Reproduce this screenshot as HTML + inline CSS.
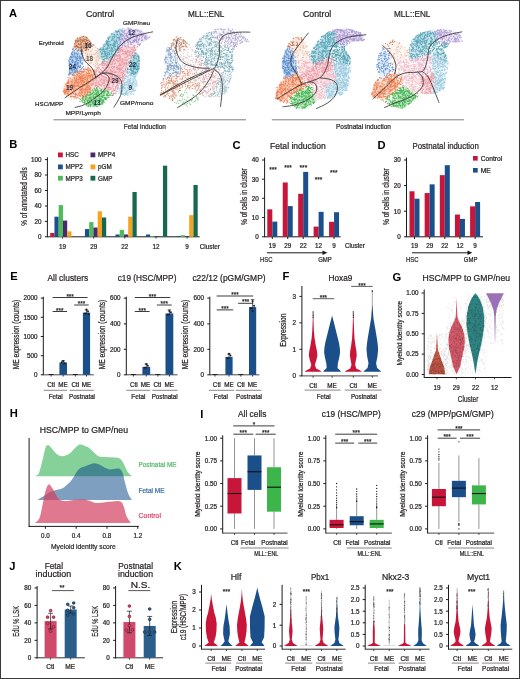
<!DOCTYPE html>
<html><head><meta charset="utf-8"><style>
html,body{margin:0;padding:0;background:#fff;}
svg{display:block;font-family:"Liberation Sans", sans-serif;will-change:transform;}
text{stroke-width:0.22px;paint-order:stroke;}
</style></head><body>
<svg width="520" height="679" viewBox="0 0 520 679">
<rect x="0" y="0" width="520" height="679" fill="#fff"/>
<text x="9" y="17" font-size="11.2" text-anchor="start" fill="#000" font-weight="bold">A</text>
<text x="9.3" y="147.6" font-size="11.2" text-anchor="start" fill="#000" font-weight="bold">B</text>
<text x="232.5" y="148.8" font-size="11.2" text-anchor="start" fill="#000" font-weight="bold">C</text>
<text x="377.5" y="148.8" font-size="11.2" text-anchor="start" fill="#000" font-weight="bold">D</text>
<text x="10.3" y="279.6" font-size="11.2" text-anchor="start" fill="#000" font-weight="bold">E</text>
<text x="282.4" y="279.6" font-size="11.2" text-anchor="start" fill="#000" font-weight="bold">F</text>
<text x="392.5" y="280.5" font-size="11.2" text-anchor="start" fill="#000" font-weight="bold">G</text>
<text x="9.7" y="417.4" font-size="11.2" text-anchor="start" fill="#000" font-weight="bold">H</text>
<text x="200.3" y="417.6" font-size="11.2" text-anchor="start" fill="#000" font-weight="bold">I</text>
<text x="9.3" y="569.6" font-size="11.2" text-anchor="start" fill="#000" font-weight="bold">J</text>
<text x="173.7" y="570" font-size="11.2" text-anchor="start" fill="#000" font-weight="bold">K</text>
<text x="86" y="17.3" font-size="9.6" text-anchor="start" fill="#231f20" stroke="#231f20" textLength="28.3" lengthAdjust="spacingAndGlyphs">Control</text>
<text x="188" y="17.3" font-size="9.6" text-anchor="start" fill="#231f20" stroke="#231f20" textLength="36.4" lengthAdjust="spacingAndGlyphs">MLL::ENL</text>
<text x="303" y="17.3" font-size="9.6" text-anchor="start" fill="#231f20" stroke="#231f20" textLength="28.3" lengthAdjust="spacingAndGlyphs">Control</text>
<text x="394" y="17.3" font-size="9.6" text-anchor="start" fill="#231f20" stroke="#231f20" textLength="36.4" lengthAdjust="spacingAndGlyphs">MLL::ENL</text>
<defs><filter id="bl" x="-50%" y="-50%" width="200%" height="200%"><feGaussianBlur stdDeviation="2.2"/></filter></defs>
<clipPath id="cp1"><path d="M62.7 93.2 L63.7 85.5 L67.5 79.7 L69.4 71.0 L68.5 60.5 L71.3 52.8 L74.2 45.0 L75.2 39.3 L81.9 35.5 L85.8 36.4 L92.5 43.2 L99.2 48.9 L105.0 43.2 L108.8 35.5 L116.5 29.7 L128.0 27.8 L139.6 29.7 L145.4 33.5 L151.0 37.4 L145.4 40.3 L135.8 48.9 L139.6 56.6 L139.6 68.2 L135.8 77.8 L137.7 85.5 L133.8 95.0 L124.2 96.0 L116.5 93.2 L106.9 98.9 L101.2 106.6 L89.6 107.6 L81.9 102.8 L74.2 98.0 L65.6 96.0Z"/></clipPath>
<g clip-path="url(#cp1)" opacity="0.38">
<circle cx="83.8" cy="43.2" r="8" fill="#bd6638" opacity="1.00" filter="url(#bl)"/>
<circle cx="79" cy="41.2" r="8" fill="#bd6638" opacity="1.00" filter="url(#bl)"/>
<circle cx="91.5" cy="58.5" r="8" fill="#e9b49a" opacity="0.35" filter="url(#bl)"/>
<circle cx="95.4" cy="54.7" r="8" fill="#e9b49a" opacity="0.35" filter="url(#bl)"/>
<circle cx="73.3" cy="66.2" r="8" fill="#5b8fd0" opacity="1.00" filter="url(#bl)"/>
<circle cx="74.2" cy="58" r="8" fill="#5b8fd0" opacity="1.00" filter="url(#bl)"/>
<circle cx="110.8" cy="45" r="8" fill="#52a5b9" opacity="1.00" filter="url(#bl)"/>
<circle cx="106" cy="53" r="8" fill="#52a5b9" opacity="1.00" filter="url(#bl)"/>
<circle cx="116.5" cy="37.4" r="8" fill="#52a5b9" opacity="1.00" filter="url(#bl)"/>
<circle cx="130" cy="33.5" r="8" fill="#a993d2" opacity="0.75" filter="url(#bl)"/>
<circle cx="141.5" cy="35.5" r="8" fill="#a993d2" opacity="0.75" filter="url(#bl)"/>
<circle cx="124.2" cy="40" r="8" fill="#a993d2" opacity="0.75" filter="url(#bl)"/>
<circle cx="108.8" cy="68" r="8" fill="#ec97a2" opacity="1.00" filter="url(#bl)"/>
<circle cx="112.7" cy="79.7" r="8" fill="#ec97a2" opacity="1.00" filter="url(#bl)"/>
<circle cx="120" cy="62" r="8" fill="#ec97a2" opacity="1.00" filter="url(#bl)"/>
<circle cx="99.2" cy="79.7" r="8" fill="#ec97a2" opacity="1.00" filter="url(#bl)"/>
<circle cx="118" cy="72" r="8" fill="#ec97a2" opacity="1.00" filter="url(#bl)"/>
<circle cx="127" cy="53" r="8" fill="#ec97a2" opacity="1.00" filter="url(#bl)"/>
<circle cx="137" cy="62" r="8" fill="#4a9fb0" opacity="1.00" filter="url(#bl)"/>
<circle cx="138" cy="71" r="8" fill="#4a9fb0" opacity="1.00" filter="url(#bl)"/>
<circle cx="129" cy="89" r="8" fill="#96c8de" opacity="0.80" filter="url(#bl)"/>
<circle cx="133" cy="80" r="8" fill="#96c8de" opacity="0.80" filter="url(#bl)"/>
<circle cx="70.4" cy="87.4" r="8" fill="#ef7a4a" opacity="1.00" filter="url(#bl)"/>
<circle cx="80" cy="79.7" r="8" fill="#ef7a4a" opacity="1.00" filter="url(#bl)"/>
<circle cx="87.7" cy="77.8" r="8" fill="#ef7a4a" opacity="1.00" filter="url(#bl)"/>
<circle cx="83.8" cy="89.3" r="8" fill="#ef7a4a" opacity="1.00" filter="url(#bl)"/>
<circle cx="91.5" cy="100.8" r="8" fill="#3db54d" opacity="1.00" filter="url(#bl)"/>
<circle cx="97.3" cy="97" r="8" fill="#3db54d" opacity="1.00" filter="url(#bl)"/>
</g>
<path d="M120.2 33.6h0M107.1 43.8h0M102.4 49.2h0M104.7 46.5h0M106.5 42.7h0M117.4 45.2h0M112.4 55.8h0M114.8 56.8h0M111.7 48.9h0M117.5 47.7h0M119.9 43.5h0M101.8 57.1h0M119.3 45.6h0M122.7 28.8h0M112.1 39.3h0M116.6 40.4h0M107.5 54.6h0M118.9 40.2h0M108.4 38.7h0M104.7 52.7h0M109.3 51.8h0M111.9 54.0h0M112.8 33.9h0M106.8 56.2h0M113.9 55.5h0M109.2 41.4h0M107.8 48.5h0M111.4 34.3h0M108.9 54.6h0M119.5 38.4h0M102.9 51.1h0M117.8 48.4h0M112.4 57.2h0M111.3 44.7h0M113.3 36.9h0M103.2 59.6h0M119.4 38.8h0M117.2 32.6h0M115.6 49.5h0M109.3 53.0h0M113.6 46.8h0M104.6 51.9h0M114.9 50.5h0M112.6 37.2h0M120.1 29.4h0M117.9 50.6h0M109.3 60.1h0M108.1 58.2h0M118.6 52.0h0M107.7 43.6h0M107.7 37.8h0M104.2 44.1h0M105.9 56.6h0M110.5 56.5h0M102.3 61.7h0M106.7 57.8h0M118.7 31.2h0M106.8 58.6h0M100.4 49.6h0M115.5 42.7h0M118.6 46.6h0M121.3 34.6h0M113.2 36.7h0M102.8 53.2h0M102.0 54.4h0M111.9 54.7h0M107.7 42.7h0M115.9 50.8h0M119.8 39.7h0M118.0 34.8h0M115.3 52.9h0M117.3 48.7h0M114.3 46.1h0M116.0 36.2h0M117.0 37.3h0M120.0 36.8h0M108.6 52.5h0M108.1 56.0h0M112.5 45.0h0M114.6 37.7h0M105.9 44.3h0M106.5 58.1h0M105.5 45.0h0M115.2 49.6h0M111.7 53.0h0M119.6 38.0h0M116.1 31.9h0M100.9 52.4h0M117.2 43.3h0M113.8 47.5h0M103.8 44.9h0M110.2 57.9h0M101.6 54.2h0M109.9 42.1h0M103.6 48.3h0M102.6 62.9h0M115.6 46.3h0M106.3 53.2h0M106.3 48.4h0M100.3 51.5h0M100.9 48.6h0M107.4 49.9h0M118.8 50.3h0M104.1 51.0h0M113.4 56.0h0M103.3 49.4h0M114.0 36.6h0M108.0 45.4h0M115.8 30.7h0M121.6 35.0h0M117.9 50.1h0M106.3 61.6h0M111.3 53.2h0M119.0 44.9h0M116.6 40.6h0M105.7 53.7h0M115.2 54.8h0M121.6 33.9h0M114.2 45.6h0M118.9 37.1h0M115.1 42.8h0M109.7 54.1h0M108.9 37.0h0M108.2 41.3h0M112.2 54.3h0M101.9 50.0h0M114.2 43.1h0M103.8 46.2h0M118.1 31.7h0M118.9 37.0h0M111.9 47.6h0M117.5 34.4h0M107.0 42.7h0M102.3 53.3h0M108.2 41.1h0M104.9 52.9h0M115.5 52.3h0M121.1 31.0h0M107.6 52.0h0M103.0 49.7h0M101.2 49.6h0M108.5 39.2h0M103.4 49.4h0M109.9 37.1h0M106.1 42.1h0M113.4 43.9h0M106.6 56.0h0M115.5 52.5h0M114.7 46.5h0M111.4 33.6h0M112.9 50.8h0M120.4 35.6h0M114.1 41.9h0M114.1 45.5h0M115.6 51.4h0M107.6 41.4h0M113.1 39.8h0M122.2 34.8h0M115.3 41.8h0M112.6 48.7h0M109.1 48.3h0M110.3 45.2h0M106.0 41.4h0M101.5 56.2h0M106.0 53.9h0M106.0 41.5h0M104.5 54.0h0M117.8 52.4h0M116.4 41.1h0M118.5 37.9h0M100.5 48.5h0M106.0 51.3h0M114.9 42.9h0M113.7 54.4h0M112.2 40.1h0M99.1 49.1h0M108.7 46.3h0M116.0 40.0h0M114.9 48.6h0M110.0 55.0h0M112.3 51.2h0M109.0 44.7h0M116.0 35.5h0M103.2 61.0h0M107.7 56.3h0M107.1 42.1h0M104.2 60.1h0M117.2 41.9h0M113.3 50.3h0M116.6 49.8h0M108.9 44.9h0M111.3 48.0h0M113.7 45.2h0M114.6 53.9h0M99.4 49.7h0M110.5 44.4h0M106.4 55.7h0M104.7 50.8h0M104.9 55.7h0M116.6 31.5h0M119.6 32.1h0M103.0 51.3h0M102.3 56.7h0M114.9 55.6h0M117.6 31.7h0M104.2 59.2h0M118.5 30.2h0M119.8 37.6h0M106.6 42.7h0M105.5 49.2h0M110.6 45.1h0M103.6 56.2h0M114.6 34.5h0M120.5 34.9h0M117.0 34.5h0M111.6 56.8h0M109.5 57.4h0M106.2 58.6h0M119.6 34.0h0M117.1 38.7h0M100.9 49.7h0M113.8 46.6h0M111.0 51.4h0M114.0 44.2h0M117.6 42.0h0M119.4 31.8h0M116.9 37.5h0M103.9 49.4h0M105.1 54.1h0M114.9 41.4h0M108.5 39.4h0M117.2 34.0h0M106.4 43.4h0M106.7 48.0h0M112.4 57.9h0M113.0 52.0h0M105.8 51.8h0M107.6 47.6h0M114.6 46.2h0M120.3 41.9h0M114.1 44.6h0M109.2 50.5h0M112.6 49.3h0M115.0 45.4h0M111.9 56.5h0M107.2 58.2h0M106.9 55.4h0M107.3 46.0h0M109.0 38.1h0M112.5 45.4h0M108.8 52.4h0M103.0 47.6h0M109.1 54.0h0M111.0 49.4h0M109.0 45.1h0M107.0 58.0h0M117.4 46.8h0M110.1 50.5h0M114.4 35.7h0M104.3 51.8h0M114.7 48.3h0M113.1 45.2h0M115.2 43.9h0M101.3 53.0h0M105.4 54.8h0M106.6 49.2h0M112.9 38.4h0M104.2 56.7h0M116.8 43.1h0M109.2 47.2h0M107.6 45.3h0M115.7 52.8h0M100.8 48.2h0M106.8 40.4h0M117.2 48.0h0M117.3 46.9h0M113.1 34.5h0M121.9 30.5h0M114.3 40.0h0M111.8 50.7h0M111.2 37.0h0M111.0 47.0h0M104.7 61.3h0M107.3 50.0h0M105.1 58.5h0M114.5 41.3h0M106.8 55.5h0M111.8 56.9h0M111.4 40.3h0M111.1 59.3h0M102.8 59.1h0M107.3 44.6h0M115.3 43.5h0M117.7 37.5h0M108.4 43.6h0M104.1 50.9h0M103.7 57.0h0M111.5 56.8h0M118.9 48.2h0M107.6 53.5h0" stroke="#52a5b9" stroke-width="1.2" stroke-linecap="round" opacity="0.95"/>
<path d="M80.9 82.1h0M66.2 90.0h0M80.8 86.8h0M85.8 85.0h0M76.2 98.4h0M75.9 77.0h0M66.2 85.5h0M84.8 93.0h0M73.6 93.7h0M73.8 85.0h0M90.2 78.7h0M70.1 85.0h0M79.0 93.7h0M72.4 91.7h0M67.1 83.2h0M90.4 70.3h0M72.5 92.6h0M80.2 84.0h0M89.4 88.6h0M84.6 91.3h0M78.0 83.3h0M76.3 83.1h0M68.8 87.7h0M68.8 91.4h0M76.9 85.7h0M83.3 74.6h0M82.8 77.7h0M92.3 76.9h0M85.1 94.1h0M66.1 89.1h0M71.5 84.4h0M85.8 77.3h0M87.6 89.4h0M89.9 68.9h0M83.6 90.1h0M78.0 86.2h0M79.7 77.8h0M68.0 86.2h0M93.3 90.9h0M95.1 74.2h0M88.7 73.8h0M84.6 91.8h0M65.6 91.5h0M74.3 79.9h0M85.4 88.8h0M70.6 89.6h0M73.0 93.4h0M79.0 71.0h0M82.7 87.5h0M73.6 74.9h0M92.6 79.7h0M87.2 84.2h0M70.2 87.0h0M72.4 92.4h0M75.8 85.4h0M87.5 69.7h0M65.0 92.2h0M85.4 89.5h0M84.0 96.4h0M79.8 71.9h0M72.3 82.8h0M79.1 76.5h0M92.8 77.5h0M83.7 81.0h0M80.2 99.0h0M88.8 87.7h0M75.6 89.2h0M64.2 92.5h0M85.5 88.9h0M70.3 96.8h0M90.7 76.4h0M82.8 72.2h0M89.2 85.2h0M80.6 96.3h0M93.3 70.7h0M82.5 88.9h0M86.0 84.8h0M87.1 86.7h0M88.9 75.5h0M88.4 83.3h0M81.8 89.6h0M88.0 85.6h0M77.4 97.3h0M71.9 88.9h0M86.0 83.8h0M78.5 77.0h0M78.4 86.1h0M89.4 73.5h0M74.2 82.6h0M68.9 87.8h0M88.9 82.3h0M74.7 83.5h0M93.9 71.4h0M64.1 91.7h0M79.6 92.9h0M76.2 81.4h0M90.8 88.6h0M90.8 70.1h0M75.1 82.2h0M81.1 79.7h0M89.2 81.9h0M87.2 88.1h0M76.1 80.4h0M76.1 93.9h0M82.1 93.9h0M94.4 69.8h0M74.9 93.0h0M77.6 83.1h0M86.7 78.7h0M79.0 98.2h0M79.3 73.6h0M83.5 71.8h0M78.8 79.4h0M66.7 87.8h0M84.6 85.4h0M89.8 73.2h0M81.3 83.7h0M74.2 87.5h0M87.4 90.8h0M83.5 78.6h0M86.3 69.0h0M74.9 75.4h0M65.6 93.8h0M83.4 84.8h0M88.2 81.2h0M84.0 81.8h0M91.8 72.1h0M86.0 95.6h0M78.0 72.7h0M80.8 92.8h0M68.1 95.1h0M70.3 96.9h0M90.8 75.6h0M84.6 75.6h0M77.5 74.7h0M79.9 71.0h0M74.5 78.3h0M71.0 94.3h0M70.1 93.5h0M92.6 80.3h0M76.1 79.5h0M83.9 77.0h0M80.7 76.7h0M82.2 80.9h0M92.4 74.8h0M79.9 77.6h0M77.4 80.1h0M79.2 91.8h0M88.7 89.1h0M68.5 91.7h0M85.7 69.3h0M73.5 96.7h0M86.5 83.1h0M73.8 73.6h0M80.4 80.3h0M86.4 69.4h0M78.0 95.9h0M67.7 82.7h0M72.2 86.0h0M72.1 96.0h0M84.7 78.9h0M75.0 83.8h0M64.9 89.8h0M79.9 87.4h0M86.6 86.0h0M73.6 86.7h0M67.9 92.6h0M90.5 93.9h0M88.4 71.1h0M93.5 70.9h0M74.5 75.2h0M89.8 75.5h0M73.9 84.5h0M82.3 90.0h0M82.8 81.9h0M67.6 93.3h0M88.3 85.5h0M76.2 97.9h0M76.5 78.0h0M71.4 83.0h0M88.3 70.5h0M80.5 74.0h0M76.8 82.4h0M83.3 80.1h0M71.3 81.6h0M83.1 88.9h0M77.0 79.8h0M89.9 91.7h0M82.9 80.7h0M81.9 93.3h0M67.0 91.7h0M74.6 77.4h0M89.2 70.2h0M85.4 88.1h0M88.0 67.2h0M80.7 78.7h0M82.9 75.1h0M92.1 79.0h0M81.8 75.8h0M75.8 85.9h0M80.1 78.4h0M90.9 90.7h0M87.9 78.1h0M92.8 76.3h0M89.2 73.0h0M82.2 78.3h0M68.0 77.7h0M90.6 81.2h0M83.3 85.7h0M82.1 84.3h0M76.9 76.1h0M87.9 91.4h0M84.6 75.7h0M76.3 83.1h0M81.4 91.2h0M87.2 87.7h0M67.2 90.4h0M67.3 85.7h0M80.0 76.5h0M87.0 73.3h0M87.0 76.4h0M87.9 73.5h0M72.0 79.9h0M86.9 83.4h0M81.2 74.3h0M93.5 71.5h0M80.0 79.2h0M86.8 85.8h0M88.5 70.3h0M83.3 72.6h0M82.5 71.7h0M83.5 81.8h0M76.6 74.2h0M74.4 75.1h0M64.7 91.7h0M68.3 86.4h0M89.4 88.3h0M88.9 89.7h0M81.5 86.3h0M86.6 72.2h0M89.4 76.5h0M82.9 84.4h0M67.0 90.8h0M92.8 77.9h0M80.7 93.0h0M88.3 68.0h0M73.9 87.3h0M80.0 95.4h0M91.3 74.8h0M69.9 89.4h0M75.5 94.9h0M68.5 83.3h0M75.2 80.1h0M78.1 85.0h0M84.9 75.2h0M70.2 93.6h0M82.6 76.1h0M78.6 84.8h0M76.7 86.2h0M84.0 69.0h0M82.8 77.8h0M81.3 94.9h0M75.9 81.4h0M87.6 95.2h0M91.9 85.3h0M66.5 96.1h0M72.7 79.8h0M68.2 80.5h0M87.5 93.7h0M90.8 70.9h0M84.0 71.4h0M79.4 83.1h0M86.3 89.2h0M83.3 97.2h0M77.2 79.3h0M68.7 81.7h0M82.5 95.6h0M65.8 83.9h0M86.3 80.5h0M83.1 95.3h0M87.2 79.3h0M79.4 82.8h0M89.4 75.9h0M87.0 75.0h0M92.1 75.5h0M74.2 90.6h0M87.7 76.9h0M80.8 73.9h0M71.9 96.5h0M71.6 96.7h0M70.0 77.8h0M72.6 82.6h0M86.5 74.8h0M83.7 71.6h0M93.7 73.7h0M81.3 76.7h0M68.7 79.6h0M82.0 86.0h0M77.6 83.2h0M83.7 82.7h0M85.1 77.6h0M80.5 89.9h0M77.3 94.8h0M83.9 74.8h0M79.3 95.7h0M81.8 92.4h0M87.6 84.1h0M88.1 76.8h0M74.0 89.2h0M91.9 83.9h0M77.9 86.6h0M73.3 96.9h0M75.0 94.6h0M76.4 78.5h0M89.9 77.6h0M70.3 78.7h0M76.0 88.5h0M74.4 96.7h0M73.8 90.1h0M68.9 75.4h0M82.8 79.3h0M78.1 73.3h0M86.8 90.6h0M88.1 68.7h0M81.3 80.4h0M83.9 85.0h0M86.3 69.0h0M80.8 77.9h0M91.0 84.6h0M82.8 80.1h0M68.6 90.3h0M84.9 89.7h0M87.4 79.2h0M72.0 84.7h0M65.1 90.6h0M91.0 74.0h0M76.0 76.9h0M89.1 92.3h0M82.4 99.8h0M91.0 70.2h0M84.4 82.5h0M82.9 81.0h0M88.6 72.0h0M79.6 89.1h0M79.3 73.2h0M75.2 91.3h0M88.0 95.6h0M67.4 95.0h0M68.4 87.8h0M82.0 91.9h0M64.6 93.4h0M90.6 87.4h0M86.4 96.2h0M67.8 95.1h0M74.9 97.8h0M85.8 93.0h0M81.2 86.0h0M75.9 81.9h0M81.0 82.6h0M87.9 86.9h0M85.1 89.0h0M64.3 90.4h0M71.2 92.9h0M78.3 78.4h0M75.7 95.7h0M80.5 71.3h0M88.8 74.1h0M86.8 81.3h0M72.0 81.4h0M79.7 92.6h0M67.9 82.0h0M85.4 79.6h0M74.0 96.9h0M74.5 83.8h0M79.1 86.4h0M88.3 91.9h0M82.2 77.0h0M74.8 85.7h0M83.0 84.0h0M83.0 97.2h0M79.0 79.7h0M81.7 73.5h0M77.5 89.5h0M68.9 82.9h0M81.2 87.3h0M70.4 96.0h0M90.5 75.8h0M80.6 81.1h0M70.4 81.0h0M66.1 92.5h0M87.0 69.7h0M68.2 85.8h0M68.3 86.6h0M75.6 96.4h0M94.9 71.2h0M73.5 85.7h0M78.0 83.8h0M77.7 82.0h0M89.4 86.5h0M84.9 79.8h0M70.9 96.9h0M76.8 94.7h0M73.8 81.0h0M73.8 77.8h0M86.6 87.5h0M94.4 74.4h0M86.7 73.2h0M82.9 86.3h0M68.2 93.6h0M79.9 75.5h0M78.6 81.2h0M83.2 72.5h0M83.9 85.4h0M80.5 86.2h0M93.2 77.7h0M78.0 89.4h0M70.0 86.5h0M64.8 94.2h0M80.3 90.5h0M64.1 88.8h0M81.1 79.9h0M82.7 75.5h0M68.8 94.4h0M90.1 89.6h0M88.2 86.9h0M85.8 92.3h0M81.4 72.1h0M72.5 84.5h0M89.7 83.0h0M77.2 75.7h0M87.8 80.1h0M79.2 77.0h0M84.8 81.8h0M71.4 90.4h0M73.6 88.6h0M79.5 75.7h0M67.4 83.5h0M66.1 91.7h0M71.5 96.6h0M73.3 85.5h0M84.7 85.7h0M82.7 97.4h0M77.1 72.6h0M87.9 81.8h0M91.5 79.4h0M84.8 77.4h0M83.0 71.2h0M69.1 90.9h0M81.9 78.3h0M79.8 87.1h0M81.4 82.0h0M88.3 75.3h0M77.9 74.3h0M87.4 92.6h0M94.9 76.8h0M86.6 82.8h0M68.7 82.2h0M65.6 91.3h0M83.6 69.4h0M85.4 91.0h0M78.2 93.7h0M81.3 80.4h0M92.1 77.5h0M84.0 84.8h0M69.6 87.2h0M92.6 77.9h0M87.5 69.8h0M73.1 85.4h0M67.1 93.7h0M68.4 95.0h0M84.1 98.0h0M83.4 86.1h0M82.9 92.3h0M63.4 91.2h0M68.2 81.2h0M80.7 80.3h0M81.6 88.6h0M69.6 87.5h0M67.6 86.8h0M88.9 90.0h0M86.8 75.2h0M83.0 98.6h0M82.1 78.4h0M90.7 80.0h0M81.6 68.7h0M78.8 82.1h0M72.2 74.5h0M80.8 89.0h0M84.6 71.2h0M68.7 86.9h0M69.8 85.8h0M81.8 90.4h0M84.9 89.0h0M84.4 94.8h0M75.4 93.3h0M74.5 86.7h0M73.7 86.2h0" stroke="#ef7a4a" stroke-width="1.2" stroke-linecap="round" opacity="0.95"/>
<path d="M104.6 80.8h0M120.1 69.8h0M126.7 72.2h0M108.8 82.2h0M129.2 47.5h0M100.3 80.4h0M103.8 87.0h0M123.1 59.1h0M93.9 78.8h0M126.2 47.1h0M100.0 74.6h0M110.9 94.8h0M101.5 86.5h0M108.4 69.1h0M113.4 60.6h0M105.1 79.5h0M118.6 78.4h0M126.6 54.1h0M131.1 56.7h0M98.7 72.2h0M108.8 65.8h0M102.4 66.0h0M106.1 68.6h0M113.7 60.0h0M107.3 61.6h0M105.5 78.8h0M114.9 80.2h0M120.4 68.9h0M124.9 62.7h0M119.2 83.0h0M94.7 85.0h0M116.5 81.5h0M120.5 50.0h0M104.1 85.2h0M128.5 46.3h0M107.2 61.2h0M122.4 78.5h0M122.4 67.5h0M112.1 64.6h0M132.5 52.2h0M103.3 71.9h0M134.3 46.1h0M115.2 92.8h0M115.3 89.7h0M117.7 78.7h0M119.5 82.2h0M115.9 90.2h0M109.6 89.3h0M110.1 73.7h0M122.1 78.1h0M114.4 90.5h0M104.2 70.3h0M103.3 65.3h0M129.0 61.6h0M121.4 69.4h0M119.8 58.8h0M118.2 81.2h0M125.2 51.1h0M95.7 78.8h0M109.5 81.0h0M104.5 82.2h0M123.7 77.4h0M108.2 87.2h0M107.4 87.9h0M109.2 72.8h0M108.5 89.6h0M128.3 63.8h0M127.2 60.7h0M106.4 65.7h0M110.1 74.6h0M121.4 82.7h0M119.5 55.5h0M124.9 57.0h0M131.7 57.4h0M115.6 88.0h0M122.0 62.5h0M119.7 78.8h0M106.2 66.9h0M131.1 48.1h0M115.1 77.7h0M108.7 89.4h0M111.3 80.1h0M104.1 77.2h0M107.2 87.3h0M124.1 64.8h0M122.3 74.4h0M96.7 81.0h0M102.9 71.6h0M134.5 48.2h0M121.3 59.7h0M105.4 63.7h0M116.1 72.2h0M118.4 48.7h0M114.4 75.1h0M117.2 69.4h0M120.4 55.8h0M98.0 68.8h0M120.1 69.2h0M124.1 54.5h0M106.0 84.6h0M127.6 56.8h0M111.5 81.1h0M123.8 63.2h0M117.5 61.8h0M122.3 53.7h0M101.9 76.0h0M128.0 65.5h0M118.4 85.6h0M114.4 89.9h0M115.8 59.6h0M123.2 76.4h0M110.5 87.8h0M105.9 73.4h0M128.5 62.5h0M118.5 56.6h0M111.3 79.3h0M130.1 54.0h0M101.8 82.4h0M93.5 81.8h0M119.2 68.2h0M111.9 73.6h0M110.7 64.2h0M105.4 71.2h0M120.0 60.7h0M112.0 66.0h0M119.2 89.0h0M112.0 62.5h0M125.8 70.3h0M119.4 70.3h0M135.8 49.2h0M103.0 76.8h0M108.6 77.2h0M124.4 54.5h0M111.8 64.6h0M103.0 82.6h0M103.3 83.0h0M118.1 87.2h0M113.5 93.9h0M114.9 57.1h0M116.6 54.9h0M119.0 73.7h0M101.0 69.9h0M92.4 84.1h0M98.8 82.0h0M112.4 61.0h0M114.2 72.6h0M115.2 93.0h0M116.6 55.3h0M110.7 70.9h0M127.8 51.0h0M110.6 76.8h0M120.2 75.9h0M115.8 63.5h0M103.8 77.9h0M122.4 64.3h0M99.1 77.0h0M104.6 72.3h0M97.4 67.9h0M110.6 73.2h0M93.3 81.1h0M121.1 63.4h0M125.8 68.9h0M115.8 72.5h0M102.8 80.6h0M111.2 74.7h0M126.0 64.7h0M109.8 67.5h0M94.2 80.1h0M99.4 83.9h0M101.4 63.8h0M109.3 80.7h0M111.0 88.5h0M98.1 65.3h0M107.3 62.7h0M101.6 85.1h0M120.5 56.8h0M114.6 55.1h0M113.5 84.3h0M114.2 57.6h0M101.4 74.9h0M103.4 63.5h0M101.4 70.6h0M96.0 80.0h0M123.8 70.9h0M113.1 89.2h0M105.0 64.5h0M118.5 61.0h0M101.1 79.0h0M132.2 49.5h0M113.1 70.8h0M129.2 55.5h0M98.8 66.0h0M117.9 67.5h0M120.5 70.3h0M124.1 65.6h0M115.0 81.9h0M105.7 67.5h0M101.0 85.7h0M128.7 47.0h0M125.2 60.6h0M115.5 89.9h0M119.7 49.8h0M115.0 76.9h0M127.0 49.8h0M95.4 72.9h0M110.9 89.2h0M105.0 79.3h0M107.0 84.6h0M100.2 88.1h0M128.2 50.5h0M110.7 81.3h0M125.3 70.8h0M113.1 83.4h0M135.3 49.7h0M110.9 72.5h0M117.2 91.5h0M123.3 66.9h0M125.3 52.4h0M106.3 70.0h0M101.5 79.3h0M126.1 57.2h0M113.1 61.8h0M101.0 79.7h0M110.5 76.6h0M122.6 50.0h0M114.8 59.3h0M106.7 82.0h0M116.4 86.7h0M111.4 95.2h0M122.2 60.2h0M117.8 75.4h0M103.4 81.0h0M114.5 58.1h0M120.1 65.8h0M112.4 77.1h0M98.9 81.5h0M123.0 59.3h0M118.6 82.0h0M127.3 60.1h0M119.4 64.7h0M114.2 66.9h0M122.8 68.5h0M102.9 88.7h0M125.6 67.0h0M107.8 70.5h0M108.4 85.6h0M131.8 44.4h0M130.1 52.3h0M132.8 55.2h0M120.0 61.5h0M108.5 72.7h0M112.5 73.5h0M119.5 70.0h0M108.5 69.1h0M97.9 75.2h0M118.0 69.7h0M111.8 83.0h0M106.9 78.8h0M113.6 88.6h0M109.1 73.0h0M118.2 50.1h0M131.9 57.0h0M114.3 64.2h0M108.6 83.0h0M120.6 65.7h0M112.6 71.3h0M115.6 86.7h0M136.9 46.9h0M116.9 60.7h0M116.1 93.2h0M104.1 86.7h0M111.2 69.9h0M120.8 73.0h0M112.9 84.0h0M106.7 72.6h0M114.9 61.6h0M112.6 71.5h0M119.6 55.8h0M94.5 77.6h0M123.2 61.0h0M132.0 52.1h0M121.8 80.6h0M93.3 83.3h0M126.7 53.6h0M129.0 51.1h0M120.0 58.8h0M102.5 76.8h0M94.5 70.5h0M102.5 83.8h0M119.7 54.6h0M119.4 55.6h0M120.7 85.8h0M125.9 63.3h0M117.2 53.6h0M96.8 74.3h0M117.4 85.8h0M126.2 64.7h0M122.0 64.1h0M128.8 58.4h0M106.8 64.9h0M118.8 83.2h0M94.1 87.8h0M92.4 84.9h0M94.1 87.9h0M109.1 78.2h0M97.8 85.6h0M109.5 72.1h0M108.0 89.3h0M113.0 66.5h0M122.1 75.2h0M113.2 59.8h0M114.1 60.5h0M96.5 69.3h0M99.5 67.9h0M124.9 71.9h0M124.1 63.2h0M130.2 51.6h0M93.4 75.2h0M119.9 84.0h0M121.6 72.6h0M106.4 90.5h0M114.0 80.3h0M124.0 51.8h0M118.6 78.6h0M108.4 80.8h0M117.6 58.4h0M132.5 53.0h0M117.5 82.8h0M120.3 65.0h0M115.9 54.4h0M117.6 60.7h0M116.1 56.5h0M107.0 71.5h0M100.0 80.4h0M114.0 74.6h0M123.2 72.5h0M113.4 67.4h0M134.7 52.3h0M117.8 83.7h0M103.8 68.1h0M119.5 69.0h0M120.0 52.0h0M134.3 47.4h0M118.4 65.3h0M102.1 65.4h0M115.8 56.0h0M113.1 94.4h0M99.7 73.0h0M112.1 79.9h0M99.7 88.3h0M117.0 59.0h0M121.7 72.0h0M111.7 70.8h0M97.3 76.6h0M107.6 84.6h0M132.9 47.7h0M123.5 71.7h0M121.4 54.5h0M116.6 65.9h0M111.2 92.2h0M125.7 59.5h0M122.0 77.4h0M102.3 84.2h0M119.7 53.0h0M107.0 85.2h0M112.3 68.8h0M111.7 71.7h0M126.3 62.4h0M121.2 50.0h0M103.2 62.7h0M118.9 58.0h0M127.3 57.0h0M137.5 46.7h0M101.9 64.0h0M117.5 84.5h0M109.0 74.9h0M125.7 68.8h0M120.0 48.6h0M108.4 62.7h0M127.0 60.3h0M116.0 79.4h0M121.1 68.3h0M113.8 71.8h0M108.7 80.0h0M111.0 60.9h0M122.1 51.0h0M127.0 70.0h0M95.7 82.7h0M127.2 51.1h0M109.0 90.9h0M107.3 73.9h0M109.2 80.1h0M108.1 88.4h0M107.4 87.0h0M106.7 80.4h0M110.3 89.5h0M104.8 77.3h0M119.2 76.6h0M125.8 53.7h0M103.5 82.8h0M132.6 52.0h0M112.0 75.9h0M119.2 62.9h0M107.1 90.4h0M125.0 69.0h0M121.3 82.9h0M117.6 56.8h0M106.3 67.2h0M103.9 61.7h0M127.1 63.9h0M121.9 49.5h0M122.6 79.8h0M108.2 63.0h0M121.8 61.3h0M118.5 54.8h0M110.3 70.6h0M114.2 80.0h0M120.4 51.2h0M111.4 67.4h0M110.7 81.4h0M114.3 66.2h0M121.9 58.5h0M135.0 47.7h0M128.9 54.7h0M120.3 58.2h0M119.5 63.2h0M106.6 81.1h0M102.8 67.7h0M104.8 80.2h0M122.2 58.4h0M133.7 50.6h0M122.4 81.4h0M106.6 67.9h0M122.9 51.4h0M105.1 73.8h0M120.6 77.6h0M114.7 67.4h0M132.4 53.6h0M100.4 72.3h0M123.5 73.4h0M96.1 83.6h0M105.1 70.0h0M131.3 49.9h0M112.2 82.1h0M112.6 75.6h0M123.2 50.5h0M116.1 72.4h0M117.8 69.3h0M118.0 69.8h0M99.7 85.0h0M129.9 52.1h0M126.7 60.3h0M129.8 51.5h0M109.4 61.1h0M110.7 87.9h0M118.8 51.3h0M113.8 69.7h0M93.5 84.2h0M117.6 69.5h0M110.5 79.2h0M100.5 72.8h0M99.5 77.8h0M126.2 52.8h0M118.1 88.0h0M114.2 75.8h0M112.3 78.7h0M125.7 51.3h0M114.6 90.4h0M117.1 55.4h0M112.3 62.9h0M119.7 57.7h0M111.2 76.9h0M134.4 45.3h0M122.3 70.7h0M95.9 75.8h0M126.8 52.1h0M107.5 71.3h0M107.7 67.5h0M117.1 67.3h0M116.1 67.6h0M109.6 87.3h0M119.5 75.7h0M99.2 84.2h0M110.3 61.3h0M125.2 53.7h0M112.7 61.5h0M116.8 77.5h0M117.1 67.9h0M103.7 73.3h0M104.4 63.1h0M128.5 50.8h0M125.5 57.6h0M111.1 63.0h0M112.2 85.8h0M120.2 49.6h0M110.7 58.4h0M119.7 67.8h0M100.8 84.1h0M99.3 71.7h0M104.0 80.3h0M106.6 71.3h0M109.2 78.8h0M95.8 85.5h0M134.6 50.8h0M98.3 67.4h0M105.9 71.1h0M99.6 78.1h0M120.1 60.6h0M106.4 77.6h0M109.0 84.4h0M133.2 50.6h0M130.9 55.7h0M102.0 64.6h0M124.6 75.7h0M97.7 86.4h0M92.1 83.8h0M133.5 52.2h0M115.6 71.9h0M98.3 84.5h0M131.1 58.1h0M124.6 74.4h0M107.8 64.2h0M93.8 77.8h0M104.6 83.0h0M100.2 69.2h0M126.1 65.4h0M114.6 60.1h0M113.7 74.3h0M131.4 60.6h0M121.1 72.4h0M128.7 64.1h0M103.5 72.3h0M105.4 70.1h0M115.2 54.9h0M111.1 92.0h0M129.0 62.2h0M103.3 72.2h0M104.6 65.1h0M110.8 77.4h0M111.0 88.9h0M118.2 60.7h0M133.7 49.3h0M101.1 85.3h0M113.4 94.8h0M97.2 85.7h0M117.6 66.8h0M117.4 78.7h0M119.8 52.6h0M105.1 63.9h0M120.0 78.5h0M119.9 81.4h0M122.9 75.5h0M114.5 63.3h0M126.8 53.5h0M121.3 65.5h0M104.5 80.2h0M96.7 70.0h0M129.9 53.0h0M97.1 87.6h0M121.3 81.9h0M111.6 79.4h0M121.4 82.8h0M96.4 78.6h0M113.2 58.3h0M125.9 54.2h0M107.7 81.8h0M116.8 85.6h0M96.7 76.5h0M114.9 75.3h0M102.3 76.1h0M108.8 62.8h0M127.5 52.3h0M120.9 77.4h0M114.4 93.1h0M104.5 82.0h0M101.7 75.9h0M119.0 49.4h0M122.9 76.7h0M128.0 69.1h0M111.8 78.3h0M118.0 67.3h0M119.6 60.4h0M119.4 71.6h0M124.4 51.6h0M109.8 87.1h0M105.9 77.3h0M126.8 63.4h0M109.2 77.7h0M125.4 69.6h0M107.4 84.5h0M135.1 53.6h0M101.5 63.2h0M118.4 78.7h0M94.0 72.2h0M113.3 95.1h0M96.0 72.2h0M131.0 58.6h0M126.2 66.9h0M108.7 87.4h0M113.3 86.6h0M101.8 78.8h0M119.8 52.8h0M122.2 74.2h0M100.4 73.9h0M123.3 76.7h0M96.1 85.8h0M123.6 53.8h0M106.8 72.7h0M107.0 80.6h0M95.7 70.4h0M105.1 63.7h0M109.0 67.0h0M131.1 47.7h0M119.1 83.1h0M103.8 85.4h0M131.4 56.9h0M118.5 68.6h0M111.3 73.1h0M99.7 64.5h0M119.4 65.2h0M121.3 60.0h0M128.2 62.0h0M118.6 65.6h0M123.8 65.8h0M116.0 81.5h0M122.3 76.4h0M134.3 55.0h0M134.1 46.4h0M124.4 59.8h0M113.1 82.4h0M111.5 66.8h0M125.0 74.3h0M113.7 90.7h0M115.6 87.8h0M118.7 82.6h0M110.2 82.5h0M120.6 64.5h0M95.7 72.9h0M129.9 55.0h0M113.5 59.7h0M113.3 80.7h0M98.3 69.9h0M116.4 60.0h0M124.7 63.7h0M113.3 93.3h0M97.8 82.5h0M131.2 57.5h0M104.7 85.5h0M112.4 71.8h0M106.2 70.7h0M98.7 87.0h0M108.8 85.8h0M126.3 76.0h0M119.4 58.9h0M127.2 56.0h0M101.1 89.0h0M130.8 51.5h0M111.7 91.0h0M115.8 52.0h0M112.7 90.9h0M95.1 86.7h0M115.2 63.0h0M111.8 76.3h0M100.2 81.2h0M122.2 60.2h0M119.2 80.2h0M132.2 47.8h0M112.9 63.3h0M126.9 59.6h0M118.5 55.3h0M126.3 48.1h0M99.6 71.3h0M122.6 61.1h0M133.1 47.9h0M96.9 85.0h0M122.9 62.0h0M124.3 80.2h0M131.8 54.1h0M123.2 49.1h0M110.4 70.2h0M104.5 89.4h0M127.4 54.8h0M109.0 75.5h0M110.0 69.0h0M114.6 81.2h0M118.2 68.6h0M97.9 77.7h0M109.1 72.0h0M98.1 83.4h0M112.4 75.9h0M112.7 80.1h0M135.7 49.4h0M127.7 51.8h0M116.0 71.0h0M101.7 90.3h0M110.2 89.3h0M126.1 67.4h0M120.8 48.5h0M122.6 61.2h0M118.1 72.2h0M112.3 80.3h0M111.8 73.7h0M102.8 75.7h0M126.5 62.2h0M103.5 62.2h0M107.6 65.4h0M112.6 86.5h0M120.7 67.8h0M125.0 78.1h0M114.8 72.0h0M131.0 57.0h0M97.7 68.4h0M108.5 59.3h0M135.7 52.8h0M127.3 55.8h0M116.9 88.0h0M118.2 55.1h0M115.2 77.0h0M96.1 82.3h0M120.9 51.1h0M95.7 84.9h0M95.8 82.6h0M121.9 72.9h0M98.8 86.6h0M106.0 64.0h0M109.4 84.1h0M101.8 70.6h0M112.0 87.9h0M109.9 81.4h0M120.1 49.2h0M125.8 53.9h0M123.4 81.0h0M135.4 50.3h0M116.0 81.2h0M119.1 50.5h0M105.2 77.3h0M129.8 54.4h0M131.6 49.4h0M107.0 80.0h0M137.6 46.5h0M113.1 72.0h0M92.6 83.0h0M106.5 89.1h0M105.4 85.8h0M116.7 75.9h0M102.9 79.4h0M101.6 74.2h0M99.5 73.0h0M123.7 63.9h0M99.6 73.0h0M98.4 76.8h0M115.4 74.0h0M123.0 80.8h0M96.7 71.3h0M116.8 80.2h0M112.9 91.7h0M118.8 80.7h0M102.0 71.5h0M108.0 64.8h0M95.0 82.7h0M116.8 85.4h0M95.3 78.6h0M135.1 45.2h0M119.6 65.5h0M112.3 68.5h0M108.6 89.0h0M105.0 82.8h0M113.1 58.9h0M102.7 63.8h0M92.3 77.7h0M104.0 83.5h0M115.0 81.3h0M115.9 90.2h0M128.9 52.5h0M117.6 74.4h0M95.3 85.9h0M115.4 88.3h0M115.9 76.6h0M127.9 46.7h0" stroke="#ec97a2" stroke-width="1.2" stroke-linecap="round" opacity="0.95"/>
<path d="M76.0 41.9h0M83.8 36.5h0M83.8 39.2h0M89.4 41.3h0M86.3 44.1h0M74.9 47.0h0M75.7 46.0h0M75.3 41.8h0M80.8 37.7h0M82.9 37.0h0M90.6 42.6h0M77.4 41.5h0M81.1 42.4h0M80.5 41.1h0M83.4 39.0h0M78.4 40.2h0M90.3 44.6h0M87.3 38.1h0M78.0 46.6h0M84.8 46.1h0M77.3 38.6h0M78.8 44.6h0M86.8 40.8h0M81.4 47.0h0M87.4 44.6h0M82.9 41.6h0M78.6 41.5h0M76.4 45.7h0M81.9 39.5h0M77.7 47.0h0M83.3 36.7h0M78.5 43.4h0M76.2 40.4h0M86.6 49.2h0M89.2 46.6h0M91.7 45.9h0M90.7 42.6h0M85.8 43.2h0M87.1 48.0h0M76.2 45.7h0M82.0 46.2h0M76.1 46.2h0M79.0 40.3h0M85.2 41.5h0M87.9 43.3h0M80.6 39.5h0M76.1 43.0h0M83.2 47.5h0M87.6 45.8h0M83.4 40.6h0M80.9 45.0h0M77.2 45.0h0M86.1 50.5h0M87.5 42.3h0M78.3 50.3h0M80.1 39.5h0M81.2 50.9h0M79.8 38.1h0M79.3 47.4h0M91.1 43.7h0M74.6 43.5h0M81.5 43.1h0M89.1 41.3h0M83.8 43.9h0M76.1 46.5h0M88.0 42.3h0M78.3 47.2h0M85.8 45.9h0M90.0 41.2h0M83.5 46.1h0M76.9 46.8h0M90.0 44.7h0M87.2 43.4h0M86.7 45.9h0M77.3 41.7h0M86.5 48.4h0M77.7 46.9h0M86.1 44.8h0M75.7 49.5h0M77.8 47.5h0M93.9 45.1h0M86.2 40.2h0M81.4 50.7h0M82.0 52.0h0M84.8 48.2h0M85.0 39.5h0M84.9 39.3h0M85.1 43.3h0M82.9 41.9h0M86.4 37.3h0M81.4 53.5h0M78.0 40.6h0M85.4 45.2h0M85.8 36.9h0M78.9 48.8h0M81.2 44.5h0M82.2 40.4h0M82.9 51.6h0M72.6 49.5h0M74.2 46.6h0M77.4 38.1h0M87.6 40.7h0M84.3 40.9h0M83.4 48.0h0M80.3 43.6h0M81.1 51.4h0M85.6 44.7h0M93.0 44.6h0M86.7 48.4h0M85.0 47.5h0M76.1 45.6h0M75.5 46.7h0M80.8 46.9h0M87.6 44.3h0M80.4 50.8h0M76.2 48.6h0M88.6 39.9h0M83.1 40.5h0M80.7 44.7h0M88.4 49.6h0M86.0 49.8h0M75.3 40.8h0M77.7 46.3h0M85.3 42.7h0M82.7 49.8h0M78.8 49.8h0M82.1 40.9h0M90.6 44.6h0M87.4 42.6h0M90.5 47.6h0M79.6 44.6h0M85.2 50.2h0M86.5 45.5h0M86.2 39.2h0M74.7 44.6h0M87.0 37.8h0M87.0 40.4h0M92.3 46.3h0M82.3 50.4h0M80.1 39.9h0" stroke="#bd6638" stroke-width="1.2" stroke-linecap="round" opacity="0.95"/>
<path d="M71.7 56.8h0M72.9 70.2h0M80.9 58.8h0M72.7 68.8h0M73.0 67.4h0M82.1 54.2h0M76.9 70.2h0M71.5 67.9h0M71.9 65.8h0M69.4 63.9h0M73.0 57.1h0M73.1 48.2h0M82.4 62.8h0M73.5 67.8h0M69.3 74.2h0M72.8 51.7h0M77.9 50.9h0M73.0 65.4h0M78.9 66.5h0M79.6 56.9h0M81.1 54.2h0M74.0 65.8h0M82.4 67.7h0M79.4 58.5h0M77.3 56.0h0M70.6 59.7h0M76.1 64.3h0M78.4 60.7h0M69.1 73.4h0M71.1 69.8h0M81.0 69.6h0M73.3 49.1h0M77.2 71.2h0M78.1 58.1h0M78.4 66.4h0M77.3 67.7h0M74.4 50.8h0M74.0 50.3h0M71.5 53.4h0M70.8 68.9h0M72.5 74.3h0M71.3 53.8h0M71.0 63.8h0M68.7 74.3h0M81.2 71.3h0M82.7 64.1h0M75.7 71.1h0M77.6 63.0h0M70.2 64.3h0M76.3 53.1h0M82.2 63.9h0M73.0 57.8h0M76.6 57.7h0M71.0 57.2h0M72.9 75.4h0M74.7 54.4h0M77.9 62.7h0M77.6 67.4h0M74.5 64.5h0M72.7 54.7h0M82.3 63.1h0M79.8 60.2h0M75.5 62.9h0M81.8 56.8h0M74.4 52.8h0M69.4 63.1h0M69.7 64.4h0M79.9 60.2h0M74.8 63.7h0M80.1 67.5h0M72.3 71.6h0M73.9 72.4h0M77.8 60.1h0M69.7 63.0h0M80.5 61.3h0M69.4 66.3h0M82.3 58.8h0M72.6 59.6h0M72.9 55.2h0M72.0 52.6h0M77.2 58.5h0M75.5 61.5h0M77.1 68.4h0M68.8 60.3h0M70.2 57.8h0M81.0 60.5h0M74.6 62.3h0M75.0 63.6h0M83.4 66.6h0M78.4 50.3h0M74.7 54.2h0M79.4 67.4h0M69.4 71.7h0M80.6 62.6h0M80.3 61.5h0M70.3 63.9h0M72.4 60.1h0M73.8 65.3h0M69.7 58.1h0M71.7 68.8h0M75.0 65.6h0M82.8 55.4h0M72.1 54.7h0M76.4 61.8h0M75.2 70.2h0M77.5 63.8h0M69.0 65.4h0M70.5 63.9h0M77.3 54.8h0M80.3 50.9h0M83.2 60.4h0M74.4 56.0h0M76.9 71.3h0M71.6 70.3h0M81.3 58.1h0M75.7 56.3h0M74.1 67.7h0M70.3 72.6h0M80.4 60.6h0M80.5 66.8h0M74.1 53.0h0M72.1 66.4h0M78.8 53.1h0M74.6 71.9h0M71.9 60.8h0M73.8 69.3h0M73.9 72.3h0M80.8 57.4h0M82.2 63.3h0M77.1 59.8h0M78.3 60.7h0M78.6 62.9h0M70.0 73.2h0M75.7 72.3h0M72.5 62.5h0M69.1 61.6h0M74.6 64.8h0M80.3 58.8h0M69.8 66.9h0M69.5 69.4h0M77.1 53.7h0M78.4 50.1h0M77.5 70.9h0M71.4 57.8h0M73.3 56.4h0M79.6 55.9h0M75.2 57.4h0M77.9 71.9h0M80.1 66.3h0M76.2 59.0h0M81.3 63.1h0M70.7 63.9h0M81.7 53.2h0M69.7 59.1h0M77.9 54.3h0M75.6 53.0h0M71.0 57.3h0M78.3 63.1h0M76.1 65.1h0M75.1 71.2h0M69.2 62.8h0M71.6 67.4h0M82.6 53.3h0M71.0 72.8h0M76.8 64.0h0M70.8 74.1h0M79.4 56.5h0M77.9 56.8h0M74.7 69.9h0M72.6 60.4h0M71.3 69.2h0M77.3 50.8h0M73.1 60.7h0M69.5 72.9h0M71.8 61.7h0M72.1 72.6h0M80.0 58.4h0M69.5 70.5h0M74.9 53.2h0M80.3 65.4h0M76.5 60.3h0M77.4 54.5h0M71.9 53.2h0M75.7 58.9h0M76.8 61.9h0M77.6 66.6h0M71.6 69.2h0M70.7 66.8h0M77.7 56.7h0M76.5 69.3h0M73.2 61.8h0M70.4 56.3h0M80.7 57.0h0M72.6 70.5h0M78.2 65.9h0M74.4 72.4h0M84.0 69.1h0M73.7 66.4h0M77.9 64.7h0M75.8 68.7h0M82.8 53.1h0" stroke="#5b8fd0" stroke-width="1.2" stroke-linecap="round" opacity="0.95"/>
<path d="M130.9 70.3h0M136.9 66.1h0M139.2 66.6h0M136.2 69.8h0M139.0 67.1h0M132.2 61.8h0M133.5 56.5h0M131.4 65.4h0M129.8 72.1h0M137.2 54.8h0M138.3 60.8h0M134.6 65.4h0M133.0 71.4h0M135.5 63.4h0M138.2 59.8h0M139.2 57.1h0M130.6 69.7h0M134.6 72.0h0M136.1 53.4h0M134.0 63.1h0M134.5 58.3h0M134.4 68.9h0M137.1 72.6h0M135.5 67.2h0M135.0 71.8h0M139.0 68.5h0M131.7 70.2h0M130.6 67.0h0M132.6 66.1h0M135.4 55.6h0M133.5 71.8h0M133.3 63.9h0M133.0 72.1h0M138.1 56.3h0M135.0 66.7h0M132.9 73.4h0M136.8 56.2h0M136.6 65.2h0M132.3 71.0h0M130.4 68.6h0M132.8 71.7h0M136.4 58.9h0M135.0 68.7h0M132.2 63.7h0M133.9 55.7h0M134.6 67.5h0M131.2 73.4h0M133.9 57.6h0M130.4 66.8h0M133.6 67.8h0M133.3 71.7h0M135.5 72.4h0M132.4 63.4h0M132.7 65.5h0M137.7 71.3h0M138.2 65.9h0M135.1 68.4h0M136.6 63.9h0M135.9 73.4h0M130.8 61.4h0M133.6 57.7h0M133.7 69.2h0M131.6 74.2h0M131.7 69.8h0M133.2 69.8h0M132.5 64.5h0M131.9 71.6h0M138.5 66.1h0M130.7 60.5h0M138.9 63.5h0M139.1 68.7h0M137.0 62.8h0M136.0 68.3h0M138.1 69.8h0M137.4 66.7h0M138.7 56.7h0M133.4 67.0h0M127.7 69.3h0M132.6 72.5h0M134.0 73.2h0M139.4 60.2h0M138.8 58.2h0M133.9 73.6h0M133.8 63.6h0M130.9 73.2h0M134.5 66.4h0M131.4 63.1h0M135.0 53.9h0M138.9 66.3h0M134.6 56.1h0M133.3 70.5h0M134.9 74.0h0M132.4 65.7h0M135.8 67.1h0M134.0 57.8h0M137.3 61.5h0M132.9 65.5h0M139.5 61.0h0M133.1 59.8h0M127.5 71.9h0M132.0 71.3h0M138.4 57.5h0M136.5 69.4h0M133.5 67.1h0M138.0 59.6h0M135.0 72.0h0M138.9 60.8h0M137.2 68.8h0M137.3 65.4h0M137.3 71.8h0M131.1 67.1h0M138.3 55.7h0M137.9 68.8h0M133.1 71.4h0M136.8 69.4h0M138.9 68.9h0M135.1 66.2h0M130.0 61.9h0M132.5 55.6h0M136.0 69.5h0M131.5 65.6h0M127.5 68.2h0M131.8 72.2h0M136.3 65.0h0M138.2 57.5h0M129.1 69.5h0M132.8 64.5h0M137.7 70.8h0M131.3 68.6h0M128.1 69.0h0M136.6 63.1h0M137.5 67.2h0M133.7 74.7h0M139.2 64.1h0M134.0 57.2h0M135.9 63.6h0M135.8 57.9h0M136.6 62.8h0M136.8 65.0h0M133.1 68.2h0M131.7 73.4h0M134.3 60.0h0" stroke="#4a9fb0" stroke-width="1.2" stroke-linecap="round" opacity="0.95"/>
<path d="M125.1 78.6h0M132.3 83.4h0M131.0 74.0h0M131.8 84.7h0M132.2 72.7h0M123.6 93.3h0M127.9 94.0h0M132.6 82.8h0M135.6 90.4h0M129.3 81.9h0M133.6 81.3h0M122.6 84.4h0M128.4 81.8h0M121.9 94.4h0M135.3 79.9h0M128.9 75.7h0M130.8 91.8h0M115.2 93.9h0M132.6 88.6h0M128.0 72.7h0M120.1 88.2h0M127.8 90.2h0M132.4 86.4h0M133.2 82.5h0M128.1 73.2h0M133.0 90.5h0M136.5 81.2h0M135.3 76.4h0M129.8 83.4h0M134.0 81.3h0M124.6 83.4h0M118.9 93.1h0M124.9 94.2h0M123.7 87.4h0M128.4 89.7h0M124.9 93.2h0M130.2 75.1h0M120.2 91.2h0M119.9 90.5h0M123.3 80.8h0M127.2 73.5h0M127.0 81.5h0M128.1 81.5h0M137.3 85.3h0M134.8 76.1h0M131.9 88.8h0M121.1 87.0h0M128.8 88.0h0M132.3 86.9h0M127.6 76.4h0M135.7 76.1h0M124.4 82.8h0M129.9 86.7h0M131.9 86.4h0M121.2 86.4h0M123.3 94.4h0M126.9 94.1h0M134.2 76.8h0M127.8 95.6h0M131.5 87.1h0M121.8 87.3h0M131.5 86.3h0M116.5 91.2h0M125.6 94.5h0M122.9 88.6h0M126.7 93.0h0M127.1 77.2h0M120.8 89.8h0M122.9 94.0h0M127.2 82.0h0M129.5 87.6h0M120.6 93.0h0M125.7 92.0h0M122.3 91.4h0M134.1 83.0h0M133.1 79.0h0M132.3 91.5h0M131.0 92.2h0M125.6 75.0h0M123.6 86.2h0M123.6 78.7h0M127.8 79.9h0M134.1 78.8h0M126.4 84.8h0M121.8 86.8h0M133.6 82.0h0M133.0 85.0h0M123.0 94.7h0M120.9 88.4h0M121.4 85.5h0M123.5 86.3h0M124.9 84.9h0M124.5 84.5h0M130.6 75.6h0M126.1 91.4h0M122.1 88.0h0M128.0 88.0h0M127.5 87.6h0M132.6 83.9h0M136.2 83.5h0M134.1 77.6h0M121.4 90.5h0M117.6 89.1h0M126.9 92.1h0M130.5 86.7h0M129.1 92.0h0M124.4 88.1h0M130.5 82.9h0M128.6 88.5h0M128.2 84.3h0M130.5 78.3h0M126.4 91.0h0M131.0 82.5h0M125.6 78.4h0M130.2 86.4h0M121.9 92.9h0M128.2 72.1h0M121.9 93.4h0M129.3 80.2h0M129.9 74.7h0M133.0 90.0h0M127.2 83.1h0M131.0 94.1h0M120.9 86.4h0M124.7 90.5h0M121.1 93.1h0M130.5 80.5h0M118.2 90.0h0M123.3 88.9h0M122.7 84.0h0M125.2 87.5h0M124.1 85.8h0M135.9 83.8h0M125.6 84.8h0M120.4 92.4h0M131.2 86.6h0M124.1 87.4h0M133.7 88.8h0M130.7 85.2h0M133.0 82.5h0M131.4 74.6h0M131.5 72.0h0M132.8 84.8h0M127.1 91.6h0M128.2 72.4h0M120.8 91.9h0M125.3 88.7h0M128.6 83.9h0M123.0 87.2h0M130.0 81.2h0M127.1 70.5h0M130.0 78.9h0M129.1 84.6h0M131.6 84.3h0M125.6 93.9h0M136.0 84.4h0M133.4 94.1h0M123.3 84.7h0M120.4 83.5h0M125.6 76.4h0M132.5 89.8h0M134.2 90.7h0M124.3 83.8h0M125.1 82.3h0M133.1 80.9h0M128.3 84.8h0M117.7 88.0h0M126.1 82.6h0M118.2 87.9h0M126.1 93.8h0M127.9 85.5h0M132.9 84.1h0M131.9 75.7h0M135.1 85.8h0M130.6 73.8h0M122.2 90.6h0M122.9 82.0h0M128.8 79.3h0M132.0 74.9h0M124.0 78.9h0M124.4 95.3h0" stroke="#96c8de" stroke-width="1.2" stroke-linecap="round" opacity="0.95"/>
<path d="M107.2 94.4h0M93.7 104.1h0M97.0 100.0h0M83.8 100.2h0M101.2 89.5h0M105.5 99.4h0M86.6 94.8h0M99.8 94.8h0M85.7 99.6h0M102.0 102.5h0M100.3 98.7h0M105.6 98.9h0M93.1 103.2h0M97.3 90.7h0M111.8 93.3h0M104.1 102.5h0M109.4 95.5h0M90.2 97.5h0M82.0 98.3h0M99.4 99.8h0M87.5 101.4h0M87.3 101.2h0M95.5 90.7h0M102.3 97.5h0M91.5 101.8h0M97.0 89.2h0M107.9 91.8h0M95.5 105.4h0M100.3 101.3h0M92.7 103.3h0M89.8 100.0h0M92.4 101.9h0M96.8 106.6h0M88.8 102.4h0M86.9 97.6h0M91.8 94.1h0M107.5 96.0h0M96.9 104.6h0M103.0 95.9h0M90.4 105.3h0M101.8 94.1h0M93.4 101.3h0M95.5 96.6h0M86.6 103.9h0M99.8 99.2h0M103.0 100.2h0M105.5 91.1h0M106.6 95.5h0M104.2 97.7h0M91.8 104.3h0M108.8 95.5h0M97.9 95.9h0M107.1 95.2h0M82.2 100.8h0M91.4 99.9h0M85.8 97.1h0M101.3 91.1h0M99.5 102.4h0M102.5 102.1h0M99.6 98.7h0M97.4 89.0h0M93.5 106.0h0M98.5 91.2h0M103.4 100.2h0M82.5 96.9h0M90.3 106.0h0M92.7 103.1h0M112.6 95.4h0M93.6 101.2h0M90.0 95.8h0M99.3 105.1h0M92.8 93.6h0M87.4 100.3h0M104.4 95.3h0M84.0 102.3h0M81.4 101.0h0M107.4 93.7h0M99.2 96.9h0M103.9 94.8h0M88.3 103.3h0M109.3 94.1h0M104.7 91.4h0M90.5 92.2h0M102.7 103.4h0M106.7 94.0h0M96.0 104.8h0M95.7 91.1h0M108.7 97.2h0M99.0 102.1h0M84.9 102.3h0M111.0 92.9h0M104.9 92.3h0M96.4 101.2h0M99.2 98.0h0M94.2 88.7h0M108.0 97.5h0M85.3 96.0h0M82.8 102.2h0M106.5 93.8h0M89.9 98.7h0M99.5 95.6h0M96.5 93.2h0M92.9 92.8h0M96.3 88.3h0M101.7 96.3h0M105.5 98.0h0M91.2 99.2h0M97.4 106.3h0M96.6 100.7h0M94.1 106.1h0M87.5 100.3h0M107.4 92.1h0M91.9 97.0h0M99.4 96.5h0M101.8 99.5h0M88.6 95.2h0M94.4 103.7h0M103.6 93.1h0M105.2 97.4h0M101.3 93.1h0M83.5 96.4h0M87.1 104.8h0M99.1 103.1h0M101.9 103.9h0M99.2 101.6h0M87.0 100.2h0M102.6 101.9h0M96.1 104.9h0M89.2 103.9h0M104.2 95.5h0M94.5 104.8h0M103.3 90.0h0M93.6 91.9h0M88.5 105.9h0M89.2 98.0h0M97.8 94.1h0M101.5 103.8h0M100.2 90.5h0M92.4 90.0h0M93.8 105.9h0M109.0 95.2h0M90.0 95.1h0M94.8 89.8h0M106.6 97.8h0M103.9 100.9h0M108.7 93.4h0M98.3 91.7h0M96.9 92.3h0M100.3 90.7h0M90.1 102.4h0M102.1 96.0h0M96.2 90.7h0M108.6 91.5h0M90.3 106.3h0M96.6 87.7h0M106.9 98.7h0M103.4 101.7h0M94.3 103.2h0M100.8 98.9h0M94.3 102.4h0M85.7 99.6h0M93.4 96.6h0M106.9 91.3h0M103.3 95.3h0M95.3 102.2h0M95.7 104.4h0M101.7 89.9h0M98.8 100.4h0M93.4 97.2h0M95.5 91.0h0M90.9 97.4h0M104.2 92.6h0M101.6 91.2h0M99.5 94.3h0M82.2 99.1h0M106.1 99.7h0M89.1 102.1h0M95.7 93.9h0M102.1 100.9h0M84.5 100.4h0M88.0 106.3h0M96.6 94.5h0M99.2 100.6h0M90.3 104.4h0M86.1 98.1h0M94.9 94.7h0M88.8 100.5h0M82.9 99.2h0M98.4 93.6h0M90.9 94.4h0M89.0 104.1h0M86.6 105.2h0M96.8 99.2h0M107.7 91.0h0M103.2 100.3h0M92.7 102.1h0M97.4 94.1h0M101.7 102.5h0M94.7 93.0h0M102.8 96.8h0M94.1 103.6h0M84.5 103.2h0M92.0 93.7h0M93.6 97.9h0M94.6 104.3h0M95.9 104.9h0M108.5 91.9h0M93.2 95.2h0M90.3 92.9h0M104.2 93.2h0M102.6 92.7h0M102.7 104.1h0M106.6 95.0h0M94.0 103.1h0M85.7 96.7h0M107.9 95.7h0M80.3 99.5h0M101.1 100.4h0M101.3 98.8h0M103.4 91.7h0M108.5 92.2h0M88.3 98.9h0M85.5 98.9h0M100.5 104.3h0M80.0 101.5h0M106.3 94.3h0M97.6 96.4h0M95.0 98.9h0M95.7 89.8h0M89.8 97.4h0M91.0 98.1h0M101.0 96.3h0M95.3 98.6h0M105.5 90.3h0M98.3 93.1h0M98.1 95.6h0M97.8 91.7h0M106.9 94.6h0M89.6 94.9h0M88.7 105.5h0M104.5 98.7h0M109.0 97.0h0M90.2 102.6h0M104.5 88.2h0M92.5 89.8h0M94.9 97.2h0M90.2 102.3h0M95.2 97.7h0M96.4 96.1h0M98.3 92.2h0M96.6 95.6h0M87.0 94.9h0M84.9 101.6h0M90.1 97.5h0M97.7 96.2h0M96.2 102.1h0M97.3 95.8h0M110.6 95.2h0" stroke="#3db54d" stroke-width="1.2" stroke-linecap="round" opacity="0.95"/>
<path d="M144.5 38.0h0M122.5 39.4h0M140.8 30.5h0M127.5 33.0h0M136.7 39.4h0M141.3 34.5h0M136.0 40.7h0M128.0 44.9h0M133.0 42.5h0M134.0 34.8h0M124.9 41.6h0M145.3 38.8h0M137.1 34.8h0M138.5 42.7h0M137.7 36.4h0M123.4 42.1h0M142.1 33.8h0M130.4 38.3h0M121.7 44.9h0M141.7 35.7h0M128.4 32.6h0M130.7 44.1h0M132.0 42.6h0M120.9 41.4h0M121.8 39.9h0M123.5 32.6h0M144.0 35.1h0M124.7 37.0h0M145.8 37.9h0M124.9 30.2h0M122.8 31.4h0M130.0 39.2h0M144.2 33.0h0M149.0 37.2h0M131.6 35.3h0M133.4 42.8h0M120.4 39.5h0M136.0 37.7h0M137.5 44.1h0M134.1 40.0h0M130.9 42.8h0M130.8 29.7h0M134.0 32.8h0M139.3 31.0h0M142.2 39.5h0M143.5 34.9h0M122.5 31.9h0M138.6 40.5h0M123.1 36.5h0M126.5 34.8h0M129.6 41.5h0M123.6 35.7h0M130.2 35.5h0M124.4 42.8h0M132.5 33.5h0M132.9 36.9h0M133.6 36.5h0M124.5 33.9h0M136.5 39.5h0M124.8 33.4h0M134.2 40.5h0M128.5 37.8h0M136.7 37.0h0M139.4 45.4h0M130.7 35.6h0M130.4 42.5h0M134.4 33.4h0M128.5 43.0h0M130.9 33.2h0M126.5 36.3h0M130.0 29.5h0M131.5 34.6h0M133.9 41.2h0M127.4 40.6h0M132.3 31.2h0M142.7 36.6h0M118.3 44.5h0M136.9 42.0h0M124.7 43.0h0M147.8 38.7h0M146.6 37.2h0M138.6 39.9h0M132.1 38.0h0M117.6 47.1h0M138.2 30.1h0M124.1 45.0h0M128.6 28.1h0M139.3 34.3h0M129.0 40.4h0M120.7 42.8h0M141.6 37.7h0M135.3 30.0h0M145.9 38.7h0M137.3 37.0h0M131.9 35.1h0M124.7 38.4h0M129.1 39.6h0M134.8 30.8h0M130.7 35.8h0M125.5 38.7h0M122.2 47.4h0M141.9 40.1h0M122.7 44.1h0M135.4 40.3h0M136.5 40.6h0M134.4 39.4h0M146.1 39.8h0M137.8 31.3h0M141.1 33.8h0M118.5 46.6h0M124.2 31.6h0M128.3 42.6h0M130.4 35.5h0M130.4 34.0h0M122.6 38.5h0M145.5 36.4h0M140.7 34.2h0M124.0 31.1h0M119.2 44.0h0M149.9 36.8h0M122.5 45.6h0M139.5 44.4h0M128.5 31.3h0M127.9 42.0h0M121.5 44.3h0M121.4 30.1h0M136.6 39.9h0M141.2 33.9h0M130.3 39.0h0M131.4 34.3h0M131.6 29.3h0M124.8 45.9h0M137.1 30.1h0M129.4 29.9h0M141.7 31.7h0M121.7 36.1h0M138.6 33.9h0M134.2 39.8h0M123.6 40.3h0M134.7 36.5h0M139.8 36.6h0M138.3 44.4h0M120.4 39.2h0M129.1 37.8h0M142.5 35.0h0M139.3 38.6h0M141.3 40.6h0M120.5 41.7h0M137.1 37.8h0M125.7 39.4h0M133.0 40.4h0M129.6 32.3h0M137.3 35.2h0M139.3 34.1h0M133.2 34.6h0M134.5 42.1h0M128.5 28.8h0M128.0 44.5h0M127.6 37.4h0M136.7 42.6h0M134.8 41.1h0M127.5 36.7h0M127.9 28.0h0M143.5 35.1h0M122.0 38.2h0M133.7 45.9h0M130.6 36.9h0M126.4 36.1h0M136.5 39.1h0M123.9 30.8h0M140.0 32.2h0M126.7 38.9h0M131.0 44.4h0M136.6 42.1h0M121.1 47.7h0M123.9 40.6h0M133.2 40.9h0M121.7 38.0h0M137.4 41.6h0M129.3 37.6h0M135.1 30.9h0M136.0 29.3h0M145.8 35.4h0M135.6 34.5h0M140.7 35.2h0M123.5 40.2h0M127.9 40.4h0M134.8 30.2h0M127.1 36.6h0M125.7 46.4h0M146.7 37.0h0M137.0 30.4h0M121.8 37.9h0M144.5 37.2h0M130.2 29.2h0M133.9 31.9h0M134.7 40.0h0M131.4 43.1h0M140.5 43.9h0M139.4 39.5h0M130.2 41.5h0M127.4 41.0h0M125.8 35.5h0M121.9 35.6h0M135.1 32.0h0M121.4 44.2h0M137.5 36.8h0M126.3 38.5h0M124.4 38.0h0M136.5 41.7h0M135.3 39.3h0M130.3 35.2h0M124.7 41.9h0M127.3 35.6h0M136.7 36.5h0M126.3 33.7h0M123.6 41.7h0M142.5 40.3h0M143.0 34.5h0M140.0 44.5h0M133.9 35.3h0M131.1 31.6h0M119.5 48.4h0M122.2 34.7h0M138.4 39.3h0M132.9 41.8h0" stroke="#a993d2" stroke-width="1.2" stroke-linecap="round" opacity="0.95"/>
<path d="M97.4 63.6h0M92.2 69.2h0M88.2 64.9h0M95.8 60.9h0M85.2 60.6h0M87.2 54.0h0M94.8 58.1h0M82.4 57.2h0M92.6 49.1h0M87.6 53.8h0M97.4 48.5h0M86.2 55.8h0M85.7 58.7h0M86.5 60.4h0M95.6 65.6h0M98.5 59.9h0M97.8 55.4h0M88.4 59.9h0M91.3 62.7h0M82.4 52.7h0M93.4 64.3h0M95.8 50.4h0M91.7 54.1h0M88.1 50.9h0M96.7 64.5h0M95.7 66.8h0M93.7 54.3h0M98.3 57.5h0M94.8 45.5h0M103.0 57.8h0M85.8 67.1h0M96.9 67.4h0M87.1 58.7h0M90.9 54.5h0M100.4 48.2h0M92.5 58.9h0M95.4 63.5h0M90.9 66.8h0M86.9 58.8h0M102.1 58.8h0M98.1 49.5h0M99.7 58.6h0M96.9 57.2h0M95.0 54.5h0M90.5 51.1h0M85.7 53.7h0M96.4 52.4h0M98.0 53.7h0M95.7 53.3h0M98.9 50.6h0M99.7 58.7h0M94.2 66.0h0M91.3 51.8h0M89.3 54.3h0M87.8 55.9h0M97.9 63.0h0M85.3 52.3h0M98.1 56.8h0M91.6 55.5h0M90.8 51.0h0M95.8 47.5h0M90.0 56.1h0M84.0 60.4h0M100.6 64.4h0M87.4 54.8h0M89.7 63.4h0M92.5 49.1h0M97.5 51.7h0M97.0 59.9h0M99.1 65.0h0M88.3 62.0h0M96.7 62.0h0M96.5 60.2h0M90.5 62.9h0M88.5 57.1h0M100.2 57.0h0" stroke="#e9b49a" stroke-width="1.2" stroke-linecap="round" opacity="0.95"/>
<clipPath id="cp2"><path d="M160.8 96.0 L160.8 83.5 L164.6 73.8 L164.6 58.5 L166.5 48.8 L173.3 39.2 L178.0 35.4 L185.8 41.2 L193.5 48.8 L199.2 39.2 L207.0 32.5 L216.5 28.7 L232.0 28.7 L241.5 32.5 L249.2 41.2 L237.7 45.0 L232.0 52.7 L233.8 68.0 L230.0 81.5 L228.0 93.0 L218.5 97.0 L203.0 97.0 L187.7 106.5 L176.0 106.5 L168.5 98.8Z"/></clipPath>
<g clip-path="url(#cp2)" opacity="0.1">
<circle cx="179" cy="41.2" r="8" fill="#b17454" opacity="1.00" filter="url(#bl)"/>
<circle cx="168.5" cy="58.5" r="8" fill="#6d91bf" opacity="1.00" filter="url(#bl)"/>
<circle cx="170.4" cy="68" r="8" fill="#6d91bf" opacity="1.00" filter="url(#bl)"/>
<circle cx="207" cy="48.8" r="8" fill="#66a0ae" opacity="1.00" filter="url(#bl)"/>
<circle cx="212.7" cy="58.5" r="8" fill="#66a0ae" opacity="1.00" filter="url(#bl)"/>
<circle cx="205" cy="41.2" r="8" fill="#66a0ae" opacity="1.00" filter="url(#bl)"/>
<circle cx="224.2" cy="33.5" r="8" fill="#a394c0" opacity="1.00" filter="url(#bl)"/>
<circle cx="237.7" cy="37.3" r="8" fill="#a394c0" opacity="1.00" filter="url(#bl)"/>
<circle cx="228" cy="58.5" r="8" fill="#619ca8" opacity="1.00" filter="url(#bl)"/>
<circle cx="212.7" cy="77.7" r="8" fill="#d2979e" opacity="0.80" filter="url(#bl)"/>
<circle cx="197.3" cy="68" r="8" fill="#d2979e" opacity="0.60" filter="url(#bl)"/>
<circle cx="224.2" cy="83.5" r="8" fill="#96b9c8" opacity="1.00" filter="url(#bl)"/>
<circle cx="174.2" cy="83.5" r="8" fill="#d48261" opacity="0.70" filter="url(#bl)"/>
<circle cx="187.7" cy="77.7" r="8" fill="#d48261" opacity="0.60" filter="url(#bl)"/>
<circle cx="170.4" cy="93" r="8" fill="#d48261" opacity="0.70" filter="url(#bl)"/>
<circle cx="182" cy="100.8" r="8" fill="#58ac63" opacity="0.25" filter="url(#bl)"/>
<circle cx="185.8" cy="58.5" r="8" fill="#cfb8bc" opacity="0.45" filter="url(#bl)"/>
</g>
<path d="M167.6 78.4h0M198.9 87.5h0M167.1 94.1h0M162.6 93.1h0M176.4 95.8h0M169.7 90.4h0M168.5 85.8h0M177.3 76.2h0M173.7 76.7h0M167.4 93.6h0M179.4 76.5h0M179.6 73.9h0M168.4 77.7h0M197.2 77.4h0M169.0 93.6h0M182.6 85.8h0M179.1 86.6h0M196.6 85.1h0M184.7 73.1h0M195.6 87.5h0M198.9 85.9h0M198.5 89.1h0M172.0 83.0h0M172.0 90.9h0M192.6 77.2h0M192.3 82.2h0M166.5 84.8h0M191.0 82.0h0M185.3 74.1h0M168.9 89.6h0M178.9 73.7h0M180.4 72.6h0M180.4 87.9h0M173.3 85.8h0M169.0 82.1h0M168.5 95.3h0M173.8 86.3h0M184.2 83.1h0M177.2 84.6h0M185.4 84.4h0M174.7 88.5h0M170.4 83.3h0M164.1 93.0h0M173.8 76.8h0M182.4 76.9h0M189.5 87.3h0M174.5 98.3h0M168.5 80.4h0M164.0 93.1h0M192.6 84.7h0M173.5 90.2h0M162.2 87.2h0M164.2 96.8h0M197.5 89.9h0M171.1 95.9h0M192.6 88.5h0M170.9 95.2h0M195.2 86.0h0M194.8 88.7h0M163.1 94.2h0M176.0 94.2h0M166.4 82.1h0M182.8 85.0h0M179.8 84.7h0M172.8 95.3h0M176.0 85.7h0M195.5 77.5h0M161.1 93.9h0M176.3 76.6h0M166.1 83.5h0M170.2 88.8h0M190.2 86.9h0M175.2 88.4h0M198.0 82.7h0M173.9 88.4h0M171.4 79.3h0M191.8 85.8h0M161.3 88.1h0M168.4 80.1h0M190.5 77.0h0M172.8 90.6h0M193.3 84.4h0M176.7 78.4h0M200.0 93.4h0M185.3 77.4h0M164.1 83.8h0M182.3 87.3h0M161.9 82.2h0M172.9 90.1h0M165.5 78.2h0M174.7 88.6h0M173.0 91.9h0M171.1 80.0h0M174.2 97.8h0M182.2 71.3h0M195.9 79.6h0M194.3 80.0h0M175.9 84.4h0M169.5 96.6h0M161.4 85.6h0M177.1 80.3h0M161.8 91.1h0M165.8 96.9h0M183.2 71.5h0M187.4 73.4h0M172.6 81.3h0M187.5 70.3h0M173.5 96.6h0M162.3 85.3h0M171.4 81.5h0M187.0 78.6h0M182.1 79.7h0M161.5 95.0h0M197.6 90.2h0M172.5 98.5h0M200.0 90.1h0M183.0 73.0h0M182.2 86.2h0M169.8 82.3h0M179.3 86.1h0M168.7 91.2h0M180.1 70.1h0M174.6 93.4h0M190.7 81.7h0M168.1 77.4h0M185.5 69.8h0M173.2 82.5h0M170.2 98.2h0M189.8 71.8h0M197.6 85.6h0M190.1 82.8h0M163.1 80.3h0M199.8 78.8h0M192.1 78.2h0M167.8 83.5h0M165.8 85.2h0M196.0 80.2h0M181.6 79.0h0M161.4 92.5h0M164.0 81.9h0M181.5 84.2h0M179.4 88.3h0M198.9 86.9h0M194.2 82.7h0M195.6 81.0h0M178.7 91.6h0M198.3 84.5h0M182.6 78.4h0M187.1 73.9h0M177.5 87.9h0M187.9 74.4h0M186.8 69.5h0M188.1 81.3h0M186.4 88.6h0M182.8 85.0h0M189.4 87.3h0M188.4 72.6h0M175.7 92.5h0M176.0 89.0h0M173.6 82.7h0M169.5 77.9h0M164.2 85.1h0M190.9 79.7h0M172.6 96.1h0M177.1 83.7h0M188.9 73.1h0M160.8 83.5h0M169.9 83.4h0M176.9 87.1h0M197.1 85.5h0M187.4 71.2h0M179.6 86.5h0M165.9 89.0h0M172.3 99.3h0M173.5 84.1h0M175.0 97.8h0M180.0 79.1h0M189.1 69.9h0M165.5 86.9h0M179.7 90.4h0M189.0 88.0h0M177.6 81.8h0M189.0 75.5h0M195.4 88.9h0M165.9 90.9h0M196.5 86.1h0M193.4 76.5h0M199.9 85.4h0M187.9 85.9h0M171.4 89.7h0M165.6 95.6h0M169.3 81.3h0M182.5 69.5h0M178.1 83.8h0M160.8 93.4h0M188.9 85.4h0M166.9 81.9h0M162.5 82.2h0M184.5 82.4h0M170.1 78.5h0M185.5 81.2h0M174.1 84.6h0M194.4 86.3h0M174.9 80.7h0M174.3 76.1h0M172.7 88.1h0M193.3 77.2h0M176.0 96.0h0M173.9 91.8h0M198.6 88.1h0M164.6 93.7h0M162.9 92.9h0M190.4 73.3h0M193.0 85.5h0M184.4 68.3h0M166.9 92.0h0M162.8 93.0h0M185.1 75.5h0M177.9 90.0h0M176.1 95.5h0M173.4 90.0h0M199.4 83.9h0M165.4 89.5h0M175.4 81.4h0M174.5 94.7h0M171.6 80.4h0M187.8 87.4h0M174.7 82.1h0M173.8 94.8h0M173.1 83.3h0M191.9 86.1h0M173.0 92.4h0M182.4 83.2h0M174.3 83.6h0M180.4 78.7h0M168.2 82.5h0M172.8 81.9h0M172.5 99.9h0M196.5 92.0h0M172.1 100.8h0M184.6 68.2h0M189.2 78.2h0M168.2 77.4h0M173.4 80.1h0M163.3 78.6h0M173.1 85.6h0M167.8 87.5h0M169.7 77.2h0M164.7 95.6h0M163.6 91.5h0M189.7 88.9h0M166.5 84.5h0M185.3 85.0h0M182.4 72.4h0M184.4 83.1h0M183.7 75.8h0M190.4 78.4h0M171.6 87.8h0M175.7 95.5h0M172.3 76.9h0M169.2 98.2h0M175.8 84.7h0M192.2 88.6h0M180.4 74.1h0M177.5 77.3h0M188.5 77.9h0M187.7 75.6h0M175.6 78.2h0M190.1 83.0h0M178.2 76.6h0M199.9 93.4h0M161.7 88.3h0M192.2 88.5h0M172.8 94.4h0M187.6 86.4h0M195.9 86.0h0M175.6 85.1h0M197.7 83.3h0M171.7 78.4h0M163.8 93.6h0M188.8 82.7h0M162.2 86.7h0M188.2 72.2h0M187.4 85.5h0M180.7 90.7h0M178.1 85.1h0M161.7 90.3h0M166.5 79.6h0M163.7 96.5h0M183.9 71.5h0M195.7 83.6h0M173.9 92.9h0M172.7 91.5h0M169.9 89.8h0M176.4 86.5h0M176.3 80.0h0M195.2 83.8h0M171.5 86.0h0M163.1 84.6h0M185.5 86.6h0M169.0 80.2h0M176.2 89.0h0M161.3 83.1h0M175.1 85.5h0M197.2 83.8h0M170.2 80.6h0M196.3 90.8h0M167.7 87.9h0M181.7 68.7h0M175.8 75.3h0M188.0 79.0h0M171.6 88.6h0M170.7 88.6h0M166.2 94.7h0M184.8 83.1h0M179.5 85.5h0M192.3 73.9h0M167.4 92.7h0M164.3 87.3h0M171.2 97.1h0M188.1 83.8h0M184.2 73.5h0M175.8 83.6h0M183.6 76.0h0M168.5 83.3h0M172.1 99.6h0M178.3 92.7h0" stroke="#d48261" stroke-width="1.1" stroke-linecap="round" opacity="0.85"/>
<path d="M209.1 83.7h0M209.8 70.9h0M212.4 77.1h0M208.1 67.3h0M213.2 86.4h0M216.0 83.7h0M205.2 74.9h0M214.0 89.0h0M196.3 59.6h0M205.6 86.6h0M211.7 74.8h0M210.7 89.3h0M200.5 93.9h0M207.7 78.6h0M206.9 71.1h0M210.6 77.8h0M213.0 90.0h0M193.9 65.5h0M213.2 69.0h0M202.5 94.7h0M200.1 91.1h0M206.1 86.3h0M210.4 89.3h0M208.2 91.4h0M197.0 58.7h0M213.9 68.9h0M211.4 94.5h0M201.0 74.3h0M203.2 95.4h0M203.0 60.1h0M205.2 91.7h0M198.1 57.3h0M206.0 87.1h0M213.7 96.5h0M202.7 74.8h0M200.9 91.4h0M200.3 67.2h0M204.3 81.1h0M218.2 71.8h0M194.9 73.9h0M216.6 86.3h0M190.1 65.1h0M205.8 77.0h0M218.7 78.5h0M214.1 93.4h0M205.1 68.9h0M219.9 78.4h0M204.0 81.6h0M209.7 78.3h0M203.8 79.9h0M205.0 69.8h0M194.6 70.2h0M193.0 68.6h0M192.9 62.3h0M203.5 63.5h0M204.4 79.5h0M201.4 74.0h0M213.1 86.3h0M206.9 74.0h0M209.1 90.7h0M198.6 78.4h0M203.7 76.5h0M210.4 83.2h0M204.9 77.7h0M221.3 73.5h0M203.6 68.8h0M214.1 82.1h0M218.3 77.0h0M216.3 71.3h0M215.5 86.8h0M199.2 64.4h0M193.6 68.9h0M201.6 63.4h0M203.8 90.0h0M196.6 60.6h0M211.0 80.1h0M214.8 81.9h0M210.8 94.7h0M207.7 92.2h0M212.3 72.0h0M211.3 68.4h0M200.7 74.4h0M211.6 76.6h0M217.3 83.3h0M217.1 80.4h0M202.3 91.5h0M200.1 65.1h0M210.0 74.5h0M211.6 72.4h0M200.1 77.6h0M206.1 76.0h0M203.4 82.1h0M206.1 92.0h0M214.3 85.0h0M212.7 69.8h0M201.1 64.1h0M211.7 74.9h0M212.5 87.3h0M206.4 76.3h0M205.6 86.7h0M218.6 69.0h0M203.7 83.6h0M205.8 71.0h0M208.4 76.2h0M209.6 96.3h0M199.9 59.1h0M207.9 83.2h0M205.0 96.6h0M211.1 72.2h0M209.2 95.4h0M210.7 90.1h0M213.4 77.3h0M215.5 82.3h0M210.0 78.7h0M203.7 65.3h0M199.1 61.4h0M206.5 84.4h0M213.2 67.9h0M203.2 78.4h0M213.0 80.0h0M199.0 56.5h0M208.4 89.1h0M203.8 90.5h0M205.7 81.6h0M202.0 81.2h0M199.3 61.8h0M215.4 76.0h0M199.4 74.1h0M216.5 71.5h0M203.3 77.4h0M200.7 90.1h0M209.9 77.2h0M201.0 58.4h0M207.2 81.1h0M194.5 73.2h0M209.1 71.8h0M204.6 81.3h0M215.4 73.4h0M212.8 88.4h0M194.2 69.7h0M195.8 62.6h0M203.7 88.7h0M193.6 68.3h0M203.8 68.8h0M202.7 82.4h0M208.0 93.9h0M190.6 69.1h0M196.8 70.9h0M196.0 61.3h0M213.0 83.3h0M211.2 79.7h0M201.7 92.9h0M212.8 75.8h0M200.0 64.0h0M193.8 64.7h0M216.5 70.0h0M208.0 81.9h0M196.8 59.9h0M200.2 89.7h0M219.5 69.9h0M205.2 82.1h0M218.7 78.5h0M203.4 86.3h0M208.5 73.6h0M195.6 69.8h0M211.3 77.3h0M199.9 82.4h0M189.9 69.6h0M202.3 93.6h0M214.4 91.8h0M205.8 91.6h0M208.0 86.3h0M206.6 93.7h0M216.4 83.9h0M202.6 70.2h0M212.7 82.6h0M215.2 69.4h0M214.9 76.0h0M210.1 96.4h0M196.3 72.5h0M197.8 68.1h0M203.4 92.6h0M211.8 94.0h0M204.9 91.5h0M202.3 92.4h0M200.8 80.4h0M199.6 75.6h0M210.7 83.7h0M203.4 75.7h0M218.9 72.4h0M213.4 81.9h0M208.1 96.0h0M215.6 69.7h0M200.8 62.3h0M217.8 82.4h0M204.5 90.6h0M201.2 71.3h0M207.5 86.6h0M201.6 60.5h0M205.7 87.4h0M211.9 70.3h0M215.1 77.7h0M201.4 75.1h0M198.2 69.2h0M210.1 85.2h0M196.9 73.0h0M205.7 81.5h0M219.9 74.2h0M210.4 88.2h0M197.5 57.3h0M205.7 69.8h0M212.5 83.1h0M205.5 75.4h0M215.9 81.4h0M211.8 71.7h0M202.8 63.6h0M202.6 79.2h0M190.5 64.2h0M212.9 84.3h0M214.3 87.9h0M206.0 87.4h0M221.5 75.5h0M200.0 77.6h0M211.5 69.8h0M206.5 78.7h0M198.6 67.1h0M198.4 69.2h0M206.6 66.7h0M203.9 88.2h0M214.4 76.4h0M218.6 83.2h0M204.6 86.9h0M206.9 71.4h0M195.5 67.8h0M214.9 81.6h0M204.5 78.9h0M211.4 93.3h0M195.1 68.6h0M209.0 75.1h0M205.9 90.7h0M205.3 91.5h0M194.1 74.0h0M206.4 69.6h0M191.4 70.9h0M213.5 75.1h0M193.4 67.7h0M205.5 65.0h0M198.0 62.3h0M207.8 92.6h0M206.0 67.5h0M201.2 88.3h0M201.7 81.6h0M208.1 84.5h0M199.9 72.9h0M218.2 69.0h0M201.2 65.4h0M202.8 70.2h0M217.7 78.7h0M216.7 75.0h0" stroke="#d2979e" stroke-width="1.1" stroke-linecap="round" opacity="0.85"/>
<path d="M224.7 53.4h0M229.3 69.2h0M228.4 69.0h0M226.5 66.1h0M226.0 55.6h0M221.2 53.0h0M224.9 65.3h0M222.7 48.1h0M222.7 48.9h0M224.7 46.6h0M220.3 52.8h0M232.3 55.9h0M226.9 67.2h0M231.6 49.2h0M227.7 67.5h0M226.9 50.2h0M221.0 50.9h0M223.5 56.5h0M233.0 69.6h0M228.4 66.5h0M232.0 69.6h0M228.0 50.0h0M227.7 61.6h0M224.4 64.0h0M225.6 61.8h0M226.7 60.1h0M225.0 56.0h0M225.2 62.9h0M227.9 62.9h0M224.9 46.3h0M232.7 70.9h0M229.7 67.7h0M228.4 56.0h0M226.8 58.7h0M231.4 55.3h0M222.2 59.3h0M225.2 49.3h0M231.4 56.8h0M231.9 66.3h0M223.0 67.5h0M224.8 49.9h0M229.4 68.7h0M224.7 47.0h0M233.7 49.5h0M232.1 68.4h0M229.5 52.1h0M225.7 71.5h0M227.9 54.3h0M231.6 49.5h0M230.2 64.4h0M220.6 59.6h0M218.6 51.0h0M229.6 65.9h0M229.1 62.7h0M221.8 51.7h0M232.5 60.4h0M229.7 62.5h0M222.7 65.0h0M233.4 69.3h0M228.4 48.5h0M230.1 67.7h0M232.1 56.5h0M221.2 64.8h0M226.9 47.8h0M228.2 56.6h0M225.2 70.4h0M228.5 49.1h0M230.1 67.7h0M232.5 61.0h0M228.6 50.0h0M231.1 62.3h0M222.8 66.9h0M224.3 60.7h0M219.8 62.9h0M232.9 69.0h0M227.2 62.2h0M229.5 66.4h0M222.9 57.2h0M226.8 55.1h0M228.6 48.0h0M228.1 65.1h0M231.4 60.3h0M228.7 48.6h0M221.8 56.9h0M222.2 66.5h0M223.8 63.1h0M232.0 57.9h0M232.3 51.1h0M221.7 65.0h0M229.1 70.6h0M227.9 59.6h0M229.3 59.3h0M232.0 54.2h0M228.8 59.8h0M229.1 47.1h0M231.6 62.6h0M226.2 54.2h0M230.2 51.4h0M225.5 63.1h0M227.4 46.8h0M230.4 65.7h0M224.3 65.8h0M226.8 59.9h0M223.0 64.9h0M221.5 62.6h0M224.9 58.4h0M221.9 64.5h0M233.0 67.2h0M232.0 54.1h0M228.8 72.0h0M220.5 46.9h0M231.1 58.4h0M225.6 66.1h0M228.0 56.9h0M226.3 56.8h0M222.2 63.5h0M229.9 63.2h0M228.0 64.1h0M229.5 52.3h0M223.7 63.2h0M221.0 67.4h0M228.5 68.7h0M225.7 54.2h0M225.7 47.7h0M234.3 47.7h0M227.6 50.6h0M227.2 70.9h0M220.7 67.8h0M221.3 63.2h0M220.6 56.5h0M230.3 67.4h0M223.3 53.4h0M227.3 59.7h0M228.4 50.5h0M228.2 71.6h0M232.7 48.9h0M230.7 52.6h0M230.9 63.3h0M229.9 52.0h0M221.6 54.2h0M223.3 68.0h0M228.2 61.7h0M222.1 56.6h0M221.9 63.3h0M223.2 48.6h0M224.4 68.9h0M220.2 67.8h0M232.3 55.1h0M226.5 60.1h0M222.8 51.7h0M223.9 50.3h0M226.9 52.5h0M225.0 68.3h0M233.1 69.3h0M232.2 69.1h0M224.1 67.2h0M220.9 55.9h0M232.1 58.6h0M224.1 70.9h0M220.5 57.9h0M227.7 61.2h0M225.0 63.8h0M231.3 66.9h0M232.2 51.9h0M230.8 67.5h0M229.6 71.2h0M224.8 65.3h0" stroke="#619ca8" stroke-width="1.1" stroke-linecap="round" opacity="0.85"/>
<path d="M202.0 45.0h0M215.1 68.0h0M216.4 64.2h0M208.9 59.6h0M218.6 66.6h0M216.1 50.0h0M209.5 38.9h0M212.9 57.9h0M200.7 41.3h0M211.6 59.8h0M210.4 53.7h0M206.3 48.8h0M212.1 33.1h0M201.4 50.7h0M212.7 58.2h0M198.7 52.8h0M201.9 52.6h0M206.7 62.6h0M203.4 52.0h0M216.1 41.2h0M199.9 54.0h0M198.9 51.7h0M198.1 44.9h0M208.8 45.2h0M206.4 57.6h0M198.6 48.5h0M213.6 65.0h0M208.2 45.0h0M217.8 53.8h0M216.7 46.0h0M196.2 52.5h0M215.9 65.0h0M211.2 45.1h0M207.5 62.9h0M219.1 66.0h0M219.0 51.2h0M203.2 54.4h0M198.7 49.4h0M206.3 49.9h0M210.3 53.2h0M201.2 53.9h0M215.0 54.2h0M212.5 54.1h0M213.9 54.0h0M208.3 36.2h0M205.3 44.9h0M201.6 50.8h0M203.8 45.1h0M210.4 37.4h0M211.3 43.9h0M205.9 54.0h0M206.8 52.5h0M198.2 41.4h0M210.7 65.1h0M215.1 53.8h0M206.0 60.1h0M215.2 65.7h0M197.1 46.1h0M214.6 57.7h0M198.2 44.4h0M196.6 48.3h0M214.0 59.5h0M206.4 64.1h0M221.1 63.6h0M199.5 44.9h0M214.1 58.5h0M221.4 50.2h0M216.6 64.5h0M211.6 39.4h0M211.2 32.6h0M214.8 45.9h0M215.0 37.9h0M205.6 38.8h0M212.3 35.3h0M211.9 37.5h0M211.9 64.3h0M203.0 46.0h0M203.6 46.5h0M206.9 59.6h0M215.5 42.8h0M213.9 47.8h0M197.8 48.9h0M215.6 54.2h0M209.5 60.5h0M217.8 65.9h0M210.7 38.0h0M203.9 54.5h0M203.6 47.8h0M210.9 51.6h0M211.6 49.0h0M217.4 64.8h0M211.6 61.4h0M206.4 61.8h0M209.6 32.3h0M195.2 52.4h0M217.9 55.3h0M206.9 50.8h0M211.9 36.0h0M207.7 61.2h0M218.6 67.1h0M209.3 42.7h0M208.9 32.7h0M212.9 50.5h0M214.8 60.3h0M202.3 51.7h0M211.1 43.5h0M210.3 43.5h0M199.4 46.1h0M219.9 62.6h0M217.0 67.6h0M209.5 44.2h0M208.7 60.2h0M211.5 63.0h0M203.2 52.6h0M218.2 48.8h0M215.9 44.5h0M211.0 34.8h0M218.5 43.0h0M206.6 57.1h0M198.1 56.7h0M203.3 37.0h0M214.3 67.2h0M211.0 48.7h0M197.4 51.3h0M210.1 39.2h0M207.8 64.0h0M215.9 64.9h0M212.3 48.1h0M216.8 45.4h0M206.5 53.7h0M211.9 54.0h0M210.3 56.9h0M214.4 57.9h0M215.1 56.3h0M215.5 65.7h0M195.5 46.2h0M215.4 56.1h0M205.9 53.6h0M202.5 60.6h0M215.5 42.6h0M207.7 67.8h0M214.7 51.4h0M219.4 55.8h0M196.0 44.9h0M220.4 57.5h0M203.5 53.2h0M210.3 51.8h0M204.9 63.0h0M196.4 56.2h0M210.3 54.6h0M211.4 50.8h0M219.9 59.6h0M209.6 39.3h0M206.2 55.0h0M211.1 58.7h0M207.9 43.3h0M209.1 48.5h0M219.1 50.0h0M212.4 64.8h0M221.2 47.1h0M202.8 45.7h0M202.6 43.5h0M206.2 41.0h0M217.0 58.1h0M216.1 62.5h0M197.2 44.3h0M217.1 54.0h0M217.3 65.9h0M219.3 50.0h0M198.9 55.0h0M217.0 43.9h0M214.3 41.0h0M200.9 49.7h0M198.1 46.8h0M211.2 41.3h0M210.0 39.1h0M202.9 50.8h0M208.3 39.3h0M200.2 44.9h0M221.5 46.9h0M195.5 50.5h0M201.7 51.9h0M197.0 42.9h0M214.9 46.6h0M207.9 51.3h0M217.3 58.8h0M214.4 58.2h0M205.3 54.3h0M210.7 61.6h0M220.2 45.5h0M210.7 67.2h0M203.3 57.3h0M208.4 45.2h0M203.2 35.9h0M200.4 45.1h0M205.9 62.2h0M208.6 57.8h0M207.5 41.9h0M199.5 39.1h0M203.1 52.9h0M200.9 46.4h0M215.1 52.7h0M200.9 44.9h0M208.3 38.8h0M217.5 67.3h0M210.4 63.0h0M200.4 48.5h0M207.3 60.2h0M199.4 46.8h0M205.7 36.0h0M205.9 38.4h0M204.7 48.0h0M206.0 35.7h0M208.8 60.7h0M205.8 59.2h0M205.5 58.4h0M195.9 44.9h0M206.7 33.3h0M214.5 65.2h0M212.8 51.0h0M198.5 53.6h0M213.3 37.8h0M216.6 46.5h0M201.7 44.8h0M209.2 39.7h0M198.3 49.4h0M205.2 52.7h0M217.9 47.2h0M197.8 43.2h0M212.9 61.5h0M209.3 35.1h0M221.2 66.0h0M203.6 56.9h0M207.9 68.6h0M208.2 49.2h0M210.6 62.9h0M199.8 41.4h0M201.0 56.5h0M205.5 61.0h0M204.4 62.1h0M206.4 46.3h0M211.5 53.8h0M207.2 35.3h0M197.0 45.4h0M208.1 33.1h0M211.9 50.3h0M202.7 52.1h0M210.5 50.6h0M209.4 38.5h0M215.3 64.7h0M212.4 52.6h0M197.1 47.8h0M206.4 37.9h0M219.7 56.0h0M198.8 48.5h0M218.2 45.3h0M220.0 54.7h0M211.2 58.7h0M215.1 50.1h0M201.6 39.8h0M206.3 56.3h0M214.0 59.6h0M207.4 36.3h0M206.5 35.2h0M220.1 59.3h0M207.3 64.2h0M206.6 57.7h0M204.4 64.3h0M219.0 47.8h0M203.9 44.6h0M211.4 34.3h0M211.4 64.8h0M207.6 35.9h0M198.0 55.5h0M202.6 50.6h0M211.1 40.3h0M203.7 46.4h0M198.8 42.1h0M205.0 62.5h0M210.5 42.8h0M195.9 51.4h0M212.5 50.9h0M209.0 52.0h0M214.5 58.2h0M201.3 55.1h0M216.2 47.8h0M198.3 45.2h0M211.4 48.7h0M216.1 53.9h0M204.4 36.0h0M204.0 44.1h0M208.0 57.9h0M199.9 55.0h0M215.9 41.9h0M209.2 63.7h0M211.3 32.0h0M207.4 35.1h0M212.0 63.0h0M200.1 39.7h0M211.7 56.5h0M207.2 50.8h0M201.0 43.9h0M207.1 65.9h0M210.9 65.4h0M198.2 56.9h0M201.5 51.5h0M209.4 44.7h0M215.0 42.0h0M220.0 66.2h0M208.6 57.8h0M212.4 65.1h0M212.4 37.5h0M219.9 56.8h0M206.9 53.5h0M212.6 54.7h0M202.1 42.8h0M220.0 45.7h0M207.1 37.8h0M216.3 65.3h0M219.7 64.5h0M217.0 55.6h0M215.5 63.2h0M214.7 45.5h0M205.1 53.4h0M215.7 46.3h0M203.1 56.3h0M210.3 55.6h0M213.9 42.7h0M212.3 47.4h0M207.8 64.0h0M219.5 48.1h0M214.3 65.2h0M202.5 37.6h0M200.6 49.3h0M218.5 49.6h0M212.8 55.3h0M211.7 51.8h0M212.9 41.9h0M199.3 45.7h0M203.7 38.3h0M217.1 43.2h0M209.9 45.7h0M213.8 47.7h0M196.4 48.4h0M208.3 63.9h0M208.5 55.5h0M208.3 67.0h0M197.9 48.4h0M213.1 42.3h0M209.9 43.8h0M214.9 44.2h0M203.1 53.4h0M211.6 51.1h0M206.2 46.2h0M218.8 50.4h0M197.9 42.3h0M211.6 49.6h0M201.4 48.2h0M216.5 64.9h0M211.4 64.2h0M217.3 51.4h0M201.2 41.4h0M202.8 51.3h0M196.0 53.0h0M201.0 38.1h0M215.1 64.0h0M209.3 43.2h0M217.1 65.3h0M212.8 64.5h0M212.5 64.9h0M211.2 33.5h0M201.2 60.6h0M205.9 65.0h0M209.3 50.6h0M209.2 39.8h0M200.3 39.8h0" stroke="#66a0ae" stroke-width="1.1" stroke-linecap="round" opacity="0.85"/>
<path d="M185.6 62.8h0M188.7 56.2h0M187.9 54.9h0M183.6 53.7h0M187.8 57.8h0M182.0 59.6h0M191.4 56.2h0M193.2 59.0h0M180.9 57.1h0M183.6 56.2h0M192.9 49.5h0M189.0 61.8h0M192.1 60.6h0M188.0 64.0h0M181.7 67.6h0M188.0 67.3h0M177.3 52.1h0M185.0 65.5h0M185.7 50.1h0M183.1 66.7h0M188.0 49.3h0M176.1 57.8h0M186.6 57.3h0M185.2 57.5h0M180.7 57.8h0M184.0 56.5h0M183.5 59.9h0M179.1 56.5h0M183.6 60.2h0M193.2 59.0h0M183.5 58.2h0M196.2 51.1h0M196.4 55.3h0M181.3 55.7h0M179.8 60.3h0M192.7 51.3h0M190.4 60.6h0M190.9 49.4h0M184.6 66.1h0M193.1 50.2h0M179.6 58.2h0M177.4 57.4h0M185.8 65.9h0M185.8 62.7h0M195.6 56.6h0M191.9 60.3h0M194.8 54.5h0M191.4 54.8h0M185.8 57.8h0M183.4 50.8h0M189.7 56.8h0M187.6 62.6h0M198.7 56.2h0M180.6 54.5h0M176.6 55.6h0M175.6 53.0h0M187.8 52.6h0M190.1 47.3h0M191.2 64.7h0M184.8 61.5h0M195.4 59.8h0M195.9 54.8h0M177.9 57.2h0M184.6 50.7h0M194.5 52.2h0M184.6 65.8h0M179.1 51.0h0M189.0 63.6h0M183.1 58.9h0M188.5 59.8h0M182.9 59.5h0M185.9 58.2h0M185.0 61.5h0M182.6 65.1h0M180.1 59.8h0" stroke="#cfb8bc" stroke-width="1.1" stroke-linecap="round" opacity="0.85"/>
<path d="M235.6 38.6h0M226.1 33.1h0M231.6 36.2h0M221.8 39.5h0M220.7 28.9h0M245.4 38.9h0M222.4 37.7h0M220.4 45.5h0M218.2 42.8h0M244.4 37.2h0M222.4 37.0h0M216.1 33.1h0M233.6 42.9h0M235.0 35.7h0M230.3 30.6h0M228.7 37.7h0M228.5 35.7h0M236.4 46.5h0M225.1 40.7h0M226.5 37.7h0M232.5 38.0h0M219.4 46.7h0M234.5 46.8h0M237.9 37.1h0M235.0 45.8h0M217.3 36.1h0M235.9 42.6h0M216.2 31.5h0M221.1 43.4h0M217.8 29.4h0M222.8 36.8h0M226.3 41.9h0M220.5 33.9h0M214.7 29.5h0M225.8 41.4h0M219.4 40.6h0M217.4 37.9h0M233.9 35.7h0M228.0 41.2h0M230.4 31.1h0M239.1 36.5h0M217.3 38.9h0M221.3 34.7h0M223.0 36.4h0M233.5 46.0h0M241.0 42.7h0M235.6 37.0h0M223.8 45.3h0M214.0 33.5h0M222.4 38.5h0M234.5 45.3h0M241.0 33.3h0M222.1 38.6h0M230.6 39.8h0M225.6 45.9h0M222.2 41.6h0M223.9 31.1h0M235.3 38.0h0M219.1 36.2h0M228.3 30.2h0M228.9 28.9h0M235.5 44.4h0M234.4 43.0h0M241.6 36.0h0M215.9 29.4h0M219.3 33.7h0M243.2 38.4h0M230.4 45.8h0M237.3 38.2h0M236.5 46.6h0M228.7 39.4h0M227.2 44.0h0M223.1 32.4h0M220.1 34.7h0M239.7 41.1h0M214.5 35.7h0M221.4 29.3h0M214.8 32.1h0M236.3 42.7h0M236.5 34.6h0M221.8 28.7h0M230.2 38.1h0M215.3 31.3h0M235.5 39.5h0M228.2 28.8h0M219.0 28.8h0M220.3 40.4h0M240.5 32.9h0M243.3 36.3h0M226.2 38.4h0M213.5 37.1h0M222.3 34.6h0M232.6 29.4h0M235.0 38.0h0M228.8 36.8h0M221.5 34.4h0M242.4 37.6h0M234.2 46.3h0M229.0 44.8h0M224.0 45.0h0M230.4 45.9h0M231.8 36.1h0M235.4 37.7h0M236.1 31.8h0M222.3 29.7h0M229.1 34.0h0M219.5 37.2h0M224.0 33.2h0M216.2 37.4h0M241.7 42.5h0M217.5 38.1h0M234.7 42.7h0M233.5 42.7h0M227.4 37.7h0M217.0 41.6h0M228.0 32.9h0M225.1 44.8h0M229.9 43.9h0M219.2 41.9h0M229.3 38.2h0M224.5 42.6h0M224.0 29.6h0M222.5 34.7h0M228.2 32.0h0M242.4 41.4h0M218.7 39.3h0M244.9 37.8h0M220.8 35.0h0M225.2 29.5h0M232.3 32.5h0M238.6 38.2h0M223.3 31.0h0M228.4 37.2h0M228.2 32.3h0M233.2 32.0h0M243.6 38.0h0M240.3 34.8h0M237.5 41.0h0M227.6 45.6h0M240.2 43.5h0M218.9 40.3h0M230.8 32.0h0M240.0 36.1h0M223.8 32.3h0M233.1 44.6h0M215.2 37.4h0M221.4 39.1h0M235.7 40.6h0M240.2 40.3h0M220.0 35.1h0M234.4 45.5h0M248.5 41.3h0M220.7 40.3h0M229.2 37.1h0M225.8 41.4h0M229.9 41.0h0M214.0 32.5h0M217.1 36.0h0M221.8 35.9h0M225.0 35.9h0M219.6 40.5h0M236.1 39.6h0M236.1 36.0h0M228.5 42.8h0M226.2 39.0h0M240.2 37.0h0M235.6 43.6h0M231.8 40.1h0M218.9 35.1h0M237.1 44.4h0M234.0 32.7h0M233.0 46.9h0M224.0 38.1h0M234.4 33.5h0M221.4 43.5h0M231.0 42.2h0M246.0 39.1h0M215.7 30.8h0M230.0 30.7h0M232.3 42.1h0M238.5 34.3h0M222.7 36.2h0M231.2 46.0h0M221.3 35.2h0M247.1 41.4h0M236.6 34.0h0M223.7 36.9h0M227.8 40.6h0M234.1 35.5h0M231.0 34.2h0M227.8 43.7h0M235.8 45.2h0M236.9 34.0h0M234.6 40.1h0M244.9 40.0h0M230.7 31.4h0M222.6 38.9h0M231.1 35.0h0M230.0 37.8h0M231.7 30.9h0M231.5 45.9h0M237.1 42.7h0M217.9 42.7h0M242.5 42.0h0M242.8 36.2h0M222.9 39.7h0M232.2 41.9h0M213.4 31.6h0M213.0 37.2h0M232.1 33.7h0M230.6 33.2h0M241.6 39.3h0M230.2 33.0h0M226.5 36.7h0M233.8 31.3h0M230.4 30.3h0M233.0 38.7h0M246.6 41.0h0M245.9 41.1h0M231.6 42.7h0M216.9 32.8h0M238.1 39.8h0M231.7 41.4h0M240.9 40.8h0M224.9 43.1h0M235.3 37.5h0M233.6 44.1h0M222.8 37.7h0M222.0 35.8h0M230.5 43.1h0M221.8 43.1h0M216.1 37.9h0M237.6 37.8h0M238.5 33.9h0M217.5 36.9h0M235.3 34.9h0M247.4 39.6h0M233.4 38.4h0M233.1 48.6h0" stroke="#a394c0" stroke-width="1.1" stroke-linecap="round" opacity="0.85"/>
<path d="M187.4 43.1h0M180.7 48.9h0M177.4 42.7h0M180.4 37.6h0M173.7 40.0h0M177.6 39.3h0M183.1 39.8h0M180.7 47.3h0M179.8 45.7h0M177.8 38.3h0M179.2 47.8h0M186.5 46.5h0M175.7 45.8h0M173.8 40.7h0M177.3 51.5h0M174.7 43.8h0M178.6 44.9h0M177.8 40.3h0M187.1 47.1h0M183.9 49.4h0M189.1 44.6h0M173.6 43.3h0M184.1 43.2h0M175.4 40.8h0M179.0 41.5h0M179.3 48.9h0M171.3 43.7h0M184.0 43.3h0M179.5 50.2h0M184.1 46.2h0M175.1 48.3h0M175.7 41.3h0M173.0 42.8h0M182.8 46.3h0M183.5 46.8h0M184.3 49.3h0M183.9 40.2h0M181.8 46.9h0M183.4 43.5h0M181.0 37.7h0M185.9 46.8h0M171.3 46.4h0M185.9 45.8h0M184.6 40.8h0M176.8 46.0h0M183.8 42.3h0M179.2 48.9h0M179.6 39.6h0M185.5 41.2h0M179.3 46.8h0M178.0 40.5h0M185.7 42.5h0M181.5 43.9h0M173.6 39.5h0M180.8 45.1h0M182.0 46.1h0M183.8 43.5h0M169.6 48.2h0M185.6 44.2h0M178.8 38.2h0M181.1 44.3h0M179.2 43.6h0M181.0 42.7h0M175.3 48.5h0M176.2 37.2h0M179.9 42.7h0M181.0 39.6h0M175.5 47.2h0M174.7 39.3h0M185.3 44.7h0M175.9 49.6h0M179.9 50.4h0M173.3 44.8h0M181.8 43.1h0M180.3 50.7h0M173.7 44.8h0M182.4 41.7h0M173.4 39.5h0M178.6 40.0h0M183.0 40.4h0M177.0 46.2h0M183.6 41.8h0M172.0 43.6h0M186.6 43.2h0M180.5 44.2h0M174.2 46.8h0M172.8 45.6h0M174.8 39.5h0M171.7 48.0h0M171.4 45.2h0M176.8 42.1h0M172.0 44.1h0M176.3 36.9h0M183.5 43.4h0M177.7 42.9h0M183.4 39.7h0M175.2 50.5h0M174.7 47.4h0M178.6 38.4h0M185.3 41.5h0M171.4 49.1h0" stroke="#b17454" stroke-width="1.1" stroke-linecap="round" opacity="0.85"/>
<path d="M173.3 70.6h0M170.3 63.9h0M166.9 69.2h0M172.4 73.4h0M164.3 75.2h0M171.5 56.5h0M172.4 65.6h0M177.6 68.0h0M169.1 49.8h0M173.0 49.8h0M167.1 71.4h0M175.4 62.8h0M165.0 72.2h0M169.9 57.9h0M168.7 61.8h0M174.8 64.7h0M180.9 71.1h0M167.8 69.1h0M164.7 59.6h0M170.1 67.6h0M165.8 62.9h0M169.4 50.9h0M170.7 49.4h0M178.9 68.9h0M169.5 73.9h0M178.1 67.4h0M169.9 58.0h0M169.1 49.0h0M168.9 75.8h0M176.5 64.0h0M166.3 71.8h0M167.8 51.3h0M179.7 65.1h0M170.4 65.5h0M174.8 57.0h0M165.1 75.5h0M176.6 63.0h0M164.2 76.8h0M169.8 49.1h0M177.7 73.0h0M180.6 66.1h0M177.4 66.6h0M175.6 53.5h0M168.4 50.3h0M176.4 65.9h0M169.1 63.8h0M180.3 68.8h0M176.5 75.3h0M166.6 49.0h0M168.9 65.5h0M166.2 57.4h0M168.3 67.5h0M169.9 47.9h0M165.2 61.9h0M173.2 68.6h0M173.8 67.5h0M168.8 66.3h0M177.6 66.1h0M170.8 76.5h0M170.0 53.5h0M175.4 71.5h0M171.5 74.9h0M171.5 74.9h0M168.2 54.1h0M175.0 65.4h0M167.6 66.8h0M176.4 71.0h0M171.6 65.9h0M165.1 72.9h0M171.2 55.6h0M175.2 58.2h0M170.4 60.1h0M178.2 64.0h0M175.2 55.5h0M178.2 69.4h0M173.9 65.4h0M176.6 66.9h0M166.0 62.9h0M172.6 62.3h0M171.2 57.9h0M163.9 79.1h0M174.6 56.7h0M169.6 51.0h0M178.1 73.7h0M167.2 77.4h0M170.8 53.8h0M170.3 63.8h0M167.9 67.6h0M168.6 68.5h0M178.3 66.7h0M168.7 55.7h0M178.5 68.3h0M165.2 58.7h0M169.5 54.9h0M171.0 65.3h0M176.9 62.1h0M163.0 79.0h0M178.7 66.5h0M170.1 55.1h0M180.5 69.2h0M167.6 72.1h0M176.7 53.0h0M171.1 47.2h0M176.8 72.4h0M172.8 68.7h0M169.7 64.6h0M170.8 60.9h0M181.2 68.3h0M168.6 72.8h0M166.7 57.9h0M175.1 56.8h0M166.0 61.6h0M172.0 63.3h0M167.5 49.8h0M171.7 66.4h0M167.8 47.8h0M170.8 69.4h0M169.5 70.2h0M165.8 72.8h0M164.8 60.5h0M176.2 74.5h0M172.3 51.8h0M171.1 68.4h0M172.2 62.8h0M171.4 53.7h0M174.6 53.4h0M174.2 68.8h0M173.1 69.2h0M173.2 72.7h0M168.9 76.0h0M167.7 63.2h0M167.2 68.3h0M173.4 59.3h0M177.2 61.7h0M175.3 72.4h0M174.4 67.9h0M177.1 59.9h0M170.0 75.0h0M176.2 63.2h0M167.2 65.3h0M170.2 55.2h0M178.9 72.0h0M173.2 50.5h0M176.0 68.3h0M168.2 54.5h0M170.6 73.6h0M176.7 65.4h0M180.3 67.0h0M167.9 57.3h0M175.4 60.2h0M169.8 66.0h0M169.9 57.4h0M167.1 50.5h0M171.1 56.9h0M169.0 47.2h0M168.0 66.8h0M169.8 64.8h0M172.6 56.7h0M169.3 49.6h0M166.3 51.6h0M170.9 67.2h0M176.5 67.2h0M171.2 58.8h0M168.9 53.6h0M167.7 59.7h0M169.8 65.3h0M170.8 56.8h0M173.5 73.3h0M167.5 66.0h0M176.1 62.6h0M165.4 57.9h0M174.8 52.1h0M168.2 50.0h0M175.3 59.7h0M176.6 67.2h0M170.0 64.5h0M173.3 66.6h0M174.2 66.9h0M176.9 73.8h0M175.2 54.2h0M175.6 61.8h0M172.1 65.2h0M168.8 69.1h0M168.0 70.3h0M175.6 62.2h0M178.4 69.0h0M170.2 52.6h0M178.1 71.9h0M171.2 61.0h0M176.6 72.5h0M165.8 74.0h0M168.8 51.9h0M170.4 75.4h0M174.2 70.6h0M170.6 54.4h0M171.2 61.6h0M174.1 51.4h0M180.5 68.2h0M176.2 72.4h0M165.7 56.1h0M168.6 69.0h0M175.9 69.5h0M180.6 71.1h0M168.0 69.4h0M178.9 67.3h0M170.9 55.3h0M177.2 58.2h0M171.7 53.7h0M166.0 59.2h0M174.5 72.5h0M175.7 66.3h0M166.5 61.8h0M173.5 60.5h0" stroke="#6d91bf" stroke-width="1.1" stroke-linecap="round" opacity="0.85"/>
<path d="M221.5 83.1h0M223.8 77.0h0M225.8 90.6h0M209.0 96.1h0M222.6 74.8h0M226.2 71.7h0M217.9 91.6h0M218.8 96.8h0M227.6 80.2h0M217.4 87.0h0M225.7 74.5h0M217.1 94.6h0M222.5 79.6h0M228.2 87.9h0M227.5 80.8h0M218.9 92.7h0M223.5 84.6h0M221.5 93.4h0M211.8 95.5h0M215.3 95.3h0M214.6 93.4h0M224.3 79.6h0M223.0 72.9h0M223.7 72.3h0M226.8 79.1h0M230.0 74.8h0M215.3 93.5h0M225.1 81.2h0M226.8 87.5h0M222.2 76.0h0M223.2 78.6h0M225.5 90.1h0M221.2 88.3h0M229.7 71.6h0M213.1 93.2h0M223.4 83.2h0M221.6 79.6h0M227.3 75.7h0M222.5 77.9h0M213.8 93.6h0M222.8 93.3h0M229.6 74.4h0M214.4 91.6h0M213.2 94.6h0M225.3 85.9h0M219.5 89.5h0M230.7 78.9h0M223.9 78.8h0M219.0 82.6h0M220.8 74.4h0M231.6 75.3h0M212.6 93.5h0M226.1 77.1h0M220.4 81.7h0M225.5 80.8h0M224.5 82.9h0M221.1 90.4h0M226.9 79.0h0M229.1 81.9h0M211.1 96.9h0M223.1 74.3h0M225.0 87.7h0M219.4 91.7h0M221.0 85.7h0M216.2 90.5h0M226.2 89.1h0M223.0 88.9h0M219.6 81.2h0M225.4 81.5h0M220.2 89.3h0M222.7 76.2h0M228.0 75.3h0M212.6 95.0h0M226.9 91.4h0M212.9 94.7h0M213.8 94.0h0M227.8 74.5h0M222.6 90.7h0M218.2 93.7h0M224.1 93.6h0M226.1 89.7h0M216.9 89.7h0M225.1 89.8h0M224.3 79.2h0M227.1 70.5h0M217.6 83.5h0M220.3 86.4h0M210.4 93.0h0M230.5 74.3h0M224.1 87.0h0M220.5 93.1h0M219.8 96.4h0M220.6 82.4h0M224.6 92.6h0M230.6 78.9h0M219.5 89.6h0M217.5 95.8h0M223.9 80.4h0M224.2 75.8h0M221.9 79.1h0M223.8 91.8h0M220.4 81.4h0M220.4 84.2h0M225.1 82.8h0M228.7 78.5h0M230.8 77.8h0M214.2 89.8h0M230.2 78.5h0M221.5 95.4h0M213.9 94.3h0M225.8 76.8h0M217.6 95.0h0M216.7 85.1h0M225.4 91.2h0M225.6 87.5h0M231.7 72.8h0M224.9 89.0h0M211.1 94.7h0M229.9 76.4h0M218.4 84.0h0M220.5 82.0h0M230.1 80.8h0M230.4 73.3h0M222.5 90.6h0M220.2 79.8h0M221.1 85.0h0M228.8 77.0h0M225.5 73.2h0M218.4 80.3h0M220.3 88.4h0M225.1 88.2h0M217.7 92.3h0M224.4 90.6h0M222.1 72.5h0M216.7 87.6h0M229.6 81.6h0M231.1 71.8h0M224.0 88.3h0M221.7 86.8h0M226.3 86.7h0M218.8 94.4h0M220.7 86.4h0M218.6 84.4h0M221.8 80.1h0M227.2 84.2h0M226.5 89.6h0M225.4 70.9h0M229.9 80.5h0M223.1 91.0h0M221.3 79.7h0M223.5 78.9h0M220.2 91.6h0M213.5 91.5h0M225.5 73.6h0M228.8 82.9h0M215.9 95.9h0M223.5 72.9h0M216.3 88.5h0M215.9 96.5h0M220.6 82.2h0M221.3 76.1h0M228.9 81.1h0M214.0 93.6h0M226.1 80.8h0M219.9 79.0h0M225.0 91.9h0M223.3 81.2h0M218.9 81.9h0M224.2 77.5h0M224.1 85.3h0M229.8 79.6h0M224.6 86.7h0M219.7 90.3h0M225.1 89.6h0M214.9 92.6h0M228.9 87.2h0M223.1 81.1h0M221.9 76.1h0M223.4 84.2h0M219.8 75.7h0M221.0 94.5h0M216.1 86.5h0M231.0 77.1h0M220.2 80.2h0M221.4 79.5h0M215.9 92.2h0M230.8 78.5h0" stroke="#96b9c8" stroke-width="1.1" stroke-linecap="round" opacity="0.85"/>
<path d="M180.9 100.9h0M192.9 95.0h0M179.9 96.0h0M184.7 99.5h0M177.8 100.9h0M196.7 96.5h0M187.2 106.0h0M180.1 90.3h0M187.2 103.5h0M185.1 101.9h0M190.9 101.0h0M192.3 98.5h0M180.5 95.3h0M194.7 101.3h0M182.3 96.8h0M184.4 92.2h0M174.7 102.3h0M195.2 100.7h0M196.9 98.2h0M189.0 102.0h0M193.1 102.0h0M190.4 99.6h0M182.7 99.1h0M183.6 94.9h0M190.6 104.6h0M200.0 94.4h0M186.7 100.4h0M191.6 100.5h0M197.7 99.8h0M181.6 94.0h0M182.5 104.0h0M196.2 98.0h0M193.4 95.3h0M181.9 96.3h0M176.4 103.1h0M179.8 100.4h0M178.7 103.2h0M194.1 96.1h0M183.0 103.1h0M186.4 92.6h0M185.6 90.3h0M189.8 103.8h0M172.7 100.6h0M198.0 97.3h0M195.8 100.8h0M183.4 102.0h0M192.1 99.5h0M197.8 100.0h0M184.9 104.3h0M186.7 105.0h0M192.3 99.7h0M182.7 94.7h0M180.4 94.9h0M187.8 97.0h0M179.3 90.3h0M198.1 98.9h0" stroke="#58ac63" stroke-width="1.1" stroke-linecap="round" opacity="0.85"/>
<clipPath id="cp3"><path d="M275.4 98.3 L276.5 87.7 L283.9 77.1 L281.8 66.5 L282.8 56.0 L288.1 44.3 L293.4 38.0 L299.7 35.9 L305.0 41.2 L310.3 51.7 L315.6 43.3 L323.0 34.8 L333.6 29.5 L348.4 28.5 L361.0 32.7 L365.3 41.2 L352.6 41.2 L344.2 47.5 L350.5 58.0 L350.5 75.0 L348.4 89.8 L340.0 96.2 L329.4 98.3 L316.6 100.4 L310.3 106.7 L297.6 110.0 L292.3 104.6 L282.8 102.5Z"/></clipPath>
<g clip-path="url(#cp3)" opacity="0.38">
<circle cx="297.6" cy="41.2" r="8" fill="#bd6638" opacity="0.45" filter="url(#bl)"/>
<circle cx="287" cy="58" r="8" fill="#5b8fd0" opacity="1.00" filter="url(#bl)"/>
<circle cx="288.1" cy="68.7" r="8" fill="#5b8fd0" opacity="1.00" filter="url(#bl)"/>
<circle cx="301.8" cy="56" r="8" fill="#e9b49a" opacity="0.30" filter="url(#bl)"/>
<circle cx="300" cy="47" r="8" fill="#e9b49a" opacity="0.30" filter="url(#bl)"/>
<circle cx="323" cy="47.5" r="8" fill="#52a5b9" opacity="1.00" filter="url(#bl)"/>
<circle cx="318.8" cy="58" r="8" fill="#52a5b9" opacity="1.00" filter="url(#bl)"/>
<circle cx="329.4" cy="39" r="8" fill="#52a5b9" opacity="1.00" filter="url(#bl)"/>
<circle cx="342" cy="34.8" r="8" fill="#a993d2" opacity="1.00" filter="url(#bl)"/>
<circle cx="356.9" cy="37" r="8" fill="#a993d2" opacity="1.00" filter="url(#bl)"/>
<circle cx="342" cy="68.7" r="8" fill="#96c8de" opacity="1.00" filter="url(#bl)"/>
<circle cx="340" cy="85.6" r="8" fill="#96c8de" opacity="1.00" filter="url(#bl)"/>
<circle cx="344.2" cy="56" r="8" fill="#4a9fb0" opacity="1.00" filter="url(#bl)"/>
<circle cx="310.3" cy="75" r="8" fill="#ec97a2" opacity="1.00" filter="url(#bl)"/>
<circle cx="327.2" cy="79.2" r="8" fill="#f2b3bd" opacity="0.80" filter="url(#bl)"/>
<circle cx="323" cy="66.5" r="8" fill="#ec97a2" opacity="1.00" filter="url(#bl)"/>
<circle cx="306" cy="66.5" r="8" fill="#f0b8c0" opacity="0.70" filter="url(#bl)"/>
<circle cx="320" cy="94" r="8" fill="#f2b8c4" opacity="0.70" filter="url(#bl)"/>
<circle cx="331" cy="90" r="8" fill="#96c8de" opacity="0.80" filter="url(#bl)"/>
<circle cx="285" cy="87.7" r="8" fill="#ef7a4a" opacity="1.00" filter="url(#bl)"/>
<circle cx="280.7" cy="94" r="8" fill="#ef7a4a" opacity="1.00" filter="url(#bl)"/>
<circle cx="295.5" cy="83.5" r="8" fill="#ef7a4a" opacity="1.00" filter="url(#bl)"/>
<circle cx="301.8" cy="100.4" r="8" fill="#3db54d" opacity="1.00" filter="url(#bl)"/>
<circle cx="307" cy="97" r="8" fill="#3db54d" opacity="1.00" filter="url(#bl)"/>
</g>
<path d="M285.6 64.1h0M293.1 71.2h0M287.7 65.6h0M286.2 51.9h0M291.5 75.4h0M287.4 62.9h0M284.2 71.9h0M286.6 50.4h0M291.4 70.5h0M289.3 73.3h0M295.8 61.0h0M285.1 50.9h0M287.9 57.6h0M295.3 69.3h0M287.6 72.7h0M288.8 59.1h0M285.5 76.1h0M290.6 61.0h0M287.6 66.4h0M292.8 74.7h0M287.2 70.3h0M296.2 70.7h0M292.2 58.4h0M286.6 61.6h0M288.4 58.4h0M285.5 72.2h0M285.9 62.9h0M287.2 50.4h0M295.4 71.2h0M289.8 69.2h0M288.1 55.0h0M286.9 67.8h0M293.6 66.9h0M289.1 63.4h0M288.0 64.0h0M289.5 58.3h0M295.5 68.1h0M285.2 63.1h0M288.6 45.9h0M289.5 70.5h0M286.9 75.0h0M283.1 63.1h0M289.3 55.8h0M295.7 72.0h0M283.1 68.6h0M287.9 60.7h0M290.2 51.4h0M287.2 73.6h0M292.4 57.5h0M292.7 74.6h0M296.2 69.7h0M286.0 51.9h0M295.0 57.0h0M283.5 64.0h0M285.6 56.5h0M296.4 67.4h0M288.5 73.7h0M290.8 70.2h0M294.4 70.7h0M296.3 68.6h0M288.5 51.9h0M295.1 71.3h0M284.8 55.6h0M292.1 66.7h0M294.2 72.7h0M285.0 69.9h0M289.5 62.6h0M293.6 63.0h0M291.5 63.4h0M284.6 58.6h0M297.7 72.1h0M294.9 70.4h0M293.8 62.1h0M290.5 52.9h0M290.8 54.7h0M290.9 71.1h0M289.0 63.2h0M291.1 50.6h0M294.3 71.7h0M293.0 67.9h0M295.6 70.5h0M294.0 69.6h0M282.8 58.6h0M289.5 74.2h0M285.9 70.6h0M295.9 65.5h0M290.1 75.8h0M282.3 67.7h0M286.2 57.4h0M283.1 66.6h0M283.2 60.9h0M285.9 71.7h0M293.2 54.2h0M282.4 61.9h0M285.3 69.2h0M293.0 69.7h0M293.4 62.3h0M291.0 65.2h0M289.1 73.3h0M294.4 72.7h0M296.4 67.8h0M294.0 68.1h0M285.8 51.9h0M289.9 76.7h0M284.8 62.8h0M290.1 67.8h0M292.3 61.7h0M283.7 66.2h0M286.8 54.7h0M295.7 62.9h0M291.7 58.0h0M284.4 60.0h0M284.2 69.8h0M290.5 58.7h0M283.4 60.4h0M288.1 62.6h0M285.4 75.9h0M287.9 46.4h0M285.9 77.9h0M288.5 68.0h0M282.4 61.9h0M288.9 57.8h0M287.9 67.7h0M286.2 57.0h0M295.7 67.1h0M295.3 66.4h0M287.6 67.4h0M292.2 66.0h0M292.0 71.1h0M284.7 57.1h0M293.5 69.0h0M284.5 56.5h0M287.0 49.6h0M293.3 55.1h0M287.3 65.2h0M287.1 76.0h0M287.9 57.9h0M288.3 67.7h0M288.0 64.1h0M288.1 65.7h0M286.9 69.5h0M288.5 69.5h0M285.3 64.8h0M291.2 57.2h0M286.8 65.7h0M286.4 72.9h0M292.5 58.7h0M288.0 66.1h0M287.2 73.9h0M292.2 61.2h0M290.3 65.8h0M291.9 50.6h0M283.7 60.7h0M290.8 52.0h0M290.0 66.1h0M291.3 60.7h0M288.6 68.8h0M291.7 68.6h0M284.7 61.7h0M292.0 61.2h0M290.5 74.1h0M291.0 56.3h0M292.6 56.4h0M289.9 66.7h0M286.8 54.3h0M293.0 57.0h0M283.3 68.6h0M287.9 74.2h0M290.5 64.3h0M286.3 77.2h0M292.1 64.5h0M288.6 67.3h0M286.2 63.9h0M287.8 49.1h0M293.5 61.1h0M285.2 68.4h0M293.8 75.2h0M286.2 74.6h0M290.8 52.0h0M287.7 48.2h0M293.7 55.3h0M288.7 50.9h0M284.7 73.3h0M283.8 77.9h0M288.8 62.3h0M288.3 56.1h0M289.6 49.2h0M285.0 67.4h0M296.7 72.5h0M287.3 70.8h0M286.9 60.6h0M293.4 60.0h0M282.7 58.1h0M297.1 71.6h0M284.6 71.0h0M284.0 77.0h0M288.9 60.3h0M288.5 71.6h0M291.4 70.0h0M293.1 68.3h0M290.9 59.2h0M296.0 67.9h0M288.2 64.3h0M282.3 65.8h0M293.8 66.0h0M286.6 53.2h0M288.9 76.0h0M289.5 60.8h0M291.9 60.1h0M284.5 70.8h0M293.2 54.7h0M289.8 72.8h0M292.1 71.2h0M285.3 52.9h0M294.8 60.6h0M286.8 72.6h0M287.6 54.2h0M293.0 55.1h0M297.5 74.0h0M287.7 74.3h0M286.4 60.2h0M291.6 69.1h0M285.6 68.1h0M287.8 64.7h0M292.6 68.2h0M296.1 70.8h0M288.3 71.9h0M283.4 66.5h0M287.9 63.4h0M283.6 61.6h0M283.2 62.7h0M288.4 75.9h0M289.3 47.9h0M285.4 61.3h0M283.8 67.0h0M295.7 67.0h0M283.9 58.1h0M295.9 60.5h0M283.1 63.9h0M294.2 75.1h0M293.3 58.4h0M290.5 53.3h0M283.8 77.7h0M291.2 59.2h0M284.0 61.8h0M298.0 66.3h0M293.4 63.2h0M289.9 72.2h0M294.9 71.3h0M287.8 49.1h0M288.5 72.4h0M286.8 73.8h0M288.1 64.8h0M289.0 78.8h0M284.6 60.9h0M291.6 57.1h0M288.0 72.3h0M292.7 76.1h0M285.7 67.7h0M286.6 55.0h0M295.8 64.0h0M292.9 51.7h0M295.9 63.3h0M289.8 52.2h0M283.7 60.7h0" stroke="#5b8fd0" stroke-width="1.2" stroke-linecap="round" opacity="0.95"/>
<path d="M334.0 46.7h0M333.5 38.3h0M315.7 51.7h0M318.5 41.3h0M332.0 38.8h0M315.7 60.7h0M318.5 60.5h0M326.5 57.5h0M327.6 53.9h0M322.2 60.9h0M333.7 33.2h0M325.0 51.5h0M321.9 51.1h0M334.7 34.7h0M334.9 46.4h0M311.3 55.8h0M322.1 56.4h0M319.6 60.7h0M327.9 50.5h0M315.2 55.8h0M331.4 40.0h0M327.1 46.4h0M321.2 46.5h0M329.5 57.4h0M327.1 36.6h0M324.0 35.7h0M327.7 46.0h0M336.3 45.3h0M323.0 57.3h0M335.0 49.6h0M330.0 31.8h0M324.2 45.6h0M334.8 33.7h0M318.0 41.3h0M314.2 51.7h0M337.8 42.3h0M324.9 43.2h0M325.4 36.5h0M309.7 54.7h0M332.5 53.8h0M312.3 56.9h0M330.5 34.9h0M325.6 39.6h0M322.9 52.6h0M336.9 45.8h0M320.8 55.4h0M313.5 52.4h0M335.7 46.9h0M323.5 42.9h0M331.0 60.2h0M328.2 53.1h0M333.5 40.9h0M323.0 60.3h0M315.2 50.0h0M323.9 47.6h0M320.6 52.0h0M325.4 37.7h0M323.5 51.5h0M321.4 36.8h0M322.1 59.8h0M335.4 45.6h0M327.7 35.6h0M316.7 63.6h0M332.6 46.3h0M313.8 60.2h0M333.9 43.0h0M329.6 57.1h0M336.2 43.3h0M312.1 59.9h0M320.0 52.6h0M317.4 44.2h0M332.1 35.1h0M321.0 55.5h0M319.3 61.0h0M328.0 36.8h0M314.6 59.2h0M320.4 57.8h0M329.5 42.5h0M325.7 52.7h0M329.2 50.8h0M330.8 37.7h0M322.3 41.9h0M330.9 53.4h0M315.8 63.3h0M312.7 56.2h0M338.1 38.6h0M328.4 32.1h0M330.0 43.3h0M329.6 44.5h0M315.8 62.3h0M321.3 56.5h0M322.9 40.8h0M320.2 44.6h0M337.4 43.1h0M331.9 58.9h0M322.9 55.8h0M330.1 31.6h0M325.1 42.3h0M333.2 53.3h0M323.5 58.5h0M325.1 52.8h0M328.0 42.6h0M315.2 66.4h0M331.4 42.0h0M317.7 44.7h0M324.9 47.3h0M319.1 54.9h0M326.7 48.6h0M319.1 55.0h0M315.5 63.7h0M330.9 34.1h0M334.1 50.8h0M329.7 55.9h0M331.7 34.9h0M316.5 64.6h0M318.9 56.7h0M322.7 52.6h0M317.2 45.1h0M320.5 42.4h0M318.4 53.8h0M319.2 51.9h0M325.1 43.1h0M314.8 47.5h0M335.5 42.7h0M314.1 51.3h0M322.7 58.5h0M314.1 57.1h0M331.4 45.4h0M335.1 49.5h0M322.4 51.8h0M313.6 47.8h0M314.2 59.5h0M337.4 46.6h0M325.2 47.3h0M322.2 45.2h0M327.5 32.8h0M329.5 34.7h0M320.2 43.4h0M332.5 53.4h0M326.7 41.7h0M323.4 45.1h0M333.9 37.3h0M328.0 51.0h0M317.4 63.0h0M329.6 46.5h0M332.8 45.6h0M321.5 60.7h0M322.0 42.9h0M317.3 44.8h0M321.6 44.1h0M331.4 34.2h0M318.2 56.9h0M327.7 38.1h0M332.7 52.8h0M326.7 57.1h0M319.3 46.7h0M313.5 60.2h0M328.5 41.6h0M323.8 46.8h0M328.2 36.0h0M325.5 35.2h0M322.3 46.6h0M337.0 41.7h0M328.0 34.3h0M325.7 47.9h0M314.1 47.8h0M330.1 40.9h0M332.5 43.2h0M313.3 63.7h0M315.0 61.1h0M325.2 46.5h0M326.4 48.3h0M328.9 34.9h0M315.5 51.3h0M326.4 50.0h0M327.6 37.3h0M327.8 53.1h0M330.8 46.3h0M330.2 50.7h0M327.7 43.4h0M330.5 46.3h0M316.7 49.5h0M324.3 43.9h0M313.4 56.1h0M314.3 61.9h0M316.2 49.7h0M311.2 56.4h0M325.7 42.0h0M322.1 62.7h0M312.2 59.5h0M321.9 47.0h0M333.0 45.7h0M321.9 54.1h0M314.1 55.6h0M329.1 40.1h0M314.4 56.2h0M329.0 40.2h0M313.7 61.6h0M329.5 58.0h0M324.5 58.6h0M323.4 42.5h0M334.6 41.8h0M317.0 49.6h0M309.8 56.8h0M318.0 45.9h0M325.6 34.9h0M334.0 39.8h0M322.6 56.9h0M321.5 45.0h0M323.1 49.6h0M327.2 47.2h0M315.7 61.4h0M320.0 58.2h0M332.7 38.8h0M334.0 37.7h0M326.8 54.8h0M313.6 58.7h0M313.5 62.5h0M333.8 42.5h0M313.8 53.4h0M313.0 53.6h0M328.7 44.6h0M324.4 47.8h0M332.8 38.2h0M329.1 46.6h0M322.5 56.4h0M330.8 53.8h0M324.9 39.0h0M336.5 46.4h0M313.6 48.5h0M319.5 61.3h0M320.2 64.2h0M324.3 50.8h0M333.1 50.3h0M325.8 46.3h0M340.4 43.0h0M318.5 54.3h0M313.9 59.3h0M326.2 55.1h0M330.8 53.4h0M320.5 39.5h0M316.9 45.8h0M316.9 45.4h0M322.7 53.3h0M338.1 44.2h0M314.0 48.2h0M314.6 48.3h0M331.7 48.9h0M316.8 48.4h0M326.2 44.8h0M331.5 33.4h0M327.5 50.9h0M332.4 32.9h0M315.9 61.8h0M319.0 58.4h0M321.6 42.2h0M312.5 51.4h0M325.5 38.5h0M332.4 45.6h0M330.6 36.7h0M322.6 50.7h0M322.3 59.5h0M329.9 54.7h0M326.3 33.6h0M311.6 53.2h0M327.8 33.4h0M326.7 57.4h0M335.9 44.7h0M333.9 42.5h0M327.9 40.3h0M312.9 51.2h0M314.3 47.9h0M325.3 35.4h0M328.2 59.5h0M326.9 55.3h0M332.8 34.0h0M323.9 51.2h0M323.8 36.1h0M316.4 45.9h0M337.0 42.7h0M329.6 37.5h0M324.8 45.0h0M326.2 61.5h0M326.6 54.0h0M331.1 41.8h0M327.3 46.3h0M318.1 59.0h0M314.7 52.6h0M327.9 51.3h0M325.1 48.2h0M327.7 38.9h0M333.0 30.1h0M317.3 46.0h0M319.9 47.4h0M328.3 50.4h0M318.3 62.5h0M311.3 59.7h0M329.5 42.2h0M321.6 36.9h0M327.0 33.0h0M318.6 49.8h0M315.5 56.0h0M323.6 50.5h0M312.6 57.4h0M331.5 32.5h0M315.2 47.0h0M318.8 58.2h0M328.5 58.2h0M322.2 36.4h0M331.1 49.8h0M334.7 37.2h0M312.1 52.3h0M334.4 50.2h0M325.9 56.8h0M328.9 32.2h0M325.2 37.6h0M328.7 38.9h0M322.7 36.5h0M324.8 38.8h0M329.5 33.6h0M336.6 45.9h0M321.4 57.8h0M318.6 48.1h0M315.3 47.2h0M316.0 61.6h0M334.6 43.3h0M322.3 54.8h0M320.3 60.1h0M333.2 39.8h0M325.4 36.5h0M327.8 33.8h0M315.3 49.5h0M317.7 58.6h0M312.6 62.0h0M325.1 50.6h0M331.5 46.1h0M329.8 58.3h0M329.8 50.1h0M323.9 57.2h0M334.7 39.9h0M327.4 42.0h0M330.7 51.3h0M318.8 41.8h0M317.9 47.8h0M327.3 35.0h0M323.9 37.6h0M315.9 45.0h0M322.2 40.8h0M317.5 42.1h0M316.8 59.7h0M312.1 56.7h0M334.1 37.0h0M315.8 53.4h0M334.3 37.8h0M318.3 52.0h0M325.4 35.0h0M328.0 44.8h0M325.7 40.9h0M335.6 47.1h0M330.0 44.0h0M329.9 42.2h0M321.2 53.4h0M323.4 54.9h0M326.9 46.1h0M315.8 63.6h0M332.8 32.9h0M321.5 42.1h0M318.3 54.3h0M318.8 44.0h0M333.9 31.7h0M328.1 38.4h0M330.2 39.4h0M325.9 45.1h0M330.4 38.0h0M328.4 39.2h0M316.9 53.0h0M335.0 46.8h0M332.6 44.7h0M322.1 39.4h0M311.9 51.2h0M333.4 34.9h0M325.5 55.9h0M324.5 48.5h0M330.6 35.1h0M329.1 35.6h0M325.7 48.8h0M311.7 55.1h0M324.6 42.7h0M333.1 42.2h0M318.5 44.3h0M336.8 44.8h0M335.7 33.3h0M326.2 51.6h0M315.3 57.5h0M319.4 51.5h0M334.3 45.2h0M325.7 51.3h0M320.9 63.2h0M324.0 58.5h0M318.6 41.4h0M328.2 42.5h0M328.1 57.2h0M330.9 54.7h0" stroke="#52a5b9" stroke-width="1.2" stroke-linecap="round" opacity="0.95"/>
<path d="M337.4 76.0h0M339.3 89.9h0M326.7 95.0h0M336.3 74.6h0M347.9 85.4h0M343.2 77.4h0M339.5 74.5h0M330.1 84.8h0M338.0 92.1h0M340.3 82.4h0M348.5 81.3h0M339.7 94.5h0M347.0 81.8h0M331.3 91.1h0M337.9 72.7h0M344.2 73.8h0M331.9 91.4h0M328.7 87.5h0M336.0 88.9h0M343.8 72.1h0M349.7 67.9h0M340.3 60.5h0M348.8 78.5h0M344.2 86.2h0M344.6 69.0h0M333.3 89.6h0M336.6 63.1h0M338.0 89.8h0M331.0 96.0h0M334.1 60.5h0M347.2 65.3h0M338.6 64.3h0M335.0 69.7h0M346.9 80.4h0M343.4 65.9h0M337.6 79.8h0M343.8 64.7h0M345.7 74.1h0M341.7 69.0h0M343.3 76.7h0M347.2 85.2h0M338.5 68.2h0M337.9 73.1h0M347.4 80.7h0M344.3 68.5h0M345.0 84.6h0M337.4 75.4h0M331.2 91.8h0M335.1 93.7h0M346.9 87.1h0M329.3 87.9h0M337.8 72.8h0M334.7 81.4h0M329.8 85.6h0M337.0 69.2h0M343.8 68.0h0M343.2 63.0h0M327.4 91.2h0M343.1 65.7h0M341.6 73.0h0M346.1 74.1h0M334.6 84.9h0M348.1 77.6h0M345.9 82.5h0M331.9 96.0h0M342.1 92.5h0M337.5 87.4h0M340.2 67.2h0M333.7 86.1h0M335.8 71.4h0M346.7 90.4h0M341.8 72.3h0M335.5 71.9h0M348.4 70.7h0M335.4 67.6h0M329.3 96.8h0M341.7 94.4h0M336.4 89.3h0M336.3 63.3h0M338.4 93.2h0M345.0 79.0h0M341.0 92.1h0M331.6 95.4h0M345.1 72.7h0M335.6 82.8h0M350.1 71.1h0M335.0 95.1h0M334.9 84.8h0M332.8 92.6h0M332.0 94.6h0M338.6 73.4h0M337.8 70.7h0M345.0 67.5h0M341.0 85.9h0M342.8 84.0h0M341.5 73.4h0M344.1 79.7h0M337.5 73.1h0M342.0 64.5h0M343.1 75.4h0M343.9 85.5h0M338.2 83.7h0M340.7 89.6h0M342.5 88.0h0M340.3 87.4h0M346.1 86.0h0M335.4 72.5h0M340.1 62.5h0M345.1 70.5h0M348.1 71.9h0M339.8 79.9h0M326.6 92.4h0M341.6 64.2h0M345.8 84.6h0M343.6 68.9h0M340.2 77.2h0M335.2 64.9h0M348.6 72.7h0M333.5 82.8h0M330.6 97.8h0M344.8 86.3h0M333.3 87.5h0M331.5 93.1h0M341.9 87.3h0M336.8 82.2h0M337.1 80.1h0M336.1 78.8h0M344.2 75.5h0M341.7 83.2h0M336.2 61.8h0M349.3 64.4h0M341.8 82.3h0M334.1 64.2h0M340.4 74.0h0M342.0 63.0h0M336.4 64.6h0M336.8 71.2h0M335.1 87.8h0M342.5 88.3h0M327.7 89.4h0M333.1 86.7h0M330.9 95.3h0M333.8 74.2h0M335.4 68.3h0M345.2 73.8h0M340.1 94.9h0M327.6 96.9h0M341.9 66.6h0M339.6 71.4h0M339.5 61.1h0M345.2 78.8h0M344.4 72.0h0M345.3 75.1h0M338.8 64.4h0M335.5 88.3h0M344.2 65.8h0M335.0 94.7h0M347.0 74.6h0M340.2 93.9h0M340.3 70.0h0M328.6 89.6h0M335.3 65.1h0M344.0 89.7h0M344.5 64.3h0M341.3 69.7h0M345.0 68.1h0M343.3 67.3h0M336.6 84.2h0M336.3 64.0h0M345.1 70.1h0M349.1 77.7h0M340.3 67.7h0M330.9 97.5h0M327.8 91.3h0M344.2 85.1h0M333.0 91.6h0M324.2 86.2h0M342.8 79.5h0M335.9 84.5h0M345.4 63.7h0M338.3 79.1h0M328.5 86.8h0M347.2 63.0h0M338.6 83.4h0M333.2 83.3h0M340.9 68.1h0M342.3 82.1h0M332.0 64.9h0M334.8 87.9h0M328.9 95.5h0M339.2 68.3h0M340.7 76.2h0M345.0 87.7h0M345.0 64.1h0M339.6 68.5h0M329.3 94.2h0M330.9 93.7h0M340.2 70.8h0M338.0 82.4h0M343.2 77.0h0M347.1 84.3h0M346.7 63.4h0M332.7 92.9h0M338.4 74.6h0M335.2 64.7h0M342.6 75.7h0M347.4 73.6h0M340.7 74.1h0M344.7 82.8h0M346.0 69.4h0M338.2 76.7h0M330.0 98.1h0M330.3 95.2h0M345.3 82.5h0M334.7 68.1h0M347.8 79.2h0M341.9 64.9h0M340.2 66.3h0M337.7 75.4h0M343.7 85.8h0M336.7 68.0h0M346.6 88.9h0M350.4 71.9h0M343.1 81.6h0M346.2 83.9h0M333.9 94.6h0M342.9 71.2h0M334.6 82.9h0M345.0 83.9h0M333.9 64.9h0M325.3 85.7h0M344.5 83.4h0M342.9 62.7h0M331.6 61.4h0M327.5 98.6h0M346.6 79.0h0M340.8 71.6h0M342.7 80.3h0M333.9 69.3h0M349.0 83.4h0M341.2 82.0h0M346.2 90.5h0M328.7 96.4h0M338.0 74.2h0M336.5 91.6h0M333.3 73.4h0M342.8 63.6h0M344.8 74.5h0M334.1 64.3h0M341.6 72.4h0M338.4 90.3h0M326.9 87.3h0M339.2 84.9h0M343.5 75.8h0M337.4 91.7h0M336.7 81.8h0M350.2 63.9h0M346.2 90.3h0M343.5 70.5h0M343.3 87.1h0M343.4 86.8h0M326.4 92.5h0M332.0 61.5h0M337.8 83.0h0M343.6 68.2h0M331.4 85.8h0M338.9 67.0h0M334.8 69.1h0M345.3 90.2h0M340.9 83.1h0M340.5 63.2h0M337.0 69.0h0M336.8 73.8h0M339.0 78.8h0M335.1 66.5h0M329.7 87.9h0M329.4 94.4h0M347.6 72.9h0M333.9 91.6h0M341.7 93.7h0M348.3 76.2h0M341.6 88.0h0M339.3 75.0h0M347.6 85.3h0M345.8 80.1h0M336.9 80.7h0M334.4 59.9h0M342.5 68.7h0M336.0 65.9h0M350.1 64.0h0M348.7 80.8h0M348.4 68.2h0M328.2 97.9h0M336.0 64.5h0M332.2 94.1h0M337.9 87.9h0M333.7 72.2h0M328.8 93.9h0M346.1 74.9h0M345.1 77.1h0M333.0 89.5h0M345.3 85.7h0M350.2 68.5h0M349.6 77.6h0M343.9 74.0h0M331.1 88.6h0M333.5 83.8h0M334.4 88.8h0M328.8 91.3h0M346.0 68.7h0M339.9 78.3h0M336.7 87.8h0M342.8 73.4h0M336.6 87.3h0M330.2 87.9h0M331.4 85.6h0M344.1 77.3h0M348.4 75.8h0M342.5 79.8h0M328.9 90.0h0M337.3 73.6h0M345.2 80.5h0M342.5 64.1h0M338.8 62.3h0M339.6 87.3h0M340.9 70.9h0M339.6 63.6h0M346.2 79.4h0M337.8 81.1h0M341.0 61.5h0M336.0 89.6h0M335.5 73.8h0M344.6 76.0h0M338.5 63.1h0M340.4 84.5h0M340.5 80.5h0M342.5 90.2h0M342.2 82.3h0M333.3 61.0h0M343.4 63.3h0M347.4 73.9h0M350.3 70.5h0M345.5 88.2h0M333.9 63.7h0M336.0 80.4h0M344.9 86.5h0M329.4 94.0h0M332.5 96.8h0M324.4 86.0h0M338.3 82.4h0M326.4 87.5h0M349.2 63.3h0M345.3 70.5h0M339.9 75.2h0M347.4 64.3h0M335.0 71.1h0M342.4 64.6h0M337.0 74.3h0M340.3 64.2h0M334.8 82.7h0M326.1 90.1h0M340.7 86.6h0M334.5 81.6h0M340.3 62.7h0M339.5 76.1h0M346.2 67.1h0M339.7 93.4h0M340.0 80.6h0M339.9 68.5h0M346.4 76.7h0M326.0 87.3h0M341.7 72.7h0M326.9 86.9h0M328.9 92.9h0M342.4 73.7h0M326.5 90.5h0M339.9 74.1h0M340.2 76.5h0M346.7 80.6h0M340.4 94.9h0M337.3 63.7h0M339.1 66.9h0M346.9 72.9h0M347.0 83.3h0M342.8 68.4h0M342.9 78.8h0M326.4 90.9h0M340.4 71.1h0M335.2 93.9h0M345.4 72.1h0M334.4 65.8h0M338.6 73.5h0M345.1 76.9h0M338.7 82.6h0M342.9 93.8h0M342.9 89.8h0M339.6 87.9h0M348.6 72.7h0M332.1 90.9h0M329.1 91.2h0M341.5 71.5h0M337.0 66.1h0M345.5 68.3h0M348.9 69.6h0M327.3 91.2h0M329.9 95.6h0M339.4 74.5h0M347.0 69.3h0M343.6 82.9h0M342.3 75.2h0M342.8 85.9h0M334.2 96.2h0M334.6 63.2h0M341.9 78.6h0M336.5 70.9h0M328.5 90.9h0M348.6 65.4h0M345.3 84.1h0M339.3 92.3h0M335.6 86.8h0M345.6 67.5h0M340.5 66.4h0M343.6 81.3h0M337.6 74.4h0M323.7 86.1h0M346.4 75.5h0M343.3 62.6h0M334.8 79.7h0M343.6 82.2h0M338.3 89.1h0M344.4 62.7h0M346.4 65.9h0" stroke="#96c8de" stroke-width="1.2" stroke-linecap="round" opacity="0.95"/>
<path d="M342.7 31.0h0M338.7 39.5h0M339.5 34.5h0M341.3 29.9h0M343.8 44.4h0M338.2 29.6h0M334.5 31.9h0M343.9 36.0h0M347.3 41.4h0M338.0 41.8h0M340.1 44.9h0M341.6 39.9h0M347.4 36.2h0M347.4 33.3h0M339.5 34.9h0M358.5 40.1h0M346.2 42.6h0M346.1 32.7h0M343.9 42.8h0M339.0 36.9h0M349.6 37.6h0M346.1 36.2h0M360.8 36.6h0M342.5 43.2h0M342.1 44.2h0M362.0 35.2h0M349.8 42.6h0M356.6 34.3h0M360.6 34.1h0M339.8 30.4h0M346.5 37.9h0M361.3 39.4h0M351.4 32.5h0M363.4 40.2h0M335.6 37.3h0M356.2 33.0h0M354.1 41.0h0M345.2 36.7h0M335.6 43.5h0M354.9 39.1h0M352.8 30.7h0M347.2 35.7h0M349.8 42.0h0M338.4 42.3h0M337.8 43.7h0M353.4 36.5h0M341.5 40.9h0M336.1 40.3h0M351.6 39.1h0M337.8 38.8h0M354.8 31.6h0M345.4 40.8h0M346.9 41.8h0M337.6 29.4h0M357.2 34.6h0M355.8 35.7h0M349.7 30.1h0M359.0 34.5h0M353.8 34.8h0M338.7 41.7h0M350.7 34.9h0M353.8 41.1h0M342.9 36.9h0M347.0 31.6h0M344.7 31.0h0M342.1 38.2h0M350.5 38.6h0M348.2 40.4h0M349.7 32.4h0M344.9 35.8h0M353.1 38.3h0M356.5 40.3h0M359.2 34.3h0M363.7 39.3h0M337.7 36.3h0M352.0 30.9h0M343.6 43.0h0M349.5 43.1h0M353.6 39.1h0M344.4 44.3h0M343.9 42.5h0M361.1 39.5h0M355.7 36.5h0M350.4 36.8h0M344.4 42.5h0M344.4 32.4h0M349.6 39.4h0M340.9 30.3h0M346.4 39.8h0M358.1 40.9h0M353.0 31.3h0M357.1 35.1h0M340.4 38.4h0M352.6 31.8h0M343.8 41.7h0M354.8 38.4h0M337.9 30.2h0M345.8 35.8h0M357.5 40.1h0M357.8 40.3h0M336.7 32.1h0M336.8 38.2h0M351.4 31.4h0M343.7 34.8h0M337.9 42.9h0M358.8 38.2h0M349.0 29.2h0M340.6 44.4h0M348.5 41.3h0M353.7 34.5h0M352.9 39.0h0M357.9 41.1h0M351.2 40.0h0M360.0 32.7h0M349.6 38.8h0M353.1 40.1h0M354.1 36.4h0M362.7 40.3h0M343.3 40.4h0M360.1 34.8h0M338.2 39.4h0M364.4 39.5h0M336.4 29.5h0M341.1 31.5h0M334.9 34.7h0M351.3 29.8h0M339.1 30.1h0M346.6 29.0h0M340.1 41.5h0M336.0 36.6h0M343.0 34.9h0M358.6 32.9h0M359.9 37.2h0M349.9 30.6h0M348.1 34.3h0M352.3 41.0h0M346.9 44.9h0M342.9 30.7h0M339.2 36.4h0M347.7 35.1h0M355.0 33.3h0M337.6 32.1h0M358.8 38.8h0M336.5 29.3h0M355.1 35.5h0M351.8 39.3h0M334.1 31.3h0M347.9 38.4h0M352.9 35.8h0M347.5 43.4h0M352.5 30.0h0M344.0 41.7h0M360.9 38.7h0M356.5 31.7h0M346.8 44.7h0M349.3 34.4h0M342.6 35.6h0M336.8 40.4h0M340.9 32.5h0M353.3 40.5h0M336.9 36.9h0M346.5 44.9h0M340.8 40.4h0M360.8 38.9h0M353.0 34.9h0M340.5 41.1h0M338.8 36.1h0M351.1 36.1h0M344.9 30.7h0M338.5 41.5h0M335.4 30.8h0M340.0 37.2h0M360.1 33.3h0M335.9 30.8h0M349.2 36.8h0M359.5 36.5h0M339.7 30.5h0M341.1 31.5h0M356.7 31.4h0M336.9 31.5h0M354.3 31.1h0M355.0 32.1h0M341.1 35.0h0M354.0 39.3h0M343.8 41.3h0M341.3 41.8h0M334.5 31.4h0M356.4 38.8h0M361.6 38.5h0M342.3 43.0h0M344.4 33.6h0M343.9 32.6h0M345.1 36.1h0M340.4 31.0h0M344.5 42.0h0M343.4 41.1h0M336.7 34.4h0M343.5 31.6h0M340.4 36.1h0M342.8 38.5h0M355.9 36.8h0M338.2 42.8h0M352.8 30.0h0M340.1 29.3h0M341.8 44.6h0M336.7 37.3h0M350.5 37.7h0M348.0 29.5h0M340.0 43.5h0M357.0 35.7h0M359.1 35.0h0M360.6 32.9h0M351.7 36.3h0M346.2 40.0h0M334.3 30.8h0M345.1 39.2h0M353.5 35.5h0M347.5 40.3h0M355.4 33.2h0M346.2 35.3h0M342.0 30.3h0M350.6 39.0h0M340.5 39.7h0M354.9 32.7h0M354.6 40.0h0M347.4 34.3h0M348.5 41.1h0M352.9 38.5h0M348.4 32.3h0M341.9 37.5h0M346.1 43.2h0M361.7 40.7h0M353.2 34.7h0M343.1 44.6h0M358.3 32.2h0M336.6 29.4h0M342.5 30.0h0M353.0 31.6h0M359.9 39.9h0M332.8 31.4h0M335.1 29.6h0M352.1 32.5h0M351.7 35.8h0M338.9 35.7h0M344.3 34.5h0M360.2 34.2h0M350.8 29.7h0M346.5 30.1h0M346.8 40.7h0M339.6 34.8h0M340.3 43.2h0" stroke="#a993d2" stroke-width="1.2" stroke-linecap="round" opacity="0.95"/>
<path d="M287.8 95.6h0M288.7 95.8h0M288.3 79.2h0M291.5 84.1h0M290.4 93.7h0M282.4 88.9h0M290.8 88.6h0M282.1 99.0h0M296.5 77.6h0M286.6 93.7h0M277.2 92.5h0M290.8 89.7h0M277.0 95.1h0M280.0 91.9h0M293.0 82.5h0M279.7 98.4h0M292.9 77.9h0M306.1 84.6h0M292.8 75.1h0M277.8 91.5h0M280.5 100.9h0M302.2 89.1h0M283.9 102.5h0M293.4 92.7h0M279.3 89.3h0M297.2 74.9h0M303.8 84.7h0M280.6 93.9h0M281.6 97.4h0M299.3 76.0h0M299.0 89.3h0M278.0 92.3h0M278.1 98.6h0M300.1 82.4h0M281.6 92.9h0M277.3 91.4h0M291.8 94.7h0M292.5 78.0h0M287.4 77.2h0M278.1 98.8h0M295.6 91.9h0M293.1 76.3h0M291.6 98.4h0M277.0 96.7h0M296.5 93.4h0M287.0 85.2h0M298.3 79.9h0M289.8 80.2h0M291.4 92.7h0M290.0 86.6h0M285.2 87.1h0M305.3 85.8h0M291.6 81.5h0M296.1 79.6h0M295.8 80.3h0M293.9 80.4h0M303.5 88.7h0M286.6 103.1h0M281.5 91.3h0M295.6 74.1h0M298.7 78.8h0M285.6 99.2h0M297.2 77.7h0M296.8 87.4h0M276.9 87.4h0M288.8 80.7h0M292.4 93.0h0M280.5 84.7h0M286.1 92.4h0M283.3 82.1h0M299.5 89.0h0M286.1 91.9h0M282.1 86.5h0M289.2 102.6h0M285.6 94.2h0M295.7 81.0h0M293.5 82.3h0M296.4 82.8h0M292.0 94.4h0M281.2 93.3h0M294.7 92.7h0M292.6 82.7h0M284.8 89.1h0M295.5 88.2h0M287.5 100.7h0M278.0 90.3h0M295.6 84.6h0M298.3 84.5h0M289.0 91.2h0M289.8 78.3h0M304.8 84.4h0M288.2 90.0h0M288.5 83.6h0M280.5 84.1h0M303.8 83.9h0M281.6 85.7h0M283.8 82.3h0M275.9 98.3h0M285.1 93.9h0M284.1 95.0h0M281.1 88.6h0M287.3 96.9h0M281.8 84.5h0M276.5 93.4h0M280.4 88.8h0M290.9 89.1h0M283.9 81.0h0M279.2 98.0h0M293.7 80.4h0M276.5 93.0h0M291.6 75.1h0M283.9 86.0h0M289.2 92.5h0M282.7 98.6h0M279.9 99.7h0M296.5 73.5h0M295.1 91.6h0M298.4 86.9h0M278.3 94.8h0M285.5 81.7h0M289.6 86.8h0M296.5 78.0h0M288.8 83.1h0M301.6 82.3h0M292.4 76.8h0M288.4 79.1h0M302.6 82.7h0M277.9 98.0h0M285.5 85.0h0M282.9 95.4h0M300.0 86.4h0M282.7 90.8h0M286.9 85.6h0M284.7 100.6h0M283.0 101.0h0M284.8 94.1h0M279.8 89.9h0M282.2 87.6h0M296.7 90.5h0M306.4 86.3h0M289.9 89.7h0M305.0 84.4h0M286.0 80.1h0M295.4 77.7h0M280.9 82.1h0M290.2 95.6h0M281.2 90.3h0M277.6 99.5h0M297.9 86.2h0M294.8 83.7h0M291.1 77.3h0M285.6 83.2h0M287.9 83.0h0M284.9 79.0h0M301.2 78.2h0M287.7 93.5h0M280.4 99.4h0M297.2 72.8h0M291.0 84.7h0M289.2 90.4h0M287.5 88.9h0M280.1 84.4h0M287.9 88.7h0M284.1 78.6h0M284.2 98.0h0M288.5 81.5h0M283.8 84.2h0M289.8 97.1h0M297.2 84.9h0M285.6 88.2h0M299.1 77.4h0M302.6 81.8h0M282.0 84.9h0M286.6 79.9h0M302.5 88.5h0M301.3 87.3h0M276.1 97.2h0M294.7 83.4h0M280.7 87.1h0M299.9 81.0h0M293.5 88.9h0M284.3 93.0h0M305.5 85.0h0M280.4 89.0h0M303.3 84.6h0M293.9 90.7h0M289.0 90.1h0M303.3 86.6h0M301.3 87.7h0M289.4 92.4h0M285.6 89.0h0M297.6 89.7h0M281.6 100.8h0M291.6 91.8h0M290.3 78.1h0M288.2 91.5h0M296.6 78.6h0M300.7 86.8h0M283.2 97.0h0M293.4 82.2h0M276.2 94.6h0M288.8 84.1h0M289.0 100.0h0M285.8 90.3h0M280.1 85.4h0M296.6 79.6h0M296.6 79.9h0M286.0 77.4h0M295.7 78.5h0M295.8 75.5h0M298.4 85.7h0M295.1 78.4h0M296.8 87.7h0M290.4 79.7h0M299.6 85.3h0M285.7 91.5h0M292.3 86.4h0M285.5 77.9h0M303.9 83.1h0M279.5 85.2h0M282.8 94.5h0M302.7 84.4h0M287.2 102.3h0M299.8 85.9h0M285.5 89.5h0M276.3 95.1h0M280.5 88.2h0M282.7 97.0h0M283.1 84.3h0M277.1 98.5h0M293.7 84.2h0M281.6 94.0h0M280.4 88.3h0M300.7 85.3h0M292.3 79.4h0M291.7 82.4h0M292.5 84.1h0M293.2 85.3h0M296.4 94.5h0M286.8 100.4h0M290.5 80.0h0M297.1 89.2h0M292.2 93.4h0M282.4 91.8h0M280.3 100.2h0M298.2 85.7h0M278.4 91.3h0M280.9 92.8h0M292.1 78.0h0M288.0 95.0h0M285.1 89.4h0M296.8 90.2h0M292.1 89.9h0M301.0 76.7h0M300.4 89.0h0M287.9 82.8h0M284.7 101.3h0M277.0 97.1h0M287.5 86.0h0M283.5 84.6h0M297.5 76.5h0M284.1 97.9h0M299.2 81.4h0M300.0 89.8h0M291.0 97.0h0M295.5 80.8h0M281.6 84.6h0M294.4 90.1h0M277.5 97.5h0M288.6 87.0h0M289.8 96.0h0M283.8 102.3h0M289.6 96.3h0M279.6 87.2h0M287.7 78.4h0M303.4 86.6h0M286.3 81.7h0M277.5 95.4h0M300.8 82.1h0M300.4 83.7h0M289.6 84.4h0M300.4 81.7h0M285.6 81.1h0M296.1 88.4h0M289.1 96.8h0M292.4 78.1h0M294.5 87.0h0M305.2 82.8h0M299.0 77.4h0M291.8 94.4h0M287.8 93.2h0M281.2 99.8h0M284.3 85.4h0M287.7 101.3h0M296.2 88.2h0M293.1 81.3h0M279.6 92.4h0M285.0 88.6h0M283.9 88.6h0M297.4 91.4h0M293.9 84.6h0M301.7 85.9h0M282.2 92.4h0M291.2 90.0h0M300.2 85.4h0M300.7 82.4h0M293.2 93.2h0M277.0 91.9h0M293.1 77.3h0M285.4 83.6h0M300.3 82.1h0M296.4 92.5h0M282.9 95.9h0M295.3 73.5h0M285.4 78.5h0M302.0 89.2h0M279.8 99.8h0M302.1 88.8h0M280.8 100.5h0M297.4 77.6h0M287.4 89.5h0M287.9 94.3h0M296.7 72.2h0M281.1 92.9h0M300.0 81.2h0M300.8 88.5h0M275.5 98.3h0M299.3 84.8h0M304.1 86.3h0M284.7 89.9h0M296.8 86.0h0M295.7 78.8h0M301.0 79.1h0M292.5 81.3h0M277.0 93.6h0M294.0 77.7h0M286.8 98.7h0M297.5 79.2h0M287.6 93.5h0M296.2 73.6h0M290.1 93.1h0M287.4 85.4h0M295.6 79.3h0M283.7 90.3h0M292.5 80.7h0M297.6 85.8h0M291.4 96.4h0M291.7 76.1h0M294.0 91.4h0M284.8 93.4h0M281.9 83.2h0M294.8 78.3h0M292.7 79.4h0M302.9 79.1h0M295.6 88.9h0M283.2 89.8h0" stroke="#ef7a4a" stroke-width="1.2" stroke-linecap="round" opacity="0.95"/>
<path d="M312.9 102.1h0M294.3 97.6h0M310.6 95.3h0M306.4 86.6h0M301.5 99.8h0M303.1 106.9h0M314.6 102.3h0M308.7 88.1h0M305.7 107.0h0M293.2 100.0h0M299.4 99.7h0M306.2 90.1h0M295.2 104.9h0M313.5 99.7h0M302.8 94.2h0M307.5 89.3h0M306.8 101.7h0M303.5 93.9h0M309.8 91.3h0M310.6 104.1h0M298.8 93.1h0M292.1 104.3h0M298.8 94.2h0M291.9 101.6h0M312.6 92.7h0M298.3 105.6h0M307.2 105.0h0M294.3 98.9h0M309.0 96.3h0M294.6 99.9h0M307.8 100.0h0M306.2 93.5h0M313.7 102.0h0M302.1 91.4h0M306.7 101.5h0M309.7 87.1h0M307.7 86.2h0M310.8 91.9h0M295.4 96.2h0M307.0 91.0h0M303.2 101.4h0M306.3 104.1h0M299.8 93.5h0M295.2 106.0h0M313.0 101.8h0M302.7 91.5h0M312.1 98.2h0M310.1 87.7h0M292.6 97.7h0M300.2 100.6h0M308.9 87.2h0M294.5 93.0h0M305.1 96.8h0M309.4 104.0h0M298.2 102.1h0M310.4 89.0h0M305.5 91.0h0M310.4 101.4h0M307.8 105.6h0M299.1 107.7h0M304.8 92.9h0M308.4 86.8h0M291.6 101.2h0M309.4 100.5h0M303.3 99.0h0M305.7 93.6h0M309.8 90.7h0M305.7 97.4h0M307.5 90.0h0M307.4 93.5h0M312.5 94.4h0M310.0 92.6h0M302.3 103.4h0M310.7 101.7h0M306.9 99.7h0M291.6 103.6h0M295.6 95.3h0M295.0 102.4h0M306.5 100.1h0M305.5 103.8h0M309.1 99.4h0M310.2 88.5h0M302.3 96.3h0M303.0 91.2h0M302.2 108.5h0M301.9 94.0h0M300.9 96.3h0M296.5 108.5h0M296.1 98.6h0M304.5 108.1h0M305.3 98.3h0M308.9 90.6h0M296.9 103.4h0M306.4 95.9h0M304.2 92.1h0M297.2 102.9h0M290.6 97.4h0M303.3 107.8h0M302.8 99.3h0M299.9 89.9h0M303.7 95.3h0M308.8 104.0h0M298.2 95.2h0M299.4 95.6h0M296.2 99.1h0M299.1 90.7h0M308.3 88.8h0M303.6 99.1h0M296.7 96.1h0M294.6 100.6h0M311.5 105.0h0M295.9 98.8h0M296.6 91.9h0M298.6 105.5h0M304.2 104.5h0M309.8 95.9h0M296.8 96.2h0M300.4 90.6h0M303.6 91.5h0M295.4 99.9h0M298.4 93.4h0M306.3 106.3h0M299.7 96.8h0M308.2 101.0h0M290.5 103.3h0M305.9 104.5h0M313.4 102.6h0M298.9 100.5h0M300.8 89.0h0M293.3 98.9h0M313.5 103.2h0M308.0 93.9h0M303.5 100.3h0M304.1 107.7h0M308.1 91.9h0M308.4 89.8h0M311.0 89.0h0M313.7 99.0h0M292.1 99.2h0M312.7 94.9h0M305.3 103.8h0M309.3 98.4h0M303.8 102.6h0M295.4 105.0h0M298.1 94.1h0M292.2 102.3h0M305.8 87.6h0M309.6 96.9h0M304.9 95.3h0M308.2 87.1h0M297.6 100.5h0M302.5 92.7h0M295.4 102.1h0M309.0 93.8h0M294.6 106.5h0M292.6 104.2h0M296.3 105.2h0M296.8 99.4h0M296.1 107.9h0M311.2 92.4h0M293.6 99.2h0M301.0 104.8h0M312.7 99.8h0M294.9 103.8h0M301.2 102.4h0M304.4 107.1h0M305.6 97.0h0M308.3 94.9h0M294.6 99.2h0M301.9 93.0h0M302.1 97.3h0M311.5 97.5h0M310.7 101.7h0M300.7 102.5h0M294.2 95.6h0M303.9 96.2h0M298.1 93.9h0M307.2 97.4h0M297.1 96.1h0M301.5 94.9h0M312.2 89.4h0M305.2 99.2h0M298.6 104.6h0M297.7 100.8h0M308.3 89.8h0M297.4 106.4h0M308.1 92.0h0M305.8 92.2h0M303.8 107.8h0M314.8 101.8h0M297.0 95.3h0M308.7 86.4h0M313.3 103.6h0M308.6 92.4h0M301.5 96.6h0M305.9 87.0h0M308.8 98.4h0M297.8 105.6h0M311.0 97.2h0M293.8 102.2h0M296.6 93.6h0M312.3 96.6h0M311.0 102.8h0M305.9 106.3h0M304.8 92.6h0M297.1 107.4h0M302.4 102.8h0M305.3 105.1h0M307.1 92.1h0M308.7 101.0h0M290.1 99.1h0M302.1 100.3h0M298.0 101.8h0M298.7 92.2h0M304.6 98.7h0M309.7 104.4h0M299.2 104.5h0M304.9 105.7h0M309.2 93.0h0M299.5 95.5h0M297.8 95.5h0M292.2 103.2h0M299.2 94.1h0M295.9 101.5h0M306.3 103.1h0M291.0 101.0h0M312.9 102.2h0M306.4 100.0h0M297.3 107.1h0M312.1 87.6h0M301.1 92.9h0M307.5 88.6h0M309.1 90.3h0M297.2 93.9h0M297.0 105.6h0M304.6 101.6h0M306.8 98.8h0M306.9 97.5h0M299.2 103.8h0M290.5 98.5h0M301.5 94.1h0M308.5 102.4h0M311.4 92.5h0M307.7 100.7h0M311.5 87.4h0M307.9 96.7h0M306.1 92.4h0M305.4 91.3h0M291.2 97.8h0M305.2 107.8h0M301.5 90.8h0M293.4 105.3h0M313.1 102.6h0M297.8 97.2h0M301.8 106.9h0M293.2 103.5h0" stroke="#3db54d" stroke-width="1.2" stroke-linecap="round" opacity="0.95"/>
<path d="M317.2 70.5h0M327.9 71.5h0M331.3 69.8h0M318.1 77.2h0M326.3 62.2h0M315.2 80.7h0M310.1 78.3h0M307.3 78.4h0M317.0 67.0h0M308.9 79.5h0M303.5 76.4h0M304.6 80.8h0M308.4 77.8h0M326.9 63.8h0M331.4 59.9h0M309.9 80.3h0M330.5 58.5h0M332.5 58.9h0M324.1 70.3h0M305.8 75.9h0M327.7 56.8h0M300.6 75.7h0M318.6 74.9h0M305.7 71.8h0M324.8 67.5h0M308.3 78.0h0M309.4 80.7h0M312.8 81.5h0M312.4 83.3h0M328.7 67.0h0M330.1 70.8h0M318.0 75.8h0M308.3 84.8h0M316.1 69.6h0M304.7 82.8h0M313.2 67.5h0M305.2 74.5h0M321.0 64.0h0M316.5 67.8h0M327.5 60.9h0M315.8 73.6h0M316.7 80.7h0M326.6 59.6h0M316.8 69.0h0M304.8 73.5h0M308.8 74.0h0M313.1 79.0h0M331.2 58.4h0M302.7 77.9h0M326.0 71.3h0M315.2 65.7h0M323.5 67.0h0M332.0 65.5h0M319.0 67.2h0M318.1 72.8h0M322.9 66.8h0M320.2 65.7h0M318.4 69.7h0M304.2 76.4h0M324.8 69.1h0M329.7 62.3h0M323.7 61.3h0M310.0 81.9h0M326.7 60.1h0M309.3 71.6h0M330.5 68.8h0M319.8 65.7h0M311.0 78.1h0M307.8 79.5h0M309.6 85.2h0M308.5 79.4h0M319.9 64.5h0M314.4 73.1h0M311.5 84.4h0M331.2 62.9h0M327.5 61.7h0M313.3 64.8h0M313.7 69.6h0M317.7 72.7h0M316.7 74.7h0M333.2 62.2h0M311.8 69.3h0M314.2 68.6h0M329.0 64.6h0M313.6 80.4h0M332.5 65.9h0M326.8 70.1h0M324.7 72.2h0M314.5 79.2h0M317.1 74.3h0M316.9 62.7h0M302.0 77.5h0M311.7 79.0h0M330.1 65.9h0M324.8 69.1h0M330.8 62.1h0M315.0 66.6h0M332.6 59.7h0M323.6 63.7h0M312.2 77.2h0M312.0 75.7h0M323.6 70.7h0M307.3 72.6h0M319.8 72.2h0M308.4 74.7h0M316.2 83.9h0M318.0 62.8h0M308.2 71.0h0M329.0 70.4h0M312.2 69.5h0M317.4 66.8h0M327.9 59.5h0M311.1 84.2h0M315.8 76.2h0M323.8 60.0h0M328.7 65.6h0M317.0 81.1h0M308.8 80.7h0M329.9 66.2h0M313.8 71.0h0M315.8 71.9h0M312.9 78.4h0M308.8 74.4h0M329.0 65.4h0M318.9 74.4h0M327.5 58.1h0M312.3 79.9h0M325.1 65.1h0M306.5 75.2h0M319.7 69.3h0M322.1 71.8h0M331.2 62.4h0M315.1 80.4h0M315.2 76.2h0M322.3 65.0h0M316.3 80.8h0M317.4 73.3h0M322.0 68.1h0M325.2 68.9h0M317.5 64.4h0M330.6 66.8h0M309.8 77.4h0M323.4 63.4h0M315.5 64.8h0M328.5 69.2h0M321.1 62.3h0M317.3 81.6h0M327.1 71.2h0M321.8 67.9h0M327.1 59.9h0M307.9 70.4h0M329.1 68.2h0M311.7 70.9h0M313.5 76.9h0M326.8 69.2h0M308.6 76.8h0M327.6 62.9h0M315.6 82.6h0M323.6 73.3h0M314.0 82.7h0M318.5 77.3h0M315.9 68.0h0M306.0 75.9h0M317.1 77.0h0M307.3 79.1h0M317.1 78.8h0M302.4 74.7h0M310.4 77.8h0M313.7 80.6h0M330.4 62.6h0M313.7 73.5h0M327.7 66.3h0M312.5 83.7h0M323.1 67.5h0M328.7 64.0h0M310.6 75.4h0M303.1 73.0h0M311.0 71.5h0M315.3 65.9h0M316.9 67.2h0M312.0 80.7h0M323.1 69.6h0M320.7 68.3h0M329.8 62.1h0M316.2 79.6h0M312.3 77.4h0M322.0 67.9h0M317.7 64.4h0M310.1 83.4h0M327.2 71.2h0M332.4 69.8h0M328.3 66.5h0M319.4 72.2h0M306.4 73.4h0M330.8 67.4h0M308.5 81.6h0M309.6 80.3h0M313.6 68.5h0M323.2 68.7h0M327.2 67.2h0M322.8 62.9h0M327.0 61.2h0M332.0 62.6h0M308.5 73.9h0M306.2 77.0h0M331.6 62.0h0M309.7 74.8h0M322.7 70.8h0M309.8 82.0h0M311.6 74.6h0M306.6 85.6h0M323.0 72.4h0M332.9 67.2h0M327.0 65.8h0M312.9 67.2h0M319.7 62.8h0M308.5 79.6h0M317.4 62.3h0M326.6 71.5h0M316.0 75.5h0M332.5 66.6h0M316.7 79.7h0M309.7 70.6h0M314.1 74.5h0M317.5 63.3h0M331.0 63.7h0M326.1 67.6h0M321.4 70.7h0M325.4 71.0h0M314.0 81.8h0M329.4 65.2h0M305.3 75.3h0M321.6 71.4h0M316.1 68.5h0M328.0 66.8h0M304.5 73.8h0M317.9 78.5h0M325.1 64.9h0M298.2 74.1h0M328.6 69.6h0M330.3 62.9h0M329.2 65.6h0M315.3 63.4h0M312.2 69.8h0M308.0 73.3h0M327.1 63.9h0M334.0 65.7h0M300.7 77.7h0M307.6 83.1h0M303.7 75.9h0M326.5 69.7h0M333.1 62.4h0M328.6 70.6h0M324.3 64.5h0M312.5 75.8h0M308.6 71.4h0M304.7 78.3h0M311.0 80.2h0M318.5 64.1h0M315.4 73.7h0M316.2 79.7h0M321.9 62.9h0M316.5 74.2h0M308.4 82.9h0M322.2 74.2h0M304.9 74.2h0M315.8 66.6h0M331.8 59.4h0M317.8 71.3h0M318.9 62.9h0M330.4 64.0h0M328.6 62.7h0M322.3 72.6h0M306.9 74.3h0M313.3 70.2h0M312.0 68.9h0M310.4 72.1h0M331.8 56.1h0M301.9 74.4h0M331.1 65.2h0M314.1 79.2h0M301.2 77.4h0M325.2 63.2h0M313.0 70.3h0M325.6 65.0h0M330.4 69.5h0M305.3 82.6h0M312.7 68.9h0M322.9 70.8h0M323.3 68.2h0M332.7 57.1h0M328.5 68.4h0M302.5 78.6h0M314.7 70.4h0M327.0 67.7h0M331.0 68.9h0M302.7 74.8h0M307.4 81.8h0M307.3 82.5h0M324.3 67.6h0M325.7 71.7h0M315.3 78.0h0M325.0 64.1h0M327.5 69.5h0M322.5 67.5h0M314.2 71.7h0M327.3 63.1h0" stroke="#ec97a2" stroke-width="1.2" stroke-linecap="round" opacity="0.95"/>
<path d="M298.5 61.2h0M305.4 47.1h0M298.8 63.1h0M302.2 59.8h0M308.2 55.6h0M295.5 57.0h0M300.4 49.4h0M294.7 52.3h0M297.9 62.0h0M297.1 44.1h0M305.5 51.7h0M292.1 53.0h0M297.4 47.6h0M294.2 61.1h0M300.1 49.7h0M310.2 58.9h0M303.0 47.1h0M303.9 55.3h0M287.4 47.1h0M300.3 47.2h0M302.0 41.4h0M306.4 57.2h0M297.4 57.2h0M307.2 46.7h0M307.8 53.1h0M298.1 55.4h0M295.7 52.3h0M308.6 52.6h0M306.4 52.0h0M301.0 60.4h0M295.4 50.1h0M303.2 47.8h0M302.3 53.2h0M296.2 49.4h0M306.5 46.1h0M306.9 53.7h0M307.9 51.5h0M291.0 48.9h0M304.7 53.8h0M303.7 46.1h0M303.6 45.5h0M290.5 47.5h0M297.4 52.1h0M296.9 50.4h0M302.7 51.2h0M297.2 46.4h0M296.5 47.3h0M302.5 57.4h0M296.1 53.8h0M303.7 54.9h0M299.8 60.8h0M303.5 61.2h0M298.6 54.8h0M295.7 56.8h0M306.9 54.7h0M290.8 47.7h0M304.1 48.6h0M303.4 57.7h0M290.5 44.7h0M303.0 57.5h0M299.7 50.5h0" stroke="#e9b49a" stroke-width="1.2" stroke-linecap="round" opacity="0.95"/>
<path d="M332.6 73.9h0M325.6 84.4h0M322.5 77.0h0M331.4 74.5h0M325.0 81.8h0M324.4 83.3h0M326.3 78.3h0M324.9 75.8h0M324.0 85.4h0M330.8 83.1h0M333.2 78.1h0M333.5 77.4h0M323.8 86.3h0M335.5 77.6h0M327.5 75.5h0M330.8 74.5h0M326.8 73.7h0M330.3 83.7h0M321.0 84.5h0M330.6 75.8h0M325.9 77.7h0M329.0 73.9h0M320.5 82.5h0M326.6 77.3h0M324.4 82.4h0M319.1 78.4h0M329.2 80.0h0M334.0 80.9h0M322.4 79.1h0M328.5 74.7h0M328.7 79.3h0M336.1 76.9h0M335.8 76.4h0M327.5 75.7h0M320.8 78.7h0M320.9 78.3h0M320.3 74.9h0M329.8 84.7h0M329.6 75.7h0M321.9 77.7h0M321.6 77.0h0M321.6 82.4h0M334.2 75.6h0M325.1 79.5h0M332.5 74.3h0M326.3 83.6h0M333.6 77.2h0M328.4 74.2h0M336.6 76.3h0M326.7 86.1h0M327.7 84.0h0M327.9 79.5h0M329.8 83.0h0M332.7 81.0h0M325.7 81.9h0M335.7 78.4h0M320.5 75.3h0M328.9 81.9h0M327.9 85.2h0M326.2 86.6h0M326.7 72.6h0M327.7 75.9h0M322.6 85.2h0M321.2 79.9h0M327.6 74.4h0M331.8 74.2h0M325.4 78.5h0M326.4 84.4h0M333.0 76.1h0M320.4 81.3h0M318.7 77.0h0M319.7 78.3h0M331.4 74.3h0M324.7 75.2h0M329.4 73.2h0M331.3 72.3h0M330.0 83.3h0M334.4 77.1h0M335.9 75.9h0M332.0 77.5h0M319.1 77.7h0M323.8 75.3h0M318.0 82.8h0M330.3 75.7h0M317.6 83.2h0M322.1 74.6h0M324.8 85.6h0M319.6 75.0h0M330.0 76.9h0M323.6 83.0h0M319.6 80.2h0M318.0 82.9h0M321.6 81.4h0M324.6 77.1h0M331.9 83.0h0M326.1 81.1h0M335.0 80.1h0M326.1 77.0h0M330.1 80.8h0M328.4 77.8h0M330.8 71.9h0M333.3 74.4h0M334.5 75.9h0M333.4 75.8h0M327.8 79.9h0M323.1 76.6h0M332.6 71.3h0M320.8 77.6h0M331.4 76.2h0M326.6 73.4h0M330.2 82.8h0M322.4 83.0h0M319.1 78.6h0M323.1 83.7h0M335.2 76.6h0" stroke="#f2b3bd" stroke-width="1.2" stroke-linecap="round" opacity="0.95"/>
<path d="M300.7 67.3h0M299.5 68.0h0M303.0 66.1h0M309.2 67.1h0M300.6 68.8h0M312.0 68.0h0M304.2 65.0h0M308.6 62.7h0M303.2 63.7h0M308.6 68.5h0M304.5 65.2h0M302.5 72.3h0M301.0 72.1h0M298.3 67.7h0M302.3 67.5h0M307.1 62.7h0M302.5 72.7h0M307.8 70.8h0M301.8 63.6h0M300.1 70.2h0M298.4 62.4h0M302.3 72.9h0M308.5 66.8h0M302.3 68.0h0M305.2 63.9h0M308.1 70.9h0M304.9 65.4h0M307.1 68.1h0M305.6 63.2h0M298.5 67.9h0M307.6 66.9h0M309.5 67.4h0M301.1 66.0h0M307.2 68.9h0M304.2 61.2h0M305.1 70.1h0M304.8 66.7h0M306.7 70.3h0M297.9 74.0h0M307.1 63.3h0M299.6 67.2h0M304.2 66.2h0M312.2 67.3h0M306.3 65.7h0M310.1 63.0h0M309.5 59.6h0M305.6 62.8h0M303.4 68.6h0M300.0 72.8h0M306.0 63.7h0M301.3 65.6h0M308.3 67.0h0M301.0 72.5h0M299.8 71.7h0M306.9 71.5h0M309.8 68.0h0M312.7 66.3h0M306.6 66.0h0M303.7 68.6h0M298.5 67.4h0M309.5 67.4h0M304.1 65.2h0M304.0 64.0h0M305.6 61.2h0M296.3 61.9h0M312.2 63.5h0M307.7 70.0h0M300.5 69.4h0M311.1 69.3h0M300.7 69.9h0M306.2 63.1h0M306.3 62.1h0M302.5 71.4h0M312.5 66.3h0M301.1 75.4h0M309.4 62.1h0M306.7 65.8h0M306.5 70.8h0M307.9 62.1h0M305.0 66.7h0M310.1 62.3h0M306.5 67.4h0M299.2 68.7h0M303.7 72.9h0M304.7 62.4h0M311.4 66.8h0M313.7 66.6h0" stroke="#f0b8c0" stroke-width="1.2" stroke-linecap="round" opacity="0.95"/>
<path d="M317.3 89.4h0M321.1 92.1h0M318.7 83.4h0M312.9 85.4h0M324.9 92.4h0M313.2 87.8h0M319.1 96.1h0M316.6 98.0h0M322.4 91.7h0M321.7 87.8h0M313.0 91.2h0M321.8 95.7h0M321.8 92.9h0M319.8 84.5h0M315.1 85.4h0M321.4 84.5h0M321.3 95.5h0M322.2 88.4h0M318.7 96.5h0M321.5 98.6h0M321.0 87.6h0M314.3 93.7h0M324.8 92.4h0M324.2 95.5h0M314.8 96.7h0M325.3 88.2h0M323.4 88.5h0M313.4 88.2h0M321.1 93.2h0M321.1 89.7h0M322.2 89.9h0M315.0 85.4h0M316.6 93.6h0M316.4 92.7h0M319.4 94.4h0M320.0 97.8h0M316.8 85.3h0M314.6 90.6h0M323.5 97.4h0M317.1 86.6h0M316.1 95.6h0M322.8 94.3h0M322.3 89.6h0M320.0 94.0h0M316.1 100.6h0M319.7 91.7h0M325.1 97.5h0M317.7 85.8h0M325.1 98.0h0M320.1 95.5h0M319.1 96.0h0M314.5 100.3h0M320.3 87.2h0M323.4 96.4h0M313.9 97.1h0M320.9 86.2h0M321.3 98.0h0M318.4 82.5h0M319.0 97.7h0M320.6 86.2h0M320.0 94.9h0M321.7 97.0h0M317.2 91.3h0M312.5 90.6h0M315.7 93.2h0M315.0 92.2h0M313.6 90.4h0M324.4 95.6h0M319.4 86.3h0M317.7 87.8h0M312.4 93.2h0M316.7 89.2h0M318.0 91.3h0M319.9 98.5h0M316.1 89.4h0M324.6 98.8h0M318.8 94.1h0M317.7 93.8h0M325.5 97.1h0M318.7 89.9h0M317.0 89.9h0M315.0 96.1h0M317.8 88.3h0M317.8 86.9h0M316.1 87.8h0" stroke="#f2b8c4" stroke-width="1.2" stroke-linecap="round" opacity="0.95"/>
<path d="M345.3 60.2h0M339.4 49.6h0M339.4 59.9h0M339.7 47.7h0M343.6 55.4h0M350.1 61.3h0M346.6 60.9h0M337.4 50.4h0M341.9 49.7h0M338.6 58.1h0M346.4 54.5h0M333.1 51.3h0M336.9 61.4h0M350.2 59.0h0M335.9 55.2h0M337.0 54.9h0M344.5 46.8h0M336.8 55.4h0M344.4 57.4h0M341.3 57.3h0M335.9 55.0h0M340.7 54.0h0M347.4 58.3h0M334.1 53.5h0M339.8 56.2h0M344.2 58.8h0M336.1 55.1h0M340.2 62.1h0M344.5 56.1h0M336.2 60.0h0M338.0 57.5h0M343.9 60.2h0M344.3 56.3h0M334.4 57.0h0M336.8 54.7h0M349.0 56.9h0M336.9 51.7h0M344.0 48.7h0M334.8 57.3h0M347.9 55.8h0M343.2 61.6h0M343.3 51.0h0M332.7 55.7h0M339.8 55.8h0M347.7 61.4h0M343.5 53.9h0M342.7 51.9h0M336.4 47.6h0M335.1 55.3h0M340.8 53.4h0M343.8 56.7h0M350.0 58.5h0M344.9 46.2h0M348.4 55.9h0M340.5 58.9h0M339.8 55.1h0M337.2 49.7h0M345.9 51.9h0M338.8 55.4h0M341.4 46.1h0M342.8 58.5h0M338.7 52.0h0M342.6 46.5h0M333.5 57.6h0M347.1 63.4h0M335.2 56.0h0M335.7 54.8h0M338.3 46.7h0M347.5 55.4h0M347.3 61.8h0M343.4 62.3h0M335.3 51.3h0M336.4 59.0h0M342.2 47.3h0M344.1 55.4h0M344.5 56.9h0M348.3 55.0h0M340.9 53.4h0M350.1 62.7h0M335.3 60.5h0M338.0 50.0h0M345.2 53.0h0M343.1 51.2h0M346.4 53.1h0M349.5 63.7h0M337.3 51.9h0M345.9 63.6h0M336.1 56.6h0M341.0 53.0h0M338.4 58.1h0M342.0 59.5h0M341.6 49.9h0M346.5 52.0h0M338.9 52.0h0M349.3 56.4h0M337.2 55.6h0M344.7 48.9h0M333.5 59.8h0M344.3 58.0h0M333.3 54.2h0M345.6 62.2h0M346.5 59.9h0M343.8 46.0h0M331.8 56.9h0M334.4 60.6h0M334.8 51.0h0M335.8 58.8h0M344.4 50.6h0M336.4 58.7h0M346.1 58.8h0M336.9 49.1h0M342.9 56.3h0M338.2 53.0h0M335.0 52.4h0M348.2 60.2h0M345.1 57.4h0M336.8 58.6h0M345.0 58.2h0M342.0 52.5h0M343.0 47.6h0M345.2 59.5h0M335.5 54.2h0M344.3 48.1h0M334.5 53.0h0M338.2 50.4h0M342.7 47.5h0M344.8 56.0h0M347.5 59.9h0M336.5 51.0h0M347.5 57.8h0M342.2 57.5h0M344.5 49.8h0M335.9 54.2h0M337.1 52.7h0M348.4 60.5h0M347.8 55.2h0M349.2 57.6h0M341.8 47.9h0M339.9 47.4h0M342.5 49.5h0M332.9 56.9h0M340.4 55.9h0M349.3 57.6h0M343.3 59.0h0M338.0 54.3h0M335.4 54.7h0M334.7 50.4h0M343.9 62.0h0" stroke="#4a9fb0" stroke-width="1.2" stroke-linecap="round" opacity="0.95"/>
<path d="M292.4 42.0h0M301.8 40.8h0M292.1 42.8h0M291.0 41.8h0M294.1 44.9h0M296.9 42.3h0M291.2 45.5h0M298.0 37.8h0M296.0 37.5h0M293.3 38.4h0M291.8 45.5h0M289.0 44.1h0M297.6 44.5h0M301.6 39.2h0M302.0 40.8h0M292.8 48.7h0M296.4 45.4h0M293.2 44.7h0M301.4 37.9h0M303.2 39.6h0M299.0 39.2h0M301.0 42.5h0M292.7 45.5h0M289.1 43.3h0M289.2 46.9h0M293.8 41.9h0M289.7 46.7h0M297.7 43.5h0M288.0 46.3h0M290.5 44.3h0M297.5 45.3h0M292.7 43.6h0M293.7 42.1h0M292.9 45.3h0" stroke="#bd6638" stroke-width="1.2" stroke-linecap="round" opacity="0.95"/>
<clipPath id="cp4"><path d="M371.0 94.0 L374.2 83.5 L379.5 77.1 L376.3 66.5 L378.5 53.8 L384.8 43.3 L393.3 39.0 L401.7 43.3 L408.0 49.6 L412.3 39.0 L420.8 32.7 L433.5 29.5 L450.4 29.5 L461.0 34.8 L463.0 42.2 L450.4 43.3 L444.0 49.6 L448.3 62.3 L446.2 77.1 L444.0 89.8 L433.5 94.0 L420.8 94.0 L412.3 102.5 L401.7 108.8 L391.2 106.7 L382.7 100.4 L374.2 98.3Z"/></clipPath>
<g clip-path="url(#cp4)" opacity="0.3">
<circle cx="393.3" cy="43.3" r="8" fill="#bd6638" opacity="0.20" filter="url(#bl)"/>
<circle cx="382.7" cy="58" r="8" fill="#5b8fd0" opacity="0.60" filter="url(#bl)"/>
<circle cx="382.7" cy="68.7" r="8" fill="#5b8fd0" opacity="0.60" filter="url(#bl)"/>
<circle cx="397.5" cy="56" r="8" fill="#e9b49a" opacity="0.25" filter="url(#bl)"/>
<circle cx="398" cy="47" r="8" fill="#e9b49a" opacity="0.20" filter="url(#bl)"/>
<circle cx="404" cy="64" r="8" fill="#efb5c0" opacity="0.50" filter="url(#bl)"/>
<circle cx="420.8" cy="41.2" r="8" fill="#52a5b9" opacity="1.00" filter="url(#bl)"/>
<circle cx="418.7" cy="51.7" r="8" fill="#52a5b9" opacity="1.00" filter="url(#bl)"/>
<circle cx="429.2" cy="37" r="8" fill="#52a5b9" opacity="1.00" filter="url(#bl)"/>
<circle cx="442" cy="32.7" r="8" fill="#a993d2" opacity="0.70" filter="url(#bl)"/>
<circle cx="456.7" cy="37" r="8" fill="#a993d2" opacity="0.70" filter="url(#bl)"/>
<circle cx="439.8" cy="62.3" r="8" fill="#96c8de" opacity="1.00" filter="url(#bl)"/>
<circle cx="437.7" cy="83.5" r="8" fill="#96c8de" opacity="1.00" filter="url(#bl)"/>
<circle cx="444" cy="55" r="8" fill="#4a9fb0" opacity="0.80" filter="url(#bl)"/>
<circle cx="412.3" cy="72.9" r="8" fill="#f0b8c4" opacity="0.75" filter="url(#bl)"/>
<circle cx="428" cy="83" r="8" fill="#ec97a2" opacity="1.00" filter="url(#bl)"/>
<circle cx="422.9" cy="62.3" r="8" fill="#e8b0c8" opacity="0.70" filter="url(#bl)"/>
<circle cx="414" cy="85" r="8" fill="#f4c0c8" opacity="0.70" filter="url(#bl)"/>
<circle cx="380.6" cy="87.7" r="8" fill="#ef7a4a" opacity="1.00" filter="url(#bl)"/>
<circle cx="374.2" cy="92" r="8" fill="#ef7a4a" opacity="1.00" filter="url(#bl)"/>
<circle cx="391.2" cy="83.5" r="8" fill="#ef7a4a" opacity="1.00" filter="url(#bl)"/>
<circle cx="399.6" cy="100.4" r="8" fill="#3db54d" opacity="1.00" filter="url(#bl)"/>
<circle cx="406" cy="97" r="8" fill="#3db54d" opacity="1.00" filter="url(#bl)"/>
</g>
<path d="M434.5 41.4h0M411.9 43.3h0M428.4 49.3h0M424.5 38.7h0M431.3 41.5h0M418.1 41.1h0M419.1 39.9h0M430.0 44.9h0M433.6 45.4h0M418.6 38.9h0M417.5 43.4h0M414.9 54.5h0M426.4 51.0h0M431.5 37.3h0M409.8 51.0h0M429.6 43.4h0M426.7 41.2h0M422.8 46.1h0M416.5 43.0h0M429.7 35.4h0M410.3 44.6h0M430.8 42.7h0M431.3 40.5h0M427.8 35.3h0M422.7 36.4h0M417.2 42.4h0M433.7 43.8h0M416.0 57.0h0M428.0 44.6h0M431.1 38.4h0M428.1 52.5h0M416.7 44.3h0M413.9 51.0h0M423.6 32.5h0M421.5 38.5h0M423.9 32.6h0M420.1 52.9h0M427.1 34.6h0M421.7 41.6h0M430.9 34.6h0M422.2 39.9h0M434.0 41.7h0M412.4 60.0h0M432.9 43.0h0M420.3 56.6h0M429.4 43.7h0M435.9 34.5h0M413.6 39.5h0M427.7 49.1h0M426.8 35.3h0M424.2 40.5h0M423.1 41.3h0M415.7 50.6h0M426.8 36.3h0M415.8 40.5h0M427.2 34.0h0M411.4 46.3h0M412.0 45.3h0M431.1 33.9h0M416.5 54.9h0M427.0 49.0h0M428.1 34.6h0M418.8 54.5h0M418.9 34.9h0M434.5 36.5h0M433.9 32.8h0M430.6 43.9h0M417.5 55.9h0M410.4 54.6h0M433.2 43.1h0M424.5 54.3h0M416.4 53.8h0M435.9 42.8h0M417.6 50.6h0M426.7 41.4h0M422.3 33.6h0M424.2 38.9h0M433.7 34.9h0M425.8 51.2h0M415.7 51.9h0M417.6 45.6h0M411.8 50.4h0M427.0 41.1h0M420.6 49.2h0M420.5 36.0h0M426.5 54.5h0M435.6 33.6h0M428.8 31.4h0M419.6 35.7h0M435.5 39.4h0M437.5 43.1h0M430.6 52.4h0M417.3 55.4h0M422.2 46.4h0M426.1 42.3h0M425.8 48.6h0M413.4 54.3h0M434.5 38.8h0M419.5 47.4h0M433.7 44.0h0M416.4 47.1h0M412.3 42.8h0M418.2 48.2h0M420.1 44.1h0M424.8 35.2h0M434.7 37.2h0M430.9 33.8h0M416.9 36.0h0M415.4 39.0h0M423.4 34.1h0M426.2 47.7h0M424.2 37.7h0M426.9 34.9h0M425.5 32.1h0M417.1 37.7h0M431.0 37.5h0M419.2 41.2h0M411.0 53.0h0M433.6 33.7h0M416.9 39.8h0M426.6 40.7h0M425.5 35.4h0M437.3 40.3h0M412.9 39.0h0M422.8 41.7h0M421.2 34.0h0M424.5 37.0h0M429.5 53.2h0M428.7 48.0h0M434.7 31.7h0M423.1 52.8h0M418.4 42.0h0M411.2 44.9h0M433.9 36.6h0M422.1 34.8h0M428.0 38.8h0M417.5 40.9h0M412.0 56.5h0M429.9 33.6h0M414.2 44.1h0M420.8 50.0h0M425.2 34.5h0M423.2 39.4h0M422.7 51.6h0M424.5 47.8h0M417.4 57.9h0M418.1 37.3h0M419.6 42.9h0M413.5 56.5h0M423.5 38.3h0M416.8 35.9h0M411.3 56.3h0M424.8 41.6h0M423.6 49.1h0M427.7 39.7h0M432.5 32.4h0M421.6 34.7h0M415.3 43.7h0M427.1 46.6h0M413.6 50.8h0M420.9 41.1h0M433.0 46.5h0M432.4 50.7h0M435.1 41.3h0M420.6 49.9h0M428.5 43.9h0M425.1 34.6h0M439.2 42.0h0M419.9 50.3h0M433.6 33.4h0M429.0 33.4h0M429.4 36.3h0M424.5 50.7h0M433.7 44.6h0M416.2 40.5h0M429.8 43.3h0M425.0 54.8h0M418.8 35.3h0M413.3 46.8h0M420.3 40.9h0M419.2 46.8h0M430.0 46.0h0M420.8 35.7h0M419.4 54.0h0M430.1 36.0h0M414.5 39.8h0M429.7 51.8h0M413.1 49.5h0M431.9 33.4h0M414.1 41.5h0M426.9 48.1h0M434.5 45.7h0M422.9 49.4h0M409.5 47.8h0M436.0 44.2h0M410.3 56.4h0M416.7 41.1h0M421.1 38.3h0M432.5 39.6h0M416.6 47.2h0M414.9 56.4h0M425.7 45.5h0M431.1 48.6h0M411.5 41.0h0M431.7 43.0h0M424.4 43.5h0M412.5 55.2h0M414.6 55.3h0M431.1 44.2h0M425.3 37.3h0M424.7 33.2h0M420.8 38.3h0M422.8 39.7h0M429.7 48.2h0M436.4 41.1h0M417.5 44.8h0M432.2 39.9h0M413.3 43.9h0M409.3 49.6h0M421.5 44.4h0M417.1 37.3h0M426.0 46.4h0M416.5 42.2h0M435.6 42.5h0M419.1 45.8h0M425.6 40.6h0M436.7 38.2h0M432.4 47.1h0M415.5 56.8h0M431.0 38.5h0M413.5 48.4h0M422.0 42.1h0M423.5 46.9h0M424.4 42.2h0M423.6 39.0h0M418.7 36.0h0M413.1 46.8h0M418.7 51.1h0M431.3 41.7h0M426.4 44.8h0M421.1 44.9h0M419.0 39.4h0M430.9 50.4h0M422.7 43.2h0M414.2 43.9h0M427.4 54.1h0M424.2 53.2h0M436.3 41.8h0M411.9 57.3h0M421.5 54.1h0M431.1 44.6h0M429.7 35.0h0M435.6 41.7h0M425.2 43.2h0M413.0 48.1h0M420.3 40.5h0M430.1 30.8h0M427.7 36.7h0M411.8 55.1h0M409.9 53.4h0M422.2 53.7h0M435.3 42.7h0M415.4 37.7h0M435.2 35.8h0M427.4 40.0h0M412.3 49.7h0M428.0 54.1h0M412.1 57.8h0M422.2 39.1h0M420.7 35.1h0M424.5 42.3h0M424.4 32.4h0M421.9 41.7h0M434.4 36.4h0M430.5 32.7h0M410.1 44.8h0M420.2 51.2h0M437.4 44.1h0M425.2 38.2h0M433.4 49.1h0M417.7 38.9h0M412.2 54.1h0M428.3 46.9h0M417.5 35.2h0M424.5 36.4h0M409.0 56.0h0M434.4 34.7h0M432.2 41.5h0M414.6 39.8h0M411.1 50.9h0M418.7 56.3h0M425.6 43.4h0M415.3 57.4h0M412.4 60.5h0M429.8 54.7h0M423.5 38.8h0M421.8 41.8h0M427.8 32.4h0M430.1 50.9h0M431.4 45.5h0M414.2 39.7h0M412.4 54.9h0M431.1 33.8h0M424.8 45.6h0M420.2 34.7h0M418.8 47.4h0M427.4 33.5h0M412.2 51.5h0M420.8 32.9h0M423.9 48.3h0M424.9 35.5h0M427.5 36.4h0M426.2 52.0h0M432.2 39.6h0M430.5 45.6h0M412.8 58.7h0M433.5 43.1h0M435.6 41.5h0M413.5 47.1h0M430.7 53.5h0M425.7 45.7h0M420.6 43.4h0M425.4 49.0h0M416.9 45.9h0M411.8 53.6h0M422.3 47.6h0M412.2 47.4h0M420.4 37.1h0M431.8 38.5h0M410.7 45.2h0M435.6 45.0h0M422.3 50.7h0M424.9 41.8h0M417.5 54.4h0M429.0 51.7h0M419.8 51.6h0M411.0 44.5h0M410.8 55.6h0M430.4 45.4h0M426.1 40.1h0M415.8 56.9h0M425.6 44.6h0M415.0 57.6h0M425.6 44.4h0M434.5 43.9h0M419.1 40.7h0M432.7 39.7h0M416.6 49.2h0M408.9 52.4h0M435.3 40.3h0M413.9 41.5h0M420.8 38.9h0M412.6 48.5h0M419.0 36.8h0M430.5 37.8h0M422.7 46.7h0M420.2 50.2h0M422.4 50.9h0M422.8 32.5h0M431.3 42.7h0M414.9 49.5h0M430.8 32.3h0M422.4 55.4h0M426.7 42.5h0M430.2 41.0h0M433.9 33.4h0M418.2 42.7h0M435.9 46.6h0M420.7 42.1h0M432.7 46.0h0M418.6 48.6h0M414.4 45.5h0M419.2 51.5h0M411.1 49.3h0M415.2 41.5h0M426.2 48.0h0M431.2 38.9h0M412.2 43.0h0M427.3 31.6h0M422.5 57.1h0M421.5 44.5h0M418.7 46.3h0M412.7 43.9h0M416.2 46.4h0M424.5 53.6h0M421.8 50.1h0M416.0 41.7h0M435.5 42.4h0M415.9 36.4h0M424.6 47.8h0M413.4 44.3h0M417.4 41.6h0M430.2 45.2h0M414.3 38.8h0M413.4 48.4h0M428.0 54.5h0M424.1 40.7h0M420.5 33.8h0M437.0 42.8h0M420.8 51.9h0M415.6 45.7h0M426.8 37.0h0M427.1 52.8h0M415.4 57.8h0M411.2 57.5h0M424.2 46.6h0M433.4 34.7h0M416.4 53.5h0M422.3 50.7h0M430.4 41.8h0M421.7 51.6h0M416.6 49.4h0M422.8 39.4h0" stroke="#52a5b9" stroke-width="1.2" stroke-linecap="round" opacity="0.92"/>
<path d="M406.0 69.9h0M420.2 70.1h0M413.2 73.7h0M413.9 70.3h0M416.6 68.8h0M412.5 69.0h0M411.3 77.3h0M407.4 72.1h0M413.4 68.5h0M414.9 69.3h0M404.9 76.6h0M406.8 76.9h0M413.3 65.3h0M406.8 79.8h0M410.5 71.8h0M405.1 75.2h0M408.4 78.8h0M415.1 66.4h0M401.3 78.2h0M417.7 71.5h0M421.0 72.3h0M409.3 76.7h0M409.2 71.1h0M413.0 72.7h0M411.1 65.8h0M406.7 78.8h0M419.5 74.0h0M402.9 76.0h0M409.4 71.5h0M412.5 74.3h0M418.2 70.4h0M420.9 74.0h0M409.6 72.9h0M411.0 78.8h0M415.5 76.8h0M415.9 66.1h0M417.8 73.9h0M423.2 74.0h0M412.0 74.1h0M412.2 78.5h0M411.0 72.1h0M411.7 68.6h0M404.0 78.4h0M413.8 68.7h0M417.8 74.0h0M405.5 77.5h0M419.9 79.8h0M420.5 75.5h0M412.9 70.9h0M419.2 77.9h0M417.5 71.6h0M405.1 76.8h0M411.1 77.9h0M410.1 65.3h0M414.4 76.6h0M413.2 73.1h0M410.0 78.7h0M407.7 76.0h0M404.2 77.1h0M412.0 70.5h0M414.1 66.2h0M411.2 68.4h0M416.9 68.1h0M405.4 77.5h0M408.2 66.8h0M413.4 74.3h0M413.1 78.7h0M410.6 70.9h0M414.4 66.4h0M413.0 64.7h0M405.4 77.8h0M415.0 78.1h0M415.2 75.5h0M417.5 72.6h0M416.0 71.7h0M408.6 72.6h0M415.7 66.3h0M420.2 72.6h0M406.8 74.0h0M407.4 76.5h0M409.0 80.8h0M411.3 68.2h0M414.1 69.7h0M418.6 75.7h0M404.0 79.6h0M404.5 70.9h0M422.2 74.6h0M409.0 73.4h0M412.4 77.5h0M419.5 75.2h0M415.9 64.5h0M409.1 69.7h0M410.0 78.2h0M414.2 72.0h0M411.4 72.5h0M406.0 76.8h0M413.7 66.5h0M412.6 76.7h0M413.2 77.3h0M416.2 72.1h0M411.7 76.5h0M416.2 68.6h0M414.5 67.7h0M422.9 74.5h0M402.0 79.5h0M415.2 72.5h0M404.5 78.2h0M413.6 70.8h0M402.1 77.7h0M408.5 80.3h0M403.8 71.1h0M414.0 76.9h0M410.7 72.6h0M413.9 75.5h0M408.7 74.9h0M409.3 74.4h0M421.1 77.2h0M417.1 74.4h0M409.2 76.3h0M408.4 71.0h0M416.0 76.8h0M416.6 74.8h0M419.7 76.5h0" stroke="#f0b8c4" stroke-width="1.2" stroke-linecap="round" opacity="0.92"/>
<path d="M378.2 79.8h0M371.8 93.8h0M389.3 79.6h0M379.2 82.7h0M397.5 74.9h0M391.2 87.0h0M388.9 96.1h0M394.1 84.7h0M401.4 77.5h0M390.1 85.2h0M395.4 89.4h0M395.0 73.3h0M395.3 82.4h0M394.1 77.1h0M377.5 94.4h0M374.6 88.6h0M394.5 79.2h0M397.5 75.9h0M383.5 95.9h0M393.0 79.4h0M396.5 79.0h0M399.4 82.0h0M385.4 87.2h0M399.1 83.5h0M377.9 80.2h0M396.8 75.3h0M389.2 94.9h0M397.1 75.9h0M392.7 82.1h0M390.9 76.2h0M386.7 84.1h0M394.1 86.6h0M381.8 97.5h0M376.5 88.9h0M387.4 89.0h0M382.0 83.7h0M384.9 88.0h0M390.6 90.9h0M377.3 94.9h0M398.4 83.7h0M394.8 78.1h0M384.2 89.5h0M375.8 94.4h0M380.8 85.9h0M383.0 80.1h0M384.8 92.7h0M390.1 89.8h0M383.7 78.9h0M388.3 78.2h0M382.6 88.6h0M390.7 85.7h0M383.6 101.0h0M392.6 89.7h0M390.0 90.2h0M378.7 93.0h0M385.6 89.8h0M379.7 93.6h0M376.3 83.3h0M372.9 95.6h0M383.1 97.3h0M374.2 95.8h0M399.9 84.0h0M381.2 99.0h0M374.0 96.9h0M387.9 81.8h0M394.2 88.8h0M399.8 83.9h0M375.6 94.8h0M377.7 85.5h0M401.3 84.0h0M383.6 91.2h0M388.3 86.2h0M392.1 83.3h0M387.8 76.7h0M398.0 83.4h0M394.3 85.4h0M379.1 92.7h0M397.0 74.4h0M388.9 79.5h0M394.4 84.4h0M388.9 88.3h0M391.1 74.4h0M382.2 93.1h0M390.3 91.4h0M400.6 78.9h0M384.3 91.1h0M375.2 97.8h0M379.3 95.1h0M384.8 91.6h0M377.2 82.5h0M397.6 84.5h0M402.7 83.2h0M395.0 88.1h0M382.0 100.1h0M382.8 80.8h0M388.2 79.1h0M371.3 94.0h0M380.5 86.7h0M380.0 88.0h0M388.7 82.0h0M381.4 78.5h0M386.3 89.5h0M386.9 97.1h0M391.1 84.7h0M392.1 82.8h0M395.0 86.6h0M387.6 87.1h0M376.9 87.0h0M390.8 87.5h0M380.1 90.4h0M388.0 88.9h0M389.2 81.4h0M400.2 81.5h0M387.4 97.6h0M399.1 87.3h0M390.5 85.2h0M385.4 87.5h0M385.0 90.9h0M388.7 93.6h0M390.7 85.9h0M373.9 85.2h0M387.5 88.5h0M396.5 86.9h0M400.8 79.3h0M387.9 85.8h0M385.3 87.8h0M397.6 77.3h0M390.3 79.1h0M393.1 88.3h0M382.8 93.5h0M397.4 89.7h0M392.9 80.6h0M377.7 95.3h0M388.3 93.2h0M384.4 94.1h0M375.8 85.6h0M387.0 83.6h0M378.2 83.5h0M384.4 90.5h0M384.2 84.4h0M397.9 82.1h0M391.7 93.4h0M383.9 96.5h0M387.8 77.6h0M385.6 88.0h0M384.3 88.8h0M390.8 80.9h0M392.2 94.1h0M390.4 74.6h0M374.0 87.6h0M397.1 85.6h0M395.6 86.3h0M383.2 92.1h0M375.7 92.1h0M386.3 79.2h0M390.0 83.9h0M385.3 96.0h0M384.3 96.6h0M381.4 93.6h0M379.4 86.5h0M392.6 71.5h0M392.6 86.4h0M381.0 97.2h0M391.9 80.9h0M389.6 82.9h0M388.1 75.2h0M387.9 85.3h0M395.6 83.6h0M397.4 77.4h0M375.6 85.8h0M389.1 75.6h0M385.4 101.9h0M389.8 86.4h0M382.8 93.9h0M379.2 82.9h0M386.7 98.3h0M390.3 89.9h0M392.0 86.1h0M397.7 83.2h0M375.5 83.1h0M380.4 95.9h0M378.0 95.7h0M394.8 81.6h0M384.0 80.4h0M392.9 80.2h0M374.0 94.7h0M398.7 75.3h0M397.4 81.1h0M385.7 99.0h0M391.1 82.2h0M374.8 92.6h0M388.9 88.1h0M386.2 76.3h0M389.6 84.0h0M382.9 88.0h0M396.2 79.0h0M377.0 80.2h0M372.9 96.5h0M377.7 97.9h0M400.7 84.4h0M378.5 79.7h0M396.6 87.0h0M388.4 88.1h0M391.6 84.0h0M383.8 85.0h0M395.3 90.5h0M393.8 75.1h0M385.5 87.7h0M400.5 79.4h0M383.0 99.6h0M394.3 74.9h0M374.6 84.2h0M401.2 78.7h0M384.7 79.9h0M386.2 94.1h0M392.1 90.3h0M386.9 91.5h0M389.6 74.3h0M391.3 89.3h0M397.4 86.8h0M390.8 90.1h0M395.6 71.8h0M387.2 97.2h0M377.7 80.9h0M402.3 87.0h0M393.0 74.1h0M378.0 85.3h0M391.5 82.7h0M377.4 87.4h0M388.9 80.9h0M383.4 94.7h0M383.5 89.0h0M384.7 87.1h0M376.4 84.5h0M378.7 96.7h0M375.7 85.8h0M384.0 90.7h0M372.7 92.4h0M382.0 82.1h0M385.3 81.2h0M377.1 86.4h0M390.3 78.6h0M397.0 85.3h0M387.6 96.1h0M394.9 83.7h0M397.5 82.9h0M394.9 88.3h0M377.8 87.7h0M390.2 74.9h0M397.3 86.0h0M372.8 93.5h0M391.4 79.4h0M384.4 91.3h0M393.8 82.8h0M372.6 92.5h0M395.1 75.1h0M373.7 92.0h0M387.0 77.1h0M376.6 86.0h0M395.4 85.4h0M389.2 91.7h0M390.7 94.6h0M394.3 80.2h0M374.3 85.8h0M379.0 91.7h0M376.5 93.1h0M399.1 74.0h0M385.1 87.5h0M394.0 85.5h0M396.2 77.1h0M378.0 83.8h0M394.9 85.3h0M399.2 78.5h0M392.2 80.0h0M392.1 76.3h0M395.0 87.9h0M403.0 80.0h0M393.4 93.3h0M378.3 84.0h0M381.4 87.1h0M385.1 90.2h0M377.2 89.1h0M395.7 87.8h0M391.5 77.7h0M373.3 96.5h0M374.8 91.2h0M393.0 81.3h0M390.2 78.8h0M373.0 93.4h0M383.1 91.6h0M387.7 82.7h0M387.6 83.1h0M377.9 95.1h0M388.9 90.2h0M391.9 90.7h0M377.5 79.9h0M385.3 93.3h0M386.4 90.1h0M388.1 92.6h0M389.3 93.6h0M381.6 91.9h0M375.5 82.2h0M391.1 81.9h0M372.0 94.4h0M396.8 90.1h0M376.3 89.4h0M374.5 89.3h0M394.9 80.0h0M384.2 90.4h0M377.0 93.6h0M394.2 93.1h0M385.6 101.9h0M387.8 95.2h0M386.3 86.0h0M401.4 79.7h0M385.3 96.9h0M380.1 94.3h0M399.5 83.1h0M390.4 87.3h0M385.3 98.9h0M394.8 87.6h0M393.6 75.5h0M379.3 97.3h0M391.5 75.7h0M397.4 82.7h0M390.2 92.9h0M391.5 85.5h0M379.1 96.9h0M401.1 76.7h0M389.8 80.5h0M399.3 78.2h0M383.4 93.5h0M389.5 86.8h0M394.4 78.8h0M392.4 92.7h0M396.0 83.6h0M394.1 83.8h0M381.8 96.2h0M378.5 92.3h0M380.2 85.6h0M379.2 96.4h0M393.6 81.7h0M389.5 77.9h0M384.2 93.5h0M384.4 89.8h0M381.2 93.9h0M397.9 75.1h0M382.0 89.0h0M386.3 97.0h0M389.8 84.0h0M374.5 95.2h0M379.8 97.3h0M399.9 84.2h0M380.0 92.2h0M384.7 93.6h0M375.4 90.7h0M398.3 80.6h0M385.4 102.4h0M394.3 79.3h0M377.9 80.2h0M392.1 82.4h0M387.6 81.0h0M397.3 80.0h0M401.0 81.7h0M391.7 76.3h0M393.1 85.8h0M395.1 76.3h0M388.9 89.1h0M381.8 89.4h0M377.8 91.4h0M385.6 77.0h0M383.7 89.5h0M382.9 84.0h0M380.9 92.9h0M392.9 88.8h0M396.7 78.3h0M378.1 96.0h0M385.9 79.1h0M394.9 74.8h0M380.7 90.1h0M395.3 90.4h0M386.0 96.6h0M400.5 80.4h0M391.2 84.3h0M393.7 82.2h0M382.6 92.5h0M391.0 89.4h0M382.4 86.4h0M380.1 93.2h0M376.3 87.9h0M380.7 92.2h0M382.5 89.9h0M396.9 84.3h0M379.1 97.2h0M386.1 78.1h0M385.7 94.5h0M373.6 89.4h0" stroke="#ef7a4a" stroke-width="1.2" stroke-linecap="round" opacity="0.92"/>
<path d="M398.5 105.0h0M401.4 90.2h0M391.5 106.3h0M409.0 95.8h0M399.6 105.4h0M391.1 94.6h0M397.7 92.8h0M402.6 106.2h0M411.2 93.4h0M400.6 87.9h0M404.0 91.9h0M407.1 92.0h0M407.1 100.7h0M403.6 97.7h0M407.4 90.8h0M396.5 98.2h0M403.0 102.1h0M408.8 96.9h0M415.1 98.7h0M401.0 105.7h0M407.7 101.3h0M404.3 95.2h0M417.6 96.9h0M396.1 106.7h0M406.5 93.9h0M405.2 94.7h0M405.7 96.2h0M400.5 105.2h0M412.9 100.1h0M413.9 97.7h0M402.5 108.2h0M402.4 96.1h0M409.9 94.0h0M390.7 104.0h0M388.7 103.0h0M397.7 94.1h0M401.2 97.1h0M387.5 97.5h0M404.6 101.4h0M404.0 92.6h0M393.6 105.1h0M417.5 96.5h0M395.3 95.4h0M397.3 106.2h0M392.4 93.6h0M394.8 105.1h0M396.4 103.8h0M389.7 105.4h0M396.7 105.4h0M411.9 92.5h0M393.9 96.2h0M399.3 97.1h0M408.4 96.0h0M413.9 95.4h0M394.9 91.6h0M409.7 101.3h0M413.9 95.7h0M402.7 91.3h0M405.5 100.8h0M410.3 94.4h0M399.3 88.6h0M410.0 103.6h0M407.0 91.3h0M411.8 94.5h0M398.7 103.3h0M405.0 106.6h0M393.9 101.2h0M400.5 91.6h0M394.8 95.0h0M387.7 97.0h0M408.9 96.7h0M396.4 102.1h0M386.6 99.0h0M404.0 97.4h0M400.7 90.9h0M395.5 105.4h0M404.0 100.0h0M387.7 98.7h0M390.4 101.2h0M403.3 89.8h0M403.1 85.5h0M397.7 90.5h0M398.2 93.2h0M398.7 96.9h0M415.5 97.4h0M402.2 90.9h0M389.3 99.4h0M400.0 105.7h0M389.2 104.1h0M400.7 90.3h0M397.8 105.7h0M405.9 98.2h0M389.5 96.1h0M394.7 98.6h0M394.0 100.6h0M393.6 101.1h0M398.1 95.3h0M406.1 89.2h0M401.0 92.1h0M408.0 103.7h0M392.6 94.5h0M398.6 90.3h0M389.8 100.8h0M414.5 98.1h0M395.1 93.5h0M393.5 104.2h0M409.0 91.5h0M408.6 92.5h0M407.7 88.4h0M412.3 95.5h0M405.8 89.1h0M402.2 105.0h0M409.5 96.1h0M411.7 102.0h0M404.9 91.3h0M400.1 108.0h0M393.1 104.6h0M411.7 101.2h0M402.9 93.8h0M389.9 104.3h0M409.6 90.9h0M406.3 97.3h0M392.2 102.7h0M407.3 95.5h0M388.2 100.2h0M396.6 92.7h0M404.7 92.7h0M413.5 97.5h0M409.9 97.0h0M413.2 99.2h0M403.0 103.3h0M402.5 105.8h0M398.0 101.9h0M411.4 93.1h0M398.9 100.5h0M395.1 98.7h0M403.9 89.3h0M410.8 100.1h0M405.3 95.0h0M413.3 97.9h0M410.9 99.8h0M389.2 97.3h0M398.9 95.6h0M389.1 95.9h0M395.1 102.2h0M395.3 95.6h0M401.6 91.1h0M408.5 99.8h0M402.0 98.5h0M390.6 102.2h0M404.4 102.3h0M397.0 94.0h0M408.6 91.7h0M398.3 98.5h0M403.6 92.7h0M400.1 91.2h0M405.8 104.9h0M400.1 101.9h0M412.6 99.7h0M392.8 97.4h0M400.4 96.7h0M404.0 93.1h0M394.8 95.1h0M404.5 98.3h0M395.6 93.4h0M399.4 90.7h0M411.4 98.1h0M401.1 92.4h0M408.6 101.5h0M405.4 95.0h0M392.2 94.3h0M407.4 95.0h0M417.6 93.4h0M407.4 101.2h0M399.9 103.5h0M389.5 103.5h0M401.2 88.0h0M404.0 89.6h0M406.2 96.9h0M403.2 88.8h0M400.4 93.3h0M393.4 92.7h0M404.7 106.4h0M405.7 101.9h0M395.4 96.1h0M410.5 97.1h0M409.9 102.0h0M386.5 101.4h0M403.5 97.4h0M414.1 97.8h0M404.8 102.7h0M409.6 93.5h0M409.8 93.4h0M401.8 94.1h0M403.4 101.2h0M392.4 100.0h0M402.9 87.4h0M409.5 93.6h0M394.2 103.3h0M409.0 103.4h0M393.1 106.4h0M393.7 98.5h0M402.7 99.2h0M397.7 102.7h0M400.8 106.8h0M398.6 92.8h0M398.5 96.0h0M402.7 90.7h0M406.3 98.5h0M409.4 92.3h0M412.8 96.1h0M403.5 90.1h0M408.4 104.4h0M400.4 88.5h0M404.2 105.6h0M410.1 93.4h0M401.2 89.6h0M401.5 101.4h0M393.0 102.6h0M392.5 101.7h0M398.2 107.4h0M415.7 96.7h0M415.1 95.0h0M392.7 103.3h0M403.9 87.2h0M392.7 94.7h0M404.6 92.9h0M392.8 95.3h0M415.6 95.3h0M410.7 94.0h0M404.2 93.3h0M391.8 103.0h0M402.6 94.4h0M396.8 103.0h0M402.4 103.7h0M405.7 91.2h0M399.3 103.1h0M403.8 100.9h0M402.7 98.6h0M402.2 92.5h0M411.7 97.4h0M404.6 102.9h0M403.2 104.1h0M413.2 95.4h0M392.7 94.7h0M403.5 93.6h0M396.6 102.9h0M408.9 90.7h0M395.1 100.3h0M400.4 102.2h0M396.7 93.4h0M405.5 91.0h0M400.5 89.7h0M387.5 103.7h0M399.8 93.7h0M408.1 91.6h0M409.0 100.3h0M396.2 102.2h0M403.2 95.3h0M410.0 103.0h0M404.1 98.9h0M406.3 103.0h0M406.4 90.6h0M405.4 91.5h0M402.0 92.8h0M410.5 100.7h0M400.4 97.0h0M405.3 96.0h0M404.1 106.9h0M412.6 98.8h0M405.2 97.7h0M415.1 95.9h0M393.7 105.9h0M393.3 104.9h0M397.9 93.8h0M403.3 97.5h0M387.8 99.0h0M409.1 93.7h0M408.1 97.9h0M402.4 102.9h0M400.7 98.4h0M397.1 92.0h0M416.3 96.1h0M412.7 94.1h0M400.3 96.3h0M393.9 97.6h0M398.6 93.3h0M399.0 102.0h0M396.9 105.4h0M402.8 107.8h0M405.2 95.2h0M399.8 92.2h0M414.9 96.7h0M404.0 93.3h0M406.7 97.1h0M408.2 95.7h0M399.7 97.8h0M402.6 104.0h0M403.1 101.0h0M399.2 102.4h0M392.1 104.9h0M407.3 90.4h0M413.2 98.8h0M395.2 103.1h0M398.2 97.1h0M404.9 104.9h0M408.6 89.7h0M401.8 107.9h0M391.5 102.0h0M394.7 106.3h0M411.3 93.5h0M395.8 93.2h0M396.0 93.1h0M403.5 87.9h0M399.6 104.7h0M403.7 90.3h0M409.3 99.9h0M402.7 85.9h0M395.7 91.9h0M400.0 90.2h0M394.0 94.3h0M402.5 100.5h0M403.5 104.6h0M413.7 95.1h0" stroke="#3db54d" stroke-width="1.2" stroke-linecap="round" opacity="0.92"/>
<path d="M444.1 56.4h0M437.2 46.6h0M441.0 50.3h0M438.1 55.7h0M437.4 51.2h0M441.5 44.6h0M434.6 48.5h0M444.4 46.1h0M433.9 47.8h0M433.3 49.7h0M443.1 59.5h0M439.4 46.6h0M446.1 60.9h0M445.8 46.9h0M437.9 54.7h0M445.1 46.0h0M445.2 45.1h0M444.7 47.5h0M438.8 53.1h0M432.9 51.1h0M436.3 49.8h0M439.3 49.3h0M445.1 54.3h0M441.2 45.3h0M434.8 48.1h0M447.0 43.7h0M437.0 52.6h0M445.2 47.2h0M445.1 55.7h0M433.4 55.0h0M446.1 43.7h0M448.3 44.1h0M441.8 53.2h0M437.8 56.7h0M433.8 47.6h0M437.4 55.4h0M442.2 45.3h0M441.8 45.9h0M442.1 48.8h0M430.1 52.2h0M447.1 42.8h0M443.1 50.9h0M443.9 61.0h0M440.5 54.0h0M444.2 43.7h0M443.7 47.7h0M441.7 59.1h0M447.9 44.9h0M440.1 45.8h0M444.1 44.2h0M446.7 42.6h0M447.2 46.2h0M437.4 49.2h0M446.3 44.5h0M444.2 52.6h0M444.9 60.8h0M440.2 58.1h0M438.6 46.9h0M444.4 45.7h0M443.7 59.3h0M440.7 57.6h0M438.4 53.1h0M446.1 60.7h0M446.5 58.1h0M435.9 50.9h0M446.0 55.4h0M434.5 54.8h0M441.8 49.8h0M438.5 53.5h0M438.5 48.7h0M441.1 54.4h0M445.7 56.6h0M443.1 45.0h0M445.2 59.0h0M432.7 49.9h0M442.5 53.5h0M436.5 48.9h0M441.0 55.0h0M440.5 48.9h0M440.1 48.8h0M444.0 52.5h0M439.8 54.2h0M437.8 52.4h0M445.7 47.2h0M434.9 53.0h0M445.2 44.1h0M442.8 46.4h0M446.5 46.7h0M441.6 43.9h0M438.5 52.7h0M444.4 57.3h0M433.3 49.7h0M443.6 53.7h0M441.5 49.0h0M438.4 48.0h0M438.0 53.7h0M437.0 48.7h0M438.0 55.2h0M435.4 54.5h0M440.4 58.6h0M443.1 52.8h0M442.9 43.4h0" stroke="#4a9fb0" stroke-width="1.2" stroke-linecap="round" opacity="0.92"/>
<path d="M383.3 48.2h0M388.6 53.8h0M384.5 53.3h0M385.1 58.2h0M377.3 69.4h0M389.8 70.9h0M378.5 65.7h0M381.6 70.9h0M384.7 56.5h0M379.4 77.6h0M384.0 55.0h0M382.2 60.8h0M386.8 60.5h0M386.3 68.1h0M388.3 65.6h0M379.9 63.0h0M378.8 55.5h0M384.8 63.0h0M383.6 53.5h0M388.2 64.8h0M384.6 66.1h0M383.1 71.5h0M387.9 59.5h0M377.7 64.5h0M381.4 52.6h0M392.3 64.4h0M379.3 59.4h0M379.6 67.6h0M389.6 55.2h0M393.1 69.7h0M392.0 67.5h0M389.4 52.3h0M385.0 68.7h0M388.4 57.7h0M383.5 66.6h0M384.1 58.6h0M383.6 65.9h0M385.3 65.9h0M379.1 71.6h0M377.8 59.8h0M385.5 56.4h0M386.8 77.6h0M388.8 63.5h0M384.4 64.1h0M383.9 53.2h0M385.9 68.4h0M381.0 55.0h0M383.8 48.1h0M386.1 58.6h0M392.8 66.9h0M379.7 69.1h0M389.7 67.1h0M378.4 67.2h0M377.9 66.8h0M378.9 57.3h0M390.3 65.2h0M385.5 52.1h0M387.6 68.4h0M380.1 55.4h0M379.0 62.7h0M378.7 57.1h0M384.1 53.3h0M381.2 67.7h0M380.9 55.9h0M384.8 65.9h0M376.8 67.0h0M390.9 70.8h0M387.7 51.4h0M384.3 73.1h0M378.7 65.8h0M378.2 59.0h0M394.4 73.1h0M381.1 53.3h0M382.3 63.7h0M387.9 66.1h0M381.1 58.3h0M394.4 72.8h0M380.6 69.8h0M389.0 58.4h0M386.2 61.0h0M386.9 65.6h0M384.5 75.2h0M378.5 71.9h0M383.9 49.5h0M387.1 59.9h0M376.7 64.8h0M382.7 50.0h0M386.4 75.2h0M387.1 73.8h0M390.7 70.5h0M390.4 63.4h0M382.6 68.6h0M385.0 55.9h0M381.5 60.4h0M387.2 69.1h0M381.5 68.2h0M382.5 47.8h0M389.3 69.7h0M386.7 54.5h0M384.4 78.3h0M383.6 71.5h0M392.3 68.9h0M378.5 63.6h0M384.9 51.3h0M379.2 72.7h0M385.6 69.4h0M382.1 55.2h0M383.5 64.7h0M393.0 67.4h0M385.4 54.0h0M383.6 66.9h0M388.3 55.6h0M394.1 69.4h0M383.6 70.5h0M384.8 59.4h0M387.1 73.7h0M383.0 61.6h0M389.9 71.1h0M381.8 66.6h0M387.1 62.7h0M391.8 67.3h0M389.2 71.9h0M379.9 53.3h0M383.6 65.8h0M385.4 61.5h0M388.9 73.3h0M385.3 70.2h0M377.5 64.6h0M380.6 77.8h0M389.1 63.3h0M379.5 68.6h0M393.9 70.2h0M383.3 72.3h0" stroke="#5b8fd0" stroke-width="1.2" stroke-linecap="round" opacity="0.92"/>
<path d="M430.2 69.6h0M441.0 81.1h0M435.5 66.4h0M443.5 82.1h0M438.7 64.9h0M442.7 66.2h0M435.9 84.7h0M429.7 52.1h0M440.8 74.6h0M438.4 82.7h0M442.3 83.4h0M436.1 88.0h0M431.2 51.8h0M435.8 85.3h0M442.1 70.5h0M438.0 56.6h0M447.3 67.9h0M438.5 55.6h0M437.5 62.0h0M443.3 73.3h0M431.2 56.1h0M442.5 74.7h0M438.7 59.4h0M435.0 71.2h0M440.3 66.8h0M432.5 74.4h0M440.0 61.7h0M441.3 79.3h0M438.5 57.1h0M440.4 66.9h0M432.2 58.9h0M437.2 87.5h0M437.6 58.0h0M435.7 60.9h0M440.7 66.5h0M439.3 89.0h0M432.7 59.9h0M444.5 78.7h0M433.6 91.6h0M435.5 82.1h0M435.9 88.1h0M433.3 65.6h0M433.1 91.6h0M442.5 78.9h0M443.9 84.6h0M442.2 88.6h0M443.9 74.2h0M434.5 68.8h0M430.9 76.2h0M434.1 53.8h0M443.3 64.5h0M437.2 61.7h0M442.8 75.2h0M446.8 72.1h0M438.9 85.7h0M439.6 90.6h0M435.0 60.7h0M432.9 56.6h0M438.2 83.8h0M433.1 54.8h0M433.4 74.2h0M441.0 81.7h0M433.7 57.9h0M445.0 73.8h0M435.5 81.4h0M444.7 68.9h0M433.5 81.2h0M444.5 63.5h0M440.6 84.5h0M441.5 66.3h0M434.8 76.1h0M440.0 58.8h0M440.3 90.3h0M445.1 69.5h0M438.4 79.2h0M430.3 93.0h0M433.2 59.4h0M433.2 88.4h0M440.9 86.6h0M444.1 65.4h0M438.7 63.0h0M435.3 76.2h0M434.2 92.7h0M443.7 80.0h0M440.8 67.0h0M438.5 54.7h0M447.9 63.7h0M438.2 85.2h0M438.5 59.0h0M435.5 62.4h0M439.1 91.0h0M433.5 61.9h0M435.8 60.4h0M435.1 91.6h0M434.6 91.2h0M441.8 83.6h0M435.7 81.8h0M438.2 72.0h0M440.4 75.3h0M441.0 73.6h0M437.8 75.1h0M440.4 63.0h0M435.5 68.4h0M443.8 84.9h0M439.4 80.6h0M433.0 67.6h0M441.3 80.1h0M442.1 87.6h0M443.2 79.4h0M441.8 69.7h0M436.2 61.8h0M438.1 83.1h0M436.9 73.2h0M441.0 63.5h0M436.6 80.8h0M437.1 71.4h0M442.3 62.4h0M432.9 54.9h0M437.1 62.8h0M437.2 61.1h0M432.2 77.7h0M434.8 74.6h0M435.7 82.9h0M436.7 92.1h0M433.1 68.1h0M447.0 67.0h0M442.8 66.4h0M441.9 64.1h0M434.8 86.0h0M432.9 67.0h0M438.9 76.3h0M431.3 73.1h0M436.1 71.7h0M431.1 69.6h0M444.9 66.7h0M434.8 55.1h0M437.5 64.6h0M442.7 64.3h0M443.6 88.5h0M432.7 85.8h0M439.8 77.5h0M439.8 90.0h0M436.0 56.2h0M445.5 66.2h0M442.1 77.9h0M432.9 71.9h0M432.5 93.0h0M433.6 63.3h0M434.0 89.2h0M438.9 59.5h0M432.6 65.5h0M439.8 65.1h0M436.4 77.1h0M439.0 70.8h0M439.0 72.9h0M433.0 65.3h0M439.6 63.1h0M440.2 80.8h0M436.6 91.9h0M438.4 72.2h0M442.9 88.2h0M436.4 87.3h0M435.9 89.8h0M434.9 73.1h0M442.2 70.4h0M436.2 78.5h0M439.9 82.6h0M444.3 75.1h0M441.6 81.2h0M445.0 78.6h0M442.9 80.0h0M443.4 79.3h0M440.4 75.9h0M441.1 75.5h0M441.0 79.8h0M441.0 70.8h0M433.0 87.3h0M436.0 69.7h0M432.7 61.0h0M446.8 67.3h0M432.7 68.7h0M433.1 68.6h0M440.0 79.2h0M433.6 74.3h0M435.7 77.7h0M439.7 65.3h0M441.9 72.6h0M439.1 67.9h0M434.8 63.8h0M436.6 67.3h0M445.6 79.9h0M437.8 75.8h0M445.2 62.2h0M442.1 59.5h0M441.8 85.2h0M433.6 73.7h0M435.4 91.9h0M437.4 88.1h0M435.4 58.9h0M433.5 53.4h0M438.2 72.5h0M436.8 61.9h0M434.2 82.7h0M433.1 86.0h0M437.4 90.1h0M448.0 62.2h0M444.1 63.1h0M437.0 87.0h0M442.8 70.1h0M439.2 75.7h0M441.5 75.4h0M444.9 74.0h0M445.1 82.4h0M433.8 85.9h0M435.9 60.5h0M443.0 67.1h0M434.8 59.1h0M437.7 60.4h0M435.5 59.0h0M435.9 54.0h0M443.5 89.8h0M438.2 58.3h0M442.2 77.6h0M441.2 86.2h0M436.9 84.4h0M433.4 74.1h0M440.7 74.8h0M440.7 61.2h0M443.6 73.7h0M434.3 66.5h0M440.0 80.3h0M432.4 61.3h0M437.8 70.0h0M433.9 68.8h0M441.6 63.5h0M434.3 89.8h0M440.0 81.3h0M446.6 61.1h0M441.5 85.5h0M441.8 72.8h0M444.5 81.9h0M434.9 77.4h0M437.4 82.1h0M440.8 61.2h0M439.5 74.8h0M440.7 87.9h0M435.9 72.9h0M448.0 64.1h0M430.0 91.4h0M434.1 93.2h0M434.5 55.8h0M442.1 76.8h0M433.4 52.6h0M441.2 87.8h0M434.9 53.9h0M439.5 87.8h0M434.4 66.4h0M439.8 80.4h0M437.5 72.3h0M437.5 82.0h0M437.2 83.9h0M437.3 81.3h0M440.1 89.6h0M440.6 59.3h0M447.1 69.2h0M441.8 84.9h0M434.5 82.9h0M434.2 69.8h0M440.4 85.4h0M443.8 87.2h0M442.4 75.0h0M445.6 62.2h0M435.2 66.2h0M434.3 78.1h0M442.0 60.3h0M432.7 60.7h0M435.9 79.1h0M435.8 83.6h0M437.8 83.6h0M437.7 83.5h0M433.3 64.7h0M436.6 57.7h0M433.5 93.1h0M440.9 59.2h0M436.6 73.9h0M439.9 88.8h0M440.1 71.1h0M438.4 77.8h0M435.0 55.7h0M434.6 57.8h0M437.7 82.9h0M443.2 88.0h0M437.2 92.3h0M434.8 63.2h0M436.9 87.5h0M442.9 59.7h0M433.8 74.6h0M446.0 73.5h0M430.0 54.1h0M437.8 63.9h0M442.4 70.4h0M436.8 54.4h0M439.4 70.4h0M437.9 65.7h0M437.6 89.5h0M439.1 89.1h0M438.4 58.8h0M444.9 70.7h0M434.4 59.0h0M440.5 72.8h0M446.0 72.5h0M433.3 59.3h0M438.4 68.4h0M444.0 83.1h0M440.3 76.9h0M437.4 61.4h0M444.5 61.2h0M435.5 79.9h0M438.4 54.0h0M438.0 66.7h0M439.1 82.0h0M433.9 57.6h0M443.3 88.2h0M432.9 81.1h0M430.5 62.2h0M444.4 87.3h0M439.4 83.6h0M437.4 66.9h0M443.5 66.9h0M436.8 74.5h0M438.9 90.9h0M435.8 87.6h0M433.6 78.9h0M445.5 78.4h0M437.7 80.4h0M444.9 76.3h0M433.4 86.1h0M445.0 73.6h0M442.1 80.2h0" stroke="#96c8de" stroke-width="1.2" stroke-linecap="round" opacity="0.92"/>
<path d="M430.7 60.1h0M429.2 58.2h0M419.3 66.1h0M426.8 66.3h0M419.7 60.1h0M431.0 53.6h0M419.4 70.5h0M430.3 59.2h0M429.9 70.4h0M427.1 54.2h0M422.0 63.6h0M416.5 59.3h0M430.7 69.7h0M424.9 62.9h0M431.2 57.0h0M415.9 59.7h0M422.4 60.5h0M428.9 58.3h0M427.7 60.4h0M429.0 56.9h0M420.9 67.1h0M418.6 58.8h0M424.4 69.2h0M426.7 67.7h0M424.3 60.2h0M419.7 71.3h0M430.9 59.9h0M424.5 67.9h0M415.6 60.8h0M425.0 58.4h0M429.1 60.2h0M427.1 63.0h0M426.0 68.6h0M422.4 74.4h0M423.1 67.9h0M418.5 59.8h0M418.8 68.8h0M427.6 56.0h0M426.0 72.9h0M425.9 69.1h0M430.7 68.6h0M417.9 62.5h0M427.6 60.0h0M418.7 63.3h0M430.3 71.0h0M417.9 62.1h0M418.8 68.0h0M414.3 64.5h0M423.3 67.9h0M422.4 64.2h0M427.8 58.1h0M416.2 58.9h0M427.4 70.1h0M424.8 55.5h0M417.6 60.4h0M421.5 58.8h0M421.4 64.6h0M426.8 57.5h0M423.5 62.2h0M429.9 62.8h0M428.0 70.7h0M415.2 60.1h0M423.6 60.4h0M430.0 58.0h0M420.9 68.0h0M418.8 65.1h0M421.4 59.5h0M423.9 59.5h0M422.5 57.4h0M418.1 65.0h0M425.0 59.8h0M429.8 67.9h0M432.0 63.6h0M421.9 58.2h0M423.8 58.7h0M432.0 62.7h0M429.2 60.9h0M413.6 61.0h0M432.1 59.1h0M426.7 56.0h0M427.1 59.0h0M422.1 65.3h0M415.7 61.7h0M413.6 62.5h0M415.8 59.4h0M424.4 70.1h0M430.4 67.9h0M421.1 64.2h0M419.9 64.9h0M419.0 66.3h0M425.5 59.9h0M427.1 69.4h0M422.5 69.4h0M417.2 60.3h0M426.9 57.6h0M419.3 65.2h0M421.7 66.2h0M417.9 58.9h0M420.5 67.1h0M419.4 57.4h0M426.0 58.3h0M419.1 68.8h0M427.8 71.9h0M420.3 63.9h0M430.3 63.2h0M423.6 61.6h0M412.3 60.4h0M424.7 68.8h0M420.8 59.9h0M420.9 68.9h0M419.6 64.2h0M419.0 70.3h0M425.5 60.1h0M429.2 66.1h0M423.0 60.5h0M423.8 67.7h0M429.5 57.0h0M423.1 60.0h0M426.7 60.5h0M423.3 69.7h0M426.7 56.7h0M423.3 65.5h0M420.7 70.8h0M425.0 71.4h0M429.2 72.2h0M426.4 58.6h0M429.8 67.2h0M431.7 57.1h0M417.9 57.6h0M416.0 60.5h0M424.3 71.5h0M414.7 59.9h0M430.5 57.7h0M427.6 69.4h0M421.2 64.4h0M422.5 59.8h0M431.7 63.6h0M425.8 55.4h0M424.3 68.2h0M419.9 62.7h0M423.0 67.5h0M426.7 56.5h0M417.8 58.9h0" stroke="#e8b0c8" stroke-width="1.2" stroke-linecap="round" opacity="0.92"/>
<path d="M429.9 85.9h0M424.3 81.1h0M423.5 77.7h0M433.8 76.3h0M430.7 92.8h0M427.4 76.6h0M426.2 83.1h0M431.7 79.6h0M421.1 77.4h0M421.9 81.0h0M426.3 88.9h0M433.5 75.3h0M433.9 90.5h0M431.9 85.8h0M429.7 87.6h0M422.3 77.1h0M421.4 82.5h0M431.7 76.5h0M428.5 82.0h0M425.4 79.9h0M429.5 91.6h0M427.0 76.9h0M432.7 73.0h0M431.7 76.0h0M425.9 74.7h0M421.0 82.9h0M423.6 89.4h0M423.9 92.3h0M421.9 91.9h0M424.3 85.7h0M432.6 78.3h0M430.7 76.5h0M433.5 78.7h0M426.0 89.9h0M431.1 88.3h0M429.4 77.9h0M431.1 81.4h0M431.3 73.5h0M426.4 86.4h0M428.8 88.3h0M424.6 80.2h0M427.8 82.3h0M429.8 90.0h0M423.3 76.5h0M430.2 81.3h0M430.5 81.6h0M421.1 83.6h0M427.6 73.4h0M432.1 80.5h0M427.4 76.0h0M428.0 77.2h0M422.9 77.7h0M420.9 81.2h0M422.9 73.4h0M434.4 92.5h0M421.3 92.3h0M427.1 85.2h0M426.5 89.5h0M420.9 79.4h0M430.3 79.0h0M422.2 75.1h0M422.9 77.5h0M430.8 71.3h0M424.2 79.8h0M430.7 84.9h0M425.0 78.0h0M427.3 76.5h0M429.6 88.9h0M423.9 83.4h0M428.1 88.7h0M425.4 93.4h0M432.9 87.8h0M425.6 92.2h0M428.1 84.1h0M431.4 77.4h0M428.9 92.4h0M434.2 77.2h0M427.3 78.8h0M424.8 79.2h0M426.9 92.4h0M423.4 86.8h0M420.4 89.9h0M428.1 90.5h0M429.0 76.3h0M429.7 89.0h0M424.7 84.0h0M427.8 84.9h0M431.2 81.0h0M427.9 71.9h0M420.3 85.7h0M425.2 83.9h0M432.0 83.8h0M422.4 93.4h0M432.7 77.6h0M424.9 91.4h0M423.9 89.0h0M420.6 75.2h0M428.9 80.7h0M429.6 82.3h0M428.2 93.0h0M431.3 80.3h0M426.8 79.4h0M432.3 86.1h0M429.1 82.9h0M432.2 73.2h0M431.6 79.2h0M429.9 88.7h0M426.7 81.1h0M429.1 91.8h0M431.1 92.9h0M433.4 82.2h0M428.0 77.0h0M422.6 83.3h0M423.1 84.1h0M430.9 92.2h0M426.2 83.8h0M426.0 75.2h0M430.5 91.3h0M421.7 78.1h0M422.8 79.5h0M422.7 90.3h0M423.6 85.2h0M427.9 86.6h0M421.6 81.5h0M431.5 73.2h0M426.1 89.7h0M424.2 93.5h0M431.3 92.3h0M428.5 93.1h0M422.4 81.5h0M427.3 93.3h0M428.7 81.5h0M426.2 92.5h0M431.2 87.0h0M429.9 90.8h0M430.5 89.9h0M430.7 79.9h0M427.6 79.5h0M427.2 86.3h0M429.5 88.8h0M427.4 83.1h0M428.3 89.9h0M423.5 78.0h0M430.8 92.1h0M432.6 75.8h0M431.1 79.4h0M430.1 90.4h0M433.8 88.4h0M421.8 90.8h0M428.5 78.5h0M430.9 87.6h0M425.1 84.2h0M427.1 73.3h0M422.0 76.7h0M425.6 80.8h0M429.5 78.3h0M433.1 89.6h0M426.4 92.0h0M426.7 88.5h0M422.6 88.8h0M431.3 85.2h0M430.5 76.8h0M421.6 79.3h0M432.8 73.3h0M425.7 82.6h0M428.9 79.5h0M421.6 88.1h0M430.7 80.5h0M431.8 75.2h0M428.1 75.6h0M426.5 81.0h0M431.1 74.5h0M425.5 87.5h0M430.9 93.5h0M423.1 85.1h0M430.8 78.0h0M423.0 80.7h0M427.2 83.1h0M431.7 83.5h0M428.7 78.4h0M425.2 82.3h0M422.7 78.2h0M427.0 89.5h0M428.1 76.0h0M426.9 89.3h0M422.9 77.0h0M422.4 91.8h0M428.2 81.4h0M429.5 83.5h0M431.2 73.8h0M428.1 78.4h0M426.1 76.7h0M426.3 93.0h0" stroke="#ec97a2" stroke-width="1.2" stroke-linecap="round" opacity="0.92"/>
<path d="M408.4 83.7h0M409.6 90.0h0M422.2 93.6h0M414.9 86.9h0M405.0 86.8h0M417.9 89.8h0M414.3 91.1h0M416.9 94.2h0M407.0 89.9h0M414.5 81.1h0M403.0 79.8h0M415.8 84.5h0M413.0 87.6h0M417.9 90.1h0M408.0 85.6h0M414.8 87.1h0M418.8 84.8h0M406.2 89.0h0M413.0 90.8h0M406.9 82.6h0M405.5 79.8h0M407.9 82.0h0M418.4 95.5h0M419.3 87.4h0M412.8 91.3h0M420.7 89.6h0M416.5 82.7h0M411.4 84.1h0M412.6 84.2h0M402.0 81.2h0M419.0 90.6h0M420.1 89.1h0M415.1 91.4h0M406.2 87.5h0M411.4 88.0h0M401.3 82.7h0M411.5 84.8h0M410.6 84.7h0M414.7 94.3h0M417.9 81.0h0M416.6 90.8h0M417.3 83.1h0M419.3 82.9h0M412.3 90.0h0M407.3 80.6h0M415.9 88.8h0M402.1 86.4h0M405.7 88.2h0M418.3 89.5h0M402.3 79.6h0M412.5 84.6h0M414.5 89.4h0M404.6 86.4h0M417.4 79.9h0M412.6 93.8h0M419.4 83.3h0M412.4 81.9h0M411.0 88.6h0M412.0 90.9h0M421.7 88.8h0M411.5 85.7h0M411.9 86.1h0M415.5 82.1h0M420.7 92.9h0M412.6 80.3h0M414.1 86.2h0M412.4 86.1h0M413.6 86.8h0M403.0 81.4h0M409.7 80.3h0M415.2 87.7h0M422.4 91.3h0M420.5 83.1h0M403.2 80.9h0M408.6 89.9h0M414.5 89.9h0M405.5 82.7h0M410.2 86.7h0M412.4 91.3h0M412.9 89.5h0M416.0 84.3h0M405.7 88.3h0M411.3 80.9h0M413.4 79.7h0M421.9 92.0h0M413.0 84.1h0M406.4 86.7h0M417.8 88.7h0M406.3 83.7h0M419.7 87.2h0M405.0 85.7h0M416.4 78.5h0M409.6 86.3h0M412.1 80.9h0M416.2 86.4h0M406.7 80.5h0M412.7 82.6h0M409.2 82.4h0M418.9 84.6h0M415.4 81.7h0M408.1 85.6h0M413.9 89.4h0M418.1 83.1h0M418.0 79.8h0M413.4 87.6h0M413.1 88.5h0" stroke="#f4c0c8" stroke-width="1.2" stroke-linecap="round" opacity="0.92"/>
<path d="M389.1 48.3h0M390.0 48.5h0M393.0 40.1h0M394.7 41.6h0M387.6 44.8h0M387.8 48.6h0M392.3 44.5h0M391.1 42.3h0M385.5 43.6h0M389.6 53.4h0M388.7 46.1h0M389.8 43.4h0M392.6 41.4h0M392.9 42.2h0M399.4 43.0h0M390.5 42.0h0" stroke="#bd6638" stroke-width="1.2" stroke-linecap="round" opacity="0.92"/>
<path d="M400.4 52.3h0M400.7 57.4h0M398.6 46.9h0M394.3 57.2h0M391.6 57.7h0M405.0 47.7h0M398.6 46.5h0M409.8 48.8h0M396.9 47.0h0M391.4 62.9h0M398.8 44.0h0M408.1 54.6h0M397.0 53.1h0M391.4 56.2h0M409.5 47.7h0M403.1 57.1h0M409.5 50.3h0M406.6 55.3h0M407.3 52.1h0M390.1 51.4h0M394.2 62.2h0M395.9 50.1h0M404.9 53.2h0M393.8 54.0h0M394.4 53.6h0M396.9 52.6h0M394.5 61.7h0M397.9 51.2h0M390.6 48.8h0M393.3 54.9h0M395.4 58.0h0M407.3 50.7h0M393.1 63.6h0M399.4 43.4h0M404.9 50.5h0M396.9 49.5h0M408.1 49.6h0M400.3 48.3h0M401.9 47.0h0M398.3 46.4h0M392.9 63.7h0M401.3 46.6h0M393.3 56.5h0M401.4 55.6h0M399.3 51.2h0M406.4 51.9h0M397.5 56.2h0M394.8 53.5h0M398.2 60.7h0M397.0 59.2h0M401.1 54.6h0M397.3 47.1h0" stroke="#e9b49a" stroke-width="1.2" stroke-linecap="round" opacity="0.92"/>
<path d="M440.6 29.8h0M439.6 34.4h0M441.4 31.3h0M441.1 30.5h0M455.1 33.1h0M457.5 37.5h0M443.8 34.3h0M443.8 41.5h0M449.2 43.2h0M457.1 38.5h0M449.1 35.8h0M435.9 37.0h0M450.1 30.8h0M437.3 36.5h0M446.5 30.5h0M456.3 38.6h0M447.7 41.2h0M441.2 38.2h0M458.8 33.8h0M448.7 39.6h0M444.5 41.6h0M443.9 43.5h0M439.0 30.5h0M444.2 38.8h0M436.1 35.2h0M442.5 39.6h0M445.9 39.3h0M455.1 38.0h0M444.4 32.1h0M444.4 41.1h0M444.0 42.3h0M446.1 43.5h0M452.6 41.7h0M437.1 37.8h0M455.6 34.3h0M442.1 41.9h0M455.2 41.5h0M446.6 33.5h0M442.5 32.8h0M440.6 34.7h0M449.8 40.6h0M437.5 36.2h0M441.9 32.1h0M441.9 38.1h0M455.9 38.9h0M444.2 33.7h0M456.5 39.2h0M447.8 39.9h0M436.6 31.3h0M444.7 41.2h0M440.0 32.4h0M442.2 36.6h0M457.5 34.1h0M459.5 35.0h0M448.9 40.6h0M445.5 43.1h0M440.7 29.9h0M439.5 42.9h0M437.0 39.3h0M448.2 32.7h0M438.9 38.2h0M438.4 30.3h0M448.8 39.0h0M451.4 39.6h0M456.0 42.1h0M444.0 42.1h0M442.3 39.2h0M441.8 41.8h0M458.4 41.3h0M456.5 34.7h0M462.2 41.0h0M439.9 36.2h0M445.2 32.3h0M449.9 35.0h0M436.8 38.0h0M444.3 31.9h0M451.1 36.4h0M447.3 32.0h0M448.9 43.3h0M445.7 42.8h0M437.3 30.9h0M452.0 38.5h0M442.3 42.1h0M437.7 33.3h0M453.1 36.8h0M451.2 33.6h0M454.2 34.3h0M439.9 33.5h0M436.9 34.5h0M435.6 32.2h0M458.2 40.0h0M454.3 39.8h0M450.3 41.8h0M444.1 37.6h0M456.4 34.5h0M459.1 36.0h0M444.5 43.3h0M458.9 33.8h0M442.7 38.4h0M460.4 35.8h0M442.4 32.9h0M443.9 36.7h0M440.7 39.0h0M444.9 42.4h0M446.6 33.2h0M441.0 33.3h0M439.4 43.7h0M438.3 41.3h0M455.4 39.2h0M445.4 35.2h0M459.6 41.6h0M444.4 43.3h0M449.3 34.9h0M446.1 35.2h0M438.6 39.4h0M455.2 33.8h0M441.3 29.5h0M443.0 42.3h0M437.6 32.7h0M438.7 33.7h0M446.3 40.6h0M439.8 31.5h0M455.2 40.6h0M443.1 32.2h0M461.0 37.3h0M438.7 32.5h0M446.9 33.2h0M451.4 31.2h0M458.3 39.2h0M457.8 36.2h0M439.2 35.5h0M443.6 35.6h0M441.4 31.3h0M452.1 38.5h0M453.8 41.3h0M449.0 37.7h0M444.9 35.7h0M454.9 37.3h0M444.1 34.1h0M455.6 40.1h0M448.8 38.3h0M449.7 38.2h0M456.6 41.1h0M441.7 34.4h0M439.3 30.2h0M438.9 42.6h0M440.0 41.4h0M449.8 33.8h0M453.8 36.2h0M445.8 30.9h0M444.2 42.1h0M442.1 40.1h0M445.0 30.2h0M443.8 29.6h0M455.1 41.6h0M454.7 39.1h0M446.0 32.6h0M449.8 34.2h0M449.9 41.9h0M444.7 31.3h0M435.9 33.4h0M446.4 36.6h0M459.6 37.5h0M438.1 30.3h0M446.4 37.8h0M451.2 34.7h0M449.9 32.4h0M440.3 35.5h0M438.0 34.6h0M437.8 30.0h0M441.8 35.4h0M449.4 30.7h0M457.9 40.4h0M437.2 37.9h0" stroke="#a993d2" stroke-width="1.2" stroke-linecap="round" opacity="0.92"/>
<path d="M395.4 69.2h0M403.6 61.1h0M398.6 69.3h0M398.5 62.6h0M406.1 62.6h0M401.0 62.1h0M405.1 55.4h0M401.7 69.8h0M398.6 72.6h0M408.4 67.8h0M409.0 63.1h0M401.8 66.3h0M410.6 58.3h0M401.9 75.4h0M404.2 62.6h0M401.6 69.2h0M404.5 69.8h0M404.4 65.9h0M404.8 55.8h0M399.3 75.6h0M400.7 60.5h0M399.9 65.4h0M398.3 68.3h0M408.4 65.9h0M399.2 63.7h0M409.5 59.4h0M412.1 61.1h0M403.3 68.8h0M396.3 66.6h0M409.8 58.4h0M403.7 61.9h0M396.5 65.0h0M404.0 68.0h0M411.2 58.7h0M407.6 65.9h0M408.1 62.8h0M405.2 59.7h0M406.4 59.7h0M407.7 66.3h0M409.8 65.7h0M402.2 67.0h0M405.1 70.4h0M411.6 61.3h0M406.6 67.3h0M402.3 62.2h0M404.7 64.8h0M398.2 63.0h0M406.0 70.3h0M401.2 74.7h0M403.8 71.1h0M400.5 66.8h0M403.8 70.4h0M407.0 67.2h0M405.0 66.6h0M400.5 74.0h0M399.5 68.9h0M399.5 73.5h0M401.6 68.3h0M411.4 60.2h0M403.9 67.0h0M399.2 70.1h0M406.9 55.0h0M403.6 62.5h0M401.6 74.8h0M398.6 62.9h0M404.4 63.7h0M395.4 63.8h0M400.1 58.2h0M406.6 66.1h0M408.9 58.0h0M399.4 70.3h0M399.9 62.5h0M400.0 62.2h0M406.4 64.7h0M406.8 62.4h0M410.5 60.5h0M405.5 64.7h0M406.3 56.2h0M397.3 64.9h0M399.2 73.9h0M401.9 67.4h0M410.5 60.8h0M408.1 66.4h0M407.0 61.2h0M399.8 62.1h0" stroke="#efb5c0" stroke-width="1.2" stroke-linecap="round" opacity="0.92"/>
<path d="M64.7 98.0 C67.3 96.2 75.2 90.6 80.2 87.3 C85.2 84.0 91.4 80.5 95.0 78.0 C98.6 75.5 99.8 74.5 102.0 72.5 C104.2 70.5 106.2 68.8 108.0 66.0 C109.8 63.2 110.8 59.5 113.0 56.0 C115.2 52.5 118.2 47.9 121.0 45.0 C123.8 42.1 126.3 40.2 129.6 38.5 C132.9 36.8 137.1 35.6 141.0 34.5 C144.9 33.4 151.0 32.2 153.0 31.8" fill="none" stroke="#333333" stroke-width="0.85"/>
<path d="M81.0 47.0 C81.2 48.3 81.4 52.5 82.2 55.0 C83.0 57.5 83.9 59.5 85.6 61.7 C87.3 64.0 90.6 66.0 92.3 68.5 C94.0 71.0 95.1 75.6 95.7 77.0" fill="none" stroke="#333333" stroke-width="0.85"/>
<path d="M95.0 78.0 C96.3 77.2 100.3 73.9 103.0 73.2 C105.7 72.5 108.3 73.0 111.0 73.8 C113.7 74.6 117.4 76.1 119.2 77.9 C121.0 79.7 121.7 81.7 121.9 84.6 C122.1 87.5 121.9 91.6 120.6 95.4 C119.2 99.2 114.9 105.5 113.8 107.5" fill="none" stroke="#333333" stroke-width="0.85"/>
<path d="M102.0 72.5 C103.1 73.2 107.4 74.9 108.5 76.5 C109.6 78.1 109.2 79.8 108.5 82.0 C107.8 84.2 106.7 87.3 104.4 90.0 C102.2 92.7 98.4 95.5 95.0 98.0 C91.6 100.5 87.6 103.2 84.2 104.8 C80.8 106.4 76.4 107.0 74.8 107.5" fill="none" stroke="#333333" stroke-width="0.85"/>
<path d="M159.9 95.3 C164.1 93.2 176.7 86.7 185.0 82.5 C193.3 78.3 204.8 73.0 209.9 70.3 C215.0 67.6 214.1 69.4 215.7 66.5 C217.3 63.6 218.9 57.2 219.5 53.0 C220.1 48.8 218.5 44.5 219.5 41.5 C220.5 38.5 222.1 36.2 225.3 34.7 C228.5 33.2 234.6 32.6 238.8 32.2 C243.0 31.8 248.4 32.2 250.3 32.2" fill="none" stroke="#333333" stroke-width="0.85"/>
<path d="M160.2 95.0 C164.5 92.5 177.8 84.4 186.0 80.2 C194.2 76.0 205.6 71.4 209.5 69.6" fill="none" stroke="#333333" stroke-width="0.85"/>
<path d="M177.2 39.5 C177.0 41.4 175.3 47.1 176.3 51.0 C177.3 54.9 179.6 59.9 183.0 62.6 C186.4 65.3 192.0 66.4 196.5 67.4 C201.0 68.4 207.7 68.2 209.9 68.4" fill="none" stroke="#333333" stroke-width="0.85"/>
<path d="M213.8 69.3 C214.8 70.1 218.1 71.5 219.5 74.2 C220.9 76.9 222.2 80.3 222.4 85.7 C222.6 91.1 220.8 103.3 220.5 106.8" fill="none" stroke="#333333" stroke-width="0.85"/>
<path d="M213.8 70.3 C212.8 72.2 210.9 77.6 208.0 81.8 C205.1 86.0 201.6 91.0 196.5 95.3 C191.4 99.6 180.4 105.7 177.2 107.8" fill="none" stroke="#333333" stroke-width="0.85"/>
<path d="M308.5 32.7 C306.9 34.8 301.5 41.5 298.8 45.2 C296.1 48.9 293.4 51.6 292.1 54.8 C290.8 58.0 290.4 61.3 291.2 64.5 C292.0 67.7 295.3 71.2 296.9 74.1 C298.5 77.0 300.0 79.9 300.8 81.8 C301.6 83.7 301.6 85.0 301.7 85.6" fill="none" stroke="#333333" stroke-width="0.85"/>
<path d="M276.7 99.1 C278.8 97.8 285.2 93.8 289.2 91.4 C293.2 89.0 296.9 86.5 300.8 84.7 C304.7 82.9 308.8 82.2 312.3 80.8 C315.8 79.3 319.3 78.7 321.9 76.0 C324.5 73.3 326.4 68.3 327.7 64.5 C329.0 60.6 328.3 56.4 329.6 52.9 C330.9 49.4 332.5 45.9 335.4 43.3 C338.3 40.7 343.0 38.8 346.9 37.5 C350.8 36.2 355.3 36.1 358.5 35.6 C361.7 35.1 364.9 34.9 366.2 34.7" fill="none" stroke="#333333" stroke-width="0.85"/>
<path d="M320.0 77.9 C321.9 78.2 328.6 78.5 331.5 79.8 C334.4 81.1 336.7 83.0 337.3 85.6 C337.9 88.2 337.0 92.3 335.4 95.2 C333.8 98.1 330.9 100.7 327.7 102.9 C324.5 105.2 318.1 107.7 316.2 108.7" fill="none" stroke="#333333" stroke-width="0.85"/>
<path d="M308.5 81.8 C309.6 82.1 313.9 82.1 315.2 83.7 C316.5 85.3 317.3 88.8 316.2 91.4 C315.1 94.0 312.0 96.9 308.5 99.1 C305.0 101.3 299.3 103.5 295.0 104.8 C290.7 106.1 284.6 106.5 282.5 106.8" fill="none" stroke="#333333" stroke-width="0.85"/>
<path d="M382.3 45.2 C383.8 46.7 388.8 50.7 391.0 53.9 C393.2 57.1 395.2 61.1 395.8 64.5 C396.4 67.9 395.0 72.5 394.8 74.1" fill="none" stroke="#333333" stroke-width="0.85"/>
<path d="M372.7 99.1 C374.8 97.2 381.5 91.0 385.2 87.5 C388.9 84.0 391.6 80.3 394.8 77.9 C398.0 75.5 401.0 74.0 404.5 73.1 C408.0 72.1 412.8 72.7 416.0 72.2 C419.2 71.7 421.8 72.5 423.7 70.2 C425.6 68.0 426.5 62.5 427.5 58.7 C428.5 54.9 427.9 50.4 429.5 47.2 C431.1 44.0 434.0 41.6 437.2 39.5 C440.4 37.4 444.5 36.0 448.7 34.7 C452.9 33.4 459.9 32.3 462.2 31.8" fill="none" stroke="#333333" stroke-width="0.85"/>
<path d="M421.8 71.2 C422.8 72.0 425.8 73.6 427.5 76.0 C429.2 78.4 430.4 81.1 432.3 85.6 C434.2 90.1 438.0 100.0 439.1 102.9" fill="none" stroke="#333333" stroke-width="0.85"/>
<path d="M417.9 72.2 C418.7 73.2 422.0 75.4 422.7 77.9 C423.4 80.5 423.9 84.3 421.8 87.5 C419.7 90.7 414.7 94.6 410.2 97.2 C405.7 99.8 399.1 101.2 394.8 102.9 C390.5 104.7 386.1 106.9 384.3 107.7" fill="none" stroke="#333333" stroke-width="0.85"/>
<text x="123" y="25" font-size="6.2" text-anchor="start" fill="#2b2b2b" stroke="#2b2b2b" textLength="27" lengthAdjust="spacingAndGlyphs">GMP/neu</text>
<text x="38.75" y="44.6" font-size="6.2" text-anchor="start" fill="#2b2b2b" stroke="#2b2b2b" textLength="25" lengthAdjust="spacingAndGlyphs">Erythroid</text>
<text x="35.1" y="106" font-size="6.0" text-anchor="start" fill="#2b2b2b" stroke="#2b2b2b" textLength="28.1" lengthAdjust="spacingAndGlyphs">HSC/MPP</text>
<text x="65.4" y="115.4" font-size="6.0" text-anchor="start" fill="#2b2b2b" stroke="#2b2b2b" textLength="35.4" lengthAdjust="spacingAndGlyphs">MPP/Lymph</text>
<text x="120" y="104.8" font-size="6.0" text-anchor="start" fill="#2b2b2b" stroke="#2b2b2b" textLength="33.3" lengthAdjust="spacingAndGlyphs">GMP/mono</text>
<text x="131.6" y="35.1" font-size="6.4" text-anchor="middle" fill="#1e2a44" font-weight="bold">12</text>
<text x="88" y="47.6" font-size="6.4" text-anchor="middle" fill="#1e2a44" font-weight="bold">16</text>
<text x="89.5" y="60.5" font-size="6.4" text-anchor="middle" fill="#5a4a3a" font-weight="bold">18</text>
<text x="72.4" y="68.8" font-size="6.4" text-anchor="middle" fill="#1e2a44" font-weight="bold">24</text>
<text x="132.4" y="66.6" font-size="6.4" text-anchor="middle" fill="#1e2a44" font-weight="bold">22</text>
<text x="115" y="82.6" font-size="6.4" text-anchor="middle" fill="#1e2a44" font-weight="bold">29</text>
<text x="69.6" y="90" font-size="6.4" text-anchor="middle" fill="#1e2a44" font-weight="bold">19</text>
<text x="130.4" y="90.4" font-size="6.4" text-anchor="middle" fill="#1e2a44" font-weight="bold">9</text>
<text x="97" y="104.8" font-size="6.4" text-anchor="middle" fill="#1e2a44" font-weight="bold">13</text>
<line x1="53.5" y1="119.8" x2="246" y2="119.8" stroke="#6d6d6d" stroke-width="0.9"/>
<line x1="271.8" y1="119.8" x2="464" y2="119.8" stroke="#6d6d6d" stroke-width="0.9"/>
<text x="123.8" y="129" font-size="6.3" text-anchor="start" fill="#2b2b2b" stroke="#2b2b2b" textLength="42.2" lengthAdjust="spacingAndGlyphs">Fetal induction</text>
<text x="336" y="129" font-size="6.3" text-anchor="start" fill="#2b2b2b" stroke="#2b2b2b" textLength="55" lengthAdjust="spacingAndGlyphs">Postnatal induction</text>
<line x1="47.4" y1="157.3" x2="47.4" y2="237.20000000000002" stroke="#1a1a1a" stroke-width="1.0"/>
<line x1="44.9" y1="159.6" x2="47.4" y2="159.6" stroke="#1a1a1a" stroke-width="1.0"/>
<text x="41.6" y="161.9" font-size="6.3" text-anchor="end" fill="#231f20" stroke="#231f20">100</text>
<line x1="44.9" y1="175" x2="47.4" y2="175" stroke="#1a1a1a" stroke-width="1.0"/>
<text x="41.6" y="177.3" font-size="6.3" text-anchor="end" fill="#231f20" stroke="#231f20">80</text>
<line x1="44.9" y1="190.5" x2="47.4" y2="190.5" stroke="#1a1a1a" stroke-width="1.0"/>
<text x="41.6" y="192.8" font-size="6.3" text-anchor="end" fill="#231f20" stroke="#231f20">60</text>
<line x1="44.9" y1="206" x2="47.4" y2="206" stroke="#1a1a1a" stroke-width="1.0"/>
<text x="41.6" y="208.3" font-size="6.3" text-anchor="end" fill="#231f20" stroke="#231f20">40</text>
<line x1="44.9" y1="221.4" x2="47.4" y2="221.4" stroke="#1a1a1a" stroke-width="1.0"/>
<text x="41.6" y="223.70000000000002" font-size="6.3" text-anchor="end" fill="#231f20" stroke="#231f20">20</text>
<line x1="44.9" y1="236.8" x2="47.4" y2="236.8" stroke="#1a1a1a" stroke-width="1.0"/>
<text x="41.6" y="239.10000000000002" font-size="6.3" text-anchor="end" fill="#231f20" stroke="#231f20">0</text>
<line x1="47.4" y1="236.8" x2="199.7" y2="236.8" stroke="#1a1a1a" stroke-width="1.0"/>
<rect x="50.20" y="232.94" width="4.25" height="3.87" fill="#c8163a"/>
<rect x="54.45" y="216.70" width="4.25" height="20.10" fill="#1d4f8c"/>
<rect x="58.70" y="205.11" width="4.25" height="31.69" fill="#4cbb5a"/>
<rect x="62.95" y="220.57" width="4.25" height="16.23" fill="#4a2a6c"/>
<rect x="67.20" y="231.39" width="4.25" height="5.41" fill="#f6a21d"/>
<line x1="62.5" y1="236.8" x2="62.5" y2="238.60000000000002" stroke="#1a1a1a" stroke-width="0.8"/>
<text x="62.5" y="248.5" font-size="6.3" text-anchor="middle" fill="#231f20" stroke="#231f20">19</text>
<rect x="84.95" y="229.07" width="4.25" height="7.73" fill="#1d4f8c"/>
<rect x="89.20" y="222.11" width="4.25" height="14.69" fill="#4cbb5a"/>
<rect x="93.45" y="227.52" width="4.25" height="9.28" fill="#4a2a6c"/>
<rect x="97.70" y="211.29" width="4.25" height="25.51" fill="#f6a21d"/>
<rect x="101.95" y="217.48" width="4.25" height="19.32" fill="#16694e"/>
<line x1="93.65" y1="236.8" x2="93.65" y2="238.60000000000002" stroke="#1a1a1a" stroke-width="0.8"/>
<text x="93.65" y="248.5" font-size="6.3" text-anchor="middle" fill="#231f20" stroke="#231f20">29</text>
<rect x="115.45" y="234.48" width="4.25" height="2.32" fill="#1d4f8c"/>
<rect x="119.70" y="229.84" width="4.25" height="6.96" fill="#4cbb5a"/>
<rect x="123.95" y="234.48" width="4.25" height="2.32" fill="#4a2a6c"/>
<rect x="128.20" y="216.70" width="4.25" height="20.10" fill="#f6a21d"/>
<rect x="132.45" y="191.97" width="4.25" height="44.83" fill="#16694e"/>
<line x1="124.8" y1="236.8" x2="124.8" y2="238.60000000000002" stroke="#1a1a1a" stroke-width="0.8"/>
<text x="124.8" y="248.5" font-size="6.3" text-anchor="middle" fill="#231f20" stroke="#231f20">22</text>
<rect x="145.95" y="234.48" width="4.25" height="2.32" fill="#1d4f8c"/>
<rect x="150.20" y="236.03" width="4.25" height="0.77" fill="#4cbb5a"/>
<rect x="154.45" y="236.03" width="4.25" height="0.77" fill="#4a2a6c"/>
<rect x="162.95" y="165.68" width="4.25" height="71.12" fill="#16694e"/>
<line x1="155.95" y1="236.8" x2="155.95" y2="238.60000000000002" stroke="#1a1a1a" stroke-width="0.8"/>
<text x="155.95" y="248.5" font-size="6.3" text-anchor="middle" fill="#231f20" stroke="#231f20">12</text>
<rect x="176.45" y="236.03" width="4.25" height="0.77" fill="#1d4f8c"/>
<rect x="180.70" y="235.25" width="4.25" height="1.55" fill="#4cbb5a"/>
<rect x="184.95" y="236.03" width="4.25" height="0.77" fill="#4a2a6c"/>
<rect x="189.20" y="215.16" width="4.25" height="21.64" fill="#f6a21d"/>
<rect x="193.45" y="185.01" width="4.25" height="51.79" fill="#16694e"/>
<line x1="187.1" y1="236.8" x2="187.1" y2="238.60000000000002" stroke="#1a1a1a" stroke-width="0.8"/>
<text x="187.1" y="248.5" font-size="6.3" text-anchor="middle" fill="#231f20" stroke="#231f20">9</text>
<text x="199.7" y="248.5" font-size="6.3" text-anchor="start" fill="#231f20" stroke="#231f20" textLength="20.2" lengthAdjust="spacingAndGlyphs">Cluster</text>
<text x="26.6" y="196.5" font-size="8.2" text-anchor="middle" fill="#231f20" stroke="#231f20" textLength="58.5" lengthAdjust="spacingAndGlyphs" transform="rotate(-90 26.6 196.5)">% of annotated cells</text>
<rect x="58.00" y="152.50" width="4.80" height="4.80" fill="#c8163a"/>
<text x="65.5" y="157.2" font-size="6.3" text-anchor="start" fill="#231f20" stroke="#231f20">HSC</text>
<rect x="58.00" y="164.50" width="4.80" height="4.80" fill="#1d4f8c"/>
<text x="65.5" y="169.2" font-size="6.3" text-anchor="start" fill="#231f20" stroke="#231f20">MPP2</text>
<rect x="58.00" y="175.80" width="4.80" height="4.80" fill="#4cbb5a"/>
<text x="65.5" y="180.5" font-size="6.3" text-anchor="start" fill="#231f20" stroke="#231f20">MPP3</text>
<rect x="90.50" y="152.50" width="4.80" height="4.80" fill="#4a2a6c"/>
<text x="98" y="157.2" font-size="6.3" text-anchor="start" fill="#231f20" stroke="#231f20">MPP4</text>
<rect x="90.50" y="164.50" width="4.80" height="4.80" fill="#f6a21d"/>
<text x="98" y="169.2" font-size="6.3" text-anchor="start" fill="#231f20" stroke="#231f20">pGM</text>
<rect x="90.50" y="175.80" width="4.80" height="4.80" fill="#16694e"/>
<text x="98" y="180.5" font-size="6.3" text-anchor="start" fill="#231f20" stroke="#231f20">GMP</text>
<text x="270" y="149.3" font-size="8.5" text-anchor="start" fill="#231f20" stroke="#231f20" textLength="55.7" lengthAdjust="spacingAndGlyphs">Fetal induction</text>
<line x1="264.6" y1="157.5" x2="264.6" y2="237.20000000000002" stroke="#1a1a1a" stroke-width="1.0"/>
<line x1="262.1" y1="160" x2="264.6" y2="160" stroke="#1a1a1a" stroke-width="1.0"/>
<text x="258.8" y="162.3" font-size="6.3" text-anchor="end" fill="#231f20" stroke="#231f20">40</text>
<line x1="262.1" y1="179.2" x2="264.6" y2="179.2" stroke="#1a1a1a" stroke-width="1.0"/>
<text x="258.8" y="181.5" font-size="6.3" text-anchor="end" fill="#231f20" stroke="#231f20">30</text>
<line x1="262.1" y1="198.3" x2="264.6" y2="198.3" stroke="#1a1a1a" stroke-width="1.0"/>
<text x="258.8" y="200.60000000000002" font-size="6.3" text-anchor="end" fill="#231f20" stroke="#231f20">20</text>
<line x1="262.1" y1="217.5" x2="264.6" y2="217.5" stroke="#1a1a1a" stroke-width="1.0"/>
<text x="258.8" y="219.8" font-size="6.3" text-anchor="end" fill="#231f20" stroke="#231f20">10</text>
<line x1="262.1" y1="236.8" x2="264.6" y2="236.8" stroke="#1a1a1a" stroke-width="1.0"/>
<text x="258.8" y="239.10000000000002" font-size="6.3" text-anchor="end" fill="#231f20" stroke="#231f20">0</text>
<line x1="264.6" y1="236.8" x2="340.6" y2="236.8" stroke="#1a1a1a" stroke-width="1.0"/>
<rect x="267.30" y="209.34" width="5.00" height="27.46" fill="#c8163a"/>
<rect x="272.30" y="221.63" width="5.00" height="15.17" fill="#1b4f8a"/>
<line x1="272.3" y1="236.8" x2="272.3" y2="239.0" stroke="#1a1a1a" stroke-width="1.0"/>
<text x="272.3" y="248.2" font-size="6.3" text-anchor="middle" fill="#231f20" stroke="#231f20">19</text>
<rect x="282.74" y="182.46" width="5.00" height="54.34" fill="#c8163a"/>
<rect x="287.74" y="206.08" width="5.00" height="30.72" fill="#1b4f8a"/>
<line x1="287.74" y1="236.8" x2="287.74" y2="239.0" stroke="#1a1a1a" stroke-width="1.0"/>
<text x="287.74" y="248.2" font-size="6.3" text-anchor="middle" fill="#231f20" stroke="#231f20">29</text>
<rect x="298.18" y="193.79" width="5.00" height="43.01" fill="#c8163a"/>
<rect x="303.18" y="171.90" width="5.00" height="64.90" fill="#1b4f8a"/>
<line x1="303.18" y1="236.8" x2="303.18" y2="239.0" stroke="#1a1a1a" stroke-width="1.0"/>
<text x="303.18" y="248.2" font-size="6.3" text-anchor="middle" fill="#231f20" stroke="#231f20">22</text>
<rect x="313.62" y="226.62" width="5.00" height="10.18" fill="#c8163a"/>
<rect x="318.62" y="211.84" width="5.00" height="24.96" fill="#1b4f8a"/>
<line x1="318.62" y1="236.8" x2="318.62" y2="239.0" stroke="#1a1a1a" stroke-width="1.0"/>
<text x="318.62" y="248.2" font-size="6.3" text-anchor="middle" fill="#231f20" stroke="#231f20">12</text>
<rect x="329.06" y="221.82" width="5.00" height="14.98" fill="#c8163a"/>
<rect x="334.06" y="212.22" width="5.00" height="24.58" fill="#1b4f8a"/>
<line x1="334.06" y1="236.8" x2="334.06" y2="239.0" stroke="#1a1a1a" stroke-width="1.0"/>
<text x="334.06" y="248.2" font-size="6.3" text-anchor="middle" fill="#231f20" stroke="#231f20">9</text>
<text x="345" y="248.2" font-size="6.3" text-anchor="start" fill="#231f20" stroke="#231f20">Cluster</text>
<line x1="266.90000000000003" y1="252.8" x2="323.8" y2="252.8" stroke="#1a1a1a" stroke-width="1.0"/>
<path d="M327.3 252.8 L322.5 250.6 L322.5 255Z" fill="#1a1a1a" stroke="none" stroke-width="0.8"/>
<text x="266.35" y="261.5" font-size="7" text-anchor="middle" fill="#231f20" stroke="#231f20" textLength="12.5" lengthAdjust="spacingAndGlyphs">HSC</text>
<text x="325.0" y="261.5" font-size="7" text-anchor="middle" fill="#231f20" stroke="#231f20" textLength="13.6" lengthAdjust="spacingAndGlyphs">GMP</text>
<text x="246.70000000000002" y="196.7" font-size="8.2" text-anchor="middle" fill="#231f20" stroke="#231f20" textLength="56.8" lengthAdjust="spacingAndGlyphs" transform="rotate(-90 246.70000000000002 196.7)">% of cells in cluster</text>
<text x="273.1" y="171.9" font-size="6.5" text-anchor="middle" fill="#231f20" stroke="#231f20">***</text>
<text x="288.1" y="169.9" font-size="6.5" text-anchor="middle" fill="#231f20" stroke="#231f20">***</text>
<text x="303.4" y="169.9" font-size="6.5" text-anchor="middle" fill="#231f20" stroke="#231f20">***</text>
<text x="318.5" y="182.4" font-size="6.5" text-anchor="middle" fill="#231f20" stroke="#231f20">***</text>
<text x="333.8" y="174.9" font-size="6.5" text-anchor="middle" fill="#231f20" stroke="#231f20">***</text>
<text x="412.5" y="149.3" font-size="8.5" text-anchor="start" fill="#231f20" stroke="#231f20" textLength="66.3" lengthAdjust="spacingAndGlyphs">Postnatal induction</text>
<line x1="406.5" y1="157.5" x2="406.5" y2="237.20000000000002" stroke="#1a1a1a" stroke-width="1.0"/>
<line x1="404.0" y1="160" x2="406.5" y2="160" stroke="#1a1a1a" stroke-width="1.0"/>
<text x="400.7" y="162.3" font-size="6.3" text-anchor="end" fill="#231f20" stroke="#231f20">30</text>
<line x1="404.0" y1="185.6" x2="406.5" y2="185.6" stroke="#1a1a1a" stroke-width="1.0"/>
<text x="400.7" y="187.9" font-size="6.3" text-anchor="end" fill="#231f20" stroke="#231f20">20</text>
<line x1="404.0" y1="211.2" x2="406.5" y2="211.2" stroke="#1a1a1a" stroke-width="1.0"/>
<text x="400.7" y="213.5" font-size="6.3" text-anchor="end" fill="#231f20" stroke="#231f20">10</text>
<line x1="404.0" y1="236.8" x2="406.5" y2="236.8" stroke="#1a1a1a" stroke-width="1.0"/>
<text x="400.7" y="239.10000000000002" font-size="6.3" text-anchor="end" fill="#231f20" stroke="#231f20">0</text>
<line x1="406.5" y1="236.8" x2="483.0" y2="236.8" stroke="#1a1a1a" stroke-width="1.0"/>
<rect x="409.50" y="191.27" width="5.00" height="45.53" fill="#c8163a"/>
<rect x="414.50" y="198.69" width="5.00" height="38.11" fill="#1b4f8a"/>
<line x1="414.5" y1="236.8" x2="414.5" y2="239.0" stroke="#1a1a1a" stroke-width="1.0"/>
<text x="414.5" y="248.2" font-size="6.3" text-anchor="middle" fill="#231f20" stroke="#231f20">19</text>
<rect x="424.65" y="193.06" width="5.00" height="43.74" fill="#c8163a"/>
<rect x="429.65" y="184.36" width="5.00" height="52.44" fill="#1b4f8a"/>
<line x1="429.65" y1="236.8" x2="429.65" y2="239.0" stroke="#1a1a1a" stroke-width="1.0"/>
<text x="429.65" y="248.2" font-size="6.3" text-anchor="middle" fill="#231f20" stroke="#231f20">29</text>
<rect x="439.80" y="175.15" width="5.00" height="61.65" fill="#c8163a"/>
<rect x="444.80" y="165.18" width="5.00" height="71.62" fill="#1b4f8a"/>
<line x1="444.8" y1="236.8" x2="444.8" y2="239.0" stroke="#1a1a1a" stroke-width="1.0"/>
<text x="444.8" y="248.2" font-size="6.3" text-anchor="middle" fill="#231f20" stroke="#231f20">22</text>
<rect x="454.95" y="214.55" width="5.00" height="22.25" fill="#c8163a"/>
<rect x="459.95" y="218.89" width="5.00" height="17.91" fill="#1b4f8a"/>
<line x1="459.95" y1="236.8" x2="459.95" y2="239.0" stroke="#1a1a1a" stroke-width="1.0"/>
<text x="459.95" y="248.2" font-size="6.3" text-anchor="middle" fill="#231f20" stroke="#231f20">12</text>
<rect x="470.10" y="206.36" width="5.00" height="30.44" fill="#c8163a"/>
<rect x="475.10" y="202.01" width="5.00" height="34.79" fill="#1b4f8a"/>
<line x1="475.1" y1="236.8" x2="475.1" y2="239.0" stroke="#1a1a1a" stroke-width="1.0"/>
<text x="475.1" y="248.2" font-size="6.3" text-anchor="middle" fill="#231f20" stroke="#231f20">9</text>
<line x1="412.0" y1="252.8" x2="468.8" y2="252.8" stroke="#1a1a1a" stroke-width="1.0"/>
<path d="M472.3 252.8 L467.5 250.6 L467.5 255Z" fill="#1a1a1a" stroke="none" stroke-width="0.8"/>
<text x="412.2" y="261.5" font-size="7" text-anchor="middle" fill="#231f20" stroke="#231f20" textLength="12.5" lengthAdjust="spacingAndGlyphs">HSC</text>
<text x="470.6" y="261.5" font-size="7" text-anchor="middle" fill="#231f20" stroke="#231f20" textLength="13.6" lengthAdjust="spacingAndGlyphs">GMP</text>
<text x="388.6" y="196.7" font-size="8.2" text-anchor="middle" fill="#231f20" stroke="#231f20" textLength="56.8" lengthAdjust="spacingAndGlyphs" transform="rotate(-90 388.6 196.7)">% of cells in cluster</text>
<rect x="473.00" y="156.00" width="4.70" height="4.60" fill="#c8163a"/>
<text x="480.7" y="160.6" font-size="6.7" text-anchor="start" fill="#231f20" stroke="#231f20">Control</text>
<rect x="473.00" y="168.00" width="4.70" height="4.60" fill="#1b4f8a"/>
<text x="480.7" y="172.6" font-size="6.7" text-anchor="start" fill="#231f20" stroke="#231f20">ME</text>
<text x="47.4" y="280.6" font-size="8.5" text-anchor="start" fill="#231f20" stroke="#231f20" textLength="40.8" lengthAdjust="spacingAndGlyphs">All clusters</text>
<line x1="43.3" y1="296.7" x2="43.3" y2="375.2" stroke="#1a1a1a" stroke-width="1.0"/>
<line x1="40.8" y1="298.1" x2="43.3" y2="298.1" stroke="#1a1a1a" stroke-width="1.0"/>
<text x="37.5" y="300.40000000000003" font-size="6.3" text-anchor="end" fill="#231f20" stroke="#231f20">2000</text>
<line x1="40.8" y1="317.3" x2="43.3" y2="317.3" stroke="#1a1a1a" stroke-width="1.0"/>
<text x="37.5" y="319.6" font-size="6.3" text-anchor="end" fill="#231f20" stroke="#231f20">1500</text>
<line x1="40.8" y1="336.5" x2="43.3" y2="336.5" stroke="#1a1a1a" stroke-width="1.0"/>
<text x="37.5" y="338.8" font-size="6.3" text-anchor="end" fill="#231f20" stroke="#231f20">1000</text>
<line x1="40.8" y1="355.7" x2="43.3" y2="355.7" stroke="#1a1a1a" stroke-width="1.0"/>
<text x="37.5" y="358.0" font-size="6.3" text-anchor="end" fill="#231f20" stroke="#231f20">500</text>
<line x1="40.8" y1="374.8" x2="43.3" y2="374.8" stroke="#1a1a1a" stroke-width="1.0"/>
<text x="37.5" y="377.1" font-size="6.3" text-anchor="end" fill="#231f20" stroke="#231f20">0</text>
<line x1="43.3" y1="374.8" x2="93.8" y2="374.8" stroke="#1a1a1a" stroke-width="0.8"/>
<line x1="48.6" y1="374.5" x2="53.6" y2="374.5" stroke="#1a1a1a" stroke-width="0.9"/>
<line x1="51.1" y1="374.8" x2="51.1" y2="376.6" stroke="#1a1a1a" stroke-width="0.8"/>
<rect x="59.40" y="362.53" width="7.60" height="12.27" fill="#1b4f8a"/>
<line x1="63.2" y1="360.80225" x2="63.2" y2="364.528" stroke="#1a1a1a" stroke-width="0.7"/>
<line x1="61.400000000000006" y1="360.80225" x2="65.0" y2="360.80225" stroke="#1a1a1a" stroke-width="0.7"/>
<circle cx="61.70" cy="362.14" r="1.0" fill="#1a1a1a"/>
<circle cx="64.70" cy="363.30" r="1.0" fill="#1a1a1a"/>
<circle cx="63.20" cy="360.99" r="1.0" fill="#1a1a1a"/>
<line x1="63.2" y1="374.8" x2="63.2" y2="376.6" stroke="#1a1a1a" stroke-width="0.8"/>
<line x1="72.8" y1="374.5" x2="77.8" y2="374.5" stroke="#1a1a1a" stroke-width="0.9"/>
<line x1="75.3" y1="374.8" x2="75.3" y2="376.6" stroke="#1a1a1a" stroke-width="0.8"/>
<rect x="82.90" y="312.67" width="7.20" height="62.13" fill="#1b4f8a"/>
<line x1="86.5" y1="309.98850000000004" x2="86.5" y2="314.673" stroke="#1a1a1a" stroke-width="0.7"/>
<line x1="84.7" y1="309.98850000000004" x2="88.3" y2="309.98850000000004" stroke="#1a1a1a" stroke-width="0.7"/>
<circle cx="85.00" cy="313.44" r="1.0" fill="#1a1a1a"/>
<circle cx="88.00" cy="311.52" r="1.0" fill="#1a1a1a"/>
<circle cx="86.50" cy="309.61" r="1.0" fill="#1a1a1a"/>
<circle cx="88.50" cy="314.21" r="1.0" fill="#1a1a1a"/>
<line x1="86.5" y1="374.8" x2="86.5" y2="376.6" stroke="#1a1a1a" stroke-width="0.8"/>
<line x1="52.6" y1="297.5" x2="87.6" y2="297.5" stroke="#1a1a1a" stroke-width="0.85"/>
<text x="70.1" y="298.6" font-size="6.3" text-anchor="middle" fill="#231f20" stroke="#231f20">***</text>
<line x1="52.6" y1="311.5" x2="67" y2="311.5" stroke="#1a1a1a" stroke-width="0.85"/>
<text x="59.8" y="312.6" font-size="6.3" text-anchor="middle" fill="#231f20" stroke="#231f20">***</text>
<line x1="74.2" y1="305" x2="88.7" y2="305" stroke="#1a1a1a" stroke-width="0.85"/>
<text x="81.45" y="306.1" font-size="6.3" text-anchor="middle" fill="#231f20" stroke="#231f20">***</text>
<text x="51.1" y="387" font-size="6.3" text-anchor="middle" fill="#231f20" stroke="#231f20">Ctl</text>
<text x="62.9" y="387" font-size="6.3" text-anchor="middle" fill="#231f20" stroke="#231f20">ME</text>
<text x="75.3" y="387" font-size="6.3" text-anchor="middle" fill="#231f20" stroke="#231f20">Ctl</text>
<text x="86.6" y="387" font-size="6.3" text-anchor="middle" fill="#231f20" stroke="#231f20">ME</text>
<line x1="43.7" y1="390.3" x2="67" y2="390.3" stroke="#555" stroke-width="0.7"/>
<line x1="69.7" y1="390.3" x2="93.8" y2="390.3" stroke="#555" stroke-width="0.7"/>
<text x="55.7" y="398.7" font-size="6.3" text-anchor="middle" fill="#231f20" stroke="#231f20">Fetal</text>
<text x="82" y="398.7" font-size="6.3" text-anchor="middle" fill="#231f20" stroke="#231f20" textLength="26" lengthAdjust="spacingAndGlyphs">Postnatal</text>
<text x="18.6" y="334.5" font-size="8.2" text-anchor="middle" fill="#231f20" stroke="#231f20" textLength="69.5" lengthAdjust="spacingAndGlyphs" transform="rotate(-90 18.6 334.5)">ME expression (counts)</text>
<text x="117.7" y="280.6" font-size="8.5" text-anchor="start" fill="#231f20" stroke="#231f20" textLength="58.7" lengthAdjust="spacingAndGlyphs">c19 (HSC/MPP)</text>
<line x1="126.3" y1="296.7" x2="126.3" y2="375.2" stroke="#1a1a1a" stroke-width="1.0"/>
<line x1="123.8" y1="298.1" x2="126.3" y2="298.1" stroke="#1a1a1a" stroke-width="1.0"/>
<text x="120.5" y="300.40000000000003" font-size="6.3" text-anchor="end" fill="#231f20" stroke="#231f20">600</text>
<line x1="123.8" y1="323.9" x2="126.3" y2="323.9" stroke="#1a1a1a" stroke-width="1.0"/>
<text x="120.5" y="326.2" font-size="6.3" text-anchor="end" fill="#231f20" stroke="#231f20">400</text>
<line x1="123.8" y1="349.3" x2="126.3" y2="349.3" stroke="#1a1a1a" stroke-width="1.0"/>
<text x="120.5" y="351.6" font-size="6.3" text-anchor="end" fill="#231f20" stroke="#231f20">200</text>
<line x1="123.8" y1="374.8" x2="126.3" y2="374.8" stroke="#1a1a1a" stroke-width="1.0"/>
<text x="120.5" y="377.1" font-size="6.3" text-anchor="end" fill="#231f20" stroke="#231f20">0</text>
<line x1="126.3" y1="374.8" x2="177.5" y2="374.8" stroke="#1a1a1a" stroke-width="0.8"/>
<line x1="130.9" y1="374.5" x2="135.9" y2="374.5" stroke="#1a1a1a" stroke-width="0.9"/>
<line x1="133.4" y1="374.8" x2="133.4" y2="376.6" stroke="#1a1a1a" stroke-width="0.8"/>
<rect x="142.40" y="366.87" width="7.80" height="7.93" fill="#1b4f8a"/>
<line x1="146.3" y1="364.062" x2="146.3" y2="368.87433333333337" stroke="#1a1a1a" stroke-width="0.7"/>
<line x1="144.5" y1="364.062" x2="148.10000000000002" y2="364.062" stroke="#1a1a1a" stroke-width="0.7"/>
<circle cx="144.80" cy="367.77" r="1.0" fill="#1a1a1a"/>
<circle cx="147.80" cy="365.85" r="1.0" fill="#1a1a1a"/>
<circle cx="146.30" cy="363.93" r="1.0" fill="#1a1a1a"/>
<line x1="146.3" y1="374.8" x2="146.3" y2="376.6" stroke="#1a1a1a" stroke-width="0.8"/>
<line x1="155.4" y1="374.5" x2="160.4" y2="374.5" stroke="#1a1a1a" stroke-width="0.9"/>
<line x1="157.9" y1="374.8" x2="157.9" y2="376.6" stroke="#1a1a1a" stroke-width="0.8"/>
<rect x="165.50" y="313.44" width="7.80" height="61.36" fill="#1b4f8a"/>
<line x1="169.4" y1="309.8606666666667" x2="169.4" y2="315.44" stroke="#1a1a1a" stroke-width="0.7"/>
<line x1="167.6" y1="309.8606666666667" x2="171.20000000000002" y2="309.8606666666667" stroke="#1a1a1a" stroke-width="0.7"/>
<circle cx="167.90" cy="314.72" r="1.0" fill="#1a1a1a"/>
<circle cx="170.90" cy="312.16" r="1.0" fill="#1a1a1a"/>
<circle cx="169.40" cy="310.88" r="1.0" fill="#1a1a1a"/>
<line x1="169.4" y1="374.8" x2="169.4" y2="376.6" stroke="#1a1a1a" stroke-width="0.8"/>
<line x1="134.8" y1="297.5" x2="170.3" y2="297.5" stroke="#1a1a1a" stroke-width="0.85"/>
<text x="152.55" y="298.6" font-size="6.3" text-anchor="middle" fill="#231f20" stroke="#231f20">***</text>
<line x1="134.8" y1="311.5" x2="149.6" y2="311.5" stroke="#1a1a1a" stroke-width="0.85"/>
<text x="142.2" y="312.6" font-size="6.3" text-anchor="middle" fill="#231f20" stroke="#231f20">***</text>
<line x1="156.9" y1="305" x2="171.7" y2="305" stroke="#1a1a1a" stroke-width="0.85"/>
<text x="164.3" y="306.1" font-size="6.3" text-anchor="middle" fill="#231f20" stroke="#231f20">***</text>
<text x="133.8" y="387" font-size="6.3" text-anchor="middle" fill="#231f20" stroke="#231f20">Ctl</text>
<text x="145.5" y="387" font-size="6.3" text-anchor="middle" fill="#231f20" stroke="#231f20">ME</text>
<text x="157.3" y="387" font-size="6.3" text-anchor="middle" fill="#231f20" stroke="#231f20">Ctl</text>
<text x="169.2" y="387" font-size="6.3" text-anchor="middle" fill="#231f20" stroke="#231f20">ME</text>
<line x1="126.3" y1="390.3" x2="150.3" y2="390.3" stroke="#555" stroke-width="0.7"/>
<line x1="152.3" y1="390.3" x2="177.5" y2="390.3" stroke="#555" stroke-width="0.7"/>
<text x="138.3" y="398.7" font-size="6.3" text-anchor="middle" fill="#231f20" stroke="#231f20">Fetal</text>
<text x="164.7" y="398.7" font-size="6.3" text-anchor="middle" fill="#231f20" stroke="#231f20" textLength="26" lengthAdjust="spacingAndGlyphs">Postnatal</text>
<text x="104.7" y="334.5" font-size="8.2" text-anchor="middle" fill="#231f20" stroke="#231f20" textLength="69.5" lengthAdjust="spacingAndGlyphs" transform="rotate(-90 104.7 334.5)">ME expression (counts)</text>
<text x="192.4" y="280.6" font-size="8.5" text-anchor="start" fill="#231f20" stroke="#231f20" textLength="73.2" lengthAdjust="spacingAndGlyphs">c22/12 (pGM/GMP)</text>
<line x1="209.8" y1="296.7" x2="209.8" y2="375.2" stroke="#1a1a1a" stroke-width="1.0"/>
<line x1="207.3" y1="298.1" x2="209.8" y2="298.1" stroke="#1a1a1a" stroke-width="1.0"/>
<text x="204.0" y="300.40000000000003" font-size="6.3" text-anchor="end" fill="#231f20" stroke="#231f20">600</text>
<line x1="207.3" y1="323.9" x2="209.8" y2="323.9" stroke="#1a1a1a" stroke-width="1.0"/>
<text x="204.0" y="326.2" font-size="6.3" text-anchor="end" fill="#231f20" stroke="#231f20">400</text>
<line x1="207.3" y1="349.3" x2="209.8" y2="349.3" stroke="#1a1a1a" stroke-width="1.0"/>
<text x="204.0" y="351.6" font-size="6.3" text-anchor="end" fill="#231f20" stroke="#231f20">200</text>
<line x1="207.3" y1="374.8" x2="209.8" y2="374.8" stroke="#1a1a1a" stroke-width="1.0"/>
<text x="204.0" y="377.1" font-size="6.3" text-anchor="end" fill="#231f20" stroke="#231f20">0</text>
<line x1="209.8" y1="374.8" x2="259.4" y2="374.8" stroke="#1a1a1a" stroke-width="0.8"/>
<line x1="212.5" y1="374.5" x2="217.5" y2="374.5" stroke="#1a1a1a" stroke-width="0.9"/>
<line x1="215" y1="374.8" x2="215" y2="376.6" stroke="#1a1a1a" stroke-width="0.8"/>
<rect x="225.40" y="356.90" width="7.20" height="17.90" fill="#1b4f8a"/>
<line x1="229" y1="354.091" x2="229" y2="358.90333333333336" stroke="#1a1a1a" stroke-width="0.7"/>
<line x1="227.2" y1="354.091" x2="230.8" y2="354.091" stroke="#1a1a1a" stroke-width="0.7"/>
<circle cx="227.50" cy="358.18" r="1.0" fill="#1a1a1a"/>
<circle cx="230.50" cy="355.62" r="1.0" fill="#1a1a1a"/>
<circle cx="229.00" cy="353.71" r="1.0" fill="#1a1a1a"/>
<line x1="229" y1="374.8" x2="229" y2="376.6" stroke="#1a1a1a" stroke-width="0.8"/>
<line x1="238.3" y1="374.5" x2="243.3" y2="374.5" stroke="#1a1a1a" stroke-width="0.9"/>
<line x1="240.8" y1="374.8" x2="240.8" y2="376.6" stroke="#1a1a1a" stroke-width="0.8"/>
<rect x="249.00" y="307.05" width="7.20" height="67.75" fill="#1b4f8a"/>
<line x1="252.6" y1="299.634" x2="252.6" y2="309.04833333333335" stroke="#1a1a1a" stroke-width="0.7"/>
<line x1="250.79999999999998" y1="299.634" x2="254.4" y2="299.634" stroke="#1a1a1a" stroke-width="0.7"/>
<circle cx="251.10" cy="308.33" r="1.0" fill="#1a1a1a"/>
<circle cx="254.10" cy="305.77" r="1.0" fill="#1a1a1a"/>
<circle cx="252.60" cy="301.30" r="1.0" fill="#1a1a1a"/>
<circle cx="252.60" cy="310.88" r="1.0" fill="#1a1a1a"/>
<line x1="252.6" y1="374.8" x2="252.6" y2="376.6" stroke="#1a1a1a" stroke-width="0.8"/>
<line x1="216.7" y1="296" x2="253.2" y2="296" stroke="#1a1a1a" stroke-width="0.85"/>
<text x="234.95" y="297.1" font-size="6.3" text-anchor="middle" fill="#231f20" stroke="#231f20">***</text>
<line x1="216.7" y1="309.9" x2="233.2" y2="309.9" stroke="#1a1a1a" stroke-width="0.85"/>
<text x="224.95" y="311.0" font-size="6.3" text-anchor="middle" fill="#231f20" stroke="#231f20">***</text>
<line x1="238.1" y1="303.3" x2="253.2" y2="303.3" stroke="#1a1a1a" stroke-width="0.85"/>
<text x="245.64999999999998" y="304.40000000000003" font-size="6.3" text-anchor="middle" fill="#231f20" stroke="#231f20">***</text>
<text x="216.7" y="387" font-size="6.3" text-anchor="middle" fill="#231f20" stroke="#231f20">Ctl</text>
<text x="229" y="387" font-size="6.3" text-anchor="middle" fill="#231f20" stroke="#231f20">ME</text>
<text x="240.8" y="387" font-size="6.3" text-anchor="middle" fill="#231f20" stroke="#231f20">Ctl</text>
<text x="252.6" y="387" font-size="6.3" text-anchor="middle" fill="#231f20" stroke="#231f20">ME</text>
<line x1="208.9" y1="390.3" x2="234" y2="390.3" stroke="#555" stroke-width="0.7"/>
<line x1="235.7" y1="390.3" x2="261.4" y2="390.3" stroke="#555" stroke-width="0.7"/>
<text x="220.8" y="398.7" font-size="6.3" text-anchor="middle" fill="#231f20" stroke="#231f20">Fetal</text>
<text x="249" y="398.7" font-size="6.3" text-anchor="middle" fill="#231f20" stroke="#231f20" textLength="26" lengthAdjust="spacingAndGlyphs">Postnatal</text>
<text x="188" y="334.5" font-size="8.2" text-anchor="middle" fill="#231f20" stroke="#231f20" textLength="69.5" lengthAdjust="spacingAndGlyphs" transform="rotate(-90 188 334.5)">ME expression (counts)</text>
<text x="328.6" y="280.5" font-size="8.5" text-anchor="start" fill="#231f20" stroke="#231f20" textLength="23.7" lengthAdjust="spacingAndGlyphs">Hoxa9</text>
<line x1="301.9" y1="286" x2="301.9" y2="376.29999999999995" stroke="#1a1a1a" stroke-width="1.0"/>
<line x1="299.4" y1="296.4" x2="301.9" y2="296.4" stroke="#1a1a1a" stroke-width="1.0"/>
<text x="296.09999999999997" y="298.7" font-size="6.3" text-anchor="end" fill="#231f20" stroke="#231f20">3</text>
<line x1="299.4" y1="322.8" x2="301.9" y2="322.8" stroke="#1a1a1a" stroke-width="1.0"/>
<text x="296.09999999999997" y="325.1" font-size="6.3" text-anchor="end" fill="#231f20" stroke="#231f20">2</text>
<line x1="299.4" y1="349.3" x2="301.9" y2="349.3" stroke="#1a1a1a" stroke-width="1.0"/>
<text x="296.09999999999997" y="351.6" font-size="6.3" text-anchor="end" fill="#231f20" stroke="#231f20">1</text>
<line x1="299.4" y1="375.9" x2="301.9" y2="375.9" stroke="#1a1a1a" stroke-width="1.0"/>
<text x="296.09999999999997" y="378.2" font-size="6.3" text-anchor="end" fill="#231f20" stroke="#231f20">0</text>
<line x1="301.9" y1="375.9" x2="378" y2="375.9" stroke="#1a1a1a" stroke-width="0.8"/>
<path d="M313.1 371.66 L313.10 371.66 L321.60 371.66 L320.10 370.60 L316.10 368.48 L314.90 364.77 L316.40 360.00 L317.40 355.50 L316.90 350.72 L315.90 346.22 L314.60 338.53 L313.90 330.85 L313.50 320.25 L313.10 311.50 L313.10 311.50 L312.70 320.25 L312.30 330.85 L311.60 338.53 L310.30 346.22 L309.30 350.72 L308.80 355.50 L309.80 360.00 L311.30 364.77 L310.10 368.48 L306.10 370.60 L304.60 371.66 L313.10 371.66Z" fill="#c8163a" stroke="none" stroke-width="0.8"/>
<line x1="313.1" y1="375.9" x2="313.1" y2="377.7" stroke="#1a1a1a" stroke-width="0.8"/>
<path d="M332.1 371.66 L332.10 371.66 L341.00 371.66 L340.10 370.60 L337.50 367.95 L337.90 363.18 L339.30 357.35 L340.10 352.31 L339.80 348.07 L339.00 343.04 L336.70 333.76 L334.40 324.49 L332.10 315.48 L332.10 315.48 L329.80 324.49 L327.50 333.76 L325.20 343.04 L324.40 348.07 L324.10 352.31 L324.90 357.35 L326.30 363.18 L326.70 367.95 L324.10 370.60 L323.20 371.66 L332.10 371.66Z" fill="#1b4f8a" stroke="none" stroke-width="0.8"/>
<line x1="332.1" y1="375.9" x2="332.1" y2="377.7" stroke="#1a1a1a" stroke-width="0.8"/>
<path d="M353.3 371.66 L353.30 371.66 L361.80 371.66 L360.30 370.60 L356.30 368.48 L355.10 364.77 L355.94 360.00 L356.74 355.50 L356.34 350.72 L355.54 346.22 L354.50 338.53 L354.10 330.85 L353.70 320.25 L353.30 311.50 L353.30 311.50 L352.90 320.25 L352.50 330.85 L352.10 338.53 L351.06 346.22 L350.26 350.72 L349.86 355.50 L350.66 360.00 L351.50 364.77 L350.30 368.48 L346.30 370.60 L344.80 371.66 L353.30 371.66Z" fill="#c8163a" stroke="none" stroke-width="0.8"/>
<line x1="353.3" y1="375.9" x2="353.3" y2="377.7" stroke="#1a1a1a" stroke-width="0.8"/>
<path d="M372.3 371.66 L372.30 371.66 L381.20 371.66 L380.10 370.60 L377.10 367.95 L376.10 363.18 L377.50 356.02 L378.10 349.40 L377.70 344.10 L376.90 338.53 L375.10 327.67 L373.50 318.39 L372.70 309.65 L372.30 304.35 L372.30 304.35 L371.90 309.65 L371.10 318.39 L369.50 327.67 L367.70 338.53 L366.90 344.10 L366.50 349.40 L367.10 356.02 L368.50 363.18 L367.50 367.95 L364.50 370.60 L363.40 371.66 L372.30 371.66Z" fill="#1b4f8a" stroke="none" stroke-width="0.8"/>
<line x1="372.3" y1="375.9" x2="372.3" y2="377.7" stroke="#1a1a1a" stroke-width="0.8"/>
<circle cx="313.1" cy="317.6" r="0.7" fill="#1a1a1a"/>
<circle cx="313.1" cy="315.7" r="0.7" fill="#1a1a1a"/>
<circle cx="313.1" cy="313.9" r="0.7" fill="#1a1a1a"/>
<circle cx="313.1" cy="312.0" r="0.7" fill="#1a1a1a"/>
<circle cx="353.3" cy="317.6" r="0.7" fill="#1a1a1a"/>
<circle cx="353.3" cy="315.7" r="0.7" fill="#1a1a1a"/>
<circle cx="353.3" cy="313.9" r="0.7" fill="#1a1a1a"/>
<circle cx="353.3" cy="312.0" r="0.7" fill="#1a1a1a"/>
<line x1="372.3" y1="314.95" x2="372.3" y2="291.09999999999997" stroke="#1a1a1a" stroke-width="0.4"/>
<circle cx="372.3" cy="291.1" r="0.8" fill="#1a1a1a"/>
<line x1="312.7" y1="298.7" x2="334.2" y2="298.7" stroke="#1a1a1a" stroke-width="0.7"/>
<text x="323.4" y="299.8" font-size="6.3" text-anchor="middle" fill="#231f20" stroke="#231f20">***</text>
<line x1="351.2" y1="286.4" x2="372.7" y2="286.4" stroke="#1a1a1a" stroke-width="0.7"/>
<text x="362" y="287.5" font-size="6.3" text-anchor="middle" fill="#231f20" stroke="#231f20">***</text>
<text x="313.1" y="387.5" font-size="6.3" text-anchor="middle" fill="#231f20" stroke="#231f20">Ctl</text>
<text x="332.1" y="387.5" font-size="6.3" text-anchor="middle" fill="#231f20" stroke="#231f20">ME</text>
<text x="353.3" y="387.5" font-size="6.3" text-anchor="middle" fill="#231f20" stroke="#231f20">Ctl</text>
<text x="372.3" y="387.5" font-size="6.3" text-anchor="middle" fill="#231f20" stroke="#231f20">ME</text>
<line x1="304.6" y1="390.1" x2="340.6" y2="390.1" stroke="#555" stroke-width="0.7"/>
<line x1="344.8" y1="390.1" x2="381.8" y2="390.1" stroke="#555" stroke-width="0.7"/>
<text x="323.7" y="398.6" font-size="6.3" text-anchor="middle" fill="#231f20" stroke="#231f20">Fetal</text>
<text x="363.9" y="398.6" font-size="6.3" text-anchor="middle" fill="#231f20" stroke="#231f20" textLength="26" lengthAdjust="spacingAndGlyphs">Postnatal</text>
<text x="286.5" y="330.2" font-size="8.2" text-anchor="middle" fill="#231f20" stroke="#231f20" textLength="33.3" lengthAdjust="spacingAndGlyphs" transform="rotate(-90 286.5 330.2)">Expression</text>
<text x="422.5" y="280.5" font-size="8.5" text-anchor="start" fill="#231f20" stroke="#231f20" textLength="87.5" lengthAdjust="spacingAndGlyphs">HSC/MPP to GMP/neu</text>
<line x1="424.2" y1="289.5" x2="424.2" y2="377.9" stroke="#1a1a1a" stroke-width="1.0"/>
<line x1="421.7" y1="293" x2="424.2" y2="293" stroke="#1a1a1a" stroke-width="1.0"/>
<text x="418.4" y="295.3" font-size="6.3" text-anchor="end" fill="#231f20" stroke="#231f20">1.00</text>
<line x1="421.7" y1="313.4" x2="424.2" y2="313.4" stroke="#1a1a1a" stroke-width="1.0"/>
<text x="418.4" y="315.7" font-size="6.3" text-anchor="end" fill="#231f20" stroke="#231f20">0.75</text>
<line x1="421.7" y1="333.8" x2="424.2" y2="333.8" stroke="#1a1a1a" stroke-width="1.0"/>
<text x="418.4" y="336.1" font-size="6.3" text-anchor="end" fill="#231f20" stroke="#231f20">0.50</text>
<line x1="421.7" y1="354.1" x2="424.2" y2="354.1" stroke="#1a1a1a" stroke-width="1.0"/>
<text x="418.4" y="356.40000000000003" font-size="6.3" text-anchor="end" fill="#231f20" stroke="#231f20">0.25</text>
<line x1="421.7" y1="374.5" x2="424.2" y2="374.5" stroke="#1a1a1a" stroke-width="1.0"/>
<text x="418.4" y="376.8" font-size="6.3" text-anchor="end" fill="#231f20" stroke="#231f20">0.00</text>
<line x1="424.2" y1="377.5" x2="511.5" y2="377.5" stroke="#1a1a1a" stroke-width="1.0"/>
<path d="M433.1 342.2h0M427.3 349.4h0M430.8 352.9h0M447.0 355.8h0M428.4 365.0h0M445.2 374.3h0M446.3 370.8h0M431.9 343.6h0M429.6 366.6h0M435.4 348.2h0M446.4 365.7h0M446.8 348.3h0M428.5 361.0h0M430.1 339.2h0M446.3 370.1h0M430.5 356.2h0M429.6 359.4h0M427.4 368.6h0M439.7 335.3h0M439.8 349.6h0M427.6 370.9h0M430.4 346.8h0M445.7 337.6h0M436.1 345.0h0M444.6 359.0h0M428.3 373.1h0M433.7 341.9h0M430.0 342.4h0M431.4 335.9h0M441.6 353.0h0M443.9 361.7h0M446.4 349.8h0M429.5 363.4h0M442.6 336.8h0M431.0 353.6h0M431.8 338.4h0M435.1 342.3h0M431.0 346.5h0M437.1 335.1h0M428.4 346.5h0M428.2 336.8h0M430.3 357.9h0M444.9 353.5h0M445.9 349.0h0M439.3 334.6h0M430.9 358.0h0M432.0 359.1h0M445.9 349.5h0M446.8 344.0h0M445.1 336.0h0M446.5 356.9h0M445.7 364.4h0M439.5 349.9h0M428.0 355.8h0M432.0 343.8h0M428.2 338.7h0M428.4 370.1h0M433.9 354.9h0M441.9 361.1h0M444.5 359.3h0M442.2 351.5h0M439.7 337.9h0M446.4 358.3h0M429.9 357.2h0M431.1 359.1h0M446.4 357.1h0M430.7 350.2h0M443.3 361.7h0M444.7 354.9h0M428.0 354.8h0M427.2 347.7h0M442.9 355.2h0M442.4 352.6h0M432.4 341.0h0M434.5 347.8h0M428.9 370.6h0M431.5 350.3h0M434.6 347.9h0M445.1 367.9h0M441.3 354.0h0M428.7 348.9h0M429.5 359.7h0M445.1 334.9h0M445.2 351.6h0M443.5 349.9h0M443.6 364.5h0M428.5 366.8h0M446.7 373.0h0M431.0 341.7h0M440.4 348.3h0M445.0 372.1h0M429.5 350.3h0M440.9 358.2h0M433.1 353.0h0M428.4 358.3h0M442.8 337.7h0M446.0 369.3h0M444.9 361.1h0M427.9 359.9h0M445.5 365.9h0M444.6 355.2h0M444.6 348.7h0M445.8 368.8h0M431.5 356.3h0M445.5 365.0h0M446.7 348.4h0M443.1 362.8h0M436.2 334.3h0M439.2 342.7h0M427.4 367.0h0M443.0 356.4h0M436.1 334.4h0M431.8 344.1h0M434.9 338.3h0M428.5 362.2h0M445.6 364.5h0M446.6 359.6h0M435.1 349.6h0M433.9 348.0h0M443.9 355.6h0M431.1 352.0h0M428.5 366.0h0M430.6 363.2h0M445.5 363.7h0M445.7 359.7h0M441.1 352.3h0M427.5 365.6h0M445.4 362.2h0M428.8 364.8h0M428.2 357.0h0M440.3 355.1h0M434.8 345.9h0M432.1 355.3h0M440.4 351.4h0M443.6 357.5h0M429.7 337.5h0M434.2 353.8h0M430.8 334.7h0M432.0 352.7h0M428.4 369.2h0M429.3 370.2h0M444.3 354.8h0M432.1 339.1h0M427.3 364.9h0M440.8 335.0h0M441.3 334.3h0M427.5 369.4h0M443.0 359.2h0M429.1 368.4h0M433.5 354.5h0M428.3 363.8h0M427.5 344.9h0M428.5 367.5h0M427.2 361.7h0M446.0 334.4h0M441.9 344.3h0M429.9 367.1h0M427.2 360.1h0M446.0 361.3h0M446.8 366.9h0M439.3 348.2h0M443.7 351.3h0M436.4 336.6h0M446.8 339.2h0M443.8 354.4h0M428.5 363.0h0M443.0 354.4h0M434.3 342.0h0M446.8 337.8h0M444.5 365.9h0M440.4 344.8h0M429.3 355.4h0M446.9 359.8h0M444.5 350.8h0M446.1 362.9h0M429.6 364.4h0M443.4 357.3h0M444.9 352.2h0M439.7 335.8h0M436.2 333.9h0M429.9 365.8h0M427.3 369.5h0M434.0 338.0h0M428.1 364.3h0M430.1 357.6h0M435.3 340.0h0M429.2 371.1h0M443.7 356.0h0M429.0 358.1h0M446.3 373.9h0M446.2 374.0h0M428.9 343.8h0M428.0 372.0h0M441.7 350.8h0M429.4 356.2h0M444.5 340.3h0M441.8 342.8h0M443.5 363.9h0M442.1 354.6h0M444.2 338.9h0M445.7 363.8h0M446.0 360.2h0M445.0 347.7h0M440.3 339.0h0M441.1 354.1h0M428.6 357.4h0M436.8 336.4h0M437.4 336.5h0M429.2 335.4h0M428.4 341.6h0M427.3 360.7h0M444.6 355.9h0M446.8 365.5h0M445.2 359.3h0M445.3 358.9h0M444.6 368.5h0M445.9 368.6h0M432.5 359.2h0M430.7 336.3h0M431.5 335.9h0M445.9 355.5h0M442.3 334.7h0M430.3 358.1h0M451.0 358.0h0M450.3 324.1h0M459.0 371.1h0M464.3 349.9h0M464.9 338.9h0M466.3 361.8h0M449.8 356.2h0M466.0 337.2h0M448.3 352.7h0M465.0 351.0h0M462.5 372.5h0M448.0 355.7h0M465.8 356.2h0M452.0 370.0h0M454.4 373.0h0M465.7 338.2h0M466.3 329.1h0M451.0 365.1h0M466.1 345.4h0M465.6 351.5h0M458.3 304.1h0M466.3 331.1h0M465.6 349.3h0M466.4 338.9h0M448.1 347.2h0M452.8 323.7h0M449.0 355.1h0M463.0 320.8h0M453.7 322.2h0M464.3 319.9h0M448.5 332.5h0M448.6 307.9h0M448.9 328.7h0M464.3 334.9h0M464.5 333.3h0M450.4 326.6h0M451.5 310.0h0M454.4 373.3h0M448.1 323.8h0M462.6 369.9h0M447.2 363.5h0M465.8 361.7h0M457.9 302.3h0M450.3 322.4h0M463.5 356.0h0M447.6 344.7h0M463.1 318.7h0M447.4 362.9h0M447.5 345.0h0M448.9 303.8h0M448.8 352.2h0M450.0 358.9h0M447.4 344.4h0M454.3 302.0h0M452.5 371.2h0M463.7 360.0h0M466.2 315.4h0M465.8 346.4h0M454.7 300.4h0M463.7 359.6h0M457.7 309.0h0M446.6 348.2h0M462.3 321.5h0M447.3 326.9h0M466.0 330.3h0M447.3 369.8h0M447.2 372.3h0M463.9 331.7h0M466.4 327.6h0M454.6 297.4h0M464.9 338.1h0M448.1 358.3h0M465.6 363.5h0M450.0 365.2h0M461.8 367.8h0M459.4 318.2h0M448.1 359.6h0M447.3 328.2h0M466.0 341.9h0M462.2 324.6h0M447.5 367.2h0M462.0 369.0h0M448.7 354.5h0M466.3 329.5h0M451.2 365.0h0M448.2 346.7h0M448.7 344.9h0M462.4 356.5h0M452.9 367.9h0M452.7 312.4h0M452.4 370.4h0M451.5 311.2h0M447.6 356.8h0M446.9 330.8h0M447.6 345.2h0M448.9 351.5h0M462.3 372.4h0M463.0 329.7h0M461.6 308.3h0M464.8 326.9h0M451.1 306.3h0M465.3 318.0h0M464.3 348.3h0M455.5 302.4h0M448.8 353.3h0M465.4 340.8h0M466.4 327.6h0M448.4 350.3h0M451.3 309.6h0M465.8 358.0h0M461.2 371.0h0M466.4 336.8h0M459.4 320.9h0M464.9 342.3h0M464.0 322.2h0M446.7 327.2h0M446.9 333.5h0M447.9 353.8h0M449.2 317.3h0M466.0 327.8h0M466.2 335.0h0M465.6 368.5h0M462.0 320.3h0M464.4 353.1h0M465.9 359.7h0M449.9 329.0h0M465.6 342.0h0M460.6 307.0h0M463.3 356.4h0M449.7 318.3h0M452.5 304.3h0M446.7 344.0h0M448.4 352.6h0M465.3 370.5h0M448.3 374.0h0M452.7 310.7h0M447.2 363.2h0M447.7 357.7h0M466.0 341.1h0M447.9 363.1h0M449.5 330.5h0M449.3 368.2h0M463.4 362.0h0M447.5 328.8h0M465.2 331.3h0M446.9 358.4h0M446.9 307.3h0M465.3 353.3h0M449.1 331.8h0M465.5 340.5h0M452.2 367.7h0M448.2 358.7h0M461.3 321.3h0M462.0 326.9h0M446.9 344.7h0M466.5 361.2h0M449.9 325.2h0M459.6 307.6h0M463.8 321.7h0M463.0 373.1h0M450.1 353.1h0M447.0 336.2h0M447.7 361.6h0M466.0 350.1h0M465.1 337.4h0M448.3 366.4h0M446.7 344.2h0M454.7 318.0h0M451.7 366.2h0M451.0 325.9h0M464.7 364.5h0M461.9 323.3h0M462.2 369.1h0M448.0 333.9h0M463.4 324.6h0M466.3 333.4h0M464.3 350.9h0M465.4 369.0h0M451.7 323.0h0M465.5 322.0h0M449.0 362.8h0M464.6 323.6h0M448.0 342.5h0M465.8 353.4h0M461.1 368.2h0M450.1 367.2h0M466.9 330.6h0M466.2 338.4h0M480.7 350.5h0M466.1 374.1h0M469.6 346.5h0M484.8 314.8h0M481.3 359.8h0M466.2 359.2h0M473.7 365.3h0M480.1 371.4h0M466.9 312.6h0M467.1 300.7h0M484.9 312.8h0M484.2 310.5h0M466.0 303.2h0M484.6 325.6h0M466.5 329.6h0M477.5 370.2h0M467.6 348.3h0M465.6 303.7h0M484.8 311.5h0M467.1 367.9h0M467.2 300.1h0M483.9 364.6h0M481.8 344.2h0M466.9 356.4h0M466.0 325.4h0M477.0 367.4h0M484.7 296.6h0M466.7 345.1h0M483.9 335.3h0M481.4 302.5h0M483.6 308.8h0M469.2 298.1h0M477.7 295.4h0M481.7 303.7h0M485.4 320.2h0M470.0 368.5h0M477.9 295.2h0M468.9 351.6h0M467.1 348.2h0M481.6 345.1h0M478.2 369.3h0M469.2 297.1h0M468.8 340.7h0M483.2 345.5h0M469.2 344.6h0M482.1 352.9h0M482.6 306.7h0M472.1 372.9h0M468.9 357.3h0M485.3 356.4h0M466.4 322.8h0M465.9 314.3h0M480.8 298.4h0M471.8 360.1h0M466.6 308.1h0M483.7 313.5h0M483.0 302.8h0M481.2 296.6h0M465.8 317.1h0M484.5 317.0h0M483.4 334.7h0M467.0 344.1h0M484.4 330.8h0M467.4 345.5h0M484.9 352.6h0M481.4 300.3h0M481.4 359.5h0M466.0 325.8h0M485.4 343.9h0M467.8 371.7h0M469.8 346.3h0M484.4 368.0h0M483.0 363.2h0M478.4 373.0h0M484.1 303.8h0M483.6 309.8h0M479.5 361.6h0M482.1 300.8h0M479.4 297.7h0M482.3 340.9h0M482.2 340.8h0M466.1 334.3h0M481.7 361.1h0M473.0 372.4h0M484.4 363.1h0M470.5 357.6h0M485.0 337.8h0M484.7 336.8h0M483.8 329.4h0M485.0 306.8h0M483.4 306.8h0M470.4 360.8h0M478.1 361.9h0M468.0 345.0h0M484.3 337.6h0M484.2 315.1h0M484.3 320.3h0M466.7 334.2h0M482.2 342.8h0M485.0 333.5h0M485.2 326.8h0M467.5 349.0h0M480.8 349.3h0M465.8 303.1h0M480.3 300.4h0M482.0 301.0h0M470.7 352.4h0M483.0 370.9h0M484.8 341.2h0M465.6 353.1h0M483.0 299.6h0M466.0 315.0h0M468.4 298.8h0M483.7 338.2h0M466.6 346.6h0M467.0 350.7h0M468.0 345.5h0M485.3 319.3h0M483.6 353.9h0M485.4 321.4h0M482.7 306.7h0M482.3 361.3h0M467.7 304.9h0M480.2 298.0h0M472.9 360.9h0M480.5 348.4h0M484.2 350.7h0M485.2 314.7h0M484.4 315.8h0M484.4 299.9h0M467.1 348.3h0M484.4 368.7h0M468.9 344.9h0M466.2 308.1h0M470.0 359.9h0M466.2 333.3h0M468.9 367.4h0M482.4 350.3h0M481.1 345.2h0M484.9 316.7h0M483.8 363.4h0M481.0 360.8h0M485.0 360.1h0M466.0 338.2h0M468.3 361.8h0M466.8 360.1h0M465.8 304.9h0M469.8 345.5h0M485.1 327.8h0M465.9 306.7h0M484.0 305.7h0M483.1 308.4h0M485.3 323.2h0M466.3 321.3h0M484.7 320.8h0M466.9 352.3h0M482.4 350.1h0M469.0 294.5h0M469.7 372.7h0M466.0 320.2h0M465.7 316.3h0M466.3 293.3h0M468.6 357.4h0M479.3 295.0h0M466.9 312.3h0M478.7 296.7h0M479.3 357.7h0M481.1 297.3h0M479.3 370.2h0M482.1 344.9h0M487.8 302.3h0M486.4 294.4h0M487.2 330.6h0M491.3 308.5h0M488.3 323.0h0M497.6 341.2h0M502.7 302.7h0M502.8 298.7h0M486.5 301.9h0M486.3 300.4h0M490.3 333.1h0M487.7 323.2h0M490.6 343.1h0M490.2 337.7h0M486.4 294.0h0M498.0 329.9h0M488.2 331.9h0M501.7 305.8h0M496.4 330.8h0M491.2 338.0h0M486.1 294.2h0M487.5 304.8h0M503.2 321.6h0M502.2 308.9h0M491.7 304.9h0M489.6 300.9h0M498.0 324.7h0M491.1 342.8h0M501.0 315.9h0M499.4 317.3h0M502.4 302.3h0M503.3 300.5h0M486.9 296.1h0M488.0 306.9h0M488.8 307.9h0M488.0 297.0h0M501.7 334.3h0M496.4 312.2h0M502.6 327.9h0M502.4 300.9h0M494.1 343.2h0M489.7 326.5h0M491.0 313.6h0M492.3 307.7h0M487.7 328.8h0M502.9 323.6h0M492.7 334.7h0M501.1 305.8h0M488.0 331.3h0M489.4 310.7h0M503.1 313.3h0M500.1 305.5h0M502.8 298.1h0M503.8 300.8h0M501.7 313.3h0M502.3 299.5h0M487.5 330.4h0M501.5 305.7h0M500.7 322.1h0M486.1 327.6h0M502.0 340.2h0M499.6 306.4h0M486.7 295.0h0M492.6 320.8h0M502.5 298.8h0M490.5 322.0h0M501.2 307.6h0M488.7 314.2h0M490.9 304.8h0M487.1 298.8h0M495.7 340.6h0M502.4 327.8h0M490.9 327.8h0M503.8 305.1h0M486.1 301.6h0M499.5 314.6h0M488.6 301.5h0M491.9 343.8h0M489.4 336.3h0M503.5 329.0h0M503.9 295.5h0M503.5 310.8h0M498.6 304.6h0M489.8 305.6h0M487.4 305.2h0M503.7 306.1h0M502.3 340.3h0M489.2 299.6h0M502.4 322.5h0M502.5 304.6h0M496.8 311.3h0M486.6 318.0h0M489.1 306.3h0M490.7 319.9h0M489.2 327.1h0M491.3 323.7h0M501.9 334.4h0M504.0 328.4h0M496.5 327.5h0M501.5 315.8h0M491.8 305.8h0M487.4 298.9h0M486.2 312.4h0M488.8 333.6h0M501.9 318.4h0M497.6 329.4h0M496.6 325.6h0M488.3 307.3h0M487.9 330.4h0M487.9 337.0h0M503.2 321.2h0M490.2 315.6h0M489.5 302.8h0M490.7 305.7h0M488.5 308.0h0M491.1 311.0h0M499.5 309.7h0M489.4 301.1h0M494.0 329.2h0M487.1 308.9h0M488.7 313.6h0M488.1 301.5h0M502.1 344.2h0M494.2 319.8h0M496.6 326.4h0M495.6 322.1h0M492.1 313.8h0M499.9 305.6h0M502.2 299.6h0M491.6 328.5h0M490.0 305.2h0M498.9 305.9h0M502.7 341.8h0M498.9 331.1h0M489.7 325.9h0M498.6 315.7h0M497.4 336.7h0M500.8 339.9h0M501.1 299.8h0M501.1 303.7h0M502.9 301.8h0M501.6 299.9h0M486.2 299.6h0M502.9 317.0h0M499.0 330.2h0M494.6 336.0h0M500.7 311.2h0M487.1 305.7h0M499.0 304.0h0M501.5 333.5h0M486.4 318.2h0M496.5 333.2h0M503.7 304.8h0M502.7 343.7h0M490.4 315.3h0M500.2 324.4h0M495.6 338.2h0M495.7 327.8h0M495.7 333.4h0M502.3 307.9h0M490.1 305.9h0M499.1 318.2h0M486.9 302.8h0M501.3 325.3h0" stroke="#9a9a9a" stroke-width="0.7" stroke-linecap="round" opacity="0.45"/>
<path d="M437 374.30 L437.00 374.30 L445.20 374.30 L444.30 367.82 L441.60 360.53 L439.20 353.24 L438.00 350.00 L437.50 341.90 L437.00 333.80 L437.00 333.80 L436.50 341.90 L436.00 350.00 L434.80 353.24 L432.40 360.53 L429.70 367.82 L428.80 374.30 L437.00 374.30Z" fill="#c85a48" stroke="none" stroke-width="0.8"/>
<path d="M456.6 374.30 L456.60 374.30 L460.30 366.20 L462.10 357.29 L464.30 347.57 L464.80 340.28 L464.30 334.61 L462.10 327.32 L458.80 320.84 L457.50 316.79 L457.10 309.50 L456.60 297.35 L456.60 297.35 L456.10 309.50 L455.70 316.79 L454.40 320.84 L451.10 327.32 L448.90 334.61 L448.40 340.28 L448.90 347.57 L451.10 357.29 L452.90 366.20 L456.60 374.30Z" fill="#d45a6a" stroke="none" stroke-width="0.8"/>
<path d="M475.4 374.30 L475.40 374.30 L477.20 362.15 L479.10 353.24 L481.30 344.33 L483.10 334.61 L484.20 325.70 L484.20 316.79 L482.70 307.07 L480.00 299.78 L477.60 295.73 L475.40 293.30 L475.40 293.30 L473.20 295.73 L470.80 299.78 L468.10 307.07 L466.60 316.79 L466.60 325.70 L467.70 334.61 L469.50 344.33 L471.70 353.24 L473.60 362.15 L475.40 374.30Z" fill="#2c8483" stroke="none" stroke-width="0.8"/>
<path d="M495 344.33 L495.00 344.33 L495.40 329.75 L495.70 316.79 L496.50 310.31 L498.70 303.83 L501.40 298.16 L503.80 293.30 L495.00 293.30 L495.00 293.30 L486.20 293.30 L488.60 298.16 L491.30 303.83 L493.50 310.31 L494.30 316.79 L494.60 329.75 L495.00 344.33Z" fill="#9b71b5" stroke="none" stroke-width="0.8"/>
<path d="M439.6 366.8h0M440.9 370.6h0M436.3 364.5h0M439.6 358.2h0M442.9 370.2h0M435.9 367.1h0M442.5 365.7h0M431.9 370.7h0M441.8 364.2h0M432.1 364.6h0M441.4 362.4h0M438.2 371.5h0M432.4 366.0h0M441.7 371.3h0M436.9 365.0h0M433.0 363.9h0M443.1 366.3h0M436.9 361.5h0M436.0 363.1h0M435.3 363.2h0M444.5 371.3h0M438.4 372.6h0M436.1 373.5h0M431.7 373.3h0M439.6 368.6h0M430.6 366.2h0M441.3 373.9h0M433.9 367.0h0M443.4 366.0h0M438.0 370.9h0M437.1 366.2h0M435.3 371.6h0M439.4 361.5h0M431.5 373.4h0M429.5 370.1h0M437.6 359.1h0M439.6 367.8h0M435.4 370.4h0M438.0 370.0h0M431.1 368.4h0M443.9 373.8h0M441.8 367.0h0M436.4 371.4h0M439.8 373.9h0M442.2 371.2h0M430.2 372.5h0M436.9 355.2h0M438.2 362.7h0M431.9 362.3h0M442.1 372.6h0M435.9 352.9h0M435.4 363.7h0M442.7 369.7h0M438.3 363.3h0M439.5 363.3h0M438.0 370.8h0M443.2 371.3h0M432.2 365.7h0M438.3 371.1h0M440.2 371.2h0M441.5 371.0h0M441.5 368.5h0M441.2 359.5h0M435.0 362.0h0M434.3 364.2h0M434.8 359.6h0M442.9 366.4h0M437.9 373.4h0M442.8 371.7h0M441.7 370.9h0M440.0 368.5h0M442.3 364.4h0M429.3 371.9h0M436.2 367.0h0M430.7 372.8h0M441.3 365.5h0M442.2 362.9h0M437.3 358.7h0M433.4 367.9h0M443.9 374.2h0M436.6 345.3h0M431.2 370.6h0M433.2 367.9h0M433.1 361.7h0M436.2 370.0h0M443.0 373.9h0M432.8 365.9h0M433.0 359.1h0M440.3 360.6h0M441.6 363.9h0M443.7 367.0h0M435.1 367.9h0M435.5 371.4h0M435.2 358.7h0M441.0 373.7h0M433.8 373.5h0M440.9 364.4h0M441.8 361.8h0M434.7 355.3h0M437.4 351.2h0M433.6 363.6h0M438.3 365.3h0M433.0 374.3h0M433.2 373.0h0M441.5 372.3h0M431.7 366.3h0M439.0 352.8h0M442.1 370.8h0M438.0 364.3h0M439.9 367.0h0M442.5 364.8h0M431.4 364.7h0M441.3 372.9h0M438.4 371.4h0M433.2 364.7h0M439.4 372.6h0M438.8 353.0h0M430.4 370.7h0M440.8 364.0h0M434.3 371.8h0M442.2 372.6h0M438.0 365.0h0M430.7 365.6h0M433.2 365.6h0M434.7 373.5h0M433.5 370.9h0M431.8 372.1h0M438.9 372.6h0M435.5 373.0h0M440.3 363.8h0M432.6 368.3h0M433.9 365.1h0M440.3 365.5h0M436.9 358.8h0M435.0 363.0h0M433.8 364.6h0M438.7 357.2h0M435.1 359.5h0M438.7 372.1h0M444.8 373.3h0M439.3 366.8h0M431.7 365.0h0M434.9 374.3h0M440.0 364.6h0M436.8 367.8h0M437.3 361.1h0M433.5 364.1h0M440.4 369.2h0M432.7 369.5h0M429.9 373.5h0M434.3 365.1h0M436.7 371.1h0M438.0 358.3h0M443.2 373.9h0M431.5 373.3h0M440.1 358.6h0M433.7 361.3h0M441.1 365.4h0M440.5 367.1h0M434.6 368.3h0M439.0 358.7h0M435.9 373.0h0M441.2 371.7h0M433.9 370.2h0M434.8 369.5h0M433.8 356.9h0M432.6 361.5h0M440.9 367.0h0M435.2 359.7h0M435.5 368.4h0M435.4 356.1h0M440.4 362.4h0M434.5 370.7h0M436.3 355.3h0M440.0 370.9h0M433.0 369.8h0M438.4 353.8h0M437.2 369.0h0M438.2 365.5h0M430.1 370.1h0M437.6 345.4h0M433.0 373.1h0M435.6 363.8h0M435.6 355.0h0M438.0 371.8h0M436.7 359.2h0M436.7 365.0h0M439.2 359.4h0M442.9 364.1h0M440.6 358.0h0M442.1 373.4h0M435.8 371.3h0M443.7 371.4h0M433.2 369.7h0M435.6 355.2h0M431.0 367.6h0M434.0 360.3h0M438.5 363.7h0M443.9 370.2h0M438.4 372.9h0M431.4 370.3h0M439.2 366.2h0M438.6 369.4h0M437.7 364.2h0M432.1 364.0h0M432.5 369.0h0M437.2 362.8h0M434.4 364.8h0M429.4 370.2h0M438.4 371.6h0M437.5 353.2h0M434.1 366.8h0M433.7 368.8h0M443.6 373.3h0M432.1 367.2h0M440.1 360.8h0M432.1 363.8h0M433.6 364.9h0M431.9 371.1h0M442.6 368.8h0M438.9 358.9h0M437.0 341.2h0M440.6 366.5h0M433.1 360.2h0M437.5 366.9h0M442.2 371.2h0M438.4 367.8h0M459.1 345.9h0M457.4 329.6h0M461.1 352.1h0M456.5 347.6h0M456.5 345.1h0M459.2 353.6h0M456.6 338.7h0M457.7 335.5h0M463.4 337.2h0M450.5 335.6h0M458.8 347.9h0M459.9 324.7h0M461.1 326.4h0M453.7 336.4h0M462.1 356.7h0M450.3 350.0h0M456.4 352.8h0M461.5 333.1h0M458.2 355.1h0M454.7 325.1h0M460.3 364.9h0M461.9 333.7h0M457.6 369.9h0M461.1 353.3h0M459.6 349.7h0M456.1 341.0h0M458.1 364.5h0M460.8 326.9h0M456.1 364.4h0M464.3 342.7h0M455.7 346.2h0M454.8 350.0h0M455.7 350.9h0M455.7 337.9h0M451.1 340.8h0M454.9 319.5h0M454.6 327.1h0M460.8 344.2h0M460.7 329.8h0M457.2 353.2h0M459.1 336.2h0M455.0 352.1h0M460.4 351.2h0M457.3 353.2h0M456.4 317.4h0M451.0 348.4h0M455.4 337.8h0M459.0 357.1h0M455.2 348.0h0M461.0 346.3h0M459.9 360.7h0M455.9 320.8h0M453.7 352.1h0M452.4 346.6h0M452.8 354.2h0M454.4 335.8h0M457.2 335.5h0M452.6 357.1h0M464.2 343.7h0M463.8 334.7h0M457.8 325.1h0M455.9 329.5h0M457.5 357.6h0M459.2 348.4h0M463.2 349.6h0M458.9 360.1h0M451.6 344.8h0M456.5 319.3h0M456.5 344.8h0M449.6 345.7h0M456.6 360.4h0M461.1 355.9h0M456.0 371.7h0M454.1 361.3h0M456.8 362.8h0M453.3 327.0h0M457.4 329.1h0M462.2 330.9h0M458.7 352.8h0M450.4 346.2h0M460.9 325.2h0M461.1 356.4h0M454.5 341.9h0M455.9 350.2h0M461.2 342.4h0M460.3 338.9h0M454.0 332.1h0M457.2 361.9h0M459.3 352.2h0M456.1 338.3h0M456.8 354.0h0M449.2 335.0h0M462.7 339.2h0M456.3 343.9h0M453.7 343.7h0M455.1 362.7h0M454.0 340.1h0M449.3 337.1h0M458.7 357.8h0M462.2 348.5h0M459.6 365.9h0M462.4 338.1h0M458.7 358.4h0M461.1 326.7h0M450.0 331.8h0M460.5 348.4h0M454.0 324.7h0M460.7 327.7h0M462.0 328.3h0M454.8 324.4h0M453.7 346.1h0M462.6 347.2h0M451.6 344.6h0M462.6 350.0h0M449.4 345.2h0M450.6 347.2h0M452.2 351.9h0M464.0 346.6h0M462.8 330.1h0M454.8 366.8h0M457.2 322.8h0M460.9 342.5h0M455.9 350.5h0M462.2 330.9h0M462.7 348.8h0M454.9 328.8h0M455.8 334.2h0M457.3 363.7h0M453.7 337.8h0M461.0 355.7h0M454.0 339.1h0M460.8 339.3h0M449.5 349.2h0M463.4 341.5h0M449.3 345.9h0M453.7 351.0h0M451.8 338.0h0M460.2 340.3h0M458.5 342.1h0M454.6 342.6h0M456.4 322.4h0M457.1 346.6h0M453.5 331.5h0M457.3 322.4h0M449.9 345.4h0M461.7 331.0h0M452.7 336.7h0M456.2 333.7h0M456.1 348.6h0M459.5 355.5h0M461.9 337.9h0M457.1 335.1h0M459.4 323.3h0M459.9 339.9h0M455.6 338.7h0M454.6 365.9h0M451.0 355.5h0M453.4 327.1h0M460.4 343.9h0M454.5 366.8h0M453.4 341.8h0M457.1 351.9h0M462.9 347.4h0M459.1 362.2h0M460.0 344.7h0M452.7 354.3h0M459.9 327.6h0M462.5 333.7h0M460.6 340.0h0M457.1 329.8h0M453.9 347.4h0M451.0 351.5h0M456.5 363.0h0M457.2 350.2h0M458.8 366.4h0M453.7 347.1h0M458.9 358.6h0M457.3 323.7h0M460.9 331.7h0M456.2 357.1h0M459.4 337.6h0M458.5 363.8h0M460.1 326.8h0M454.9 338.8h0M462.4 340.4h0M449.0 339.0h0M459.3 329.3h0M455.2 370.6h0M458.9 330.0h0M452.4 352.8h0M452.8 354.5h0M458.8 365.6h0M462.1 355.7h0M454.2 329.5h0M459.4 330.5h0M453.9 357.0h0M457.5 340.9h0M457.7 334.4h0M457.0 351.7h0M462.4 339.4h0M459.5 334.0h0M456.2 328.1h0M455.9 327.2h0M455.2 352.1h0M458.9 328.8h0M459.9 325.5h0M460.1 331.2h0M453.8 361.5h0M464.0 346.9h0M456.0 365.5h0M458.6 331.8h0M457.5 328.2h0M449.8 336.8h0M455.0 356.5h0M459.0 328.0h0M462.7 337.9h0M451.7 332.3h0M458.2 340.6h0M457.8 334.1h0M454.0 322.5h0M456.4 337.1h0M451.4 329.1h0M460.4 359.9h0M458.3 356.8h0M450.2 339.3h0M451.9 332.6h0M460.7 340.1h0M456.7 366.3h0M452.3 360.1h0M456.4 339.5h0M459.8 343.6h0M453.7 349.9h0M449.5 337.2h0M455.2 355.2h0M449.7 337.4h0M456.8 315.3h0M458.5 359.8h0M457.9 338.9h0M459.8 355.2h0M457.6 355.2h0M451.4 327.6h0M455.6 349.8h0M461.7 341.3h0M459.6 339.8h0M455.0 350.1h0M453.9 331.4h0M449.3 337.7h0M456.7 310.2h0M456.5 367.0h0M455.0 329.2h0M457.6 360.5h0M461.8 338.3h0M456.0 331.9h0M458.2 338.4h0M451.5 347.5h0M454.2 362.3h0M449.8 348.5h0M462.5 343.5h0M455.2 347.1h0M459.0 346.3h0M459.2 337.0h0M454.9 356.2h0M457.3 347.5h0M460.1 336.2h0M471.1 349.7h0M475.9 365.0h0M467.3 312.9h0M468.2 315.3h0M481.1 334.6h0M472.9 333.3h0M475.0 314.9h0M481.0 335.5h0M473.2 332.1h0M476.2 330.2h0M474.1 319.1h0M478.5 324.8h0M475.9 334.6h0M474.9 316.3h0M480.5 342.9h0M475.5 315.0h0M478.6 318.3h0M473.6 334.6h0M477.7 332.5h0M469.0 307.0h0M475.6 297.2h0M470.7 337.0h0M470.4 322.0h0M474.5 297.2h0M480.2 336.6h0M480.0 349.3h0M467.7 313.7h0M481.4 314.0h0M466.9 323.9h0M470.0 305.2h0M469.5 306.1h0M468.8 313.5h0M482.0 314.3h0M478.1 336.9h0M480.6 329.1h0M470.9 338.8h0M482.1 310.5h0M471.0 310.6h0M481.9 336.8h0M474.4 357.7h0M466.8 325.3h0M471.5 328.9h0M475.1 356.2h0M478.9 344.6h0M476.0 314.7h0M470.7 310.1h0M468.9 323.6h0M472.2 309.0h0M483.7 321.9h0M481.0 311.3h0M468.8 322.9h0M474.0 362.7h0M472.4 326.9h0M474.6 324.0h0M475.6 368.6h0M477.1 330.7h0M471.2 337.9h0M483.6 323.4h0M476.3 359.2h0M469.8 322.5h0M481.5 318.0h0M471.6 305.0h0M477.9 325.7h0M470.2 329.5h0M473.1 323.8h0M474.4 354.6h0M480.2 311.3h0M473.8 345.8h0M480.2 315.5h0M477.3 318.4h0M476.1 320.8h0M479.7 333.7h0M469.6 322.8h0M479.0 324.1h0M479.2 336.3h0M475.5 324.6h0M483.9 326.8h0M471.5 313.3h0M479.9 314.4h0M467.9 318.8h0M472.3 311.6h0M476.7 337.0h0M469.4 320.9h0M467.2 326.9h0M477.7 299.8h0M483.7 325.8h0M474.2 296.9h0M475.8 364.1h0M477.8 316.3h0M478.5 337.8h0M472.4 299.2h0M474.8 338.8h0M473.6 327.2h0M474.5 315.6h0M472.2 353.8h0M468.1 318.7h0M475.6 359.1h0M472.4 339.6h0M474.2 305.6h0M472.5 316.4h0M482.7 330.2h0M469.6 324.7h0M475.9 330.6h0M473.9 350.5h0M472.9 327.5h0M473.5 329.2h0M481.7 330.2h0M473.1 316.0h0M474.2 316.5h0M479.9 308.5h0M469.3 323.1h0M475.4 341.2h0M473.6 314.6h0M468.6 322.9h0M475.5 324.7h0M472.0 310.0h0M480.6 339.3h0M480.0 316.4h0M477.6 348.6h0M476.2 336.7h0M469.6 304.2h0M467.4 324.0h0M482.4 326.5h0M467.2 323.3h0M478.0 347.6h0M483.6 321.2h0M475.1 326.5h0M470.9 323.8h0M479.3 350.7h0M475.5 367.2h0M469.5 320.1h0M475.8 333.0h0M480.1 305.9h0M473.9 310.6h0M476.8 327.9h0M475.1 303.7h0M478.6 349.7h0M480.2 303.6h0M479.0 308.0h0M482.4 308.2h0M468.5 313.0h0M468.6 321.0h0M474.3 329.8h0M477.2 297.4h0M480.2 304.7h0M474.8 320.9h0M476.5 340.0h0M475.8 318.4h0M469.3 307.3h0M479.1 333.7h0M476.8 323.3h0M480.9 339.6h0M475.5 310.9h0M469.0 331.2h0M473.6 319.2h0M479.0 334.3h0M475.3 326.3h0M475.6 314.2h0M477.1 358.4h0M478.4 348.2h0M474.2 326.4h0M476.2 356.0h0M475.6 308.2h0M474.3 350.8h0M477.2 309.5h0M480.3 319.4h0M475.5 340.2h0M483.2 323.2h0M479.7 335.4h0M475.6 320.3h0M478.3 304.4h0M474.0 312.6h0M480.5 321.5h0M477.7 356.2h0M477.6 346.2h0M475.6 330.8h0M479.8 324.3h0M474.8 317.1h0M467.0 322.5h0M470.1 337.6h0M475.2 296.6h0M477.0 300.0h0M473.0 344.9h0M474.8 349.6h0M480.2 327.6h0M469.6 340.5h0M476.3 304.6h0M474.0 324.9h0M480.6 334.2h0M475.7 340.8h0M473.1 349.8h0M480.6 329.8h0M469.4 321.0h0M473.9 355.0h0M475.8 353.1h0M483.1 314.4h0M476.8 361.1h0M471.6 331.1h0M479.2 301.3h0M476.7 327.8h0M472.0 297.9h0M479.5 321.8h0M476.4 325.6h0M476.7 333.3h0M471.4 312.0h0M475.8 322.5h0M471.1 339.7h0M474.1 330.1h0M474.5 331.0h0M476.4 348.6h0M478.3 318.5h0M470.9 345.1h0M482.3 330.6h0M475.0 328.4h0M481.0 327.4h0M478.6 325.3h0M480.1 315.9h0M469.6 309.8h0M482.6 331.4h0M473.3 330.9h0M467.7 312.5h0M481.2 321.6h0M476.3 307.4h0M478.7 318.9h0M469.8 336.3h0M480.2 325.4h0M471.5 341.8h0M481.1 321.2h0M477.6 345.3h0M471.0 346.5h0M476.1 337.7h0M474.9 315.9h0M478.8 313.6h0M480.2 304.2h0M480.8 317.9h0M475.9 335.1h0M474.6 313.3h0M479.4 345.9h0M468.5 327.8h0M483.7 317.9h0M466.7 323.7h0M474.7 336.0h0M472.6 327.2h0M469.2 307.1h0M472.0 303.9h0M478.6 345.4h0M471.0 338.9h0M478.1 353.8h0M475.5 311.9h0M476.2 314.3h0M476.6 348.6h0M482.4 329.8h0M467.7 331.7h0M467.1 315.6h0M473.7 343.9h0M474.4 329.4h0M478.0 314.0h0M479.2 330.8h0M474.4 344.5h0M475.8 307.4h0M483.1 324.5h0M478.1 333.6h0M469.3 319.0h0M480.3 339.0h0M479.1 343.4h0M478.8 316.2h0M477.8 353.0h0M471.2 314.3h0M476.4 348.8h0M468.5 328.2h0M478.7 323.6h0M475.9 306.9h0M480.5 330.1h0M475.4 357.4h0M480.6 328.9h0M468.9 328.8h0M474.7 309.5h0M472.6 314.2h0M480.8 316.1h0M476.7 304.6h0M470.8 322.7h0M475.2 361.1h0M468.9 318.8h0M468.9 336.1h0M470.9 318.3h0M470.3 329.5h0M474.1 333.1h0M469.5 311.0h0M476.7 331.2h0M472.0 338.8h0M471.7 350.0h0M470.0 318.3h0M471.2 312.5h0M468.9 306.7h0M479.5 318.1h0M467.7 320.4h0M472.9 301.2h0M477.9 310.1h0M478.3 311.6h0M474.3 326.1h0M470.8 344.9h0M481.1 333.8h0M468.1 312.9h0M477.2 352.2h0M479.5 302.3h0M475.3 321.7h0M478.6 313.0h0M479.8 329.1h0" stroke="#3a2020" stroke-width="0.75" stroke-linecap="round" opacity="0.4"/>
<line x1="437" y1="377.5" x2="437" y2="379.3" stroke="#1a1a1a" stroke-width="0.8"/>
<text x="437" y="389.5" font-size="6.3" text-anchor="middle" fill="#231f20" stroke="#231f20">19</text>
<line x1="456.3" y1="377.5" x2="456.3" y2="379.3" stroke="#1a1a1a" stroke-width="0.8"/>
<text x="456.3" y="389.5" font-size="6.3" text-anchor="middle" fill="#231f20" stroke="#231f20">29</text>
<line x1="475.5" y1="377.5" x2="475.5" y2="379.3" stroke="#1a1a1a" stroke-width="0.8"/>
<text x="475.5" y="389.5" font-size="6.3" text-anchor="middle" fill="#231f20" stroke="#231f20">22</text>
<line x1="494.5" y1="377.5" x2="494.5" y2="379.3" stroke="#1a1a1a" stroke-width="0.8"/>
<text x="494.5" y="389.5" font-size="6.3" text-anchor="middle" fill="#231f20" stroke="#231f20">12</text>
<text x="457.8" y="401.6" font-size="8.2" text-anchor="start" fill="#231f20" stroke="#231f20" textLength="20.5" lengthAdjust="spacingAndGlyphs">Cluster</text>
<text x="401.9" y="333.3" font-size="7.8" text-anchor="middle" fill="#231f20" stroke="#231f20" textLength="64.6" lengthAdjust="spacingAndGlyphs" transform="rotate(-90 401.9 333.3)">Myeloid identity score</text>
<text x="39.8" y="432.9" font-size="8.5" text-anchor="start" fill="#231f20" stroke="#231f20" textLength="88.2" lengthAdjust="spacingAndGlyphs">HSC/MPP to GMP/neu</text>
<line x1="29.1" y1="438" x2="29.1" y2="526.9" stroke="#1a1a1a" stroke-width="1.0"/>
<line x1="28.6" y1="526.4" x2="138.8" y2="526.4" stroke="#1a1a1a" stroke-width="1.0"/>
<line x1="45.4" y1="526.4" x2="45.4" y2="528.8" stroke="#1a1a1a" stroke-width="1.0"/>
<text x="45.4" y="537.6" font-size="6.3" text-anchor="middle" fill="#231f20" stroke="#231f20">0.0</text>
<line x1="76.2" y1="526.4" x2="76.2" y2="528.8" stroke="#1a1a1a" stroke-width="1.0"/>
<text x="76.2" y="537.6" font-size="6.3" text-anchor="middle" fill="#231f20" stroke="#231f20">0.4</text>
<line x1="107.0" y1="526.4" x2="107.0" y2="528.8" stroke="#1a1a1a" stroke-width="1.0"/>
<text x="107.0" y="537.6" font-size="6.3" text-anchor="middle" fill="#231f20" stroke="#231f20">0.8</text>
<line x1="137.79999999999998" y1="526.4" x2="137.79999999999998" y2="528.8" stroke="#1a1a1a" stroke-width="1.0"/>
<text x="137.79999999999998" y="537.6" font-size="6.3" text-anchor="middle" fill="#231f20" stroke="#231f20">1.2</text>
<text x="83.4" y="548.9" font-size="7.6" text-anchor="middle" fill="#231f20" stroke="#231f20" textLength="64.8" lengthAdjust="spacingAndGlyphs">Myeloid identity score</text>
<path d="M35.0 476.2 C35.7 475.7 37.8 475.7 39.0 473.0 C40.2 470.3 41.4 464.2 42.5 460.0 C43.6 455.8 44.6 450.5 45.5 448.0 C46.4 445.5 47.0 445.2 47.9 445.1 C48.8 445.0 49.8 446.2 51.0 447.5 C52.2 448.8 54.1 451.4 55.4 452.7 C56.7 454.0 57.9 454.9 59.0 455.5 C60.1 456.1 61.1 456.2 62.3 456.2 C63.5 456.2 64.7 455.8 66.0 455.3 C67.3 454.8 68.5 454.5 70.0 453.3 C71.5 452.1 73.6 449.4 75.0 448.0 C76.4 446.6 77.5 445.6 78.5 445.0 C79.5 444.4 80.1 444.4 81.2 444.6 C82.3 444.8 83.7 445.4 85.0 446.0 C86.3 446.6 87.7 446.9 89.2 448.0 C90.7 449.1 92.5 451.1 94.0 452.5 C95.5 453.9 96.7 455.4 98.5 456.2 C100.3 456.9 102.7 456.8 105.0 457.0 C107.3 457.2 109.9 457.1 112.3 457.3 C114.7 457.5 117.5 457.5 119.2 458.3 C120.9 459.1 121.7 460.5 122.7 462.0 C123.8 463.5 124.6 465.8 125.5 467.5 C126.4 469.2 126.9 471.1 128.0 472.5 C129.1 473.9 131.3 475.6 132.0 476.2Z" fill="rgb(134,208,154)" stroke="none" stroke-width="0.8" opacity="1"/>
<path d="M37.3 500.0 C38.2 499.4 40.9 497.8 43.0 496.5 C45.1 495.2 47.7 493.1 50.0 492.0 C52.3 490.9 55.0 490.4 57.0 489.8 C59.0 489.2 60.5 489.2 62.0 488.5 C63.5 487.8 64.9 486.6 66.2 485.5 C67.5 484.4 68.9 483.2 70.0 482.0 C71.1 480.8 71.7 479.9 73.0 478.0 C74.3 476.1 76.2 472.3 77.7 470.5 C79.2 468.7 80.6 468.1 82.0 467.3 C83.4 466.6 84.0 466.7 86.0 466.0 C88.0 465.3 91.3 463.3 93.8 463.2 C96.3 463.1 98.9 464.4 100.8 465.2 C102.7 466.0 103.5 467.1 105.0 467.8 C106.5 468.5 108.0 469.4 110.0 469.5 C112.0 469.6 115.2 468.6 117.0 468.6 C118.8 468.6 119.5 468.6 120.5 469.5 C121.5 470.4 122.2 471.8 123.0 474.0 C123.8 476.2 124.1 479.3 125.0 482.7 C125.9 486.1 127.3 491.3 128.5 494.2 C129.7 497.1 131.4 499.0 132.0 500.0Z" fill="rgb(0,63,129)" stroke="none" stroke-width="0.8" opacity="0.5"/>
<path d="M35.0 523.0 C35.8 522.2 38.2 521.0 39.5 518.0 C40.8 515.0 41.5 509.5 42.5 505.0 C43.5 500.5 44.5 494.4 45.5 491.0 C46.5 487.6 47.5 485.2 48.5 484.5 C49.5 483.8 50.5 485.8 51.5 487.0 C52.5 488.2 53.6 490.2 54.6 492.0 C55.6 493.8 56.5 496.2 57.5 497.5 C58.5 498.8 58.9 499.4 60.4 500.0 C61.9 500.6 63.9 501.0 66.2 501.0 C68.5 501.0 71.3 500.3 74.0 500.0 C76.7 499.7 79.6 499.1 82.3 499.3 C85.0 499.5 87.7 500.4 90.0 501.0 C92.3 501.6 93.6 502.8 96.2 503.0 C98.8 503.2 102.8 502.4 105.4 502.2 C108.0 501.9 109.7 501.7 112.0 501.5 C114.3 501.3 117.5 500.9 119.2 501.2 C120.9 501.4 121.3 501.7 122.2 503.0 C123.1 504.3 123.8 506.8 124.5 509.0 C125.2 511.2 125.5 513.7 126.5 516.0 C127.5 518.3 130.1 521.8 130.8 523.0Z" fill="rgb(211,62,96)" stroke="none" stroke-width="0.8" opacity="0.7"/>
<text x="138.5" y="467.4" font-size="6.6" text-anchor="start" fill="#56b86a" stroke="#56b86a" textLength="38" lengthAdjust="spacingAndGlyphs">Postnatal ME</text>
<text x="138.5" y="493" font-size="6.6" text-anchor="start" fill="#3a6ea8" stroke="#3a6ea8" textLength="26" lengthAdjust="spacingAndGlyphs">Fetal ME</text>
<text x="138.5" y="518.3" font-size="6.6" text-anchor="start" fill="#d84a6c" stroke="#d84a6c" textLength="22.5" lengthAdjust="spacingAndGlyphs">Control</text>
<text x="238" y="417.2" font-size="8.5" text-anchor="start" fill="#231f20" stroke="#231f20" textLength="28.3" lengthAdjust="spacingAndGlyphs">All cells</text>
<line x1="222.7" y1="435.3" x2="222.7" y2="533.5" stroke="#1a1a1a" stroke-width="1.0"/>
<line x1="220.2" y1="438.2" x2="222.7" y2="438.2" stroke="#1a1a1a" stroke-width="1.0"/>
<text x="216.89999999999998" y="440.5" font-size="6.3" text-anchor="end" fill="#231f20" stroke="#231f20">1.00</text>
<line x1="220.2" y1="460.875" x2="222.7" y2="460.875" stroke="#1a1a1a" stroke-width="1.0"/>
<text x="216.89999999999998" y="463.175" font-size="6.3" text-anchor="end" fill="#231f20" stroke="#231f20">0.75</text>
<line x1="220.2" y1="483.54999999999995" x2="222.7" y2="483.54999999999995" stroke="#1a1a1a" stroke-width="1.0"/>
<text x="216.89999999999998" y="485.84999999999997" font-size="6.3" text-anchor="end" fill="#231f20" stroke="#231f20">0.50</text>
<line x1="220.2" y1="506.22499999999997" x2="222.7" y2="506.22499999999997" stroke="#1a1a1a" stroke-width="1.0"/>
<text x="216.89999999999998" y="508.525" font-size="6.3" text-anchor="end" fill="#231f20" stroke="#231f20">0.25</text>
<line x1="220.2" y1="528.9" x2="222.7" y2="528.9" stroke="#1a1a1a" stroke-width="1.0"/>
<text x="216.89999999999998" y="531.1999999999999" font-size="6.3" text-anchor="end" fill="#231f20" stroke="#231f20">0.00</text>
<line x1="222.7" y1="533.1" x2="287.5" y2="533.1" stroke="#1a1a1a" stroke-width="0.8"/>
<line x1="234.5" y1="438.2" x2="234.5" y2="478.10799999999995" stroke="#7a7a7a" stroke-width="0.8"/>
<line x1="234.5" y1="513.481" x2="234.5" y2="528.9" stroke="#7a7a7a" stroke-width="0.8"/>
<rect x="227.50" y="478.11" width="14.00" height="35.37" fill="#c8163a"/>
<line x1="227.5" y1="493.527" x2="241.5" y2="493.527" stroke="#111" stroke-width="1.1"/>
<line x1="234.5" y1="533.1" x2="234.5" y2="534.9" stroke="#1a1a1a" stroke-width="0.8"/>
<line x1="254.5" y1="438.2" x2="254.5" y2="455.433" stroke="#7a7a7a" stroke-width="0.8"/>
<line x1="254.5" y1="489.899" x2="254.5" y2="528.9" stroke="#7a7a7a" stroke-width="0.8"/>
<rect x="247.50" y="455.43" width="14.00" height="34.47" fill="#1b4f8a"/>
<line x1="247.5" y1="471.75899999999996" x2="261.5" y2="471.75899999999996" stroke="#111" stroke-width="1.1"/>
<line x1="254.5" y1="533.1" x2="254.5" y2="534.9" stroke="#1a1a1a" stroke-width="0.8"/>
<line x1="274" y1="438.2" x2="274" y2="467.224" stroke="#7a7a7a" stroke-width="0.8"/>
<line x1="274" y1="511.667" x2="274" y2="528.9" stroke="#7a7a7a" stroke-width="0.8"/>
<rect x="267.00" y="467.22" width="14.00" height="44.44" fill="#3cb54a"/>
<line x1="267" y1="487.178" x2="281" y2="487.178" stroke="#111" stroke-width="1.1"/>
<line x1="274" y1="533.1" x2="274" y2="534.9" stroke="#1a1a1a" stroke-width="0.8"/>
<line x1="233.3" y1="425.9" x2="274.5" y2="425.9" stroke="#1a1a1a" stroke-width="0.85"/>
<text x="253.9" y="426.9" font-size="6.3" text-anchor="middle" fill="#231f20" stroke="#231f20">*</text>
<line x1="233.3" y1="434.2" x2="253.3" y2="434.2" stroke="#1a1a1a" stroke-width="0.85"/>
<text x="243.3" y="435.2" font-size="6.3" text-anchor="middle" fill="#231f20" stroke="#231f20">***</text>
<line x1="255.7" y1="434.2" x2="275.7" y2="434.2" stroke="#1a1a1a" stroke-width="0.85"/>
<text x="265.7" y="435.2" font-size="6.3" text-anchor="middle" fill="#231f20" stroke="#231f20">***</text>
<text x="234.5" y="545" font-size="6.3" text-anchor="middle" fill="#231f20" stroke="#231f20">Ctl</text>
<text x="248.1" y="545" font-size="6.3" text-anchor="middle" fill="#231f20" stroke="#231f20">Fetal</text>
<text x="274.5" y="545" font-size="6.3" text-anchor="middle" fill="#231f20" stroke="#231f20">Postnatal</text>
<line x1="240.4" y1="548" x2="288.7" y2="548" stroke="#555" stroke-width="0.7"/>
<text x="266.3" y="555.5" font-size="6.3" text-anchor="middle" fill="#231f20" stroke="#231f20" textLength="24" lengthAdjust="spacingAndGlyphs">MLL::ENL</text>
<text x="200" y="484.2" font-size="7.8" text-anchor="middle" fill="#231f20" stroke="#231f20" textLength="65.3" lengthAdjust="spacingAndGlyphs" transform="rotate(-90 200 484.2)">Myeloid identity score</text>
<text x="321.8" y="417.2" font-size="8.5" text-anchor="start" fill="#231f20" stroke="#231f20" textLength="58.9" lengthAdjust="spacingAndGlyphs">c19 (HSC/MPP)</text>
<line x1="325.8" y1="435.3" x2="325.8" y2="533.5" stroke="#1a1a1a" stroke-width="1.0"/>
<line x1="323.3" y1="438.2" x2="325.8" y2="438.2" stroke="#1a1a1a" stroke-width="1.0"/>
<text x="320.0" y="440.5" font-size="6.3" text-anchor="end" fill="#231f20" stroke="#231f20">1.00</text>
<line x1="323.3" y1="460.875" x2="325.8" y2="460.875" stroke="#1a1a1a" stroke-width="1.0"/>
<text x="320.0" y="463.175" font-size="6.3" text-anchor="end" fill="#231f20" stroke="#231f20">0.75</text>
<line x1="323.3" y1="483.54999999999995" x2="325.8" y2="483.54999999999995" stroke="#1a1a1a" stroke-width="1.0"/>
<text x="320.0" y="485.84999999999997" font-size="6.3" text-anchor="end" fill="#231f20" stroke="#231f20">0.50</text>
<line x1="323.3" y1="506.22499999999997" x2="325.8" y2="506.22499999999997" stroke="#1a1a1a" stroke-width="1.0"/>
<text x="320.0" y="508.525" font-size="6.3" text-anchor="end" fill="#231f20" stroke="#231f20">0.25</text>
<line x1="323.3" y1="528.9" x2="325.8" y2="528.9" stroke="#1a1a1a" stroke-width="1.0"/>
<text x="320.0" y="531.1999999999999" font-size="6.3" text-anchor="end" fill="#231f20" stroke="#231f20">0.00</text>
<line x1="325.8" y1="533.1" x2="391.8" y2="533.1" stroke="#1a1a1a" stroke-width="0.8"/>
<line x1="336.6" y1="508.94599999999997" x2="336.6" y2="519.8299999999999" stroke="#7a7a7a" stroke-width="0.8"/>
<line x1="336.6" y1="527.9929999999999" x2="336.6" y2="528.9" stroke="#7a7a7a" stroke-width="0.8"/>
<rect x="329.60" y="519.83" width="14.00" height="8.16" fill="#c8163a"/>
<line x1="329.6" y1="524.8185" x2="343.6" y2="524.8185" stroke="#111" stroke-width="1.1"/>
<circle cx="336.6" cy="508.0" r="0.65" fill="#1a1a1a"/>
<circle cx="336.6" cy="507.4" r="0.65" fill="#1a1a1a"/>
<circle cx="336.6" cy="506.1" r="0.65" fill="#1a1a1a"/>
<circle cx="336.6" cy="504.6" r="0.65" fill="#1a1a1a"/>
<circle cx="336.6" cy="502.7" r="0.65" fill="#1a1a1a"/>
<circle cx="336.6" cy="500.5" r="0.65" fill="#1a1a1a"/>
<circle cx="336.6" cy="498.2" r="0.65" fill="#1a1a1a"/>
<circle cx="336.6" cy="495.6" r="0.65" fill="#1a1a1a"/>
<circle cx="336.6" cy="492.9" r="0.65" fill="#1a1a1a"/>
<circle cx="336.6" cy="489.9" r="0.65" fill="#1a1a1a"/>
<circle cx="336.6" cy="486.8" r="0.65" fill="#1a1a1a"/>
<circle cx="336.6" cy="483.5" r="0.65" fill="#1a1a1a"/>
<line x1="336.6" y1="533.1" x2="336.6" y2="534.9" stroke="#1a1a1a" stroke-width="0.8"/>
<line x1="356.7" y1="502.597" x2="356.7" y2="516.202" stroke="#7a7a7a" stroke-width="0.8"/>
<line x1="356.7" y1="525.2719999999999" x2="356.7" y2="528.9" stroke="#7a7a7a" stroke-width="0.8"/>
<rect x="349.70" y="516.20" width="14.00" height="9.07" fill="#1b4f8a"/>
<line x1="349.7" y1="521.644" x2="363.7" y2="521.644" stroke="#111" stroke-width="1.1"/>
<circle cx="356.7" cy="501.7" r="0.65" fill="#1a1a1a"/>
<circle cx="356.7" cy="501.0" r="0.65" fill="#1a1a1a"/>
<circle cx="356.7" cy="499.8" r="0.65" fill="#1a1a1a"/>
<circle cx="356.7" cy="498.1" r="0.65" fill="#1a1a1a"/>
<circle cx="356.7" cy="496.2" r="0.65" fill="#1a1a1a"/>
<circle cx="356.7" cy="494.0" r="0.65" fill="#1a1a1a"/>
<circle cx="356.7" cy="491.6" r="0.65" fill="#1a1a1a"/>
<circle cx="356.7" cy="489.0" r="0.65" fill="#1a1a1a"/>
<line x1="356.7" y1="533.1" x2="356.7" y2="534.9" stroke="#1a1a1a" stroke-width="0.8"/>
<line x1="376.7" y1="508.94599999999997" x2="376.7" y2="519.8299999999999" stroke="#7a7a7a" stroke-width="0.8"/>
<line x1="376.7" y1="527.9929999999999" x2="376.7" y2="528.9" stroke="#7a7a7a" stroke-width="0.8"/>
<rect x="369.70" y="519.83" width="14.00" height="8.16" fill="#3cb54a"/>
<line x1="369.7" y1="523.9114999999999" x2="383.7" y2="523.9114999999999" stroke="#111" stroke-width="1.1"/>
<circle cx="376.7" cy="508.0" r="0.65" fill="#1a1a1a"/>
<circle cx="376.7" cy="507.4" r="0.65" fill="#1a1a1a"/>
<circle cx="376.7" cy="506.3" r="0.65" fill="#1a1a1a"/>
<circle cx="376.7" cy="504.8" r="0.65" fill="#1a1a1a"/>
<circle cx="376.7" cy="503.1" r="0.65" fill="#1a1a1a"/>
<circle cx="376.7" cy="501.1" r="0.65" fill="#1a1a1a"/>
<circle cx="376.7" cy="498.9" r="0.65" fill="#1a1a1a"/>
<circle cx="376.7" cy="496.5" r="0.65" fill="#1a1a1a"/>
<circle cx="376.7" cy="494.0" r="0.65" fill="#1a1a1a"/>
<circle cx="376.7" cy="491.3" r="0.65" fill="#1a1a1a"/>
<circle cx="376.7" cy="488.4" r="0.65" fill="#1a1a1a"/>
<circle cx="376.7" cy="485.4" r="0.65" fill="#1a1a1a"/>
<line x1="376.7" y1="533.1" x2="376.7" y2="534.9" stroke="#1a1a1a" stroke-width="0.8"/>
<line x1="335.2" y1="434.2" x2="377.2" y2="434.2" stroke="#1a1a1a" stroke-width="0.85"/>
<text x="356.2" y="435.2" font-size="6.3" text-anchor="middle" fill="#231f20" stroke="#231f20">***</text>
<line x1="335.2" y1="443.1" x2="354.1" y2="443.1" stroke="#1a1a1a" stroke-width="0.85"/>
<text x="344.65" y="444.1" font-size="6.3" text-anchor="middle" fill="#231f20" stroke="#231f20">***</text>
<line x1="358.3" y1="443.1" x2="377.2" y2="443.1" stroke="#1a1a1a" stroke-width="0.85"/>
<text x="367.75" y="444.1" font-size="6.3" text-anchor="middle" fill="#231f20" stroke="#231f20">***</text>
<text x="337.1" y="545" font-size="6.3" text-anchor="middle" fill="#231f20" stroke="#231f20">Ctl</text>
<text x="352.4" y="545" font-size="6.3" text-anchor="middle" fill="#231f20" stroke="#231f20">Fetal</text>
<text x="377.2" y="545" font-size="6.3" text-anchor="middle" fill="#231f20" stroke="#231f20">Postnatal</text>
<line x1="346.5" y1="548" x2="391.8" y2="548" stroke="#555" stroke-width="0.7"/>
<text x="369.6" y="555.5" font-size="6.3" text-anchor="middle" fill="#231f20" stroke="#231f20" textLength="24" lengthAdjust="spacingAndGlyphs">MLL::ENL</text>
<text x="303" y="484.2" font-size="7.8" text-anchor="middle" fill="#231f20" stroke="#231f20" textLength="65.3" lengthAdjust="spacingAndGlyphs" transform="rotate(-90 303 484.2)">Myeloid identity score</text>
<text x="411.8" y="417.2" font-size="8.5" text-anchor="start" fill="#231f20" stroke="#231f20" textLength="82" lengthAdjust="spacingAndGlyphs">c29 (MPP/pGM/GMP)</text>
<line x1="427.6" y1="435.3" x2="427.6" y2="533.5" stroke="#1a1a1a" stroke-width="1.0"/>
<line x1="425.1" y1="438.2" x2="427.6" y2="438.2" stroke="#1a1a1a" stroke-width="1.0"/>
<text x="421.8" y="440.5" font-size="6.3" text-anchor="end" fill="#231f20" stroke="#231f20">1.00</text>
<line x1="425.1" y1="460.875" x2="427.6" y2="460.875" stroke="#1a1a1a" stroke-width="1.0"/>
<text x="421.8" y="463.175" font-size="6.3" text-anchor="end" fill="#231f20" stroke="#231f20">0.75</text>
<line x1="425.1" y1="483.54999999999995" x2="427.6" y2="483.54999999999995" stroke="#1a1a1a" stroke-width="1.0"/>
<text x="421.8" y="485.84999999999997" font-size="6.3" text-anchor="end" fill="#231f20" stroke="#231f20">0.50</text>
<line x1="425.1" y1="506.22499999999997" x2="427.6" y2="506.22499999999997" stroke="#1a1a1a" stroke-width="1.0"/>
<text x="421.8" y="508.525" font-size="6.3" text-anchor="end" fill="#231f20" stroke="#231f20">0.25</text>
<line x1="425.1" y1="528.9" x2="427.6" y2="528.9" stroke="#1a1a1a" stroke-width="1.0"/>
<text x="421.8" y="531.1999999999999" font-size="6.3" text-anchor="end" fill="#231f20" stroke="#231f20">0.00</text>
<line x1="427.6" y1="533.1" x2="494.2" y2="533.1" stroke="#1a1a1a" stroke-width="0.8"/>
<line x1="438.9" y1="462.68899999999996" x2="438.9" y2="488.99199999999996" stroke="#7a7a7a" stroke-width="0.8"/>
<line x1="438.9" y1="506.22499999999997" x2="438.9" y2="528.9" stroke="#7a7a7a" stroke-width="0.8"/>
<rect x="431.90" y="488.99" width="14.00" height="17.23" fill="#c8163a"/>
<line x1="431.9" y1="497.155" x2="445.9" y2="497.155" stroke="#111" stroke-width="1.1"/>
<circle cx="438.9" cy="460.0" r="0.65" fill="#1a1a1a"/>
<circle cx="438.9" cy="458.2" r="0.65" fill="#1a1a1a"/>
<circle cx="438.9" cy="456.3" r="0.65" fill="#1a1a1a"/>
<circle cx="438.9" cy="454.5" r="0.65" fill="#1a1a1a"/>
<circle cx="438.9" cy="451.8" r="0.65" fill="#1a1a1a"/>
<circle cx="438.9" cy="449.1" r="0.65" fill="#1a1a1a"/>
<line x1="438.9" y1="533.1" x2="438.9" y2="534.9" stroke="#1a1a1a" stroke-width="0.8"/>
<line x1="458.9" y1="455.433" x2="458.9" y2="480.82899999999995" stroke="#7a7a7a" stroke-width="0.8"/>
<line x1="458.9" y1="497.155" x2="458.9" y2="521.644" stroke="#7a7a7a" stroke-width="0.8"/>
<rect x="451.90" y="480.83" width="14.00" height="16.33" fill="#1b4f8a"/>
<line x1="451.9" y1="488.085" x2="465.9" y2="488.085" stroke="#111" stroke-width="1.1"/>
<circle cx="458.9" cy="441.8" r="0.65" fill="#1a1a1a"/>
<circle cx="458.9" cy="523.5" r="0.65" fill="#1a1a1a"/>
<circle cx="458.9" cy="524.4" r="0.65" fill="#1a1a1a"/>
<circle cx="458.9" cy="525.3" r="0.65" fill="#1a1a1a"/>
<circle cx="458.9" cy="528.9" r="0.65" fill="#1a1a1a"/>
<line x1="458.9" y1="533.1" x2="458.9" y2="534.9" stroke="#1a1a1a" stroke-width="0.8"/>
<line x1="478.9" y1="458.154" x2="478.9" y2="485.364" stroke="#7a7a7a" stroke-width="0.8"/>
<line x1="478.9" y1="504.411" x2="478.9" y2="528.9" stroke="#7a7a7a" stroke-width="0.8"/>
<rect x="471.90" y="485.36" width="14.00" height="19.05" fill="#3cb54a"/>
<line x1="471.9" y1="493.527" x2="485.9" y2="493.527" stroke="#111" stroke-width="1.1"/>
<line x1="478.9" y1="533.1" x2="478.9" y2="534.9" stroke="#1a1a1a" stroke-width="0.8"/>
<line x1="437.7" y1="429.9" x2="480.1" y2="429.9" stroke="#1a1a1a" stroke-width="0.85"/>
<text x="458.9" y="430.9" font-size="6.3" text-anchor="middle" fill="#231f20" stroke="#231f20">***</text>
<line x1="437.7" y1="438.2" x2="456.5" y2="438.2" stroke="#1a1a1a" stroke-width="0.85"/>
<text x="447.1" y="439.2" font-size="6.3" text-anchor="middle" fill="#231f20" stroke="#231f20">***</text>
<line x1="460" y1="438.2" x2="480.1" y2="438.2" stroke="#1a1a1a" stroke-width="0.85"/>
<text x="470.05" y="439.2" font-size="6.3" text-anchor="middle" fill="#231f20" stroke="#231f20">***</text>
<text x="438.9" y="545" font-size="6.3" text-anchor="middle" fill="#231f20" stroke="#231f20">Ctl</text>
<text x="454.2" y="545" font-size="6.3" text-anchor="middle" fill="#231f20" stroke="#231f20">Fetal</text>
<text x="478.9" y="545" font-size="6.3" text-anchor="middle" fill="#231f20" stroke="#231f20">Postnatal</text>
<line x1="448.3" y1="548" x2="494.2" y2="548" stroke="#555" stroke-width="0.7"/>
<text x="471.8" y="555.5" font-size="6.3" text-anchor="middle" fill="#231f20" stroke="#231f20" textLength="24" lengthAdjust="spacingAndGlyphs">MLL::ENL</text>
<text x="404.8" y="484.2" font-size="7.8" text-anchor="middle" fill="#231f20" stroke="#231f20" textLength="65.3" lengthAdjust="spacingAndGlyphs" transform="rotate(-90 404.8 484.2)">Myeloid identity score</text>
<text x="44.7" y="568.7" font-size="8.5" text-anchor="start" fill="#231f20" stroke="#231f20" textLength="18.3" lengthAdjust="spacingAndGlyphs">Fetal</text>
<text x="35.6" y="576.6" font-size="8.5" text-anchor="start" fill="#231f20" stroke="#231f20" textLength="35.6" lengthAdjust="spacingAndGlyphs">induction</text>
<line x1="37.1" y1="586" x2="37.1" y2="658.5" stroke="#1a1a1a" stroke-width="1.0"/>
<line x1="34.6" y1="587.9599999999999" x2="37.1" y2="587.9599999999999" stroke="#1a1a1a" stroke-width="1.0"/>
<text x="31.3" y="590.2599999999999" font-size="6.3" text-anchor="end" fill="#231f20" stroke="#231f20">80</text>
<line x1="34.6" y1="605.42" x2="37.1" y2="605.42" stroke="#1a1a1a" stroke-width="1.0"/>
<text x="31.3" y="607.7199999999999" font-size="6.3" text-anchor="end" fill="#231f20" stroke="#231f20">60</text>
<line x1="34.6" y1="622.88" x2="37.1" y2="622.88" stroke="#1a1a1a" stroke-width="1.0"/>
<text x="31.3" y="625.18" font-size="6.3" text-anchor="end" fill="#231f20" stroke="#231f20">40</text>
<line x1="34.6" y1="640.3399999999999" x2="37.1" y2="640.3399999999999" stroke="#1a1a1a" stroke-width="1.0"/>
<text x="31.3" y="642.6399999999999" font-size="6.3" text-anchor="end" fill="#231f20" stroke="#231f20">20</text>
<line x1="34.6" y1="657.8" x2="37.1" y2="657.8" stroke="#1a1a1a" stroke-width="1.0"/>
<text x="31.3" y="660.0999999999999" font-size="6.3" text-anchor="end" fill="#231f20" stroke="#231f20">0</text>
<line x1="37.1" y1="657.8" x2="84.9" y2="657.8" stroke="#1a1a1a" stroke-width="0.9"/>
<rect x="44.60" y="621.13" width="12.00" height="36.67" fill="#d04b6b"/>
<line x1="50.6" y1="613.2769999999999" x2="50.6" y2="628.991" stroke="#1a1a1a" stroke-width="0.7"/>
<line x1="48.1" y1="613.2769999999999" x2="53.1" y2="613.2769999999999" stroke="#1a1a1a" stroke-width="0.7"/>
<line x1="48.1" y1="628.991" x2="53.1" y2="628.991" stroke="#1a1a1a" stroke-width="0.7"/>
<circle cx="50.60" cy="610.66" r="1.35" fill="#d04b6b" stroke="#8a1730" stroke-width="0.75"/>
<circle cx="47.60" cy="617.21" r="1.35" fill="#d04b6b" stroke="#8a1730" stroke-width="0.75"/>
<circle cx="53.60" cy="617.21" r="1.35" fill="#d04b6b" stroke="#8a1730" stroke-width="0.75"/>
<circle cx="47.60" cy="623.32" r="1.35" fill="#d04b6b" stroke="#8a1730" stroke-width="0.75"/>
<circle cx="53.60" cy="626.81" r="1.35" fill="#d04b6b" stroke="#8a1730" stroke-width="0.75"/>
<circle cx="50.60" cy="631.17" r="1.35" fill="#d04b6b" stroke="#8a1730" stroke-width="0.75"/>
<line x1="50.6" y1="657.8" x2="50.6" y2="659.6" stroke="#1a1a1a" stroke-width="0.8"/>
<rect x="64.70" y="609.52" width="12.00" height="48.28" fill="#2b5f8a"/>
<line x1="70.7" y1="606.0310999999999" x2="70.7" y2="613.0151" stroke="#1a1a1a" stroke-width="0.7"/>
<line x1="68.2" y1="606.0310999999999" x2="73.2" y2="606.0310999999999" stroke="#1a1a1a" stroke-width="0.7"/>
<line x1="68.2" y1="613.0151" x2="73.2" y2="613.0151" stroke="#1a1a1a" stroke-width="0.7"/>
<circle cx="67.70" cy="604.29" r="1.35" fill="#2b5f8a" stroke="#1a3550" stroke-width="0.75"/>
<circle cx="73.70" cy="602.98" r="1.35" fill="#2b5f8a" stroke="#1a3550" stroke-width="0.75"/>
<circle cx="73.70" cy="607.69" r="1.35" fill="#2b5f8a" stroke="#1a3550" stroke-width="0.75"/>
<circle cx="67.70" cy="610.31" r="1.35" fill="#2b5f8a" stroke="#1a3550" stroke-width="0.75"/>
<circle cx="73.70" cy="614.15" r="1.35" fill="#2b5f8a" stroke="#1a3550" stroke-width="0.75"/>
<circle cx="67.70" cy="615.11" r="1.35" fill="#2b5f8a" stroke="#1a3550" stroke-width="0.75"/>
<line x1="70.7" y1="657.8" x2="70.7" y2="659.6" stroke="#1a1a1a" stroke-width="0.8"/>
<line x1="52" y1="590.6" x2="73.9" y2="590.6" stroke="#444" stroke-width="0.9"/>
<text x="62" y="590" font-size="6.5" text-anchor="middle" fill="#231f20" stroke="#231f20">**</text>
<text x="19.4" y="621.3" font-size="9" text-anchor="middle" fill="#231f20" stroke="#231f20" textLength="30.9" lengthAdjust="spacingAndGlyphs" transform="rotate(-90 19.4 621.3)">EdU % LSK</text>
<text x="118.3" y="568.7" font-size="8.5" text-anchor="start" fill="#231f20" stroke="#231f20" textLength="34.7" lengthAdjust="spacingAndGlyphs">Postnatal</text>
<text x="118" y="576.6" font-size="8.5" text-anchor="start" fill="#231f20" stroke="#231f20" textLength="35" lengthAdjust="spacingAndGlyphs">induction</text>
<line x1="115.6" y1="586" x2="115.6" y2="658.5" stroke="#1a1a1a" stroke-width="1.0"/>
<line x1="113.1" y1="587.9599999999999" x2="115.6" y2="587.9599999999999" stroke="#1a1a1a" stroke-width="1.0"/>
<text x="109.8" y="590.2599999999999" font-size="6.3" text-anchor="end" fill="#231f20" stroke="#231f20">80</text>
<line x1="113.1" y1="605.42" x2="115.6" y2="605.42" stroke="#1a1a1a" stroke-width="1.0"/>
<text x="109.8" y="607.7199999999999" font-size="6.3" text-anchor="end" fill="#231f20" stroke="#231f20">60</text>
<line x1="113.1" y1="622.88" x2="115.6" y2="622.88" stroke="#1a1a1a" stroke-width="1.0"/>
<text x="109.8" y="625.18" font-size="6.3" text-anchor="end" fill="#231f20" stroke="#231f20">40</text>
<line x1="113.1" y1="640.3399999999999" x2="115.6" y2="640.3399999999999" stroke="#1a1a1a" stroke-width="1.0"/>
<text x="109.8" y="642.6399999999999" font-size="6.3" text-anchor="end" fill="#231f20" stroke="#231f20">20</text>
<line x1="113.1" y1="657.8" x2="115.6" y2="657.8" stroke="#1a1a1a" stroke-width="1.0"/>
<text x="109.8" y="660.0999999999999" font-size="6.3" text-anchor="end" fill="#231f20" stroke="#231f20">0</text>
<line x1="115.6" y1="657.8" x2="163.1" y2="657.8" stroke="#1a1a1a" stroke-width="0.9"/>
<rect x="123.40" y="622.01" width="12.00" height="35.79" fill="#d04b6b"/>
<line x1="129.4" y1="611.1818" x2="129.4" y2="632.8322" stroke="#1a1a1a" stroke-width="0.7"/>
<line x1="126.9" y1="611.1818" x2="131.9" y2="611.1818" stroke="#1a1a1a" stroke-width="0.7"/>
<line x1="126.9" y1="632.8322" x2="131.9" y2="632.8322" stroke="#1a1a1a" stroke-width="0.7"/>
<circle cx="129.40" cy="606.03" r="1.35" fill="#d04b6b" stroke="#8a1730" stroke-width="0.75"/>
<circle cx="129.40" cy="616.42" r="1.35" fill="#d04b6b" stroke="#8a1730" stroke-width="0.75"/>
<circle cx="129.40" cy="625.50" r="1.35" fill="#d04b6b" stroke="#8a1730" stroke-width="0.75"/>
<circle cx="126.40" cy="630.21" r="1.35" fill="#d04b6b" stroke="#8a1730" stroke-width="0.75"/>
<circle cx="132.40" cy="629.86" r="1.35" fill="#d04b6b" stroke="#8a1730" stroke-width="0.75"/>
<line x1="129.4" y1="657.8" x2="129.4" y2="659.6" stroke="#1a1a1a" stroke-width="0.8"/>
<rect x="143.70" y="625.94" width="12.00" height="31.86" fill="#2b5f8a"/>
<line x1="149.7" y1="616.4197999999999" x2="149.7" y2="635.4512" stroke="#1a1a1a" stroke-width="0.7"/>
<line x1="147.2" y1="616.4197999999999" x2="152.2" y2="616.4197999999999" stroke="#1a1a1a" stroke-width="0.7"/>
<line x1="147.2" y1="635.4512" x2="152.2" y2="635.4512" stroke="#1a1a1a" stroke-width="0.7"/>
<circle cx="149.70" cy="609.00" r="1.35" fill="#2b5f8a" stroke="#1a3550" stroke-width="0.75"/>
<circle cx="149.70" cy="619.39" r="1.35" fill="#2b5f8a" stroke="#1a3550" stroke-width="0.75"/>
<circle cx="144.70" cy="632.05" r="1.35" fill="#2b5f8a" stroke="#1a3550" stroke-width="0.75"/>
<circle cx="149.70" cy="632.05" r="1.35" fill="#2b5f8a" stroke="#1a3550" stroke-width="0.75"/>
<circle cx="154.70" cy="632.05" r="1.35" fill="#2b5f8a" stroke="#1a3550" stroke-width="0.75"/>
<line x1="149.7" y1="657.8" x2="149.7" y2="659.6" stroke="#1a1a1a" stroke-width="0.8"/>
<line x1="128.4" y1="590.6" x2="150.3" y2="590.6" stroke="#444" stroke-width="0.9"/>
<text x="140.5" y="588" font-size="8.5" text-anchor="middle" fill="#231f20" stroke="#231f20" textLength="19.6" lengthAdjust="spacingAndGlyphs">N.S.</text>
<text x="98.1" y="621.3" font-size="9" text-anchor="middle" fill="#231f20" stroke="#231f20" textLength="30.9" lengthAdjust="spacingAndGlyphs" transform="rotate(-90 98.1 621.3)">EdU % LSK</text>
<text x="50.2" y="668.5" font-size="6.6" text-anchor="middle" fill="#231f20" stroke="#231f20">Ctl</text>
<text x="70.3" y="668.5" font-size="6.6" text-anchor="middle" fill="#231f20" stroke="#231f20">ME</text>
<text x="129.3" y="668.5" font-size="6.6" text-anchor="middle" fill="#231f20" stroke="#231f20">Ctl</text>
<text x="149.7" y="668.5" font-size="6.6" text-anchor="middle" fill="#231f20" stroke="#231f20">ME</text>
<text x="230.8" y="580" font-size="8.5" text-anchor="start" fill="#231f20" stroke="#231f20" textLength="10.7" lengthAdjust="spacingAndGlyphs">Hlf</text>
<line x1="201.5" y1="584.8" x2="201.5" y2="649.6" stroke="#1a1a1a" stroke-width="1.0"/>
<line x1="199.0" y1="592.0" x2="201.5" y2="592.0" stroke="#1a1a1a" stroke-width="1.0"/>
<text x="195.7" y="594.3" font-size="6.3" text-anchor="end" fill="#231f20" stroke="#231f20">3</text>
<line x1="199.0" y1="610.0" x2="201.5" y2="610.0" stroke="#1a1a1a" stroke-width="1.0"/>
<text x="195.7" y="612.3" font-size="6.3" text-anchor="end" fill="#231f20" stroke="#231f20">2</text>
<line x1="199.0" y1="628.0" x2="201.5" y2="628.0" stroke="#1a1a1a" stroke-width="1.0"/>
<text x="195.7" y="630.3" font-size="6.3" text-anchor="end" fill="#231f20" stroke="#231f20">1</text>
<line x1="199.0" y1="646.0" x2="201.5" y2="646.0" stroke="#1a1a1a" stroke-width="1.0"/>
<text x="195.7" y="648.3" font-size="6.3" text-anchor="end" fill="#231f20" stroke="#231f20">0</text>
<line x1="201.5" y1="649.2" x2="265" y2="649.2" stroke="#1a1a1a" stroke-width="0.9"/>
<path d="M211.2 646.00 L211.20 646.00 L218.00 646.00 L216.20 644.56 L213.70 642.40 L215.50 637.36 L216.40 631.60 L216.70 623.86 L215.70 617.20 L214.30 612.70 L212.70 604.60 L211.80 599.20 L211.20 593.80 L211.20 593.80 L210.60 599.20 L209.70 604.60 L208.10 612.70 L206.70 617.20 L205.70 623.86 L206.00 631.60 L206.90 637.36 L208.70 642.40 L206.20 644.56 L204.40 646.00 L211.20 646.00Z" fill="#c8163a" stroke="none" stroke-width="0.8"/>
<line x1="211.2" y1="649.2" x2="211.2" y2="651" stroke="#1a1a1a" stroke-width="0.8"/>
<path d="M226.5 646.00 L226.50 646.00 L232.70 646.00 L230.50 644.20 L228.30 641.14 L229.10 637.90 L229.90 633.76 L229.60 626.20 L228.30 619.00 L227.50 612.70 L227.00 608.20 L226.50 604.24 L226.50 604.24 L226.00 608.20 L225.50 612.70 L224.70 619.00 L223.40 626.20 L223.10 633.76 L223.90 637.90 L224.70 641.14 L222.50 644.20 L220.30 646.00 L226.50 646.00Z" fill="#1b4f8a" stroke="none" stroke-width="0.8"/>
<line x1="226.5" y1="649.2" x2="226.5" y2="651" stroke="#1a1a1a" stroke-width="0.8"/>
<path d="M241.9 646.00 L241.90 646.00 L248.70 646.00 L246.90 644.56 L244.40 642.40 L245.70 637.00 L246.50 631.60 L246.80 625.12 L246.10 619.00 L245.00 612.70 L243.80 606.40 L242.90 601.00 L242.30 594.70 L241.90 588.40 L241.90 588.40 L241.50 594.70 L240.90 601.00 L240.00 606.40 L238.80 612.70 L237.70 619.00 L237.00 625.12 L237.30 631.60 L238.10 637.00 L239.40 642.40 L236.90 644.56 L235.10 646.00 L241.90 646.00Z" fill="#c8163a" stroke="none" stroke-width="0.8"/>
<line x1="241.9" y1="649.2" x2="241.9" y2="651" stroke="#1a1a1a" stroke-width="0.8"/>
<path d="M257.3 646.00 L257.30 646.00 L264.50 646.00 L263.30 644.20 L261.60 642.40 L264.10 637.36 L264.60 628.00 L264.70 616.48 L262.20 606.40 L259.80 597.94 L258.30 592.00 L257.30 587.50 L257.30 587.50 L256.30 592.00 L254.80 597.94 L252.40 606.40 L249.90 616.48 L250.00 628.00 L250.50 637.36 L253.00 642.40 L251.30 644.20 L250.10 646.00 L257.30 646.00Z" fill="#1b4f8a" stroke="none" stroke-width="0.8"/>
<line x1="257.3" y1="649.2" x2="257.3" y2="651" stroke="#1a1a1a" stroke-width="0.8"/>
<text x="211.2" y="660.5" font-size="6.6" text-anchor="middle" fill="#231f20" stroke="#231f20">Ctl</text>
<text x="226.5" y="660.5" font-size="6.6" text-anchor="middle" fill="#231f20" stroke="#231f20">ME</text>
<text x="241.9" y="660.5" font-size="6.6" text-anchor="middle" fill="#231f20" stroke="#231f20">Ctl</text>
<text x="257.3" y="660.5" font-size="6.6" text-anchor="middle" fill="#231f20" stroke="#231f20">ME</text>
<line x1="205.4" y1="663.1" x2="231.3" y2="663.1" stroke="#555" stroke-width="0.7"/>
<line x1="236.2" y1="663.1" x2="263" y2="663.1" stroke="#555" stroke-width="0.7"/>
<text x="218.8" y="671.4" font-size="6.6" text-anchor="middle" fill="#231f20" stroke="#231f20">Fetal</text>
<text x="248.7" y="671.4" font-size="6.6" text-anchor="middle" fill="#231f20" stroke="#231f20" textLength="27" lengthAdjust="spacingAndGlyphs">Postnatal</text>
<text x="226.5" y="593.8" font-size="6.3" text-anchor="middle" fill="#231f20" stroke="#231f20">***</text>
<text x="311" y="580" font-size="8.5" text-anchor="start" fill="#231f20" stroke="#231f20" textLength="18.2" lengthAdjust="spacingAndGlyphs">Pbx1</text>
<line x1="282.1" y1="584.8" x2="282.1" y2="649.6" stroke="#1a1a1a" stroke-width="1.0"/>
<line x1="279.6" y1="604.4" x2="282.1" y2="604.4" stroke="#1a1a1a" stroke-width="1.0"/>
<text x="276.3" y="606.6999999999999" font-size="6.3" text-anchor="end" fill="#231f20" stroke="#231f20">2</text>
<line x1="279.6" y1="625.2" x2="282.1" y2="625.2" stroke="#1a1a1a" stroke-width="1.0"/>
<text x="276.3" y="627.5" font-size="6.3" text-anchor="end" fill="#231f20" stroke="#231f20">1</text>
<line x1="279.6" y1="646.0" x2="282.1" y2="646.0" stroke="#1a1a1a" stroke-width="1.0"/>
<text x="276.3" y="648.3" font-size="6.3" text-anchor="end" fill="#231f20" stroke="#231f20">0</text>
<line x1="282.1" y1="649.2" x2="345.6" y2="649.2" stroke="#1a1a1a" stroke-width="0.9"/>
<path d="M290.8 646.00 L290.80 646.00 L297.60 646.00 L295.80 644.75 L293.00 642.88 L291.80 639.76 L292.20 635.60 L292.60 631.23 L292.30 627.28 L291.80 622.70 L291.30 615.22 L291.00 608.56 L290.80 604.40 L290.80 604.40 L290.60 608.56 L290.30 615.22 L289.80 622.70 L289.30 627.28 L289.00 631.23 L289.40 635.60 L289.80 639.76 L288.60 642.88 L285.80 644.75 L284.00 646.00 L290.80 646.00Z" fill="#c8163a" stroke="none" stroke-width="0.8"/>
<path d="M290.8 615.9h0M290.9 611.9h0M290.5 602.9h0M291.1 620.9h0M290.6 615.3h0M290.8 587.9h0M290.8 594.7h0M290.5 602.4h0M291.1 602.6h0M291.0 606.7h0M290.5 601.2h0M290.9 597.8h0M290.4 614.0h0M290.8 593.5h0M291.1 599.4h0M291.1 599.6h0M291.0 611.1h0M291.1 609.4h0M290.5 592.9h0M290.6 618.6h0M290.7 589.2h0M290.6 602.9h0M290.7 607.3h0M290.9 612.5h0M291.1 604.5h0M291.1 600.8h0M291.2 593.8h0M290.5 601.2h0M291.2 593.7h0M290.9 591.8h0M290.6 599.6h0M290.9 594.9h0M290.5 614.5h0M291.2 593.9h0M291.0 619.6h0M290.5 610.6h0M291.0 614.3h0M290.4 593.2h0M290.4 603.4h0M290.7 599.4h0" stroke="#333" stroke-width="0.7" stroke-linecap="round" opacity="0.8"/>
<line x1="290.8" y1="621.04" x2="290.8" y2="587.76" stroke="#555" stroke-width="0.35"/>
<line x1="290.8" y1="649.2" x2="290.8" y2="651" stroke="#1a1a1a" stroke-width="0.8"/>
<path d="M306.2 646.00 L306.20 646.00 L312.20 646.00 L312.20 645.58 L306.20 645.58 L306.20 645.58 L300.20 645.58 L300.20 646.00 L306.20 646.00Z" fill="#bbb" stroke="none" stroke-width="0.8"/>
<path d="M306.6 603.5h0M306.6 624.8h0M305.9 634.3h0M305.8 619.8h0M306.1 639.0h0M305.9 619.2h0M306.5 644.2h0M306.6 634.1h0M306.1 602.5h0M306.2 627.1h0M306.3 617.4h0M306.3 622.0h0M306.2 599.8h0M306.4 628.6h0M306.0 637.4h0M306.2 597.5h0M305.8 622.6h0M306.3 629.4h0M306.3 644.7h0M305.8 618.0h0M306.2 618.3h0M306.1 615.4h0M306.4 613.8h0M305.8 644.6h0M306.6 615.6h0M306.2 636.9h0M306.1 620.2h0M306.1 631.8h0M306.3 631.6h0M306.1 634.7h0M305.8 610.0h0M306.4 621.5h0M306.0 634.3h0M306.0 608.2h0M306.1 639.4h0" stroke="#333" stroke-width="0.7" stroke-linecap="round" opacity="0.8"/>
<line x1="306.2" y1="644.96" x2="306.2" y2="596.08" stroke="#555" stroke-width="0.35"/>
<line x1="306.2" y1="649.2" x2="306.2" y2="651" stroke="#1a1a1a" stroke-width="0.8"/>
<path d="M321.5 646.00 L321.50 646.00 L328.30 646.00 L326.50 644.75 L323.70 642.88 L322.50 639.76 L322.90 634.56 L323.30 628.74 L323.00 625.20 L322.50 621.04 L322.00 614.80 L321.70 608.56 L321.50 604.40 L321.50 604.40 L321.30 608.56 L321.00 614.80 L320.50 621.04 L320.00 625.20 L319.70 628.74 L320.10 634.56 L320.50 639.76 L319.30 642.88 L316.50 644.75 L314.70 646.00 L321.50 646.00Z" fill="#c8163a" stroke="none" stroke-width="0.8"/>
<path d="M321.2 602.1h0M321.4 614.1h0M321.5 597.2h0M321.2 596.4h0M321.6 613.7h0M321.5 595.3h0M321.2 616.7h0M321.3 607.8h0M321.8 598.2h0M321.3 617.7h0M321.6 598.2h0M321.4 598.2h0M321.3 618.9h0M321.3 598.7h0M321.4 613.4h0M321.4 611.3h0M321.2 594.0h0M321.9 621.0h0M321.9 595.5h0M321.9 610.8h0M321.3 593.7h0M321.8 600.5h0M321.5 603.4h0M321.4 615.0h0M321.2 616.6h0M321.3 605.9h0M321.1 598.1h0M321.7 594.6h0M321.8 593.8h0M321.6 594.8h0M321.7 620.9h0M321.3 618.0h0M321.5 603.4h0M321.9 611.5h0M321.4 605.1h0M321.8 616.0h0M321.7 609.5h0M321.3 613.3h0M321.8 607.7h0M321.7 618.0h0" stroke="#333" stroke-width="0.7" stroke-linecap="round" opacity="0.8"/>
<line x1="321.5" y1="621.04" x2="321.5" y2="590.88" stroke="#555" stroke-width="0.35"/>
<line x1="321.5" y1="649.2" x2="321.5" y2="651" stroke="#1a1a1a" stroke-width="0.8"/>
<path d="M336.9 646.00 L336.90 646.00 L343.70 646.00 L341.90 644.75 L339.40 642.88 L338.40 639.76 L339.10 633.52 L339.40 627.49 L338.70 622.08 L337.90 616.46 L337.40 610.64 L337.10 604.40 L336.90 596.70 L336.90 596.70 L336.70 604.40 L336.40 610.64 L335.90 616.46 L335.10 622.08 L334.40 627.49 L334.70 633.52 L335.40 639.76 L334.40 642.88 L331.90 644.75 L330.10 646.00 L336.90 646.00Z" fill="#1b4f8a" stroke="none" stroke-width="0.8"/>
<path d="M337.1 598.5h0M336.5 600.7h0M337.2 604.9h0M336.7 614.4h0M336.9 611.5h0M336.9 608.9h0M336.5 601.8h0M336.6 614.4h0M336.6 613.6h0M337.2 597.3h0M336.9 614.1h0M336.8 610.8h0M337.0 610.2h0M336.8 605.8h0M336.8 612.7h0M336.9 613.6h0M336.8 603.1h0M336.6 614.1h0M337.0 609.8h0M336.8 601.6h0M337.0 601.2h0M336.8 608.7h0M337.1 607.5h0M337.1 608.9h0M336.7 608.2h0M337.1 606.8h0M336.8 614.2h0M337.2 608.8h0M336.8 598.2h0M337.1 599.1h0" stroke="#333" stroke-width="0.7" stroke-linecap="round" opacity="0.8"/>
<line x1="336.9" y1="614.8" x2="336.9" y2="596.704" stroke="#555" stroke-width="0.35"/>
<line x1="336.9" y1="649.2" x2="336.9" y2="651" stroke="#1a1a1a" stroke-width="0.8"/>
<text x="290.8" y="660.5" font-size="6.6" text-anchor="middle" fill="#231f20" stroke="#231f20">Ctl</text>
<text x="306.2" y="660.5" font-size="6.6" text-anchor="middle" fill="#231f20" stroke="#231f20">ME</text>
<text x="321.5" y="660.5" font-size="6.6" text-anchor="middle" fill="#231f20" stroke="#231f20">Ctl</text>
<text x="336.9" y="660.5" font-size="6.6" text-anchor="middle" fill="#231f20" stroke="#231f20">ME</text>
<line x1="285" y1="663.1" x2="312.3" y2="663.1" stroke="#555" stroke-width="0.7"/>
<line x1="315.8" y1="663.1" x2="342.7" y2="663.1" stroke="#555" stroke-width="0.7"/>
<text x="298.5" y="671.4" font-size="6.6" text-anchor="middle" fill="#231f20" stroke="#231f20">Fetal</text>
<text x="329.2" y="671.4" font-size="6.6" text-anchor="middle" fill="#231f20" stroke="#231f20" textLength="27" lengthAdjust="spacingAndGlyphs">Postnatal</text>
<text x="306.4" y="593.8" font-size="6.3" text-anchor="middle" fill="#231f20" stroke="#231f20">***</text>
<text x="382.1" y="580" font-size="8.5" text-anchor="start" fill="#231f20" stroke="#231f20" textLength="27.3" lengthAdjust="spacingAndGlyphs">Nkx2-3</text>
<line x1="365.2" y1="584.8" x2="365.2" y2="649.6" stroke="#1a1a1a" stroke-width="1.0"/>
<line x1="362.7" y1="588.0" x2="365.2" y2="588.0" stroke="#1a1a1a" stroke-width="1.0"/>
<text x="359.4" y="590.3" font-size="6.3" text-anchor="end" fill="#231f20" stroke="#231f20">2.5</text>
<line x1="362.7" y1="599.6" x2="365.2" y2="599.6" stroke="#1a1a1a" stroke-width="1.0"/>
<text x="359.4" y="601.9" font-size="6.3" text-anchor="end" fill="#231f20" stroke="#231f20">2.0</text>
<line x1="362.7" y1="611.2" x2="365.2" y2="611.2" stroke="#1a1a1a" stroke-width="1.0"/>
<text x="359.4" y="613.5" font-size="6.3" text-anchor="end" fill="#231f20" stroke="#231f20">1.5</text>
<line x1="362.7" y1="622.8" x2="365.2" y2="622.8" stroke="#1a1a1a" stroke-width="1.0"/>
<text x="359.4" y="625.0999999999999" font-size="6.3" text-anchor="end" fill="#231f20" stroke="#231f20">1.0</text>
<line x1="362.7" y1="634.4" x2="365.2" y2="634.4" stroke="#1a1a1a" stroke-width="1.0"/>
<text x="359.4" y="636.6999999999999" font-size="6.3" text-anchor="end" fill="#231f20" stroke="#231f20">0.5</text>
<line x1="362.7" y1="646.0" x2="365.2" y2="646.0" stroke="#1a1a1a" stroke-width="1.0"/>
<text x="359.4" y="648.3" font-size="6.3" text-anchor="end" fill="#231f20" stroke="#231f20">0</text>
<line x1="365.2" y1="649.2" x2="429.6" y2="649.2" stroke="#1a1a1a" stroke-width="0.9"/>
<path d="M373.8 646.00 L373.80 646.00 L380.60 646.00 L378.80 645.07 L375.80 643.68 L374.70 642.52 L374.80 636.72 L374.80 630.92 L374.50 625.12 L374.10 621.64 L373.80 620.48 L373.80 620.48 L373.50 621.64 L373.10 625.12 L372.80 630.92 L372.80 636.72 L372.90 642.52 L371.80 643.68 L368.80 645.07 L367.00 646.00 L373.80 646.00Z" fill="#c8163a" stroke="none" stroke-width="0.8"/>
<path d="M373.8 618.1h0M374.1 621.0h0M374.1 607.2h0M373.9 603.1h0M373.9 605.0h0M373.9 621.4h0M373.5 622.8h0M373.4 603.7h0M373.5 621.6h0M373.5 600.2h0M374.1 622.6h0M374.1 621.1h0M374.1 606.8h0M373.9 597.8h0M373.4 602.9h0M373.8 603.9h0M373.5 605.5h0M374.1 604.5h0M373.7 622.1h0M374.1 610.1h0M373.5 618.6h0M373.9 618.4h0M373.7 604.3h0M373.7 615.5h0M373.7 616.0h0M373.8 621.7h0M373.7 597.1h0M373.5 604.5h0M374.0 606.3h0M373.8 606.8h0M373.9 612.4h0M373.5 599.6h0M374.0 621.5h0M373.8 599.0h0M374.0 613.5h0" stroke="#333" stroke-width="0.7" stroke-linecap="round" opacity="0.8"/>
<line x1="373.8" y1="622.8" x2="373.8" y2="596.12" stroke="#555" stroke-width="0.35"/>
<line x1="373.8" y1="649.2" x2="373.8" y2="651" stroke="#1a1a1a" stroke-width="0.8"/>
<path d="M389.2 646.00 L389.20 646.00 L395.20 646.00 L395.20 645.54 L389.20 645.54 L389.20 645.54 L383.20 645.54 L383.20 646.00 L389.20 646.00Z" fill="#bbb" stroke="none" stroke-width="0.8"/>
<path d="M389.0 639.8h0M389.3 639.3h0M389.0 634.8h0M389.6 616.9h0M389.4 635.6h0M389.5 630.5h0M389.0 622.3h0M388.8 638.6h0M389.1 627.4h0M389.1 640.2h0M389.4 634.5h0M389.6 641.2h0M389.3 627.4h0M389.5 628.0h0M389.2 609.8h0M389.4 627.4h0M389.1 607.8h0M389.6 614.6h0M389.0 628.0h0M389.4 638.0h0M389.6 617.7h0M389.0 608.0h0M389.0 639.6h0M389.4 639.7h0M389.5 607.7h0M389.5 637.2h0M389.1 634.8h0M388.9 614.8h0M389.5 642.8h0M389.1 635.7h0" stroke="#333" stroke-width="0.7" stroke-linecap="round" opacity="0.8"/>
<line x1="389.2" y1="644.84" x2="389.2" y2="599.6" stroke="#555" stroke-width="0.35"/>
<line x1="389.2" y1="649.2" x2="389.2" y2="651" stroke="#1a1a1a" stroke-width="0.8"/>
<path d="M404.6 646.00 L404.60 646.00 L411.40 646.00 L409.60 645.07 L406.60 643.68 L405.40 642.52 L405.30 634.40 L405.20 625.12 L404.60 622.80 L404.60 622.80 L404.00 625.12 L403.90 634.40 L403.80 642.52 L402.60 643.68 L399.60 645.07 L397.80 646.00 L404.60 646.00Z" fill="#c8163a" stroke="none" stroke-width="0.8"/>
<path d="M404.7 607.9h0M404.5 622.8h0M404.6 612.5h0M404.7 618.8h0M404.5 594.4h0M404.3 609.1h0M404.7 617.2h0M404.9 621.0h0M404.3 596.2h0M404.5 594.9h0M404.8 601.2h0M404.7 616.6h0M404.8 605.4h0M404.8 617.4h0M404.7 594.1h0M404.3 609.4h0M404.5 610.7h0M404.7 603.2h0M404.3 608.4h0M404.7 605.7h0M404.9 619.6h0M404.3 605.4h0M404.3 595.3h0M404.8 615.6h0M404.6 607.4h0M404.6 605.7h0M404.3 616.2h0M404.8 621.9h0M404.6 601.9h0M404.5 602.4h0M404.5 617.4h0M404.2 597.5h0M404.4 610.4h0M404.5 601.4h0M404.5 615.6h0" stroke="#333" stroke-width="0.7" stroke-linecap="round" opacity="0.8"/>
<line x1="404.6" y1="622.8" x2="404.6" y2="592.64" stroke="#555" stroke-width="0.35"/>
<line x1="404.6" y1="649.2" x2="404.6" y2="651" stroke="#1a1a1a" stroke-width="0.8"/>
<path d="M420 646.00 L420.00 646.00 L426.80 646.00 L425.00 644.84 L423.00 643.22 L421.60 640.20 L421.80 635.56 L421.80 629.76 L421.30 623.96 L420.90 618.16 L420.50 611.20 L420.25 604.24 L420.00 599.60 L420.00 599.60 L419.75 604.24 L419.50 611.20 L419.10 618.16 L418.70 623.96 L418.20 629.76 L418.20 635.56 L418.40 640.20 L417.00 643.22 L415.00 644.84 L413.20 646.00 L420.00 646.00Z" fill="#1b4f8a" stroke="none" stroke-width="0.8"/>
<path d="M420.2 596.4h0M420.3 599.7h0M419.8 603.2h0M419.7 603.4h0M420.2 591.7h0M419.8 602.3h0M420.2 598.7h0M420.2 590.9h0M419.7 595.4h0M419.8 599.0h0M420.1 596.7h0M419.8 602.1h0M419.6 591.6h0M420.3 591.2h0M419.9 588.0h0M420.1 596.2h0M420.4 594.6h0M419.8 593.6h0M420.0 589.9h0M420.2 595.3h0M420.2 604.2h0M420.0 594.1h0M420.0 596.7h0M420.0 602.2h0M420.0 604.0h0M420.0 594.4h0M420.4 595.9h0M419.7 589.2h0M420.1 591.4h0M419.9 603.9h0M419.7 601.6h0M420.3 596.5h0M420.3 600.2h0M419.7 593.4h0M420.1 590.0h0M420.2 588.5h0M419.9 592.5h0M420.3 591.1h0M419.9 589.9h0M420.0 592.1h0" stroke="#333" stroke-width="0.7" stroke-linecap="round" opacity="0.8"/>
<line x1="420" y1="604.24" x2="420" y2="586.84" stroke="#555" stroke-width="0.35"/>
<line x1="420" y1="649.2" x2="420" y2="651" stroke="#1a1a1a" stroke-width="0.8"/>
<text x="373.8" y="660.5" font-size="6.6" text-anchor="middle" fill="#231f20" stroke="#231f20">Ctl</text>
<text x="389.2" y="660.5" font-size="6.6" text-anchor="middle" fill="#231f20" stroke="#231f20">ME</text>
<text x="404.6" y="660.5" font-size="6.6" text-anchor="middle" fill="#231f20" stroke="#231f20">Ctl</text>
<text x="420" y="660.5" font-size="6.6" text-anchor="middle" fill="#231f20" stroke="#231f20">ME</text>
<line x1="368" y1="663.1" x2="395" y2="663.1" stroke="#555" stroke-width="0.7"/>
<line x1="398.5" y1="663.1" x2="425.8" y2="663.1" stroke="#555" stroke-width="0.7"/>
<text x="381.5" y="671.4" font-size="6.6" text-anchor="middle" fill="#231f20" stroke="#231f20">Fetal</text>
<text x="412.3" y="671.4" font-size="6.6" text-anchor="middle" fill="#231f20" stroke="#231f20" textLength="27" lengthAdjust="spacingAndGlyphs">Postnatal</text>
<text x="389.9" y="593.8" font-size="6.3" text-anchor="middle" fill="#231f20" stroke="#231f20">***</text>
<text x="467.1" y="580" font-size="8.5" text-anchor="start" fill="#231f20" stroke="#231f20" textLength="23.1" lengthAdjust="spacingAndGlyphs">Myct1</text>
<line x1="448.5" y1="584.8" x2="448.5" y2="649.6" stroke="#1a1a1a" stroke-width="1.0"/>
<line x1="446.0" y1="588.0" x2="448.5" y2="588.0" stroke="#1a1a1a" stroke-width="1.0"/>
<text x="442.7" y="590.3" font-size="6.3" text-anchor="end" fill="#231f20" stroke="#231f20">2.5</text>
<line x1="446.0" y1="599.6" x2="448.5" y2="599.6" stroke="#1a1a1a" stroke-width="1.0"/>
<text x="442.7" y="601.9" font-size="6.3" text-anchor="end" fill="#231f20" stroke="#231f20">2.0</text>
<line x1="446.0" y1="611.2" x2="448.5" y2="611.2" stroke="#1a1a1a" stroke-width="1.0"/>
<text x="442.7" y="613.5" font-size="6.3" text-anchor="end" fill="#231f20" stroke="#231f20">1.5</text>
<line x1="446.0" y1="622.8" x2="448.5" y2="622.8" stroke="#1a1a1a" stroke-width="1.0"/>
<text x="442.7" y="625.0999999999999" font-size="6.3" text-anchor="end" fill="#231f20" stroke="#231f20">1.0</text>
<line x1="446.0" y1="634.4" x2="448.5" y2="634.4" stroke="#1a1a1a" stroke-width="1.0"/>
<text x="442.7" y="636.6999999999999" font-size="6.3" text-anchor="end" fill="#231f20" stroke="#231f20">0.5</text>
<line x1="446.0" y1="646.0" x2="448.5" y2="646.0" stroke="#1a1a1a" stroke-width="1.0"/>
<text x="442.7" y="648.3" font-size="6.3" text-anchor="end" fill="#231f20" stroke="#231f20">0</text>
<line x1="448.5" y1="649.2" x2="512.3" y2="649.2" stroke="#1a1a1a" stroke-width="0.9"/>
<path d="M457.1 646.00 L457.10 646.00 L463.90 646.00 L462.60 644.84 L460.10 643.22 L458.60 641.59 L458.90 639.04 L459.90 635.56 L460.50 631.85 L459.90 627.44 L458.60 621.87 L458.10 615.84 L457.70 609.58 L457.40 601.92 L457.10 588.00 L457.10 588.00 L456.80 601.92 L456.50 609.58 L456.10 615.84 L455.60 621.87 L454.30 627.44 L453.70 631.85 L454.30 635.56 L455.30 639.04 L455.60 641.59 L454.10 643.22 L451.60 644.84 L450.30 646.00 L457.10 646.00Z" fill="#c8163a" stroke="none" stroke-width="0.8"/>
<path d="M456.7 607.7h0M456.9 608.1h0M457.1 606.9h0M457.1 595.8h0M457.2 602.1h0M457.1 604.4h0M457.0 594.3h0M457.4 606.6h0M457.0 595.3h0M457.1 603.1h0M456.9 598.2h0M456.9 608.9h0M456.8 593.7h0M456.9 601.3h0M456.8 606.1h0M456.8 602.5h0M456.8 608.7h0M457.1 606.8h0M456.7 608.3h0M457.0 601.5h0M456.7 595.7h0M457.0 602.5h0M457.5 608.7h0M456.8 606.0h0M456.8 601.0h0" stroke="#333" stroke-width="0.7" stroke-linecap="round" opacity="0.8"/>
<line x1="457.1" y1="608.88" x2="457.1" y2="588.0" stroke="#555" stroke-width="0.35"/>
<line x1="457.1" y1="649.2" x2="457.1" y2="651" stroke="#1a1a1a" stroke-width="0.8"/>
<path d="M472.5 646.00 L472.50 646.00 L479.30 646.00 L478.00 644.84 L475.50 643.22 L474.10 641.59 L474.90 639.04 L475.60 634.40 L474.90 629.76 L474.00 625.58 L473.60 620.48 L473.30 615.84 L472.90 610.04 L472.50 604.24 L472.50 604.24 L472.10 610.04 L471.70 615.84 L471.40 620.48 L471.00 625.58 L470.10 629.76 L469.40 634.40 L470.10 639.04 L470.90 641.59 L469.50 643.22 L467.00 644.84 L465.70 646.00 L472.50 646.00Z" fill="#1b4f8a" stroke="none" stroke-width="0.8"/>
<line x1="472.5" y1="649.2" x2="472.5" y2="651" stroke="#1a1a1a" stroke-width="0.8"/>
<path d="M488.3 646.00 L488.30 646.00 L495.10 646.00 L493.80 644.84 L491.30 643.22 L489.90 641.59 L490.50 637.88 L491.30 633.24 L491.70 628.14 L490.90 623.96 L489.80 618.16 L489.20 612.36 L488.80 606.56 L488.55 599.60 L488.30 589.16 L488.30 589.16 L488.05 599.60 L487.80 606.56 L487.40 612.36 L486.80 618.16 L485.70 623.96 L484.90 628.14 L485.30 633.24 L486.10 637.88 L486.70 641.59 L485.30 643.22 L482.80 644.84 L481.50 646.00 L488.30 646.00Z" fill="#c8163a" stroke="none" stroke-width="0.8"/>
<path d="M488.2 596.5h0M487.9 605.3h0M488.1 594.3h0M488.3 592.9h0M488.1 589.6h0M488.1 603.5h0M488.4 592.3h0M488.0 601.9h0M488.7 595.3h0M487.9 597.2h0M488.0 606.4h0M487.9 604.7h0M488.4 606.1h0M488.1 590.4h0M488.3 588.6h0M488.6 592.6h0M487.9 589.4h0M488.4 602.6h0M488.0 589.3h0M488.6 602.8h0M488.2 605.4h0M488.4 602.1h0M488.0 589.7h0M488.5 594.0h0M488.3 591.9h0" stroke="#333" stroke-width="0.7" stroke-linecap="round" opacity="0.8"/>
<line x1="488.3" y1="606.56" x2="488.3" y2="588.0" stroke="#555" stroke-width="0.35"/>
<line x1="488.3" y1="649.2" x2="488.3" y2="651" stroke="#1a1a1a" stroke-width="0.8"/>
<path d="M503.7 646.00 L503.70 646.00 L510.50 646.00 L509.20 644.84 L506.70 643.22 L505.70 641.36 L506.10 637.88 L506.60 632.08 L506.80 625.58 L506.30 620.48 L505.70 615.84 L505.00 608.88 L504.50 603.54 L504.10 597.28 L503.70 590.32 L503.70 590.32 L503.30 597.28 L502.90 603.54 L502.40 608.88 L501.70 615.84 L501.10 620.48 L500.60 625.58 L500.80 632.08 L501.30 637.88 L501.70 641.36 L500.70 643.22 L498.20 644.84 L496.90 646.00 L503.70 646.00Z" fill="#1b4f8a" stroke="none" stroke-width="0.8"/>
<path d="M503.6 591.2h0M503.5 596.6h0M503.7 592.9h0M503.4 597.9h0M503.8 593.5h0M503.6 593.6h0M503.4 596.0h0M503.3 593.6h0M503.9 596.2h0M503.4 594.0h0" stroke="#333" stroke-width="0.7" stroke-linecap="round" opacity="0.8"/>
<line x1="503.7" y1="599.6" x2="503.7" y2="590.32" stroke="#555" stroke-width="0.35"/>
<line x1="503.7" y1="649.2" x2="503.7" y2="651" stroke="#1a1a1a" stroke-width="0.8"/>
<text x="457.1" y="660.5" font-size="6.6" text-anchor="middle" fill="#231f20" stroke="#231f20">Ctl</text>
<text x="472.5" y="660.5" font-size="6.6" text-anchor="middle" fill="#231f20" stroke="#231f20">ME</text>
<text x="488.3" y="660.5" font-size="6.6" text-anchor="middle" fill="#231f20" stroke="#231f20">Ctl</text>
<text x="503.7" y="660.5" font-size="6.6" text-anchor="middle" fill="#231f20" stroke="#231f20">ME</text>
<line x1="451.7" y1="663.1" x2="478.7" y2="663.1" stroke="#555" stroke-width="0.7"/>
<line x1="481.9" y1="663.1" x2="509.4" y2="663.1" stroke="#555" stroke-width="0.7"/>
<text x="464.8" y="671.4" font-size="6.6" text-anchor="middle" fill="#231f20" stroke="#231f20">Fetal</text>
<text x="495.6" y="671.4" font-size="6.6" text-anchor="middle" fill="#231f20" stroke="#231f20" textLength="27" lengthAdjust="spacingAndGlyphs">Postnatal</text>
<text x="471.8" y="593.8" font-size="6.3" text-anchor="middle" fill="#231f20" stroke="#231f20">***</text>
<text x="176.6" y="617" font-size="8.2" text-anchor="middle" fill="#231f20" stroke="#231f20" textLength="32.3" lengthAdjust="spacingAndGlyphs" transform="rotate(-90 176.6 617)">Expression</text>
<text x="186.3" y="617" font-size="8.2" text-anchor="middle" fill="#231f20" stroke="#231f20" textLength="46.5" lengthAdjust="spacingAndGlyphs" transform="rotate(-90 186.3 617)">c19 (HSC/MPP)</text>
<rect x="0.5" y="0.5" width="519" height="678" fill="none" stroke="#3a3a3a" stroke-width="1"/>
</svg>
</body></html>
